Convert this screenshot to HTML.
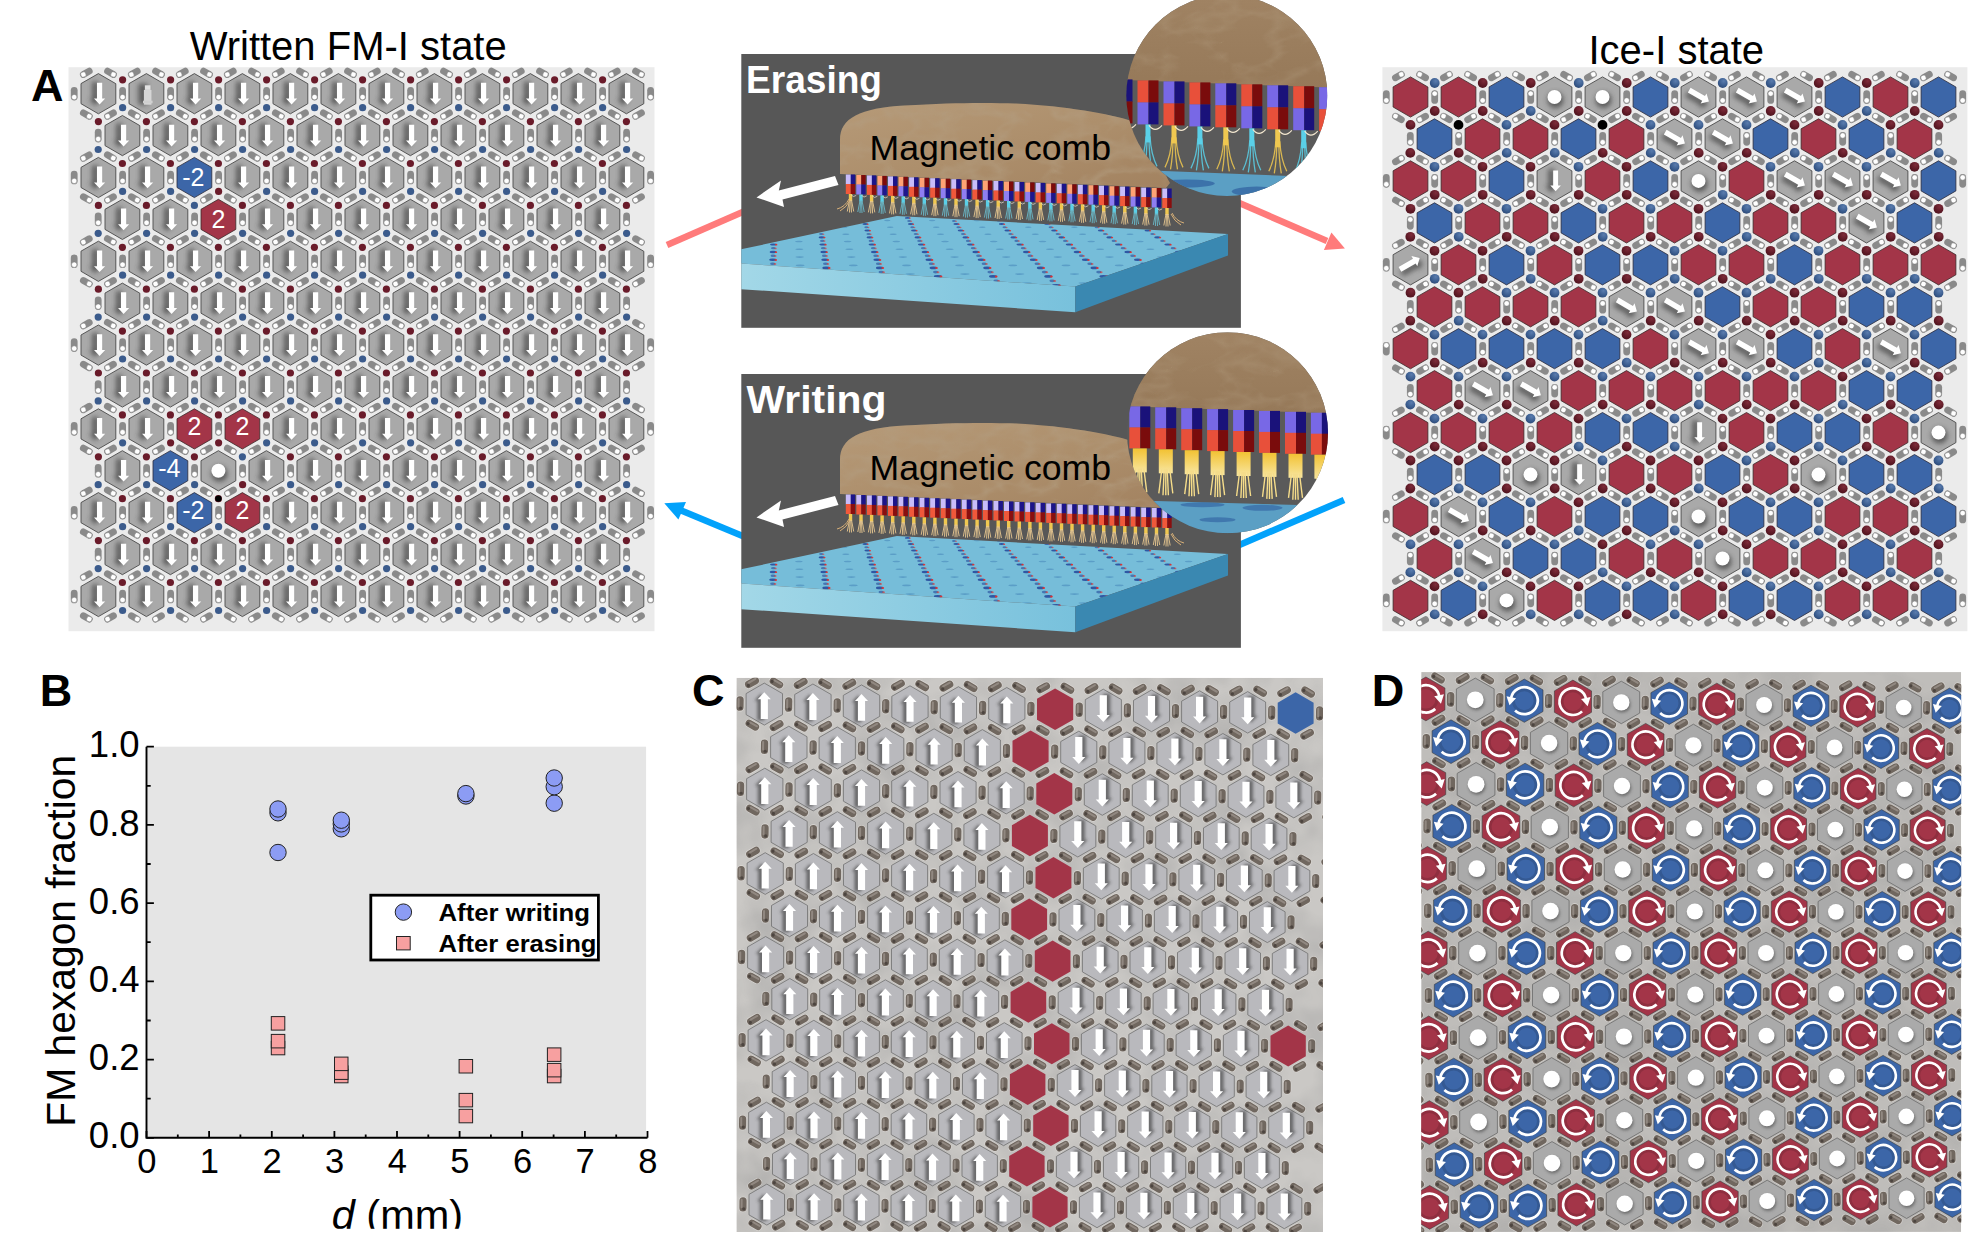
<!DOCTYPE html>
<html><head><meta charset="utf-8"><style>
html,body{margin:0;padding:0;background:#fff;width:1986px;height:1258px;overflow:hidden}
svg{display:block;font-family:"Liberation Sans", sans-serif}
</style></head><body><svg width="1986" height="1258" viewBox="0 0 1986 1258"><defs>
<filter id="blur3" x="-50%" y="-50%" width="200%" height="200%"><feGaussianBlur stdDeviation="2.6"/></filter>
<filter id="blur2" x="-50%" y="-50%" width="200%" height="200%"><feGaussianBlur stdDeviation="1.6"/></filter>
<filter id="blur1" x="-50%" y="-50%" width="200%" height="200%"><feGaussianBlur stdDeviation="0.8"/></filter>
<radialGradient id="sphR" cx="0.6" cy="0.3" r="0.8"><stop offset="0" stop-color="#7e2c3a"/><stop offset="0.6" stop-color="#5e1a26"/><stop offset="1" stop-color="#4a121c"/></radialGradient>
<radialGradient id="sphB" cx="0.6" cy="0.3" r="0.8"><stop offset="0" stop-color="#5a7cae"/><stop offset="0.6" stop-color="#3a5c8e"/><stop offset="1" stop-color="#2a4470"/></radialGradient>

<g id="cap"><rect x="-3.4" y="-6.8" width="6.8" height="13.6" rx="3.4" fill="#8a8a8a"/><circle cx="0" cy="3.4" r="2.7" fill="#fff" stroke="#777" stroke-width="0.5"/></g>
<path id="arrD" d="M-1.4 -10.9H3.8V4.9H6.8L1.2 10.8L-4.4 4.9H-1.4Z"/>
<clipPath id="hexclip"><polygon points="0,-20.1 17.4,-10 17.4,10 0,20.1 -17.4,10 -17.4,-10.1"/></clipPath>
<g id="hexG"><polygon points="0,-20.1 17.4,-10 17.4,10 0,20.1 -17.4,10 -17.4,-10.1" fill="#a9a9a9" stroke="#4a4a4a" stroke-width="0.9"/></g>
<g id="hexAD"><use href="#hexG"/><g clip-path="url(#hexclip)"><use href="#arrD" transform="translate(-4.5 0) scale(1.05 1.1)" fill="#3a3a3a" opacity="0.75" filter="url(#blur3)"/></g><use href="#arrD" fill="#fff"/></g>
<g id="hexDot"><use href="#hexG"/><g clip-path="url(#hexclip)"><circle cx="1" cy="3" r="8" fill="#3a3a3a" opacity="0.7" filter="url(#blur3)"/></g><circle cx="0" cy="0" r="7" fill="#fff"/></g>
<g id="hexR"><polygon points="0,-20.1 17.4,-10 17.4,10 0,20.1 -17.4,10 -17.4,-10.1" fill="#a33548" stroke="#3a2a2a" stroke-width="0.8"/></g>
<g id="hexB"><polygon points="0,-20.1 17.4,-10 17.4,10 0,20.1 -17.4,10 -17.4,-10.1" fill="#3c66a8" stroke="#2a2a3a" stroke-width="0.8"/></g>
<g id="hexSE"><use href="#hexG"/><g clip-path="url(#hexclip)"><use href="#arrD" transform="rotate(-60) translate(-4.5 0) scale(1.05 1.1)" fill="#3a3a3a" opacity="0.75" filter="url(#blur3)"/></g><use href="#arrD" transform="rotate(-60) scale(1.05)" fill="#fff"/></g>
<g id="hexNE"><use href="#hexG"/><g clip-path="url(#hexclip)"><use href="#arrD" transform="rotate(-120) translate(-4.5 0) scale(1.05 1.1)" fill="#3a3a3a" opacity="0.75" filter="url(#blur3)"/></g><use href="#arrD" transform="rotate(-120) scale(1.05)" fill="#fff"/></g>
<g id="hexDn"><use href="#hexG"/><g clip-path="url(#hexclip)"><use href="#arrD" transform="translate(-4.5 0) scale(1.05 1.1)" fill="#3a3a3a" opacity="0.75" filter="url(#blur3)"/></g><use href="#arrD" transform="scale(0.95)" fill="#fff"/></g>

<linearGradient id="ylG" x1="0" y1="0" x2="0" y2="1"><stop offset="0" stop-color="#f2c233"/><stop offset="1" stop-color="#f8e6a0"/></linearGradient>
<linearGradient id="frontG" x1="0" y1="0" x2="1" y2="0"><stop offset="0" stop-color="#a9dbe9"/><stop offset="1" stop-color="#78c1dc"/></linearGradient>
<linearGradient id="woodG" x1="0" y1="0" x2="1" y2="1"><stop offset="0" stop-color="#b69a78"/><stop offset="0.5" stop-color="#ad8f6c"/><stop offset="1" stop-color="#a28260"/></linearGradient>
<linearGradient id="woodG2" x1="0" y1="0" x2="0" y2="1"><stop offset="0" stop-color="#a08363"/><stop offset="1" stop-color="#967959"/></linearGradient>
<filter id="woodT" x="0" y="0" width="100%" height="100%"><feTurbulence type="turbulence" baseFrequency="0.018 0.035" numOctaves="3" seed="9"/><feColorMatrix type="matrix" values="0 0 0 0 0.45  0 0 0 0 0.34  0 0 0 0 0.22  -3 0 0 0 1.05"/><feComposite in2="SourceGraphic" operator="in"/></filter>
<clipPath id="midclip1"><rect x="741.3" y="54" width="499.6" height="273.8"/></clipPath>
<clipPath id="midclip2"><rect x="741.3" y="374" width="499.6" height="273.8"/></clipPath>

<g id="mag"><rect x="-4.3" y="-8" width="8.6" height="16" rx="4.3" fill="#e2e0dc" opacity="0.6"/><rect x="-3.6" y="-7.2" width="7.2" height="14.4" rx="3.6" fill="#70675f"/><rect x="-2.4" y="-5.6" width="2" height="9.5" rx="1" fill="#9a9189" opacity="0.8"/><circle cx="0.8" cy="4.5" r="1.6" fill="#3e3833" opacity="0.7"/></g>
<path id="arrC" d="M-3.6 14.9V-4.9H-6.55L0 -11.9L6.55 -4.9H3.6V14.9Z"/>
<filter id="photoT" x="0" y="0" width="100%" height="100%"><feTurbulence type="fractalNoise" baseFrequency="0.02" numOctaves="3" seed="11"/><feColorMatrix type="matrix" values="0 0 0 0 0.3  0 0 0 0 0.3  0 0 0 0 0.3  0 0 0 -1.6 1.0"/><feComposite in2="SourceGraphic" operator="in"/></filter>
<radialGradient id="ringShade" cx="0.5" cy="0.5" r="0.5"><stop offset="0.6" stop-color="#000" stop-opacity="0"/><stop offset="0.95" stop-color="#000" stop-opacity="0.18"/><stop offset="1" stop-color="#000" stop-opacity="0"/></radialGradient>
<g id="ccw"><circle r="10.8" fill="none" stroke="#000" stroke-opacity="0.12" stroke-width="3" /><path d="M-9.1 9.7 A13.3 13.3 0 1 0 -13 -2.8" fill="none" stroke="#fff" stroke-width="2.7"/><polygon points="-14.6,4.6 -17.5,-4.5 -8.1,-2.5" fill="#fff"/></g><g id="cw"><g transform="scale(-1 1)"><circle r="10.8" fill="none" stroke="#000" stroke-opacity="0.12" stroke-width="3" /><path d="M-9.1 9.7 A13.3 13.3 0 1 0 -13 -2.8" fill="none" stroke="#fff" stroke-width="2.7"/><polygon points="-14.6,4.6 -17.5,-4.5 -8.1,-2.5" fill="#fff"/></g></g></defs><rect x="68.5" y="67.2" width="586" height="564" fill="#ebebeb"/><use href="#cap" transform="translate(110.5 72.8) rotate(-60)"/><use href="#cap" transform="translate(122.6 93.7) rotate(0)"/><use href="#cap" transform="translate(110.5 114.6) rotate(60)"/><use href="#cap" transform="translate(86.3 114.6) rotate(-60)"/><use href="#cap" transform="translate(74.2 93.7) rotate(0)"/><use href="#cap" transform="translate(86.3 72.8) rotate(60)"/><use href="#cap" transform="translate(158.5 72.8) rotate(-60)"/><use href="#cap" transform="translate(170.6 93.7) rotate(0)"/><use href="#cap" transform="translate(158.5 114.6) rotate(60)"/><use href="#cap" transform="translate(134.3 114.6) rotate(-60)"/><use href="#cap" transform="translate(134.3 72.8) rotate(60)"/><use href="#cap" transform="translate(206.5 72.8) rotate(-60)"/><use href="#cap" transform="translate(218.6 93.7) rotate(0)"/><use href="#cap" transform="translate(206.5 114.6) rotate(60)"/><use href="#cap" transform="translate(182.3 114.6) rotate(-60)"/><use href="#cap" transform="translate(182.3 72.8) rotate(60)"/><use href="#cap" transform="translate(254.5 72.8) rotate(-60)"/><use href="#cap" transform="translate(266.6 93.7) rotate(0)"/><use href="#cap" transform="translate(254.5 114.6) rotate(60)"/><use href="#cap" transform="translate(230.3 114.6) rotate(-60)"/><use href="#cap" transform="translate(230.3 72.8) rotate(60)"/><use href="#cap" transform="translate(302.5 72.8) rotate(-60)"/><use href="#cap" transform="translate(314.6 93.7) rotate(0)"/><use href="#cap" transform="translate(302.5 114.6) rotate(60)"/><use href="#cap" transform="translate(278.3 114.6) rotate(-60)"/><use href="#cap" transform="translate(278.3 72.8) rotate(60)"/><use href="#cap" transform="translate(350.5 72.8) rotate(-60)"/><use href="#cap" transform="translate(362.6 93.7) rotate(0)"/><use href="#cap" transform="translate(350.5 114.6) rotate(60)"/><use href="#cap" transform="translate(326.3 114.6) rotate(-60)"/><use href="#cap" transform="translate(326.3 72.8) rotate(60)"/><use href="#cap" transform="translate(398.5 72.8) rotate(-60)"/><use href="#cap" transform="translate(410.6 93.7) rotate(0)"/><use href="#cap" transform="translate(398.5 114.6) rotate(60)"/><use href="#cap" transform="translate(374.3 114.6) rotate(-60)"/><use href="#cap" transform="translate(374.3 72.8) rotate(60)"/><use href="#cap" transform="translate(446.5 72.8) rotate(-60)"/><use href="#cap" transform="translate(458.6 93.7) rotate(0)"/><use href="#cap" transform="translate(446.5 114.6) rotate(60)"/><use href="#cap" transform="translate(422.3 114.6) rotate(-60)"/><use href="#cap" transform="translate(422.3 72.8) rotate(60)"/><use href="#cap" transform="translate(494.5 72.8) rotate(-60)"/><use href="#cap" transform="translate(506.6 93.7) rotate(0)"/><use href="#cap" transform="translate(494.5 114.6) rotate(60)"/><use href="#cap" transform="translate(470.3 114.6) rotate(-60)"/><use href="#cap" transform="translate(470.3 72.8) rotate(60)"/><use href="#cap" transform="translate(542.5 72.8) rotate(-60)"/><use href="#cap" transform="translate(554.6 93.7) rotate(0)"/><use href="#cap" transform="translate(542.5 114.6) rotate(60)"/><use href="#cap" transform="translate(518.3 114.6) rotate(-60)"/><use href="#cap" transform="translate(518.3 72.8) rotate(60)"/><use href="#cap" transform="translate(590.5 72.8) rotate(-60)"/><use href="#cap" transform="translate(602.6 93.7) rotate(0)"/><use href="#cap" transform="translate(590.5 114.6) rotate(60)"/><use href="#cap" transform="translate(566.3 114.6) rotate(-60)"/><use href="#cap" transform="translate(566.3 72.8) rotate(60)"/><use href="#cap" transform="translate(638.5 72.8) rotate(-60)"/><use href="#cap" transform="translate(650.6 93.7) rotate(0)"/><use href="#cap" transform="translate(638.5 114.6) rotate(60)"/><use href="#cap" transform="translate(614.3 114.6) rotate(-60)"/><use href="#cap" transform="translate(614.3 72.8) rotate(60)"/><use href="#cap" transform="translate(146.6 135.6) rotate(0)"/><use href="#cap" transform="translate(134.5 156.5) rotate(60)"/><use href="#cap" transform="translate(110.3 156.5) rotate(-60)"/><use href="#cap" transform="translate(98.2 135.6) rotate(0)"/><use href="#cap" transform="translate(194.6 135.6) rotate(0)"/><use href="#cap" transform="translate(182.5 156.5) rotate(60)"/><use href="#cap" transform="translate(158.3 156.5) rotate(-60)"/><use href="#cap" transform="translate(242.6 135.6) rotate(0)"/><use href="#cap" transform="translate(230.5 156.5) rotate(60)"/><use href="#cap" transform="translate(206.3 156.5) rotate(-60)"/><use href="#cap" transform="translate(290.6 135.6) rotate(0)"/><use href="#cap" transform="translate(278.5 156.5) rotate(60)"/><use href="#cap" transform="translate(254.3 156.5) rotate(-60)"/><use href="#cap" transform="translate(338.6 135.6) rotate(0)"/><use href="#cap" transform="translate(326.5 156.5) rotate(60)"/><use href="#cap" transform="translate(302.3 156.5) rotate(-60)"/><use href="#cap" transform="translate(386.6 135.6) rotate(0)"/><use href="#cap" transform="translate(374.5 156.5) rotate(60)"/><use href="#cap" transform="translate(350.3 156.5) rotate(-60)"/><use href="#cap" transform="translate(434.6 135.6) rotate(0)"/><use href="#cap" transform="translate(422.5 156.5) rotate(60)"/><use href="#cap" transform="translate(398.3 156.5) rotate(-60)"/><use href="#cap" transform="translate(482.6 135.6) rotate(0)"/><use href="#cap" transform="translate(470.5 156.5) rotate(60)"/><use href="#cap" transform="translate(446.3 156.5) rotate(-60)"/><use href="#cap" transform="translate(530.6 135.6) rotate(0)"/><use href="#cap" transform="translate(518.5 156.5) rotate(60)"/><use href="#cap" transform="translate(494.3 156.5) rotate(-60)"/><use href="#cap" transform="translate(578.6 135.6) rotate(0)"/><use href="#cap" transform="translate(566.5 156.5) rotate(60)"/><use href="#cap" transform="translate(542.3 156.5) rotate(-60)"/><use href="#cap" transform="translate(626.6 135.6) rotate(0)"/><use href="#cap" transform="translate(614.5 156.5) rotate(60)"/><use href="#cap" transform="translate(590.3 156.5) rotate(-60)"/><use href="#cap" transform="translate(122.6 177.5) rotate(0)"/><use href="#cap" transform="translate(110.5 198.4) rotate(60)"/><use href="#cap" transform="translate(86.3 198.4) rotate(-60)"/><use href="#cap" transform="translate(74.2 177.5) rotate(0)"/><use href="#cap" transform="translate(86.3 156.6) rotate(60)"/><use href="#cap" transform="translate(170.6 177.5) rotate(0)"/><use href="#cap" transform="translate(158.5 198.4) rotate(60)"/><use href="#cap" transform="translate(134.3 198.4) rotate(-60)"/><use href="#cap" transform="translate(218.6 177.5) rotate(0)"/><use href="#cap" transform="translate(206.5 198.4) rotate(60)"/><use href="#cap" transform="translate(182.3 198.4) rotate(-60)"/><use href="#cap" transform="translate(266.6 177.5) rotate(0)"/><use href="#cap" transform="translate(254.5 198.4) rotate(60)"/><use href="#cap" transform="translate(230.3 198.4) rotate(-60)"/><use href="#cap" transform="translate(314.6 177.5) rotate(0)"/><use href="#cap" transform="translate(302.5 198.4) rotate(60)"/><use href="#cap" transform="translate(278.3 198.4) rotate(-60)"/><use href="#cap" transform="translate(362.6 177.5) rotate(0)"/><use href="#cap" transform="translate(350.5 198.4) rotate(60)"/><use href="#cap" transform="translate(326.3 198.4) rotate(-60)"/><use href="#cap" transform="translate(410.6 177.5) rotate(0)"/><use href="#cap" transform="translate(398.5 198.4) rotate(60)"/><use href="#cap" transform="translate(374.3 198.4) rotate(-60)"/><use href="#cap" transform="translate(458.6 177.5) rotate(0)"/><use href="#cap" transform="translate(446.5 198.4) rotate(60)"/><use href="#cap" transform="translate(422.3 198.4) rotate(-60)"/><use href="#cap" transform="translate(506.6 177.5) rotate(0)"/><use href="#cap" transform="translate(494.5 198.4) rotate(60)"/><use href="#cap" transform="translate(470.3 198.4) rotate(-60)"/><use href="#cap" transform="translate(554.6 177.5) rotate(0)"/><use href="#cap" transform="translate(542.5 198.4) rotate(60)"/><use href="#cap" transform="translate(518.3 198.4) rotate(-60)"/><use href="#cap" transform="translate(602.6 177.5) rotate(0)"/><use href="#cap" transform="translate(590.5 198.4) rotate(60)"/><use href="#cap" transform="translate(566.3 198.4) rotate(-60)"/><use href="#cap" transform="translate(638.5 156.6) rotate(-60)"/><use href="#cap" transform="translate(650.6 177.5) rotate(0)"/><use href="#cap" transform="translate(638.5 198.4) rotate(60)"/><use href="#cap" transform="translate(614.3 198.4) rotate(-60)"/><use href="#cap" transform="translate(146.6 219.4) rotate(0)"/><use href="#cap" transform="translate(134.5 240.3) rotate(60)"/><use href="#cap" transform="translate(110.3 240.3) rotate(-60)"/><use href="#cap" transform="translate(98.2 219.4) rotate(0)"/><use href="#cap" transform="translate(194.6 219.4) rotate(0)"/><use href="#cap" transform="translate(182.5 240.3) rotate(60)"/><use href="#cap" transform="translate(158.3 240.3) rotate(-60)"/><use href="#cap" transform="translate(242.6 219.4) rotate(0)"/><use href="#cap" transform="translate(230.5 240.3) rotate(60)"/><use href="#cap" transform="translate(206.3 240.3) rotate(-60)"/><use href="#cap" transform="translate(290.6 219.4) rotate(0)"/><use href="#cap" transform="translate(278.5 240.3) rotate(60)"/><use href="#cap" transform="translate(254.3 240.3) rotate(-60)"/><use href="#cap" transform="translate(338.6 219.4) rotate(0)"/><use href="#cap" transform="translate(326.5 240.3) rotate(60)"/><use href="#cap" transform="translate(302.3 240.3) rotate(-60)"/><use href="#cap" transform="translate(386.6 219.4) rotate(0)"/><use href="#cap" transform="translate(374.5 240.3) rotate(60)"/><use href="#cap" transform="translate(350.3 240.3) rotate(-60)"/><use href="#cap" transform="translate(434.6 219.4) rotate(0)"/><use href="#cap" transform="translate(422.5 240.3) rotate(60)"/><use href="#cap" transform="translate(398.3 240.3) rotate(-60)"/><use href="#cap" transform="translate(482.6 219.4) rotate(0)"/><use href="#cap" transform="translate(470.5 240.3) rotate(60)"/><use href="#cap" transform="translate(446.3 240.3) rotate(-60)"/><use href="#cap" transform="translate(530.6 219.4) rotate(0)"/><use href="#cap" transform="translate(518.5 240.3) rotate(60)"/><use href="#cap" transform="translate(494.3 240.3) rotate(-60)"/><use href="#cap" transform="translate(578.6 219.4) rotate(0)"/><use href="#cap" transform="translate(566.5 240.3) rotate(60)"/><use href="#cap" transform="translate(542.3 240.3) rotate(-60)"/><use href="#cap" transform="translate(626.6 219.4) rotate(0)"/><use href="#cap" transform="translate(614.5 240.3) rotate(60)"/><use href="#cap" transform="translate(590.3 240.3) rotate(-60)"/><use href="#cap" transform="translate(122.6 261.3) rotate(0)"/><use href="#cap" transform="translate(110.5 282.2) rotate(60)"/><use href="#cap" transform="translate(86.3 282.2) rotate(-60)"/><use href="#cap" transform="translate(74.2 261.3) rotate(0)"/><use href="#cap" transform="translate(86.3 240.4) rotate(60)"/><use href="#cap" transform="translate(170.6 261.3) rotate(0)"/><use href="#cap" transform="translate(158.5 282.2) rotate(60)"/><use href="#cap" transform="translate(134.3 282.2) rotate(-60)"/><use href="#cap" transform="translate(218.6 261.3) rotate(0)"/><use href="#cap" transform="translate(206.5 282.2) rotate(60)"/><use href="#cap" transform="translate(182.3 282.2) rotate(-60)"/><use href="#cap" transform="translate(266.6 261.3) rotate(0)"/><use href="#cap" transform="translate(254.5 282.2) rotate(60)"/><use href="#cap" transform="translate(230.3 282.2) rotate(-60)"/><use href="#cap" transform="translate(314.6 261.3) rotate(0)"/><use href="#cap" transform="translate(302.5 282.2) rotate(60)"/><use href="#cap" transform="translate(278.3 282.2) rotate(-60)"/><use href="#cap" transform="translate(362.6 261.3) rotate(0)"/><use href="#cap" transform="translate(350.5 282.2) rotate(60)"/><use href="#cap" transform="translate(326.3 282.2) rotate(-60)"/><use href="#cap" transform="translate(410.6 261.3) rotate(0)"/><use href="#cap" transform="translate(398.5 282.2) rotate(60)"/><use href="#cap" transform="translate(374.3 282.2) rotate(-60)"/><use href="#cap" transform="translate(458.6 261.3) rotate(0)"/><use href="#cap" transform="translate(446.5 282.2) rotate(60)"/><use href="#cap" transform="translate(422.3 282.2) rotate(-60)"/><use href="#cap" transform="translate(506.6 261.3) rotate(0)"/><use href="#cap" transform="translate(494.5 282.2) rotate(60)"/><use href="#cap" transform="translate(470.3 282.2) rotate(-60)"/><use href="#cap" transform="translate(554.6 261.3) rotate(0)"/><use href="#cap" transform="translate(542.5 282.2) rotate(60)"/><use href="#cap" transform="translate(518.3 282.2) rotate(-60)"/><use href="#cap" transform="translate(602.6 261.3) rotate(0)"/><use href="#cap" transform="translate(590.5 282.2) rotate(60)"/><use href="#cap" transform="translate(566.3 282.2) rotate(-60)"/><use href="#cap" transform="translate(638.5 240.4) rotate(-60)"/><use href="#cap" transform="translate(650.6 261.3) rotate(0)"/><use href="#cap" transform="translate(638.5 282.2) rotate(60)"/><use href="#cap" transform="translate(614.3 282.2) rotate(-60)"/><use href="#cap" transform="translate(146.6 303.2) rotate(0)"/><use href="#cap" transform="translate(134.5 324.1) rotate(60)"/><use href="#cap" transform="translate(110.3 324.1) rotate(-60)"/><use href="#cap" transform="translate(98.2 303.2) rotate(0)"/><use href="#cap" transform="translate(194.6 303.2) rotate(0)"/><use href="#cap" transform="translate(182.5 324.1) rotate(60)"/><use href="#cap" transform="translate(158.3 324.1) rotate(-60)"/><use href="#cap" transform="translate(242.6 303.2) rotate(0)"/><use href="#cap" transform="translate(230.5 324.1) rotate(60)"/><use href="#cap" transform="translate(206.3 324.1) rotate(-60)"/><use href="#cap" transform="translate(290.6 303.2) rotate(0)"/><use href="#cap" transform="translate(278.5 324.1) rotate(60)"/><use href="#cap" transform="translate(254.3 324.1) rotate(-60)"/><use href="#cap" transform="translate(338.6 303.2) rotate(0)"/><use href="#cap" transform="translate(326.5 324.1) rotate(60)"/><use href="#cap" transform="translate(302.3 324.1) rotate(-60)"/><use href="#cap" transform="translate(386.6 303.2) rotate(0)"/><use href="#cap" transform="translate(374.5 324.1) rotate(60)"/><use href="#cap" transform="translate(350.3 324.1) rotate(-60)"/><use href="#cap" transform="translate(434.6 303.2) rotate(0)"/><use href="#cap" transform="translate(422.5 324.1) rotate(60)"/><use href="#cap" transform="translate(398.3 324.1) rotate(-60)"/><use href="#cap" transform="translate(482.6 303.2) rotate(0)"/><use href="#cap" transform="translate(470.5 324.1) rotate(60)"/><use href="#cap" transform="translate(446.3 324.1) rotate(-60)"/><use href="#cap" transform="translate(530.6 303.2) rotate(0)"/><use href="#cap" transform="translate(518.5 324.1) rotate(60)"/><use href="#cap" transform="translate(494.3 324.1) rotate(-60)"/><use href="#cap" transform="translate(578.6 303.2) rotate(0)"/><use href="#cap" transform="translate(566.5 324.1) rotate(60)"/><use href="#cap" transform="translate(542.3 324.1) rotate(-60)"/><use href="#cap" transform="translate(626.6 303.2) rotate(0)"/><use href="#cap" transform="translate(614.5 324.1) rotate(60)"/><use href="#cap" transform="translate(590.3 324.1) rotate(-60)"/><use href="#cap" transform="translate(122.6 345.1) rotate(0)"/><use href="#cap" transform="translate(110.5 366) rotate(60)"/><use href="#cap" transform="translate(86.3 366) rotate(-60)"/><use href="#cap" transform="translate(74.2 345.1) rotate(0)"/><use href="#cap" transform="translate(86.3 324.2) rotate(60)"/><use href="#cap" transform="translate(170.6 345.1) rotate(0)"/><use href="#cap" transform="translate(158.5 366) rotate(60)"/><use href="#cap" transform="translate(134.3 366) rotate(-60)"/><use href="#cap" transform="translate(218.6 345.1) rotate(0)"/><use href="#cap" transform="translate(206.5 366) rotate(60)"/><use href="#cap" transform="translate(182.3 366) rotate(-60)"/><use href="#cap" transform="translate(266.6 345.1) rotate(0)"/><use href="#cap" transform="translate(254.5 366) rotate(60)"/><use href="#cap" transform="translate(230.3 366) rotate(-60)"/><use href="#cap" transform="translate(314.6 345.1) rotate(0)"/><use href="#cap" transform="translate(302.5 366) rotate(60)"/><use href="#cap" transform="translate(278.3 366) rotate(-60)"/><use href="#cap" transform="translate(362.6 345.1) rotate(0)"/><use href="#cap" transform="translate(350.5 366) rotate(60)"/><use href="#cap" transform="translate(326.3 366) rotate(-60)"/><use href="#cap" transform="translate(410.6 345.1) rotate(0)"/><use href="#cap" transform="translate(398.5 366) rotate(60)"/><use href="#cap" transform="translate(374.3 366) rotate(-60)"/><use href="#cap" transform="translate(458.6 345.1) rotate(0)"/><use href="#cap" transform="translate(446.5 366) rotate(60)"/><use href="#cap" transform="translate(422.3 366) rotate(-60)"/><use href="#cap" transform="translate(506.6 345.1) rotate(0)"/><use href="#cap" transform="translate(494.5 366) rotate(60)"/><use href="#cap" transform="translate(470.3 366) rotate(-60)"/><use href="#cap" transform="translate(554.6 345.1) rotate(0)"/><use href="#cap" transform="translate(542.5 366) rotate(60)"/><use href="#cap" transform="translate(518.3 366) rotate(-60)"/><use href="#cap" transform="translate(602.6 345.1) rotate(0)"/><use href="#cap" transform="translate(590.5 366) rotate(60)"/><use href="#cap" transform="translate(566.3 366) rotate(-60)"/><use href="#cap" transform="translate(638.5 324.2) rotate(-60)"/><use href="#cap" transform="translate(650.6 345.1) rotate(0)"/><use href="#cap" transform="translate(638.5 366) rotate(60)"/><use href="#cap" transform="translate(614.3 366) rotate(-60)"/><use href="#cap" transform="translate(146.6 387) rotate(0)"/><use href="#cap" transform="translate(134.5 407.9) rotate(60)"/><use href="#cap" transform="translate(110.3 407.9) rotate(-60)"/><use href="#cap" transform="translate(98.2 387) rotate(0)"/><use href="#cap" transform="translate(194.6 387) rotate(0)"/><use href="#cap" transform="translate(182.5 407.9) rotate(60)"/><use href="#cap" transform="translate(158.3 407.9) rotate(-60)"/><use href="#cap" transform="translate(242.6 387) rotate(0)"/><use href="#cap" transform="translate(230.5 407.9) rotate(60)"/><use href="#cap" transform="translate(206.3 407.9) rotate(-60)"/><use href="#cap" transform="translate(290.6 387) rotate(0)"/><use href="#cap" transform="translate(278.5 407.9) rotate(60)"/><use href="#cap" transform="translate(254.3 407.9) rotate(-60)"/><use href="#cap" transform="translate(338.6 387) rotate(0)"/><use href="#cap" transform="translate(326.5 407.9) rotate(60)"/><use href="#cap" transform="translate(302.3 407.9) rotate(-60)"/><use href="#cap" transform="translate(386.6 387) rotate(0)"/><use href="#cap" transform="translate(374.5 407.9) rotate(60)"/><use href="#cap" transform="translate(350.3 407.9) rotate(-60)"/><use href="#cap" transform="translate(434.6 387) rotate(0)"/><use href="#cap" transform="translate(422.5 407.9) rotate(60)"/><use href="#cap" transform="translate(398.3 407.9) rotate(-60)"/><use href="#cap" transform="translate(482.6 387) rotate(0)"/><use href="#cap" transform="translate(470.5 407.9) rotate(60)"/><use href="#cap" transform="translate(446.3 407.9) rotate(-60)"/><use href="#cap" transform="translate(530.6 387) rotate(0)"/><use href="#cap" transform="translate(518.5 407.9) rotate(60)"/><use href="#cap" transform="translate(494.3 407.9) rotate(-60)"/><use href="#cap" transform="translate(578.6 387) rotate(0)"/><use href="#cap" transform="translate(566.5 407.9) rotate(60)"/><use href="#cap" transform="translate(542.3 407.9) rotate(-60)"/><use href="#cap" transform="translate(626.6 387) rotate(0)"/><use href="#cap" transform="translate(614.5 407.9) rotate(60)"/><use href="#cap" transform="translate(590.3 407.9) rotate(-60)"/><use href="#cap" transform="translate(122.6 428.9) rotate(0)"/><use href="#cap" transform="translate(110.5 449.8) rotate(60)"/><use href="#cap" transform="translate(86.3 449.8) rotate(-60)"/><use href="#cap" transform="translate(74.2 428.9) rotate(0)"/><use href="#cap" transform="translate(86.3 408) rotate(60)"/><use href="#cap" transform="translate(170.6 428.9) rotate(0)"/><use href="#cap" transform="translate(158.5 449.8) rotate(60)"/><use href="#cap" transform="translate(134.3 449.8) rotate(-60)"/><use href="#cap" transform="translate(218.6 428.9) rotate(0)"/><use href="#cap" transform="translate(206.5 449.8) rotate(60)"/><use href="#cap" transform="translate(182.3 449.8) rotate(-60)"/><use href="#cap" transform="translate(266.6 428.9) rotate(0)"/><use href="#cap" transform="translate(254.5 449.8) rotate(60)"/><use href="#cap" transform="translate(230.3 449.8) rotate(-60)"/><use href="#cap" transform="translate(314.6 428.9) rotate(0)"/><use href="#cap" transform="translate(302.5 449.8) rotate(60)"/><use href="#cap" transform="translate(278.3 449.8) rotate(-60)"/><use href="#cap" transform="translate(362.6 428.9) rotate(0)"/><use href="#cap" transform="translate(350.5 449.8) rotate(60)"/><use href="#cap" transform="translate(326.3 449.8) rotate(-60)"/><use href="#cap" transform="translate(410.6 428.9) rotate(0)"/><use href="#cap" transform="translate(398.5 449.8) rotate(60)"/><use href="#cap" transform="translate(374.3 449.8) rotate(-60)"/><use href="#cap" transform="translate(458.6 428.9) rotate(0)"/><use href="#cap" transform="translate(446.5 449.8) rotate(60)"/><use href="#cap" transform="translate(422.3 449.8) rotate(-60)"/><use href="#cap" transform="translate(506.6 428.9) rotate(0)"/><use href="#cap" transform="translate(494.5 449.8) rotate(60)"/><use href="#cap" transform="translate(470.3 449.8) rotate(-60)"/><use href="#cap" transform="translate(554.6 428.9) rotate(0)"/><use href="#cap" transform="translate(542.5 449.8) rotate(60)"/><use href="#cap" transform="translate(518.3 449.8) rotate(-60)"/><use href="#cap" transform="translate(602.6 428.9) rotate(0)"/><use href="#cap" transform="translate(590.5 449.8) rotate(60)"/><use href="#cap" transform="translate(566.3 449.8) rotate(-60)"/><use href="#cap" transform="translate(638.5 408) rotate(-60)"/><use href="#cap" transform="translate(650.6 428.9) rotate(0)"/><use href="#cap" transform="translate(638.5 449.8) rotate(60)"/><use href="#cap" transform="translate(614.3 449.8) rotate(-60)"/><use href="#cap" transform="translate(146.6 470.8) rotate(0)"/><use href="#cap" transform="translate(134.5 491.7) rotate(60)"/><use href="#cap" transform="translate(110.3 491.7) rotate(-60)"/><use href="#cap" transform="translate(98.2 470.8) rotate(0)"/><use href="#cap" transform="translate(194.6 470.8) rotate(0)"/><use href="#cap" transform="translate(182.5 491.7) rotate(60)"/><use href="#cap" transform="translate(158.3 491.7) rotate(-60)"/><use href="#cap" transform="translate(242.6 470.8) rotate(0)"/><use href="#cap" transform="translate(230.5 491.7) rotate(60)"/><use href="#cap" transform="translate(206.3 491.7) rotate(-60)"/><use href="#cap" transform="translate(290.6 470.8) rotate(0)"/><use href="#cap" transform="translate(278.5 491.7) rotate(60)"/><use href="#cap" transform="translate(254.3 491.7) rotate(-60)"/><use href="#cap" transform="translate(338.6 470.8) rotate(0)"/><use href="#cap" transform="translate(326.5 491.7) rotate(60)"/><use href="#cap" transform="translate(302.3 491.7) rotate(-60)"/><use href="#cap" transform="translate(386.6 470.8) rotate(0)"/><use href="#cap" transform="translate(374.5 491.7) rotate(60)"/><use href="#cap" transform="translate(350.3 491.7) rotate(-60)"/><use href="#cap" transform="translate(434.6 470.8) rotate(0)"/><use href="#cap" transform="translate(422.5 491.7) rotate(60)"/><use href="#cap" transform="translate(398.3 491.7) rotate(-60)"/><use href="#cap" transform="translate(482.6 470.8) rotate(0)"/><use href="#cap" transform="translate(470.5 491.7) rotate(60)"/><use href="#cap" transform="translate(446.3 491.7) rotate(-60)"/><use href="#cap" transform="translate(530.6 470.8) rotate(0)"/><use href="#cap" transform="translate(518.5 491.7) rotate(60)"/><use href="#cap" transform="translate(494.3 491.7) rotate(-60)"/><use href="#cap" transform="translate(578.6 470.8) rotate(0)"/><use href="#cap" transform="translate(566.5 491.7) rotate(60)"/><use href="#cap" transform="translate(542.3 491.7) rotate(-60)"/><use href="#cap" transform="translate(626.6 470.8) rotate(0)"/><use href="#cap" transform="translate(614.5 491.7) rotate(60)"/><use href="#cap" transform="translate(590.3 491.7) rotate(-60)"/><use href="#cap" transform="translate(122.6 512.7) rotate(0)"/><use href="#cap" transform="translate(110.5 533.6) rotate(60)"/><use href="#cap" transform="translate(86.3 533.6) rotate(-60)"/><use href="#cap" transform="translate(74.2 512.7) rotate(0)"/><use href="#cap" transform="translate(86.3 491.8) rotate(60)"/><use href="#cap" transform="translate(170.6 512.7) rotate(0)"/><use href="#cap" transform="translate(158.5 533.6) rotate(60)"/><use href="#cap" transform="translate(134.3 533.6) rotate(-60)"/><use href="#cap" transform="translate(218.6 512.7) rotate(0)"/><use href="#cap" transform="translate(206.5 533.6) rotate(60)"/><use href="#cap" transform="translate(182.3 533.6) rotate(-60)"/><use href="#cap" transform="translate(266.6 512.7) rotate(0)"/><use href="#cap" transform="translate(254.5 533.6) rotate(60)"/><use href="#cap" transform="translate(230.3 533.6) rotate(-60)"/><use href="#cap" transform="translate(314.6 512.7) rotate(0)"/><use href="#cap" transform="translate(302.5 533.6) rotate(60)"/><use href="#cap" transform="translate(278.3 533.6) rotate(-60)"/><use href="#cap" transform="translate(362.6 512.7) rotate(0)"/><use href="#cap" transform="translate(350.5 533.6) rotate(60)"/><use href="#cap" transform="translate(326.3 533.6) rotate(-60)"/><use href="#cap" transform="translate(410.6 512.7) rotate(0)"/><use href="#cap" transform="translate(398.5 533.6) rotate(60)"/><use href="#cap" transform="translate(374.3 533.6) rotate(-60)"/><use href="#cap" transform="translate(458.6 512.7) rotate(0)"/><use href="#cap" transform="translate(446.5 533.6) rotate(60)"/><use href="#cap" transform="translate(422.3 533.6) rotate(-60)"/><use href="#cap" transform="translate(506.6 512.7) rotate(0)"/><use href="#cap" transform="translate(494.5 533.6) rotate(60)"/><use href="#cap" transform="translate(470.3 533.6) rotate(-60)"/><use href="#cap" transform="translate(554.6 512.7) rotate(0)"/><use href="#cap" transform="translate(542.5 533.6) rotate(60)"/><use href="#cap" transform="translate(518.3 533.6) rotate(-60)"/><use href="#cap" transform="translate(602.6 512.7) rotate(0)"/><use href="#cap" transform="translate(590.5 533.6) rotate(60)"/><use href="#cap" transform="translate(566.3 533.6) rotate(-60)"/><use href="#cap" transform="translate(638.5 491.8) rotate(-60)"/><use href="#cap" transform="translate(650.6 512.7) rotate(0)"/><use href="#cap" transform="translate(638.5 533.6) rotate(60)"/><use href="#cap" transform="translate(614.3 533.6) rotate(-60)"/><use href="#cap" transform="translate(146.6 554.6) rotate(0)"/><use href="#cap" transform="translate(134.5 575.5) rotate(60)"/><use href="#cap" transform="translate(110.3 575.5) rotate(-60)"/><use href="#cap" transform="translate(98.2 554.6) rotate(0)"/><use href="#cap" transform="translate(194.6 554.6) rotate(0)"/><use href="#cap" transform="translate(182.5 575.5) rotate(60)"/><use href="#cap" transform="translate(158.3 575.5) rotate(-60)"/><use href="#cap" transform="translate(242.6 554.6) rotate(0)"/><use href="#cap" transform="translate(230.5 575.5) rotate(60)"/><use href="#cap" transform="translate(206.3 575.5) rotate(-60)"/><use href="#cap" transform="translate(290.6 554.6) rotate(0)"/><use href="#cap" transform="translate(278.5 575.5) rotate(60)"/><use href="#cap" transform="translate(254.3 575.5) rotate(-60)"/><use href="#cap" transform="translate(338.6 554.6) rotate(0)"/><use href="#cap" transform="translate(326.5 575.5) rotate(60)"/><use href="#cap" transform="translate(302.3 575.5) rotate(-60)"/><use href="#cap" transform="translate(386.6 554.6) rotate(0)"/><use href="#cap" transform="translate(374.5 575.5) rotate(60)"/><use href="#cap" transform="translate(350.3 575.5) rotate(-60)"/><use href="#cap" transform="translate(434.6 554.6) rotate(0)"/><use href="#cap" transform="translate(422.5 575.5) rotate(60)"/><use href="#cap" transform="translate(398.3 575.5) rotate(-60)"/><use href="#cap" transform="translate(482.6 554.6) rotate(0)"/><use href="#cap" transform="translate(470.5 575.5) rotate(60)"/><use href="#cap" transform="translate(446.3 575.5) rotate(-60)"/><use href="#cap" transform="translate(530.6 554.6) rotate(0)"/><use href="#cap" transform="translate(518.5 575.5) rotate(60)"/><use href="#cap" transform="translate(494.3 575.5) rotate(-60)"/><use href="#cap" transform="translate(578.6 554.6) rotate(0)"/><use href="#cap" transform="translate(566.5 575.5) rotate(60)"/><use href="#cap" transform="translate(542.3 575.5) rotate(-60)"/><use href="#cap" transform="translate(626.6 554.6) rotate(0)"/><use href="#cap" transform="translate(614.5 575.5) rotate(60)"/><use href="#cap" transform="translate(590.3 575.5) rotate(-60)"/><use href="#cap" transform="translate(122.6 596.5) rotate(0)"/><use href="#cap" transform="translate(110.5 617.4) rotate(60)"/><use href="#cap" transform="translate(86.3 617.4) rotate(-60)"/><use href="#cap" transform="translate(74.2 596.5) rotate(0)"/><use href="#cap" transform="translate(86.3 575.6) rotate(60)"/><use href="#cap" transform="translate(170.6 596.5) rotate(0)"/><use href="#cap" transform="translate(158.5 617.4) rotate(60)"/><use href="#cap" transform="translate(134.3 617.4) rotate(-60)"/><use href="#cap" transform="translate(218.6 596.5) rotate(0)"/><use href="#cap" transform="translate(206.5 617.4) rotate(60)"/><use href="#cap" transform="translate(182.3 617.4) rotate(-60)"/><use href="#cap" transform="translate(266.6 596.5) rotate(0)"/><use href="#cap" transform="translate(254.5 617.4) rotate(60)"/><use href="#cap" transform="translate(230.3 617.4) rotate(-60)"/><use href="#cap" transform="translate(314.6 596.5) rotate(0)"/><use href="#cap" transform="translate(302.5 617.4) rotate(60)"/><use href="#cap" transform="translate(278.3 617.4) rotate(-60)"/><use href="#cap" transform="translate(362.6 596.5) rotate(0)"/><use href="#cap" transform="translate(350.5 617.4) rotate(60)"/><use href="#cap" transform="translate(326.3 617.4) rotate(-60)"/><use href="#cap" transform="translate(410.6 596.5) rotate(0)"/><use href="#cap" transform="translate(398.5 617.4) rotate(60)"/><use href="#cap" transform="translate(374.3 617.4) rotate(-60)"/><use href="#cap" transform="translate(458.6 596.5) rotate(0)"/><use href="#cap" transform="translate(446.5 617.4) rotate(60)"/><use href="#cap" transform="translate(422.3 617.4) rotate(-60)"/><use href="#cap" transform="translate(506.6 596.5) rotate(0)"/><use href="#cap" transform="translate(494.5 617.4) rotate(60)"/><use href="#cap" transform="translate(470.3 617.4) rotate(-60)"/><use href="#cap" transform="translate(554.6 596.5) rotate(0)"/><use href="#cap" transform="translate(542.5 617.4) rotate(60)"/><use href="#cap" transform="translate(518.3 617.4) rotate(-60)"/><use href="#cap" transform="translate(602.6 596.5) rotate(0)"/><use href="#cap" transform="translate(590.5 617.4) rotate(60)"/><use href="#cap" transform="translate(566.3 617.4) rotate(-60)"/><use href="#cap" transform="translate(638.5 575.6) rotate(-60)"/><use href="#cap" transform="translate(650.6 596.5) rotate(0)"/><use href="#cap" transform="translate(638.5 617.4) rotate(60)"/><use href="#cap" transform="translate(614.3 617.4) rotate(-60)"/><circle cx="122.6" cy="79.8" r="3.6" fill="#6a1b2a"/><circle cx="122.6" cy="107.7" r="3.6" fill="#3b5b8c"/><circle cx="98.4" cy="121.6" r="3.6" fill="#6a1b2a"/><circle cx="170.6" cy="79.8" r="3.6" fill="#6a1b2a"/><circle cx="170.6" cy="107.7" r="3.6" fill="#3b5b8c"/><circle cx="146.4" cy="121.6" r="3.6" fill="#6a1b2a"/><circle cx="218.6" cy="79.8" r="3.6" fill="#6a1b2a"/><circle cx="218.6" cy="107.7" r="3.6" fill="#3b5b8c"/><circle cx="194.4" cy="121.6" r="3.6" fill="#6a1b2a"/><circle cx="266.6" cy="79.8" r="3.6" fill="#6a1b2a"/><circle cx="266.6" cy="107.7" r="3.6" fill="#3b5b8c"/><circle cx="242.4" cy="121.6" r="3.6" fill="#6a1b2a"/><circle cx="314.6" cy="79.8" r="3.6" fill="#6a1b2a"/><circle cx="314.6" cy="107.7" r="3.6" fill="#3b5b8c"/><circle cx="290.4" cy="121.6" r="3.6" fill="#6a1b2a"/><circle cx="362.6" cy="79.8" r="3.6" fill="#6a1b2a"/><circle cx="362.6" cy="107.7" r="3.6" fill="#3b5b8c"/><circle cx="338.4" cy="121.6" r="3.6" fill="#6a1b2a"/><circle cx="410.6" cy="79.8" r="3.6" fill="#6a1b2a"/><circle cx="410.6" cy="107.7" r="3.6" fill="#3b5b8c"/><circle cx="386.4" cy="121.6" r="3.6" fill="#6a1b2a"/><circle cx="458.6" cy="79.8" r="3.6" fill="#6a1b2a"/><circle cx="458.6" cy="107.7" r="3.6" fill="#3b5b8c"/><circle cx="434.4" cy="121.6" r="3.6" fill="#6a1b2a"/><circle cx="506.6" cy="79.8" r="3.6" fill="#6a1b2a"/><circle cx="506.6" cy="107.7" r="3.6" fill="#3b5b8c"/><circle cx="482.4" cy="121.6" r="3.6" fill="#6a1b2a"/><circle cx="554.6" cy="79.8" r="3.6" fill="#6a1b2a"/><circle cx="554.6" cy="107.7" r="3.6" fill="#3b5b8c"/><circle cx="530.4" cy="121.6" r="3.6" fill="#6a1b2a"/><circle cx="602.6" cy="79.8" r="3.6" fill="#6a1b2a"/><circle cx="602.6" cy="107.7" r="3.6" fill="#3b5b8c"/><circle cx="578.4" cy="121.6" r="3.6" fill="#6a1b2a"/><circle cx="626.4" cy="121.6" r="3.6" fill="#6a1b2a"/><circle cx="146.6" cy="149.5" r="3.6" fill="#3b5b8c"/><circle cx="122.4" cy="163.5" r="3.6" fill="#6a1b2a"/><circle cx="98.2" cy="149.5" r="3.6" fill="#3b5b8c"/><circle cx="194.6" cy="149.5" r="3.6" fill="#3b5b8c"/><circle cx="170.4" cy="163.5" r="3.6" fill="#6a1b2a"/><circle cx="242.6" cy="149.5" r="3.6" fill="#3b5b8c"/><circle cx="218.4" cy="163.5" r="3.6" fill="#6a1b2a"/><circle cx="290.6" cy="149.5" r="3.6" fill="#3b5b8c"/><circle cx="266.4" cy="163.5" r="3.6" fill="#6a1b2a"/><circle cx="338.6" cy="149.5" r="3.6" fill="#3b5b8c"/><circle cx="314.4" cy="163.5" r="3.6" fill="#6a1b2a"/><circle cx="386.6" cy="149.5" r="3.6" fill="#3b5b8c"/><circle cx="362.4" cy="163.5" r="3.6" fill="#6a1b2a"/><circle cx="434.6" cy="149.5" r="3.6" fill="#3b5b8c"/><circle cx="410.4" cy="163.5" r="3.6" fill="#6a1b2a"/><circle cx="482.6" cy="149.5" r="3.6" fill="#3b5b8c"/><circle cx="458.4" cy="163.5" r="3.6" fill="#6a1b2a"/><circle cx="530.6" cy="149.5" r="3.6" fill="#3b5b8c"/><circle cx="506.4" cy="163.5" r="3.6" fill="#6a1b2a"/><circle cx="578.6" cy="149.5" r="3.6" fill="#3b5b8c"/><circle cx="554.4" cy="163.5" r="3.6" fill="#6a1b2a"/><circle cx="626.6" cy="149.5" r="3.6" fill="#3b5b8c"/><circle cx="602.4" cy="163.5" r="3.6" fill="#6a1b2a"/><circle cx="122.6" cy="191.4" r="3.6" fill="#3b5b8c"/><circle cx="98.4" cy="205.4" r="3.6" fill="#6a1b2a"/><circle cx="170.6" cy="191.4" r="3.6" fill="#3b5b8c"/><circle cx="146.4" cy="205.4" r="3.6" fill="#6a1b2a"/><circle cx="218.6" cy="191.4" r="3.6" fill="#6a1b2a"/><circle cx="194.4" cy="205.4" r="3.6" fill="#3b5b8c"/><circle cx="266.6" cy="191.4" r="3.6" fill="#3b5b8c"/><circle cx="242.4" cy="205.4" r="3.6" fill="#6a1b2a"/><circle cx="314.6" cy="191.4" r="3.6" fill="#3b5b8c"/><circle cx="290.4" cy="205.4" r="3.6" fill="#6a1b2a"/><circle cx="362.6" cy="191.4" r="3.6" fill="#3b5b8c"/><circle cx="338.4" cy="205.4" r="3.6" fill="#6a1b2a"/><circle cx="410.6" cy="191.4" r="3.6" fill="#3b5b8c"/><circle cx="386.4" cy="205.4" r="3.6" fill="#6a1b2a"/><circle cx="458.6" cy="191.4" r="3.6" fill="#3b5b8c"/><circle cx="434.4" cy="205.4" r="3.6" fill="#6a1b2a"/><circle cx="506.6" cy="191.4" r="3.6" fill="#3b5b8c"/><circle cx="482.4" cy="205.4" r="3.6" fill="#6a1b2a"/><circle cx="554.6" cy="191.4" r="3.6" fill="#3b5b8c"/><circle cx="530.4" cy="205.4" r="3.6" fill="#6a1b2a"/><circle cx="602.6" cy="191.4" r="3.6" fill="#3b5b8c"/><circle cx="578.4" cy="205.4" r="3.6" fill="#6a1b2a"/><circle cx="626.4" cy="205.4" r="3.6" fill="#6a1b2a"/><circle cx="146.6" cy="233.3" r="3.6" fill="#3b5b8c"/><circle cx="122.4" cy="247.3" r="3.6" fill="#6a1b2a"/><circle cx="98.2" cy="233.3" r="3.6" fill="#3b5b8c"/><circle cx="194.6" cy="233.3" r="3.6" fill="#3b5b8c"/><circle cx="170.4" cy="247.3" r="3.6" fill="#6a1b2a"/><circle cx="242.6" cy="233.3" r="3.6" fill="#3b5b8c"/><circle cx="218.4" cy="247.3" r="3.6" fill="#6a1b2a"/><circle cx="290.6" cy="233.3" r="3.6" fill="#3b5b8c"/><circle cx="266.4" cy="247.3" r="3.6" fill="#6a1b2a"/><circle cx="338.6" cy="233.3" r="3.6" fill="#3b5b8c"/><circle cx="314.4" cy="247.3" r="3.6" fill="#6a1b2a"/><circle cx="386.6" cy="233.3" r="3.6" fill="#3b5b8c"/><circle cx="362.4" cy="247.3" r="3.6" fill="#6a1b2a"/><circle cx="434.6" cy="233.3" r="3.6" fill="#3b5b8c"/><circle cx="410.4" cy="247.3" r="3.6" fill="#6a1b2a"/><circle cx="482.6" cy="233.3" r="3.6" fill="#3b5b8c"/><circle cx="458.4" cy="247.3" r="3.6" fill="#6a1b2a"/><circle cx="530.6" cy="233.3" r="3.6" fill="#3b5b8c"/><circle cx="506.4" cy="247.3" r="3.6" fill="#6a1b2a"/><circle cx="578.6" cy="233.3" r="3.6" fill="#3b5b8c"/><circle cx="554.4" cy="247.3" r="3.6" fill="#6a1b2a"/><circle cx="626.6" cy="233.3" r="3.6" fill="#3b5b8c"/><circle cx="602.4" cy="247.3" r="3.6" fill="#6a1b2a"/><circle cx="122.6" cy="275.2" r="3.6" fill="#3b5b8c"/><circle cx="98.4" cy="289.2" r="3.6" fill="#6a1b2a"/><circle cx="170.6" cy="275.2" r="3.6" fill="#3b5b8c"/><circle cx="146.4" cy="289.2" r="3.6" fill="#6a1b2a"/><circle cx="218.6" cy="275.2" r="3.6" fill="#3b5b8c"/><circle cx="194.4" cy="289.2" r="3.6" fill="#6a1b2a"/><circle cx="266.6" cy="275.2" r="3.6" fill="#3b5b8c"/><circle cx="242.4" cy="289.2" r="3.6" fill="#6a1b2a"/><circle cx="314.6" cy="275.2" r="3.6" fill="#3b5b8c"/><circle cx="290.4" cy="289.2" r="3.6" fill="#6a1b2a"/><circle cx="362.6" cy="275.2" r="3.6" fill="#3b5b8c"/><circle cx="338.4" cy="289.2" r="3.6" fill="#6a1b2a"/><circle cx="410.6" cy="275.2" r="3.6" fill="#3b5b8c"/><circle cx="386.4" cy="289.2" r="3.6" fill="#6a1b2a"/><circle cx="458.6" cy="275.2" r="3.6" fill="#3b5b8c"/><circle cx="434.4" cy="289.2" r="3.6" fill="#6a1b2a"/><circle cx="506.6" cy="275.2" r="3.6" fill="#3b5b8c"/><circle cx="482.4" cy="289.2" r="3.6" fill="#6a1b2a"/><circle cx="554.6" cy="275.2" r="3.6" fill="#3b5b8c"/><circle cx="530.4" cy="289.2" r="3.6" fill="#6a1b2a"/><circle cx="602.6" cy="275.2" r="3.6" fill="#3b5b8c"/><circle cx="578.4" cy="289.2" r="3.6" fill="#6a1b2a"/><circle cx="626.4" cy="289.2" r="3.6" fill="#6a1b2a"/><circle cx="146.6" cy="317.1" r="3.6" fill="#3b5b8c"/><circle cx="122.4" cy="331.1" r="3.6" fill="#6a1b2a"/><circle cx="98.2" cy="317.1" r="3.6" fill="#3b5b8c"/><circle cx="194.6" cy="317.1" r="3.6" fill="#3b5b8c"/><circle cx="170.4" cy="331.1" r="3.6" fill="#6a1b2a"/><circle cx="242.6" cy="317.1" r="3.6" fill="#3b5b8c"/><circle cx="218.4" cy="331.1" r="3.6" fill="#6a1b2a"/><circle cx="290.6" cy="317.1" r="3.6" fill="#3b5b8c"/><circle cx="266.4" cy="331.1" r="3.6" fill="#6a1b2a"/><circle cx="338.6" cy="317.1" r="3.6" fill="#3b5b8c"/><circle cx="314.4" cy="331.1" r="3.6" fill="#6a1b2a"/><circle cx="386.6" cy="317.1" r="3.6" fill="#3b5b8c"/><circle cx="362.4" cy="331.1" r="3.6" fill="#6a1b2a"/><circle cx="434.6" cy="317.1" r="3.6" fill="#3b5b8c"/><circle cx="410.4" cy="331.1" r="3.6" fill="#6a1b2a"/><circle cx="482.6" cy="317.1" r="3.6" fill="#3b5b8c"/><circle cx="458.4" cy="331.1" r="3.6" fill="#6a1b2a"/><circle cx="530.6" cy="317.1" r="3.6" fill="#3b5b8c"/><circle cx="506.4" cy="331.1" r="3.6" fill="#6a1b2a"/><circle cx="578.6" cy="317.1" r="3.6" fill="#3b5b8c"/><circle cx="554.4" cy="331.1" r="3.6" fill="#6a1b2a"/><circle cx="626.6" cy="317.1" r="3.6" fill="#3b5b8c"/><circle cx="602.4" cy="331.1" r="3.6" fill="#6a1b2a"/><circle cx="122.6" cy="359" r="3.6" fill="#3b5b8c"/><circle cx="98.4" cy="373" r="3.6" fill="#6a1b2a"/><circle cx="170.6" cy="359" r="3.6" fill="#3b5b8c"/><circle cx="146.4" cy="373" r="3.6" fill="#6a1b2a"/><circle cx="218.6" cy="359" r="3.6" fill="#3b5b8c"/><circle cx="194.4" cy="373" r="3.6" fill="#6a1b2a"/><circle cx="266.6" cy="359" r="3.6" fill="#3b5b8c"/><circle cx="242.4" cy="373" r="3.6" fill="#6a1b2a"/><circle cx="314.6" cy="359" r="3.6" fill="#3b5b8c"/><circle cx="290.4" cy="373" r="3.6" fill="#6a1b2a"/><circle cx="362.6" cy="359" r="3.6" fill="#3b5b8c"/><circle cx="338.4" cy="373" r="3.6" fill="#6a1b2a"/><circle cx="410.6" cy="359" r="3.6" fill="#3b5b8c"/><circle cx="386.4" cy="373" r="3.6" fill="#6a1b2a"/><circle cx="458.6" cy="359" r="3.6" fill="#3b5b8c"/><circle cx="434.4" cy="373" r="3.6" fill="#6a1b2a"/><circle cx="506.6" cy="359" r="3.6" fill="#3b5b8c"/><circle cx="482.4" cy="373" r="3.6" fill="#6a1b2a"/><circle cx="554.6" cy="359" r="3.6" fill="#3b5b8c"/><circle cx="530.4" cy="373" r="3.6" fill="#6a1b2a"/><circle cx="602.6" cy="359" r="3.6" fill="#3b5b8c"/><circle cx="578.4" cy="373" r="3.6" fill="#6a1b2a"/><circle cx="626.4" cy="373" r="3.6" fill="#6a1b2a"/><circle cx="146.6" cy="400.9" r="3.6" fill="#3b5b8c"/><circle cx="122.4" cy="414.9" r="3.6" fill="#6a1b2a"/><circle cx="98.2" cy="400.9" r="3.6" fill="#3b5b8c"/><circle cx="194.6" cy="400.9" r="3.6" fill="#3b5b8c"/><circle cx="170.4" cy="414.9" r="3.6" fill="#6a1b2a"/><circle cx="242.6" cy="400.9" r="3.6" fill="#3b5b8c"/><circle cx="218.4" cy="414.9" r="3.6" fill="#6a1b2a"/><circle cx="290.6" cy="400.9" r="3.6" fill="#3b5b8c"/><circle cx="266.4" cy="414.9" r="3.6" fill="#6a1b2a"/><circle cx="338.6" cy="400.9" r="3.6" fill="#3b5b8c"/><circle cx="314.4" cy="414.9" r="3.6" fill="#6a1b2a"/><circle cx="386.6" cy="400.9" r="3.6" fill="#3b5b8c"/><circle cx="362.4" cy="414.9" r="3.6" fill="#6a1b2a"/><circle cx="434.6" cy="400.9" r="3.6" fill="#3b5b8c"/><circle cx="410.4" cy="414.9" r="3.6" fill="#6a1b2a"/><circle cx="482.6" cy="400.9" r="3.6" fill="#3b5b8c"/><circle cx="458.4" cy="414.9" r="3.6" fill="#6a1b2a"/><circle cx="530.6" cy="400.9" r="3.6" fill="#3b5b8c"/><circle cx="506.4" cy="414.9" r="3.6" fill="#6a1b2a"/><circle cx="578.6" cy="400.9" r="3.6" fill="#3b5b8c"/><circle cx="554.4" cy="414.9" r="3.6" fill="#6a1b2a"/><circle cx="626.6" cy="400.9" r="3.6" fill="#3b5b8c"/><circle cx="602.4" cy="414.9" r="3.6" fill="#6a1b2a"/><circle cx="122.6" cy="442.8" r="3.6" fill="#3b5b8c"/><circle cx="98.4" cy="456.8" r="3.6" fill="#6a1b2a"/><circle cx="170.6" cy="442.8" r="3.6" fill="#6a1b2a"/><circle cx="146.4" cy="456.8" r="3.6" fill="#6a1b2a"/><circle cx="218.6" cy="442.8" r="3.6" fill="#6a1b2a"/><circle cx="194.4" cy="456.8" r="3.6" fill="#6a1b2a"/><circle cx="266.6" cy="442.8" r="3.6" fill="#3b5b8c"/><circle cx="242.4" cy="456.8" r="3.6" fill="#3b5b8c"/><circle cx="314.6" cy="442.8" r="3.6" fill="#3b5b8c"/><circle cx="290.4" cy="456.8" r="3.6" fill="#6a1b2a"/><circle cx="362.6" cy="442.8" r="3.6" fill="#3b5b8c"/><circle cx="338.4" cy="456.8" r="3.6" fill="#6a1b2a"/><circle cx="410.6" cy="442.8" r="3.6" fill="#3b5b8c"/><circle cx="386.4" cy="456.8" r="3.6" fill="#6a1b2a"/><circle cx="458.6" cy="442.8" r="3.6" fill="#3b5b8c"/><circle cx="434.4" cy="456.8" r="3.6" fill="#6a1b2a"/><circle cx="506.6" cy="442.8" r="3.6" fill="#3b5b8c"/><circle cx="482.4" cy="456.8" r="3.6" fill="#6a1b2a"/><circle cx="554.6" cy="442.8" r="3.6" fill="#3b5b8c"/><circle cx="530.4" cy="456.8" r="3.6" fill="#6a1b2a"/><circle cx="602.6" cy="442.8" r="3.6" fill="#3b5b8c"/><circle cx="578.4" cy="456.8" r="3.6" fill="#6a1b2a"/><circle cx="626.4" cy="456.8" r="3.6" fill="#6a1b2a"/><circle cx="146.6" cy="484.7" r="3.6" fill="#3b5b8c"/><circle cx="122.4" cy="498.7" r="3.6" fill="#6a1b2a"/><circle cx="98.2" cy="484.7" r="3.6" fill="#3b5b8c"/><circle cx="194.6" cy="484.7" r="3.6" fill="#3b5b8c"/><circle cx="170.4" cy="498.7" r="3.6" fill="#6a1b2a"/><circle cx="242.6" cy="484.7" r="3.6" fill="#6a1b2a"/><circle cx="218.4" cy="498.7" r="3.6" fill="#6a1b2a"/><circle cx="290.6" cy="484.7" r="3.6" fill="#3b5b8c"/><circle cx="266.4" cy="498.7" r="3.6" fill="#6a1b2a"/><circle cx="338.6" cy="484.7" r="3.6" fill="#3b5b8c"/><circle cx="314.4" cy="498.7" r="3.6" fill="#6a1b2a"/><circle cx="386.6" cy="484.7" r="3.6" fill="#3b5b8c"/><circle cx="362.4" cy="498.7" r="3.6" fill="#6a1b2a"/><circle cx="434.6" cy="484.7" r="3.6" fill="#3b5b8c"/><circle cx="410.4" cy="498.7" r="3.6" fill="#6a1b2a"/><circle cx="482.6" cy="484.7" r="3.6" fill="#3b5b8c"/><circle cx="458.4" cy="498.7" r="3.6" fill="#6a1b2a"/><circle cx="530.6" cy="484.7" r="3.6" fill="#3b5b8c"/><circle cx="506.4" cy="498.7" r="3.6" fill="#6a1b2a"/><circle cx="578.6" cy="484.7" r="3.6" fill="#3b5b8c"/><circle cx="554.4" cy="498.7" r="3.6" fill="#6a1b2a"/><circle cx="626.6" cy="484.7" r="3.6" fill="#3b5b8c"/><circle cx="602.4" cy="498.7" r="3.6" fill="#6a1b2a"/><circle cx="122.6" cy="526.7" r="3.6" fill="#3b5b8c"/><circle cx="98.4" cy="540.6" r="3.6" fill="#6a1b2a"/><circle cx="170.6" cy="526.7" r="3.6" fill="#3b5b8c"/><circle cx="146.4" cy="540.6" r="3.6" fill="#6a1b2a"/><circle cx="218.6" cy="526.7" r="3.6" fill="#3b5b8c"/><circle cx="194.4" cy="540.6" r="3.6" fill="#6a1b2a"/><circle cx="266.6" cy="526.7" r="3.6" fill="#3b5b8c"/><circle cx="242.4" cy="540.6" r="3.6" fill="#6a1b2a"/><circle cx="314.6" cy="526.7" r="3.6" fill="#3b5b8c"/><circle cx="290.4" cy="540.6" r="3.6" fill="#6a1b2a"/><circle cx="362.6" cy="526.7" r="3.6" fill="#3b5b8c"/><circle cx="338.4" cy="540.6" r="3.6" fill="#6a1b2a"/><circle cx="410.6" cy="526.7" r="3.6" fill="#3b5b8c"/><circle cx="386.4" cy="540.6" r="3.6" fill="#6a1b2a"/><circle cx="458.6" cy="526.7" r="3.6" fill="#3b5b8c"/><circle cx="434.4" cy="540.6" r="3.6" fill="#6a1b2a"/><circle cx="506.6" cy="526.7" r="3.6" fill="#3b5b8c"/><circle cx="482.4" cy="540.6" r="3.6" fill="#6a1b2a"/><circle cx="554.6" cy="526.7" r="3.6" fill="#3b5b8c"/><circle cx="530.4" cy="540.6" r="3.6" fill="#6a1b2a"/><circle cx="602.6" cy="526.7" r="3.6" fill="#3b5b8c"/><circle cx="578.4" cy="540.6" r="3.6" fill="#6a1b2a"/><circle cx="626.4" cy="540.6" r="3.6" fill="#6a1b2a"/><circle cx="146.6" cy="568.6" r="3.6" fill="#3b5b8c"/><circle cx="122.4" cy="582.5" r="3.6" fill="#6a1b2a"/><circle cx="98.2" cy="568.6" r="3.6" fill="#3b5b8c"/><circle cx="194.6" cy="568.6" r="3.6" fill="#3b5b8c"/><circle cx="170.4" cy="582.5" r="3.6" fill="#6a1b2a"/><circle cx="242.6" cy="568.6" r="3.6" fill="#3b5b8c"/><circle cx="218.4" cy="582.5" r="3.6" fill="#6a1b2a"/><circle cx="290.6" cy="568.6" r="3.6" fill="#3b5b8c"/><circle cx="266.4" cy="582.5" r="3.6" fill="#6a1b2a"/><circle cx="338.6" cy="568.6" r="3.6" fill="#3b5b8c"/><circle cx="314.4" cy="582.5" r="3.6" fill="#6a1b2a"/><circle cx="386.6" cy="568.6" r="3.6" fill="#3b5b8c"/><circle cx="362.4" cy="582.5" r="3.6" fill="#6a1b2a"/><circle cx="434.6" cy="568.6" r="3.6" fill="#3b5b8c"/><circle cx="410.4" cy="582.5" r="3.6" fill="#6a1b2a"/><circle cx="482.6" cy="568.6" r="3.6" fill="#3b5b8c"/><circle cx="458.4" cy="582.5" r="3.6" fill="#6a1b2a"/><circle cx="530.6" cy="568.6" r="3.6" fill="#3b5b8c"/><circle cx="506.4" cy="582.5" r="3.6" fill="#6a1b2a"/><circle cx="578.6" cy="568.6" r="3.6" fill="#3b5b8c"/><circle cx="554.4" cy="582.5" r="3.6" fill="#6a1b2a"/><circle cx="626.6" cy="568.6" r="3.6" fill="#3b5b8c"/><circle cx="602.4" cy="582.5" r="3.6" fill="#6a1b2a"/><circle cx="122.6" cy="610.5" r="3.6" fill="#3b5b8c"/><circle cx="170.6" cy="610.5" r="3.6" fill="#3b5b8c"/><circle cx="218.6" cy="610.5" r="3.6" fill="#3b5b8c"/><circle cx="266.6" cy="610.5" r="3.6" fill="#3b5b8c"/><circle cx="314.6" cy="610.5" r="3.6" fill="#3b5b8c"/><circle cx="362.6" cy="610.5" r="3.6" fill="#3b5b8c"/><circle cx="410.6" cy="610.5" r="3.6" fill="#3b5b8c"/><circle cx="458.6" cy="610.5" r="3.6" fill="#3b5b8c"/><circle cx="506.6" cy="610.5" r="3.6" fill="#3b5b8c"/><circle cx="554.6" cy="610.5" r="3.6" fill="#3b5b8c"/><circle cx="602.6" cy="610.5" r="3.6" fill="#3b5b8c"/><use href="#hexAD" x="98.4" y="93.7"/><use href="#hexG" x="146.4" y="93.7"/><g transform="translate(146.4 93.7)"><g clip-path="url(#hexclip)"><rect x="-8" y="-10" width="9" height="21" fill="#3a3a3a" opacity="0.7" filter="url(#blur3)"/></g><rect x="-1.5" y="-8.4" width="5.6" height="4.6" fill="#e2e2e2"/><rect x="-2.5" y="-3.8" width="7.6" height="14.8" fill="#d6d6d6"/><rect x="-3.4" y="7" width="9.6" height="2.5" fill="#d0d0d0"/></g><use href="#hexAD" x="194.4" y="93.7"/><use href="#hexAD" x="242.4" y="93.7"/><use href="#hexAD" x="290.4" y="93.7"/><use href="#hexAD" x="338.4" y="93.7"/><use href="#hexAD" x="386.4" y="93.7"/><use href="#hexAD" x="434.4" y="93.7"/><use href="#hexAD" x="482.4" y="93.7"/><use href="#hexAD" x="530.4" y="93.7"/><use href="#hexAD" x="578.4" y="93.7"/><use href="#hexAD" x="626.4" y="93.7"/><use href="#hexAD" x="122.4" y="135.6"/><use href="#hexAD" x="170.4" y="135.6"/><use href="#hexAD" x="218.4" y="135.6"/><use href="#hexAD" x="266.4" y="135.6"/><use href="#hexAD" x="314.4" y="135.6"/><use href="#hexAD" x="362.4" y="135.6"/><use href="#hexAD" x="410.4" y="135.6"/><use href="#hexAD" x="458.4" y="135.6"/><use href="#hexAD" x="506.4" y="135.6"/><use href="#hexAD" x="554.4" y="135.6"/><use href="#hexAD" x="602.4" y="135.6"/><use href="#hexAD" x="98.4" y="177.5"/><use href="#hexAD" x="146.4" y="177.5"/><use href="#hexB" x="194.4" y="177.5"/><text x="193.4" y="186.1" font-size="25" fill="#fff" text-anchor="middle">-2</text><use href="#hexAD" x="242.4" y="177.5"/><use href="#hexAD" x="290.4" y="177.5"/><use href="#hexAD" x="338.4" y="177.5"/><use href="#hexAD" x="386.4" y="177.5"/><use href="#hexAD" x="434.4" y="177.5"/><use href="#hexAD" x="482.4" y="177.5"/><use href="#hexAD" x="530.4" y="177.5"/><use href="#hexAD" x="578.4" y="177.5"/><use href="#hexAD" x="626.4" y="177.5"/><use href="#hexAD" x="122.4" y="219.4"/><use href="#hexAD" x="170.4" y="219.4"/><use href="#hexR" x="218.4" y="219.4"/><text x="218.4" y="228" font-size="25" fill="#fff" text-anchor="middle">2</text><use href="#hexAD" x="266.4" y="219.4"/><use href="#hexAD" x="314.4" y="219.4"/><use href="#hexAD" x="362.4" y="219.4"/><use href="#hexAD" x="410.4" y="219.4"/><use href="#hexAD" x="458.4" y="219.4"/><use href="#hexAD" x="506.4" y="219.4"/><use href="#hexAD" x="554.4" y="219.4"/><use href="#hexAD" x="602.4" y="219.4"/><use href="#hexAD" x="98.4" y="261.3"/><use href="#hexAD" x="146.4" y="261.3"/><use href="#hexAD" x="194.4" y="261.3"/><use href="#hexAD" x="242.4" y="261.3"/><use href="#hexAD" x="290.4" y="261.3"/><use href="#hexAD" x="338.4" y="261.3"/><use href="#hexAD" x="386.4" y="261.3"/><use href="#hexAD" x="434.4" y="261.3"/><use href="#hexAD" x="482.4" y="261.3"/><use href="#hexAD" x="530.4" y="261.3"/><use href="#hexAD" x="578.4" y="261.3"/><use href="#hexAD" x="626.4" y="261.3"/><use href="#hexAD" x="122.4" y="303.2"/><use href="#hexAD" x="170.4" y="303.2"/><use href="#hexAD" x="218.4" y="303.2"/><use href="#hexAD" x="266.4" y="303.2"/><use href="#hexAD" x="314.4" y="303.2"/><use href="#hexAD" x="362.4" y="303.2"/><use href="#hexAD" x="410.4" y="303.2"/><use href="#hexAD" x="458.4" y="303.2"/><use href="#hexAD" x="506.4" y="303.2"/><use href="#hexAD" x="554.4" y="303.2"/><use href="#hexAD" x="602.4" y="303.2"/><use href="#hexAD" x="98.4" y="345.1"/><use href="#hexAD" x="146.4" y="345.1"/><use href="#hexAD" x="194.4" y="345.1"/><use href="#hexAD" x="242.4" y="345.1"/><use href="#hexAD" x="290.4" y="345.1"/><use href="#hexAD" x="338.4" y="345.1"/><use href="#hexAD" x="386.4" y="345.1"/><use href="#hexAD" x="434.4" y="345.1"/><use href="#hexAD" x="482.4" y="345.1"/><use href="#hexAD" x="530.4" y="345.1"/><use href="#hexAD" x="578.4" y="345.1"/><use href="#hexAD" x="626.4" y="345.1"/><use href="#hexAD" x="122.4" y="387"/><use href="#hexAD" x="170.4" y="387"/><use href="#hexAD" x="218.4" y="387"/><use href="#hexAD" x="266.4" y="387"/><use href="#hexAD" x="314.4" y="387"/><use href="#hexAD" x="362.4" y="387"/><use href="#hexAD" x="410.4" y="387"/><use href="#hexAD" x="458.4" y="387"/><use href="#hexAD" x="506.4" y="387"/><use href="#hexAD" x="554.4" y="387"/><use href="#hexAD" x="602.4" y="387"/><use href="#hexAD" x="98.4" y="428.9"/><use href="#hexAD" x="146.4" y="428.9"/><use href="#hexR" x="194.4" y="428.9"/><text x="194.4" y="434.7" font-size="25" fill="#fff" text-anchor="middle">2</text><use href="#hexR" x="242.4" y="428.9"/><text x="242.4" y="434.7" font-size="25" fill="#fff" text-anchor="middle">2</text><use href="#hexAD" x="290.4" y="428.9"/><use href="#hexAD" x="338.4" y="428.9"/><use href="#hexAD" x="386.4" y="428.9"/><use href="#hexAD" x="434.4" y="428.9"/><use href="#hexAD" x="482.4" y="428.9"/><use href="#hexAD" x="530.4" y="428.9"/><use href="#hexAD" x="578.4" y="428.9"/><use href="#hexAD" x="626.4" y="428.9"/><use href="#hexAD" x="122.4" y="470.8"/><use href="#hexB" x="170.4" y="470.8"/><text x="169.4" y="476.6" font-size="25" fill="#fff" text-anchor="middle">-4</text><use href="#hexDot" x="218.4" y="470.8"/><use href="#hexAD" x="266.4" y="470.8"/><use href="#hexAD" x="314.4" y="470.8"/><use href="#hexAD" x="362.4" y="470.8"/><use href="#hexAD" x="410.4" y="470.8"/><use href="#hexAD" x="458.4" y="470.8"/><use href="#hexAD" x="506.4" y="470.8"/><use href="#hexAD" x="554.4" y="470.8"/><use href="#hexAD" x="602.4" y="470.8"/><use href="#hexAD" x="98.4" y="512.7"/><use href="#hexAD" x="146.4" y="512.7"/><use href="#hexB" x="194.4" y="512.7"/><text x="193.4" y="518.5" font-size="25" fill="#fff" text-anchor="middle">-2</text><use href="#hexR" x="242.4" y="512.7"/><text x="242.4" y="518.5" font-size="25" fill="#fff" text-anchor="middle">2</text><use href="#hexAD" x="290.4" y="512.7"/><use href="#hexAD" x="338.4" y="512.7"/><use href="#hexAD" x="386.4" y="512.7"/><use href="#hexAD" x="434.4" y="512.7"/><use href="#hexAD" x="482.4" y="512.7"/><use href="#hexAD" x="530.4" y="512.7"/><use href="#hexAD" x="578.4" y="512.7"/><use href="#hexAD" x="626.4" y="512.7"/><use href="#hexAD" x="122.4" y="554.6"/><use href="#hexAD" x="170.4" y="554.6"/><use href="#hexAD" x="218.4" y="554.6"/><use href="#hexAD" x="266.4" y="554.6"/><use href="#hexAD" x="314.4" y="554.6"/><use href="#hexAD" x="362.4" y="554.6"/><use href="#hexAD" x="410.4" y="554.6"/><use href="#hexAD" x="458.4" y="554.6"/><use href="#hexAD" x="506.4" y="554.6"/><use href="#hexAD" x="554.4" y="554.6"/><use href="#hexAD" x="602.4" y="554.6"/><use href="#hexAD" x="98.4" y="596.5"/><use href="#hexAD" x="146.4" y="596.5"/><use href="#hexAD" x="194.4" y="596.5"/><use href="#hexAD" x="242.4" y="596.5"/><use href="#hexAD" x="290.4" y="596.5"/><use href="#hexAD" x="338.4" y="596.5"/><use href="#hexAD" x="386.4" y="596.5"/><use href="#hexAD" x="434.4" y="596.5"/><use href="#hexAD" x="482.4" y="596.5"/><use href="#hexAD" x="530.4" y="596.5"/><use href="#hexAD" x="578.4" y="596.5"/><use href="#hexAD" x="626.4" y="596.5"/><circle cx="218.4" cy="498.6" r="3.2" fill="#000"/><text x="348.2" y="60.3" font-size="40" text-anchor="middle" fill="#000">Written FM-I state</text><text x="31" y="100.5" font-size="45" font-weight="bold" fill="#000">A</text><rect x="1382.4" y="67.2" width="585" height="564" fill="#ebebeb"/><use href="#cap" transform="translate(1422.6 76.1) rotate(-240)"/><use href="#cap" transform="translate(1434.7 97) rotate(-180)"/><use href="#cap" transform="translate(1422.6 117.9) rotate(60)"/><use href="#cap" transform="translate(1398.4 117.9) rotate(-240)"/><use href="#cap" transform="translate(1386.3 97) rotate(0)"/><use href="#cap" transform="translate(1398.4 76.1) rotate(-120)"/><use href="#cap" transform="translate(1470.6 76.1) rotate(-240)"/><use href="#cap" transform="translate(1482.7 97) rotate(0)"/><use href="#cap" transform="translate(1470.6 117.9) rotate(-120)"/><use href="#cap" transform="translate(1446.4 117.9) rotate(-240)"/><use href="#cap" transform="translate(1446.4 76.1) rotate(-120)"/><use href="#cap" transform="translate(1518.6 76.1) rotate(-240)"/><use href="#cap" transform="translate(1530.7 97) rotate(-180)"/><use href="#cap" transform="translate(1518.6 117.9) rotate(60)"/><use href="#cap" transform="translate(1494.4 117.9) rotate(-240)"/><use href="#cap" transform="translate(1494.4 76.1) rotate(-120)"/><use href="#cap" transform="translate(1566.6 76.1) rotate(-60)"/><use href="#cap" transform="translate(1578.7 97) rotate(0)"/><use href="#cap" transform="translate(1566.6 117.9) rotate(60)"/><use href="#cap" transform="translate(1542.4 117.9) rotate(-240)"/><use href="#cap" transform="translate(1542.4 76.1) rotate(60)"/><use href="#cap" transform="translate(1614.6 76.1) rotate(-240)"/><use href="#cap" transform="translate(1626.7 97) rotate(0)"/><use href="#cap" transform="translate(1614.6 117.9) rotate(-120)"/><use href="#cap" transform="translate(1590.4 117.9) rotate(-240)"/><use href="#cap" transform="translate(1590.4 76.1) rotate(-120)"/><use href="#cap" transform="translate(1662.6 76.1) rotate(-240)"/><use href="#cap" transform="translate(1674.7 97) rotate(0)"/><use href="#cap" transform="translate(1662.6 117.9) rotate(-120)"/><use href="#cap" transform="translate(1638.4 117.9) rotate(-60)"/><use href="#cap" transform="translate(1638.4 76.1) rotate(60)"/><use href="#cap" transform="translate(1710.6 76.1) rotate(-240)"/><use href="#cap" transform="translate(1722.7 97) rotate(0)"/><use href="#cap" transform="translate(1710.6 117.9) rotate(-120)"/><use href="#cap" transform="translate(1686.4 117.9) rotate(-240)"/><use href="#cap" transform="translate(1686.4 76.1) rotate(-120)"/><use href="#cap" transform="translate(1758.6 76.1) rotate(-60)"/><use href="#cap" transform="translate(1770.7 97) rotate(-180)"/><use href="#cap" transform="translate(1758.6 117.9) rotate(-120)"/><use href="#cap" transform="translate(1734.4 117.9) rotate(-60)"/><use href="#cap" transform="translate(1734.4 76.1) rotate(60)"/><use href="#cap" transform="translate(1806.6 76.1) rotate(-240)"/><use href="#cap" transform="translate(1818.7 97) rotate(0)"/><use href="#cap" transform="translate(1806.6 117.9) rotate(60)"/><use href="#cap" transform="translate(1782.4 117.9) rotate(-240)"/><use href="#cap" transform="translate(1782.4 76.1) rotate(60)"/><use href="#cap" transform="translate(1854.6 76.1) rotate(-60)"/><use href="#cap" transform="translate(1866.7 97) rotate(0)"/><use href="#cap" transform="translate(1854.6 117.9) rotate(60)"/><use href="#cap" transform="translate(1830.4 117.9) rotate(-240)"/><use href="#cap" transform="translate(1830.4 76.1) rotate(60)"/><use href="#cap" transform="translate(1902.6 76.1) rotate(-240)"/><use href="#cap" transform="translate(1914.7 97) rotate(-180)"/><use href="#cap" transform="translate(1902.6 117.9) rotate(60)"/><use href="#cap" transform="translate(1878.4 117.9) rotate(-240)"/><use href="#cap" transform="translate(1878.4 76.1) rotate(60)"/><use href="#cap" transform="translate(1950.6 76.1) rotate(-240)"/><use href="#cap" transform="translate(1962.7 97) rotate(0)"/><use href="#cap" transform="translate(1950.6 117.9) rotate(60)"/><use href="#cap" transform="translate(1926.4 117.9) rotate(-60)"/><use href="#cap" transform="translate(1926.4 76.1) rotate(60)"/><use href="#cap" transform="translate(1458.7 138.9) rotate(-180)"/><use href="#cap" transform="translate(1446.6 159.9) rotate(60)"/><use href="#cap" transform="translate(1422.4 159.9) rotate(-60)"/><use href="#cap" transform="translate(1410.3 138.9) rotate(0)"/><use href="#cap" transform="translate(1506.7 138.9) rotate(0)"/><use href="#cap" transform="translate(1494.6 159.9) rotate(60)"/><use href="#cap" transform="translate(1470.4 159.9) rotate(-60)"/><use href="#cap" transform="translate(1554.7 138.9) rotate(0)"/><use href="#cap" transform="translate(1542.6 159.9) rotate(60)"/><use href="#cap" transform="translate(1518.4 159.9) rotate(-240)"/><use href="#cap" transform="translate(1602.7 138.9) rotate(0)"/><use href="#cap" transform="translate(1590.6 159.9) rotate(60)"/><use href="#cap" transform="translate(1566.4 159.9) rotate(-60)"/><use href="#cap" transform="translate(1650.7 138.9) rotate(0)"/><use href="#cap" transform="translate(1638.6 159.9) rotate(-120)"/><use href="#cap" transform="translate(1614.4 159.9) rotate(-240)"/><use href="#cap" transform="translate(1698.7 138.9) rotate(0)"/><use href="#cap" transform="translate(1686.6 159.9) rotate(-120)"/><use href="#cap" transform="translate(1662.4 159.9) rotate(-60)"/><use href="#cap" transform="translate(1746.7 138.9) rotate(-180)"/><use href="#cap" transform="translate(1734.6 159.9) rotate(-120)"/><use href="#cap" transform="translate(1710.4 159.9) rotate(-240)"/><use href="#cap" transform="translate(1794.7 138.9) rotate(0)"/><use href="#cap" transform="translate(1782.6 159.9) rotate(-120)"/><use href="#cap" transform="translate(1758.4 159.9) rotate(-240)"/><use href="#cap" transform="translate(1842.7 138.9) rotate(-180)"/><use href="#cap" transform="translate(1830.6 159.9) rotate(60)"/><use href="#cap" transform="translate(1806.4 159.9) rotate(-240)"/><use href="#cap" transform="translate(1890.7 138.9) rotate(-180)"/><use href="#cap" transform="translate(1878.6 159.9) rotate(60)"/><use href="#cap" transform="translate(1854.4 159.9) rotate(-60)"/><use href="#cap" transform="translate(1938.7 138.9) rotate(0)"/><use href="#cap" transform="translate(1926.6 159.9) rotate(60)"/><use href="#cap" transform="translate(1902.4 159.9) rotate(-240)"/><use href="#cap" transform="translate(1434.7 180.9) rotate(-180)"/><use href="#cap" transform="translate(1422.6 201.8) rotate(-120)"/><use href="#cap" transform="translate(1398.4 201.8) rotate(-60)"/><use href="#cap" transform="translate(1386.3 180.9) rotate(0)"/><use href="#cap" transform="translate(1398.4 160) rotate(-120)"/><use href="#cap" transform="translate(1482.7 180.9) rotate(-180)"/><use href="#cap" transform="translate(1470.6 201.8) rotate(-120)"/><use href="#cap" transform="translate(1446.4 201.8) rotate(-240)"/><use href="#cap" transform="translate(1530.7 180.9) rotate(0)"/><use href="#cap" transform="translate(1518.6 201.8) rotate(60)"/><use href="#cap" transform="translate(1494.4 201.8) rotate(-240)"/><use href="#cap" transform="translate(1578.7 180.9) rotate(-180)"/><use href="#cap" transform="translate(1566.6 201.8) rotate(-120)"/><use href="#cap" transform="translate(1542.4 201.8) rotate(-240)"/><use href="#cap" transform="translate(1626.7 180.9) rotate(0)"/><use href="#cap" transform="translate(1614.6 201.8) rotate(60)"/><use href="#cap" transform="translate(1590.4 201.8) rotate(-60)"/><use href="#cap" transform="translate(1674.7 180.9) rotate(0)"/><use href="#cap" transform="translate(1662.6 201.8) rotate(60)"/><use href="#cap" transform="translate(1638.4 201.8) rotate(-60)"/><use href="#cap" transform="translate(1722.7 180.9) rotate(-180)"/><use href="#cap" transform="translate(1710.6 201.8) rotate(60)"/><use href="#cap" transform="translate(1686.4 201.8) rotate(-60)"/><use href="#cap" transform="translate(1770.7 180.9) rotate(0)"/><use href="#cap" transform="translate(1758.6 201.8) rotate(60)"/><use href="#cap" transform="translate(1734.4 201.8) rotate(-240)"/><use href="#cap" transform="translate(1818.7 180.9) rotate(-180)"/><use href="#cap" transform="translate(1806.6 201.8) rotate(-120)"/><use href="#cap" transform="translate(1782.4 201.8) rotate(-60)"/><use href="#cap" transform="translate(1866.7 180.9) rotate(-180)"/><use href="#cap" transform="translate(1854.6 201.8) rotate(-120)"/><use href="#cap" transform="translate(1830.4 201.8) rotate(-240)"/><use href="#cap" transform="translate(1914.7 180.9) rotate(-180)"/><use href="#cap" transform="translate(1902.6 201.8) rotate(-120)"/><use href="#cap" transform="translate(1878.4 201.8) rotate(-240)"/><use href="#cap" transform="translate(1950.6 160) rotate(-240)"/><use href="#cap" transform="translate(1962.7 180.9) rotate(-180)"/><use href="#cap" transform="translate(1950.6 201.8) rotate(-120)"/><use href="#cap" transform="translate(1926.4 201.8) rotate(-240)"/><use href="#cap" transform="translate(1458.7 222.9) rotate(-180)"/><use href="#cap" transform="translate(1446.6 243.8) rotate(60)"/><use href="#cap" transform="translate(1422.4 243.8) rotate(-60)"/><use href="#cap" transform="translate(1410.3 222.9) rotate(-180)"/><use href="#cap" transform="translate(1506.7 222.9) rotate(-180)"/><use href="#cap" transform="translate(1494.6 243.8) rotate(-120)"/><use href="#cap" transform="translate(1470.4 243.8) rotate(-240)"/><use href="#cap" transform="translate(1554.7 222.9) rotate(-180)"/><use href="#cap" transform="translate(1542.6 243.8) rotate(60)"/><use href="#cap" transform="translate(1518.4 243.8) rotate(-60)"/><use href="#cap" transform="translate(1602.7 222.9) rotate(0)"/><use href="#cap" transform="translate(1590.6 243.8) rotate(60)"/><use href="#cap" transform="translate(1566.4 243.8) rotate(-240)"/><use href="#cap" transform="translate(1650.7 222.9) rotate(-180)"/><use href="#cap" transform="translate(1638.6 243.8) rotate(-120)"/><use href="#cap" transform="translate(1614.4 243.8) rotate(-240)"/><use href="#cap" transform="translate(1698.7 222.9) rotate(0)"/><use href="#cap" transform="translate(1686.6 243.8) rotate(-120)"/><use href="#cap" transform="translate(1662.4 243.8) rotate(-240)"/><use href="#cap" transform="translate(1746.7 222.9) rotate(0)"/><use href="#cap" transform="translate(1734.6 243.8) rotate(60)"/><use href="#cap" transform="translate(1710.4 243.8) rotate(-240)"/><use href="#cap" transform="translate(1794.7 222.9) rotate(0)"/><use href="#cap" transform="translate(1782.6 243.8) rotate(-120)"/><use href="#cap" transform="translate(1758.4 243.8) rotate(-60)"/><use href="#cap" transform="translate(1842.7 222.9) rotate(0)"/><use href="#cap" transform="translate(1830.6 243.8) rotate(60)"/><use href="#cap" transform="translate(1806.4 243.8) rotate(-60)"/><use href="#cap" transform="translate(1890.7 222.9) rotate(-180)"/><use href="#cap" transform="translate(1878.6 243.8) rotate(-120)"/><use href="#cap" transform="translate(1854.4 243.8) rotate(-240)"/><use href="#cap" transform="translate(1938.7 222.9) rotate(0)"/><use href="#cap" transform="translate(1926.6 243.8) rotate(60)"/><use href="#cap" transform="translate(1902.4 243.8) rotate(-60)"/><use href="#cap" transform="translate(1434.7 264.8) rotate(-180)"/><use href="#cap" transform="translate(1422.6 285.7) rotate(-120)"/><use href="#cap" transform="translate(1398.4 285.7) rotate(-60)"/><use href="#cap" transform="translate(1386.3 264.8) rotate(0)"/><use href="#cap" transform="translate(1398.4 243.9) rotate(60)"/><use href="#cap" transform="translate(1482.7 264.8) rotate(0)"/><use href="#cap" transform="translate(1470.6 285.7) rotate(60)"/><use href="#cap" transform="translate(1446.4 285.7) rotate(-60)"/><use href="#cap" transform="translate(1530.7 264.8) rotate(-180)"/><use href="#cap" transform="translate(1518.6 285.7) rotate(60)"/><use href="#cap" transform="translate(1494.4 285.7) rotate(-240)"/><use href="#cap" transform="translate(1578.7 264.8) rotate(-180)"/><use href="#cap" transform="translate(1566.6 285.7) rotate(-120)"/><use href="#cap" transform="translate(1542.4 285.7) rotate(-240)"/><use href="#cap" transform="translate(1626.7 264.8) rotate(-180)"/><use href="#cap" transform="translate(1614.6 285.7) rotate(60)"/><use href="#cap" transform="translate(1590.4 285.7) rotate(-60)"/><use href="#cap" transform="translate(1674.7 264.8) rotate(-180)"/><use href="#cap" transform="translate(1662.6 285.7) rotate(60)"/><use href="#cap" transform="translate(1638.4 285.7) rotate(-60)"/><use href="#cap" transform="translate(1722.7 264.8) rotate(0)"/><use href="#cap" transform="translate(1710.6 285.7) rotate(-120)"/><use href="#cap" transform="translate(1686.4 285.7) rotate(-240)"/><use href="#cap" transform="translate(1770.7 264.8) rotate(-180)"/><use href="#cap" transform="translate(1758.6 285.7) rotate(-120)"/><use href="#cap" transform="translate(1734.4 285.7) rotate(-240)"/><use href="#cap" transform="translate(1818.7 264.8) rotate(0)"/><use href="#cap" transform="translate(1806.6 285.7) rotate(60)"/><use href="#cap" transform="translate(1782.4 285.7) rotate(-60)"/><use href="#cap" transform="translate(1866.7 264.8) rotate(0)"/><use href="#cap" transform="translate(1854.6 285.7) rotate(60)"/><use href="#cap" transform="translate(1830.4 285.7) rotate(-60)"/><use href="#cap" transform="translate(1914.7 264.8) rotate(-180)"/><use href="#cap" transform="translate(1902.6 285.7) rotate(60)"/><use href="#cap" transform="translate(1878.4 285.7) rotate(-60)"/><use href="#cap" transform="translate(1950.6 243.9) rotate(-60)"/><use href="#cap" transform="translate(1962.7 264.8) rotate(0)"/><use href="#cap" transform="translate(1950.6 285.7) rotate(60)"/><use href="#cap" transform="translate(1926.4 285.7) rotate(-240)"/><use href="#cap" transform="translate(1458.7 306.8) rotate(0)"/><use href="#cap" transform="translate(1446.6 327.7) rotate(-120)"/><use href="#cap" transform="translate(1422.4 327.7) rotate(-60)"/><use href="#cap" transform="translate(1410.3 306.8) rotate(0)"/><use href="#cap" transform="translate(1506.7 306.8) rotate(-180)"/><use href="#cap" transform="translate(1494.6 327.7) rotate(-120)"/><use href="#cap" transform="translate(1470.4 327.7) rotate(-60)"/><use href="#cap" transform="translate(1554.7 306.8) rotate(0)"/><use href="#cap" transform="translate(1542.6 327.7) rotate(-120)"/><use href="#cap" transform="translate(1518.4 327.7) rotate(-240)"/><use href="#cap" transform="translate(1602.7 306.8) rotate(-180)"/><use href="#cap" transform="translate(1590.6 327.7) rotate(60)"/><use href="#cap" transform="translate(1566.4 327.7) rotate(-60)"/><use href="#cap" transform="translate(1650.7 306.8) rotate(-180)"/><use href="#cap" transform="translate(1638.6 327.7) rotate(60)"/><use href="#cap" transform="translate(1614.4 327.7) rotate(-60)"/><use href="#cap" transform="translate(1698.7 306.8) rotate(0)"/><use href="#cap" transform="translate(1686.6 327.7) rotate(-120)"/><use href="#cap" transform="translate(1662.4 327.7) rotate(-60)"/><use href="#cap" transform="translate(1746.7 306.8) rotate(-180)"/><use href="#cap" transform="translate(1734.6 327.7) rotate(-120)"/><use href="#cap" transform="translate(1710.4 327.7) rotate(-60)"/><use href="#cap" transform="translate(1794.7 306.8) rotate(0)"/><use href="#cap" transform="translate(1782.6 327.7) rotate(60)"/><use href="#cap" transform="translate(1758.4 327.7) rotate(-60)"/><use href="#cap" transform="translate(1842.7 306.8) rotate(-180)"/><use href="#cap" transform="translate(1830.6 327.7) rotate(60)"/><use href="#cap" transform="translate(1806.4 327.7) rotate(-60)"/><use href="#cap" transform="translate(1890.7 306.8) rotate(-180)"/><use href="#cap" transform="translate(1878.6 327.7) rotate(-120)"/><use href="#cap" transform="translate(1854.4 327.7) rotate(-240)"/><use href="#cap" transform="translate(1938.7 306.8) rotate(-180)"/><use href="#cap" transform="translate(1926.6 327.7) rotate(60)"/><use href="#cap" transform="translate(1902.4 327.7) rotate(-240)"/><use href="#cap" transform="translate(1434.7 348.7) rotate(-180)"/><use href="#cap" transform="translate(1422.6 369.6) rotate(-120)"/><use href="#cap" transform="translate(1398.4 369.6) rotate(-60)"/><use href="#cap" transform="translate(1386.3 348.7) rotate(-180)"/><use href="#cap" transform="translate(1398.4 327.8) rotate(60)"/><use href="#cap" transform="translate(1482.7 348.7) rotate(0)"/><use href="#cap" transform="translate(1470.6 369.6) rotate(60)"/><use href="#cap" transform="translate(1446.4 369.6) rotate(-240)"/><use href="#cap" transform="translate(1530.7 348.7) rotate(0)"/><use href="#cap" transform="translate(1518.6 369.6) rotate(60)"/><use href="#cap" transform="translate(1494.4 369.6) rotate(-60)"/><use href="#cap" transform="translate(1578.7 348.7) rotate(0)"/><use href="#cap" transform="translate(1566.6 369.6) rotate(-120)"/><use href="#cap" transform="translate(1542.4 369.6) rotate(-240)"/><use href="#cap" transform="translate(1626.7 348.7) rotate(-180)"/><use href="#cap" transform="translate(1614.6 369.6) rotate(-120)"/><use href="#cap" transform="translate(1590.4 369.6) rotate(-60)"/><use href="#cap" transform="translate(1674.7 348.7) rotate(-180)"/><use href="#cap" transform="translate(1662.6 369.6) rotate(60)"/><use href="#cap" transform="translate(1638.4 369.6) rotate(-60)"/><use href="#cap" transform="translate(1722.7 348.7) rotate(0)"/><use href="#cap" transform="translate(1710.6 369.6) rotate(-120)"/><use href="#cap" transform="translate(1686.4 369.6) rotate(-60)"/><use href="#cap" transform="translate(1770.7 348.7) rotate(0)"/><use href="#cap" transform="translate(1758.6 369.6) rotate(60)"/><use href="#cap" transform="translate(1734.4 369.6) rotate(-240)"/><use href="#cap" transform="translate(1818.7 348.7) rotate(0)"/><use href="#cap" transform="translate(1806.6 369.6) rotate(-120)"/><use href="#cap" transform="translate(1782.4 369.6) rotate(-240)"/><use href="#cap" transform="translate(1866.7 348.7) rotate(0)"/><use href="#cap" transform="translate(1854.6 369.6) rotate(60)"/><use href="#cap" transform="translate(1830.4 369.6) rotate(-60)"/><use href="#cap" transform="translate(1914.7 348.7) rotate(0)"/><use href="#cap" transform="translate(1902.6 369.6) rotate(60)"/><use href="#cap" transform="translate(1878.4 369.6) rotate(-240)"/><use href="#cap" transform="translate(1950.6 327.8) rotate(-60)"/><use href="#cap" transform="translate(1962.7 348.7) rotate(0)"/><use href="#cap" transform="translate(1950.6 369.6) rotate(60)"/><use href="#cap" transform="translate(1926.4 369.6) rotate(-60)"/><use href="#cap" transform="translate(1458.7 390.7) rotate(0)"/><use href="#cap" transform="translate(1446.6 411.6) rotate(60)"/><use href="#cap" transform="translate(1422.4 411.6) rotate(-60)"/><use href="#cap" transform="translate(1410.3 390.7) rotate(0)"/><use href="#cap" transform="translate(1506.7 390.7) rotate(0)"/><use href="#cap" transform="translate(1494.6 411.6) rotate(60)"/><use href="#cap" transform="translate(1470.4 411.6) rotate(-60)"/><use href="#cap" transform="translate(1554.7 390.7) rotate(-180)"/><use href="#cap" transform="translate(1542.6 411.6) rotate(60)"/><use href="#cap" transform="translate(1518.4 411.6) rotate(-60)"/><use href="#cap" transform="translate(1602.7 390.7) rotate(0)"/><use href="#cap" transform="translate(1590.6 411.6) rotate(-120)"/><use href="#cap" transform="translate(1566.4 411.6) rotate(-240)"/><use href="#cap" transform="translate(1650.7 390.7) rotate(-180)"/><use href="#cap" transform="translate(1638.6 411.6) rotate(-120)"/><use href="#cap" transform="translate(1614.4 411.6) rotate(-240)"/><use href="#cap" transform="translate(1698.7 390.7) rotate(-180)"/><use href="#cap" transform="translate(1686.6 411.6) rotate(60)"/><use href="#cap" transform="translate(1662.4 411.6) rotate(-60)"/><use href="#cap" transform="translate(1746.7 390.7) rotate(0)"/><use href="#cap" transform="translate(1734.6 411.6) rotate(-120)"/><use href="#cap" transform="translate(1710.4 411.6) rotate(-60)"/><use href="#cap" transform="translate(1794.7 390.7) rotate(0)"/><use href="#cap" transform="translate(1782.6 411.6) rotate(-120)"/><use href="#cap" transform="translate(1758.4 411.6) rotate(-60)"/><use href="#cap" transform="translate(1842.7 390.7) rotate(0)"/><use href="#cap" transform="translate(1830.6 411.6) rotate(-120)"/><use href="#cap" transform="translate(1806.4 411.6) rotate(-60)"/><use href="#cap" transform="translate(1890.7 390.7) rotate(-180)"/><use href="#cap" transform="translate(1878.6 411.6) rotate(60)"/><use href="#cap" transform="translate(1854.4 411.6) rotate(-60)"/><use href="#cap" transform="translate(1938.7 390.7) rotate(0)"/><use href="#cap" transform="translate(1926.6 411.6) rotate(-120)"/><use href="#cap" transform="translate(1902.4 411.6) rotate(-240)"/><use href="#cap" transform="translate(1434.7 432.6) rotate(0)"/><use href="#cap" transform="translate(1422.6 453.5) rotate(-120)"/><use href="#cap" transform="translate(1398.4 453.5) rotate(-240)"/><use href="#cap" transform="translate(1386.3 432.6) rotate(-180)"/><use href="#cap" transform="translate(1398.4 411.7) rotate(60)"/><use href="#cap" transform="translate(1482.7 432.6) rotate(-180)"/><use href="#cap" transform="translate(1470.6 453.5) rotate(60)"/><use href="#cap" transform="translate(1446.4 453.5) rotate(-240)"/><use href="#cap" transform="translate(1530.7 432.6) rotate(-180)"/><use href="#cap" transform="translate(1518.6 453.5) rotate(-120)"/><use href="#cap" transform="translate(1494.4 453.5) rotate(-60)"/><use href="#cap" transform="translate(1578.7 432.6) rotate(0)"/><use href="#cap" transform="translate(1566.6 453.5) rotate(-120)"/><use href="#cap" transform="translate(1542.4 453.5) rotate(-60)"/><use href="#cap" transform="translate(1626.7 432.6) rotate(0)"/><use href="#cap" transform="translate(1614.6 453.5) rotate(60)"/><use href="#cap" transform="translate(1590.4 453.5) rotate(-240)"/><use href="#cap" transform="translate(1674.7 432.6) rotate(-180)"/><use href="#cap" transform="translate(1662.6 453.5) rotate(-120)"/><use href="#cap" transform="translate(1638.4 453.5) rotate(-60)"/><use href="#cap" transform="translate(1722.7 432.6) rotate(-180)"/><use href="#cap" transform="translate(1710.6 453.5) rotate(-120)"/><use href="#cap" transform="translate(1686.4 453.5) rotate(-240)"/><use href="#cap" transform="translate(1770.7 432.6) rotate(0)"/><use href="#cap" transform="translate(1758.6 453.5) rotate(60)"/><use href="#cap" transform="translate(1734.4 453.5) rotate(-240)"/><use href="#cap" transform="translate(1818.7 432.6) rotate(-180)"/><use href="#cap" transform="translate(1806.6 453.5) rotate(60)"/><use href="#cap" transform="translate(1782.4 453.5) rotate(-60)"/><use href="#cap" transform="translate(1866.7 432.6) rotate(0)"/><use href="#cap" transform="translate(1854.6 453.5) rotate(-120)"/><use href="#cap" transform="translate(1830.4 453.5) rotate(-240)"/><use href="#cap" transform="translate(1914.7 432.6) rotate(0)"/><use href="#cap" transform="translate(1902.6 453.5) rotate(-120)"/><use href="#cap" transform="translate(1878.4 453.5) rotate(-240)"/><use href="#cap" transform="translate(1950.6 411.7) rotate(-60)"/><use href="#cap" transform="translate(1962.7 432.6) rotate(0)"/><use href="#cap" transform="translate(1950.6 453.5) rotate(60)"/><use href="#cap" transform="translate(1926.4 453.5) rotate(-240)"/><use href="#cap" transform="translate(1458.7 474.6) rotate(0)"/><use href="#cap" transform="translate(1446.6 495.5) rotate(-120)"/><use href="#cap" transform="translate(1422.4 495.5) rotate(-60)"/><use href="#cap" transform="translate(1410.3 474.6) rotate(0)"/><use href="#cap" transform="translate(1506.7 474.6) rotate(-180)"/><use href="#cap" transform="translate(1494.6 495.5) rotate(60)"/><use href="#cap" transform="translate(1470.4 495.5) rotate(-60)"/><use href="#cap" transform="translate(1554.7 474.6) rotate(-180)"/><use href="#cap" transform="translate(1542.6 495.5) rotate(-120)"/><use href="#cap" transform="translate(1518.4 495.5) rotate(-60)"/><use href="#cap" transform="translate(1602.7 474.6) rotate(-180)"/><use href="#cap" transform="translate(1590.6 495.5) rotate(-120)"/><use href="#cap" transform="translate(1566.4 495.5) rotate(-240)"/><use href="#cap" transform="translate(1650.7 474.6) rotate(-180)"/><use href="#cap" transform="translate(1638.6 495.5) rotate(-120)"/><use href="#cap" transform="translate(1614.4 495.5) rotate(-240)"/><use href="#cap" transform="translate(1698.7 474.6) rotate(-180)"/><use href="#cap" transform="translate(1686.6 495.5) rotate(60)"/><use href="#cap" transform="translate(1662.4 495.5) rotate(-240)"/><use href="#cap" transform="translate(1746.7 474.6) rotate(0)"/><use href="#cap" transform="translate(1734.6 495.5) rotate(-120)"/><use href="#cap" transform="translate(1710.4 495.5) rotate(-240)"/><use href="#cap" transform="translate(1794.7 474.6) rotate(-180)"/><use href="#cap" transform="translate(1782.6 495.5) rotate(-120)"/><use href="#cap" transform="translate(1758.4 495.5) rotate(-240)"/><use href="#cap" transform="translate(1842.7 474.6) rotate(0)"/><use href="#cap" transform="translate(1830.6 495.5) rotate(60)"/><use href="#cap" transform="translate(1806.4 495.5) rotate(-240)"/><use href="#cap" transform="translate(1890.7 474.6) rotate(0)"/><use href="#cap" transform="translate(1878.6 495.5) rotate(60)"/><use href="#cap" transform="translate(1854.4 495.5) rotate(-240)"/><use href="#cap" transform="translate(1938.7 474.6) rotate(0)"/><use href="#cap" transform="translate(1926.6 495.5) rotate(-120)"/><use href="#cap" transform="translate(1902.4 495.5) rotate(-60)"/><use href="#cap" transform="translate(1434.7 516.5) rotate(0)"/><use href="#cap" transform="translate(1422.6 537.4) rotate(-120)"/><use href="#cap" transform="translate(1398.4 537.4) rotate(-60)"/><use href="#cap" transform="translate(1386.3 516.5) rotate(0)"/><use href="#cap" transform="translate(1398.4 495.6) rotate(60)"/><use href="#cap" transform="translate(1482.7 516.5) rotate(-180)"/><use href="#cap" transform="translate(1470.6 537.4) rotate(60)"/><use href="#cap" transform="translate(1446.4 537.4) rotate(-60)"/><use href="#cap" transform="translate(1530.7 516.5) rotate(0)"/><use href="#cap" transform="translate(1518.6 537.4) rotate(-120)"/><use href="#cap" transform="translate(1494.4 537.4) rotate(-240)"/><use href="#cap" transform="translate(1578.7 516.5) rotate(-180)"/><use href="#cap" transform="translate(1566.6 537.4) rotate(-120)"/><use href="#cap" transform="translate(1542.4 537.4) rotate(-240)"/><use href="#cap" transform="translate(1626.7 516.5) rotate(0)"/><use href="#cap" transform="translate(1614.6 537.4) rotate(-120)"/><use href="#cap" transform="translate(1590.4 537.4) rotate(-240)"/><use href="#cap" transform="translate(1674.7 516.5) rotate(-180)"/><use href="#cap" transform="translate(1662.6 537.4) rotate(60)"/><use href="#cap" transform="translate(1638.4 537.4) rotate(-60)"/><use href="#cap" transform="translate(1722.7 516.5) rotate(0)"/><use href="#cap" transform="translate(1710.6 537.4) rotate(-120)"/><use href="#cap" transform="translate(1686.4 537.4) rotate(-240)"/><use href="#cap" transform="translate(1770.7 516.5) rotate(-180)"/><use href="#cap" transform="translate(1758.6 537.4) rotate(60)"/><use href="#cap" transform="translate(1734.4 537.4) rotate(-240)"/><use href="#cap" transform="translate(1818.7 516.5) rotate(-180)"/><use href="#cap" transform="translate(1806.6 537.4) rotate(-120)"/><use href="#cap" transform="translate(1782.4 537.4) rotate(-60)"/><use href="#cap" transform="translate(1866.7 516.5) rotate(0)"/><use href="#cap" transform="translate(1854.6 537.4) rotate(60)"/><use href="#cap" transform="translate(1830.4 537.4) rotate(-240)"/><use href="#cap" transform="translate(1914.7 516.5) rotate(0)"/><use href="#cap" transform="translate(1902.6 537.4) rotate(-120)"/><use href="#cap" transform="translate(1878.4 537.4) rotate(-240)"/><use href="#cap" transform="translate(1950.6 495.6) rotate(-240)"/><use href="#cap" transform="translate(1962.7 516.5) rotate(-180)"/><use href="#cap" transform="translate(1950.6 537.4) rotate(60)"/><use href="#cap" transform="translate(1926.4 537.4) rotate(-60)"/><use href="#cap" transform="translate(1458.7 558.5) rotate(-180)"/><use href="#cap" transform="translate(1446.6 579.4) rotate(60)"/><use href="#cap" transform="translate(1422.4 579.4) rotate(-240)"/><use href="#cap" transform="translate(1410.3 558.5) rotate(-180)"/><use href="#cap" transform="translate(1506.7 558.5) rotate(-180)"/><use href="#cap" transform="translate(1494.6 579.4) rotate(-120)"/><use href="#cap" transform="translate(1470.4 579.4) rotate(-240)"/><use href="#cap" transform="translate(1554.7 558.5) rotate(-180)"/><use href="#cap" transform="translate(1542.6 579.4) rotate(-120)"/><use href="#cap" transform="translate(1518.4 579.4) rotate(-240)"/><use href="#cap" transform="translate(1602.7 558.5) rotate(0)"/><use href="#cap" transform="translate(1590.6 579.4) rotate(60)"/><use href="#cap" transform="translate(1566.4 579.4) rotate(-60)"/><use href="#cap" transform="translate(1650.7 558.5) rotate(0)"/><use href="#cap" transform="translate(1638.6 579.4) rotate(60)"/><use href="#cap" transform="translate(1614.4 579.4) rotate(-60)"/><use href="#cap" transform="translate(1698.7 558.5) rotate(-180)"/><use href="#cap" transform="translate(1686.6 579.4) rotate(-120)"/><use href="#cap" transform="translate(1662.4 579.4) rotate(-60)"/><use href="#cap" transform="translate(1746.7 558.5) rotate(-180)"/><use href="#cap" transform="translate(1734.6 579.4) rotate(60)"/><use href="#cap" transform="translate(1710.4 579.4) rotate(-60)"/><use href="#cap" transform="translate(1794.7 558.5) rotate(-180)"/><use href="#cap" transform="translate(1782.6 579.4) rotate(60)"/><use href="#cap" transform="translate(1758.4 579.4) rotate(-60)"/><use href="#cap" transform="translate(1842.7 558.5) rotate(0)"/><use href="#cap" transform="translate(1830.6 579.4) rotate(60)"/><use href="#cap" transform="translate(1806.4 579.4) rotate(-60)"/><use href="#cap" transform="translate(1890.7 558.5) rotate(-180)"/><use href="#cap" transform="translate(1878.6 579.4) rotate(60)"/><use href="#cap" transform="translate(1854.4 579.4) rotate(-60)"/><use href="#cap" transform="translate(1938.7 558.5) rotate(0)"/><use href="#cap" transform="translate(1926.6 579.4) rotate(60)"/><use href="#cap" transform="translate(1902.4 579.4) rotate(-60)"/><use href="#cap" transform="translate(1434.7 600.4) rotate(0)"/><use href="#cap" transform="translate(1422.6 621.3) rotate(60)"/><use href="#cap" transform="translate(1398.4 621.3) rotate(-60)"/><use href="#cap" transform="translate(1386.3 600.4) rotate(0)"/><use href="#cap" transform="translate(1398.4 579.5) rotate(-120)"/><use href="#cap" transform="translate(1482.7 600.4) rotate(-180)"/><use href="#cap" transform="translate(1470.6 621.3) rotate(-120)"/><use href="#cap" transform="translate(1446.4 621.3) rotate(-240)"/><use href="#cap" transform="translate(1530.7 600.4) rotate(-180)"/><use href="#cap" transform="translate(1518.6 621.3) rotate(60)"/><use href="#cap" transform="translate(1494.4 621.3) rotate(-60)"/><use href="#cap" transform="translate(1578.7 600.4) rotate(0)"/><use href="#cap" transform="translate(1566.6 621.3) rotate(60)"/><use href="#cap" transform="translate(1542.4 621.3) rotate(-60)"/><use href="#cap" transform="translate(1626.7 600.4) rotate(0)"/><use href="#cap" transform="translate(1614.6 621.3) rotate(-120)"/><use href="#cap" transform="translate(1590.4 621.3) rotate(-60)"/><use href="#cap" transform="translate(1674.7 600.4) rotate(0)"/><use href="#cap" transform="translate(1662.6 621.3) rotate(60)"/><use href="#cap" transform="translate(1638.4 621.3) rotate(-60)"/><use href="#cap" transform="translate(1722.7 600.4) rotate(0)"/><use href="#cap" transform="translate(1710.6 621.3) rotate(-120)"/><use href="#cap" transform="translate(1686.4 621.3) rotate(-60)"/><use href="#cap" transform="translate(1770.7 600.4) rotate(-180)"/><use href="#cap" transform="translate(1758.6 621.3) rotate(-120)"/><use href="#cap" transform="translate(1734.4 621.3) rotate(-240)"/><use href="#cap" transform="translate(1818.7 600.4) rotate(0)"/><use href="#cap" transform="translate(1806.6 621.3) rotate(-120)"/><use href="#cap" transform="translate(1782.4 621.3) rotate(-60)"/><use href="#cap" transform="translate(1866.7 600.4) rotate(0)"/><use href="#cap" transform="translate(1854.6 621.3) rotate(60)"/><use href="#cap" transform="translate(1830.4 621.3) rotate(-240)"/><use href="#cap" transform="translate(1914.7 600.4) rotate(0)"/><use href="#cap" transform="translate(1902.6 621.3) rotate(60)"/><use href="#cap" transform="translate(1878.4 621.3) rotate(-60)"/><use href="#cap" transform="translate(1950.6 579.5) rotate(-60)"/><use href="#cap" transform="translate(1962.7 600.4) rotate(0)"/><use href="#cap" transform="translate(1950.6 621.3) rotate(-120)"/><use href="#cap" transform="translate(1926.4 621.3) rotate(-240)"/><circle cx="1434.7" cy="83" r="4.9" fill="url(#sphB)"/><circle cx="1434.7" cy="111" r="4.9" fill="url(#sphR)"/><circle cx="1410.5" cy="124.9" r="4.9" fill="url(#sphR)"/><circle cx="1482.7" cy="83" r="4.9" fill="url(#sphR)"/><circle cx="1482.7" cy="111" r="4.9" fill="url(#sphR)"/><circle cx="1458.5" cy="124.9" r="4.9" fill="#000"/><circle cx="1530.7" cy="83" r="4.9" fill="url(#sphR)"/><circle cx="1530.7" cy="111" r="4.9" fill="url(#sphB)"/><circle cx="1506.5" cy="124.9" r="4.9" fill="url(#sphB)"/><circle cx="1578.7" cy="83" r="4.9" fill="url(#sphB)"/><circle cx="1578.7" cy="111" r="4.9" fill="url(#sphR)"/><circle cx="1554.5" cy="124.9" r="4.9" fill="url(#sphR)"/><circle cx="1626.7" cy="83" r="4.9" fill="url(#sphR)"/><circle cx="1626.7" cy="111" r="4.9" fill="url(#sphR)"/><circle cx="1602.5" cy="124.9" r="4.9" fill="#000"/><circle cx="1674.7" cy="83" r="4.9" fill="url(#sphB)"/><circle cx="1674.7" cy="111" r="4.9" fill="url(#sphR)"/><circle cx="1650.5" cy="124.9" r="4.9" fill="url(#sphB)"/><circle cx="1722.7" cy="83" r="4.9" fill="url(#sphB)"/><circle cx="1722.7" cy="111" r="4.9" fill="url(#sphR)"/><circle cx="1698.5" cy="124.9" r="4.9" fill="url(#sphB)"/><circle cx="1770.7" cy="83" r="4.9" fill="url(#sphB)"/><circle cx="1770.7" cy="111" r="4.9" fill="url(#sphR)"/><circle cx="1746.5" cy="124.9" r="4.9" fill="url(#sphB)"/><circle cx="1818.7" cy="83" r="4.9" fill="url(#sphR)"/><circle cx="1818.7" cy="111" r="4.9" fill="url(#sphR)"/><circle cx="1794.5" cy="124.9" r="4.9" fill="url(#sphR)"/><circle cx="1866.7" cy="83" r="4.9" fill="url(#sphR)"/><circle cx="1866.7" cy="111" r="4.9" fill="url(#sphB)"/><circle cx="1842.5" cy="124.9" r="4.9" fill="url(#sphB)"/><circle cx="1914.7" cy="83" r="4.9" fill="url(#sphB)"/><circle cx="1914.7" cy="111" r="4.9" fill="url(#sphR)"/><circle cx="1890.5" cy="124.9" r="4.9" fill="url(#sphR)"/><circle cx="1938.5" cy="124.9" r="4.9" fill="url(#sphR)"/><circle cx="1458.7" cy="152.9" r="4.9" fill="url(#sphR)"/><circle cx="1434.5" cy="166.8" r="4.9" fill="url(#sphB)"/><circle cx="1410.3" cy="152.9" r="4.9" fill="url(#sphR)"/><circle cx="1506.7" cy="152.9" r="4.9" fill="url(#sphB)"/><circle cx="1482.5" cy="166.8" r="4.9" fill="url(#sphR)"/><circle cx="1554.7" cy="152.9" r="4.9" fill="url(#sphB)"/><circle cx="1530.5" cy="166.8" r="4.9" fill="url(#sphR)"/><circle cx="1602.7" cy="152.9" r="4.9" fill="url(#sphR)"/><circle cx="1578.5" cy="166.8" r="4.9" fill="url(#sphB)"/><circle cx="1650.7" cy="152.9" r="4.9" fill="url(#sphB)"/><circle cx="1626.5" cy="166.8" r="4.9" fill="url(#sphR)"/><circle cx="1698.7" cy="152.9" r="4.9" fill="url(#sphR)"/><circle cx="1674.5" cy="166.8" r="4.9" fill="url(#sphB)"/><circle cx="1746.7" cy="152.9" r="4.9" fill="url(#sphR)"/><circle cx="1722.5" cy="166.8" r="4.9" fill="url(#sphR)"/><circle cx="1794.7" cy="152.9" r="4.9" fill="url(#sphB)"/><circle cx="1770.5" cy="166.8" r="4.9" fill="url(#sphB)"/><circle cx="1842.7" cy="152.9" r="4.9" fill="url(#sphR)"/><circle cx="1818.5" cy="166.8" r="4.9" fill="url(#sphB)"/><circle cx="1890.7" cy="152.9" r="4.9" fill="url(#sphB)"/><circle cx="1866.5" cy="166.8" r="4.9" fill="url(#sphB)"/><circle cx="1938.7" cy="152.9" r="4.9" fill="url(#sphB)"/><circle cx="1914.5" cy="166.8" r="4.9" fill="url(#sphR)"/><circle cx="1434.7" cy="194.8" r="4.9" fill="url(#sphR)"/><circle cx="1410.5" cy="208.8" r="4.9" fill="url(#sphR)"/><circle cx="1482.7" cy="194.8" r="4.9" fill="url(#sphR)"/><circle cx="1458.5" cy="208.8" r="4.9" fill="url(#sphB)"/><circle cx="1530.7" cy="194.8" r="4.9" fill="url(#sphR)"/><circle cx="1506.5" cy="208.8" r="4.9" fill="url(#sphB)"/><circle cx="1578.7" cy="194.8" r="4.9" fill="url(#sphR)"/><circle cx="1554.5" cy="208.8" r="4.9" fill="url(#sphR)"/><circle cx="1626.7" cy="194.8" r="4.9" fill="url(#sphR)"/><circle cx="1602.5" cy="208.8" r="4.9" fill="url(#sphB)"/><circle cx="1674.7" cy="194.8" r="4.9" fill="url(#sphR)"/><circle cx="1650.5" cy="208.8" r="4.9" fill="url(#sphB)"/><circle cx="1722.7" cy="194.8" r="4.9" fill="url(#sphB)"/><circle cx="1698.5" cy="208.8" r="4.9" fill="url(#sphR)"/><circle cx="1770.7" cy="194.8" r="4.9" fill="url(#sphR)"/><circle cx="1746.5" cy="208.8" r="4.9" fill="url(#sphB)"/><circle cx="1818.7" cy="194.8" r="4.9" fill="url(#sphR)"/><circle cx="1794.5" cy="208.8" r="4.9" fill="url(#sphR)"/><circle cx="1866.7" cy="194.8" r="4.9" fill="url(#sphR)"/><circle cx="1842.5" cy="208.8" r="4.9" fill="url(#sphB)"/><circle cx="1914.7" cy="194.8" r="4.9" fill="url(#sphR)"/><circle cx="1890.5" cy="208.8" r="4.9" fill="url(#sphB)"/><circle cx="1938.5" cy="208.8" r="4.9" fill="url(#sphR)"/><circle cx="1458.7" cy="236.8" r="4.9" fill="url(#sphB)"/><circle cx="1434.5" cy="250.8" r="4.9" fill="url(#sphR)"/><circle cx="1410.3" cy="236.8" r="4.9" fill="url(#sphR)"/><circle cx="1506.7" cy="236.8" r="4.9" fill="url(#sphR)"/><circle cx="1482.5" cy="250.8" r="4.9" fill="url(#sphR)"/><circle cx="1554.7" cy="236.8" r="4.9" fill="url(#sphR)"/><circle cx="1530.5" cy="250.8" r="4.9" fill="url(#sphB)"/><circle cx="1602.7" cy="236.8" r="4.9" fill="url(#sphB)"/><circle cx="1578.5" cy="250.8" r="4.9" fill="url(#sphR)"/><circle cx="1650.7" cy="236.8" r="4.9" fill="url(#sphR)"/><circle cx="1626.5" cy="250.8" r="4.9" fill="url(#sphR)"/><circle cx="1698.7" cy="236.8" r="4.9" fill="url(#sphR)"/><circle cx="1674.5" cy="250.8" r="4.9" fill="url(#sphB)"/><circle cx="1746.7" cy="236.8" r="4.9" fill="url(#sphB)"/><circle cx="1722.5" cy="250.8" r="4.9" fill="url(#sphB)"/><circle cx="1794.7" cy="236.8" r="4.9" fill="url(#sphB)"/><circle cx="1770.5" cy="250.8" r="4.9" fill="url(#sphR)"/><circle cx="1842.7" cy="236.8" r="4.9" fill="url(#sphR)"/><circle cx="1818.5" cy="250.8" r="4.9" fill="url(#sphB)"/><circle cx="1890.7" cy="236.8" r="4.9" fill="url(#sphR)"/><circle cx="1866.5" cy="250.8" r="4.9" fill="url(#sphR)"/><circle cx="1938.7" cy="236.8" r="4.9" fill="url(#sphR)"/><circle cx="1914.5" cy="250.8" r="4.9" fill="url(#sphR)"/><circle cx="1434.7" cy="278.8" r="4.9" fill="url(#sphB)"/><circle cx="1410.5" cy="292.7" r="4.9" fill="url(#sphR)"/><circle cx="1482.7" cy="278.8" r="4.9" fill="url(#sphR)"/><circle cx="1458.5" cy="292.7" r="4.9" fill="url(#sphR)"/><circle cx="1530.7" cy="278.8" r="4.9" fill="url(#sphB)"/><circle cx="1506.5" cy="292.7" r="4.9" fill="url(#sphB)"/><circle cx="1578.7" cy="278.8" r="4.9" fill="url(#sphR)"/><circle cx="1554.5" cy="292.7" r="4.9" fill="url(#sphB)"/><circle cx="1626.7" cy="278.8" r="4.9" fill="url(#sphR)"/><circle cx="1602.5" cy="292.7" r="4.9" fill="url(#sphB)"/><circle cx="1674.7" cy="278.8" r="4.9" fill="url(#sphB)"/><circle cx="1650.5" cy="292.7" r="4.9" fill="url(#sphB)"/><circle cx="1722.7" cy="278.8" r="4.9" fill="url(#sphR)"/><circle cx="1698.5" cy="292.7" r="4.9" fill="url(#sphB)"/><circle cx="1770.7" cy="278.8" r="4.9" fill="url(#sphB)"/><circle cx="1746.5" cy="292.7" r="4.9" fill="url(#sphB)"/><circle cx="1818.7" cy="278.8" r="4.9" fill="url(#sphB)"/><circle cx="1794.5" cy="292.7" r="4.9" fill="url(#sphR)"/><circle cx="1866.7" cy="278.8" r="4.9" fill="url(#sphB)"/><circle cx="1842.5" cy="292.7" r="4.9" fill="url(#sphR)"/><circle cx="1914.7" cy="278.8" r="4.9" fill="url(#sphB)"/><circle cx="1890.5" cy="292.7" r="4.9" fill="url(#sphB)"/><circle cx="1938.5" cy="292.7" r="4.9" fill="url(#sphB)"/><circle cx="1458.7" cy="320.7" r="4.9" fill="url(#sphB)"/><circle cx="1434.5" cy="334.6" r="4.9" fill="url(#sphB)"/><circle cx="1410.3" cy="320.7" r="4.9" fill="url(#sphR)"/><circle cx="1506.7" cy="320.7" r="4.9" fill="url(#sphR)"/><circle cx="1482.5" cy="334.6" r="4.9" fill="url(#sphB)"/><circle cx="1554.7" cy="320.7" r="4.9" fill="url(#sphR)"/><circle cx="1530.5" cy="334.6" r="4.9" fill="url(#sphB)"/><circle cx="1602.7" cy="320.7" r="4.9" fill="url(#sphB)"/><circle cx="1578.5" cy="334.6" r="4.9" fill="url(#sphB)"/><circle cx="1650.7" cy="320.7" r="4.9" fill="url(#sphR)"/><circle cx="1626.5" cy="334.6" r="4.9" fill="url(#sphR)"/><circle cx="1698.7" cy="320.7" r="4.9" fill="url(#sphR)"/><circle cx="1674.5" cy="334.6" r="4.9" fill="url(#sphB)"/><circle cx="1746.7" cy="320.7" r="4.9" fill="url(#sphR)"/><circle cx="1722.5" cy="334.6" r="4.9" fill="url(#sphB)"/><circle cx="1794.7" cy="320.7" r="4.9" fill="url(#sphR)"/><circle cx="1770.5" cy="334.6" r="4.9" fill="url(#sphR)"/><circle cx="1842.7" cy="320.7" r="4.9" fill="url(#sphR)"/><circle cx="1818.5" cy="334.6" r="4.9" fill="url(#sphB)"/><circle cx="1890.7" cy="320.7" r="4.9" fill="url(#sphR)"/><circle cx="1866.5" cy="334.6" r="4.9" fill="url(#sphB)"/><circle cx="1938.7" cy="320.7" r="4.9" fill="url(#sphR)"/><circle cx="1914.5" cy="334.6" r="4.9" fill="url(#sphB)"/><circle cx="1434.7" cy="362.7" r="4.9" fill="url(#sphR)"/><circle cx="1410.5" cy="376.6" r="4.9" fill="url(#sphB)"/><circle cx="1482.7" cy="362.7" r="4.9" fill="url(#sphR)"/><circle cx="1458.5" cy="376.6" r="4.9" fill="url(#sphB)"/><circle cx="1530.7" cy="362.7" r="4.9" fill="url(#sphR)"/><circle cx="1506.5" cy="376.6" r="4.9" fill="url(#sphB)"/><circle cx="1578.7" cy="362.7" r="4.9" fill="url(#sphR)"/><circle cx="1554.5" cy="376.6" r="4.9" fill="url(#sphB)"/><circle cx="1626.7" cy="362.7" r="4.9" fill="url(#sphB)"/><circle cx="1602.5" cy="376.6" r="4.9" fill="url(#sphB)"/><circle cx="1674.7" cy="362.7" r="4.9" fill="url(#sphR)"/><circle cx="1650.5" cy="376.6" r="4.9" fill="url(#sphB)"/><circle cx="1722.7" cy="362.7" r="4.9" fill="url(#sphR)"/><circle cx="1698.5" cy="376.6" r="4.9" fill="url(#sphB)"/><circle cx="1770.7" cy="362.7" r="4.9" fill="url(#sphR)"/><circle cx="1746.5" cy="376.6" r="4.9" fill="url(#sphB)"/><circle cx="1818.7" cy="362.7" r="4.9" fill="url(#sphB)"/><circle cx="1794.5" cy="376.6" r="4.9" fill="url(#sphB)"/><circle cx="1866.7" cy="362.7" r="4.9" fill="url(#sphB)"/><circle cx="1842.5" cy="376.6" r="4.9" fill="url(#sphR)"/><circle cx="1914.7" cy="362.7" r="4.9" fill="url(#sphR)"/><circle cx="1890.5" cy="376.6" r="4.9" fill="url(#sphB)"/><circle cx="1938.5" cy="376.6" r="4.9" fill="url(#sphR)"/><circle cx="1458.7" cy="404.6" r="4.9" fill="url(#sphR)"/><circle cx="1434.5" cy="418.6" r="4.9" fill="url(#sphB)"/><circle cx="1410.3" cy="404.6" r="4.9" fill="url(#sphB)"/><circle cx="1506.7" cy="404.6" r="4.9" fill="url(#sphR)"/><circle cx="1482.5" cy="418.6" r="4.9" fill="url(#sphB)"/><circle cx="1554.7" cy="404.6" r="4.9" fill="url(#sphR)"/><circle cx="1530.5" cy="418.6" r="4.9" fill="url(#sphB)"/><circle cx="1602.7" cy="404.6" r="4.9" fill="url(#sphR)"/><circle cx="1578.5" cy="418.6" r="4.9" fill="url(#sphR)"/><circle cx="1650.7" cy="404.6" r="4.9" fill="url(#sphR)"/><circle cx="1626.5" cy="418.6" r="4.9" fill="url(#sphB)"/><circle cx="1698.7" cy="404.6" r="4.9" fill="url(#sphB)"/><circle cx="1674.5" cy="418.6" r="4.9" fill="url(#sphB)"/><circle cx="1746.7" cy="404.6" r="4.9" fill="url(#sphR)"/><circle cx="1722.5" cy="418.6" r="4.9" fill="url(#sphR)"/><circle cx="1794.7" cy="404.6" r="4.9" fill="url(#sphR)"/><circle cx="1770.5" cy="418.6" r="4.9" fill="url(#sphR)"/><circle cx="1842.7" cy="404.6" r="4.9" fill="url(#sphB)"/><circle cx="1818.5" cy="418.6" r="4.9" fill="url(#sphB)"/><circle cx="1890.7" cy="404.6" r="4.9" fill="url(#sphR)"/><circle cx="1866.5" cy="418.6" r="4.9" fill="url(#sphR)"/><circle cx="1938.7" cy="404.6" r="4.9" fill="url(#sphR)"/><circle cx="1914.5" cy="418.6" r="4.9" fill="url(#sphB)"/><circle cx="1434.7" cy="446.6" r="4.9" fill="url(#sphR)"/><circle cx="1410.5" cy="460.5" r="4.9" fill="url(#sphR)"/><circle cx="1482.7" cy="446.6" r="4.9" fill="url(#sphR)"/><circle cx="1458.5" cy="460.5" r="4.9" fill="url(#sphR)"/><circle cx="1530.7" cy="446.6" r="4.9" fill="url(#sphR)"/><circle cx="1506.5" cy="460.5" r="4.9" fill="url(#sphR)"/><circle cx="1578.7" cy="446.6" r="4.9" fill="url(#sphB)"/><circle cx="1554.5" cy="460.5" r="4.9" fill="url(#sphR)"/><circle cx="1626.7" cy="446.6" r="4.9" fill="url(#sphR)"/><circle cx="1602.5" cy="460.5" r="4.9" fill="url(#sphB)"/><circle cx="1674.7" cy="446.6" r="4.9" fill="url(#sphB)"/><circle cx="1650.5" cy="460.5" r="4.9" fill="url(#sphR)"/><circle cx="1722.7" cy="446.6" r="4.9" fill="url(#sphR)"/><circle cx="1698.5" cy="460.5" r="4.9" fill="url(#sphR)"/><circle cx="1770.7" cy="446.6" r="4.9" fill="url(#sphB)"/><circle cx="1746.5" cy="460.5" r="4.9" fill="url(#sphB)"/><circle cx="1818.7" cy="446.6" r="4.9" fill="url(#sphB)"/><circle cx="1794.5" cy="460.5" r="4.9" fill="url(#sphR)"/><circle cx="1866.7" cy="446.6" r="4.9" fill="url(#sphR)"/><circle cx="1842.5" cy="460.5" r="4.9" fill="url(#sphB)"/><circle cx="1914.7" cy="446.6" r="4.9" fill="url(#sphR)"/><circle cx="1890.5" cy="460.5" r="4.9" fill="url(#sphR)"/><circle cx="1938.5" cy="460.5" r="4.9" fill="url(#sphB)"/><circle cx="1458.7" cy="488.5" r="4.9" fill="url(#sphB)"/><circle cx="1434.5" cy="502.4" r="4.9" fill="url(#sphB)"/><circle cx="1410.3" cy="488.5" r="4.9" fill="url(#sphR)"/><circle cx="1506.7" cy="488.5" r="4.9" fill="url(#sphR)"/><circle cx="1482.5" cy="502.4" r="4.9" fill="url(#sphB)"/><circle cx="1554.7" cy="488.5" r="4.9" fill="url(#sphR)"/><circle cx="1530.5" cy="502.4" r="4.9" fill="url(#sphB)"/><circle cx="1602.7" cy="488.5" r="4.9" fill="url(#sphR)"/><circle cx="1578.5" cy="502.4" r="4.9" fill="url(#sphR)"/><circle cx="1650.7" cy="488.5" r="4.9" fill="url(#sphR)"/><circle cx="1626.5" cy="502.4" r="4.9" fill="url(#sphB)"/><circle cx="1698.7" cy="488.5" r="4.9" fill="url(#sphB)"/><circle cx="1674.5" cy="502.4" r="4.9" fill="url(#sphR)"/><circle cx="1746.7" cy="488.5" r="4.9" fill="url(#sphR)"/><circle cx="1722.5" cy="502.4" r="4.9" fill="url(#sphR)"/><circle cx="1794.7" cy="488.5" r="4.9" fill="url(#sphR)"/><circle cx="1770.5" cy="502.4" r="4.9" fill="url(#sphB)"/><circle cx="1842.7" cy="488.5" r="4.9" fill="url(#sphR)"/><circle cx="1818.5" cy="502.4" r="4.9" fill="url(#sphB)"/><circle cx="1890.7" cy="488.5" r="4.9" fill="url(#sphB)"/><circle cx="1866.5" cy="502.4" r="4.9" fill="url(#sphB)"/><circle cx="1938.7" cy="488.5" r="4.9" fill="url(#sphB)"/><circle cx="1914.5" cy="502.4" r="4.9" fill="url(#sphR)"/><circle cx="1434.7" cy="530.5" r="4.9" fill="url(#sphR)"/><circle cx="1410.5" cy="544.4" r="4.9" fill="url(#sphB)"/><circle cx="1482.7" cy="530.5" r="4.9" fill="url(#sphR)"/><circle cx="1458.5" cy="544.4" r="4.9" fill="url(#sphB)"/><circle cx="1530.7" cy="530.5" r="4.9" fill="url(#sphR)"/><circle cx="1506.5" cy="544.4" r="4.9" fill="url(#sphB)"/><circle cx="1578.7" cy="530.5" r="4.9" fill="url(#sphB)"/><circle cx="1554.5" cy="544.4" r="4.9" fill="url(#sphB)"/><circle cx="1626.7" cy="530.5" r="4.9" fill="url(#sphR)"/><circle cx="1602.5" cy="544.4" r="4.9" fill="url(#sphR)"/><circle cx="1674.7" cy="530.5" r="4.9" fill="url(#sphB)"/><circle cx="1650.5" cy="544.4" r="4.9" fill="url(#sphB)"/><circle cx="1722.7" cy="530.5" r="4.9" fill="url(#sphR)"/><circle cx="1698.5" cy="544.4" r="4.9" fill="url(#sphB)"/><circle cx="1770.7" cy="530.5" r="4.9" fill="url(#sphR)"/><circle cx="1746.5" cy="544.4" r="4.9" fill="url(#sphR)"/><circle cx="1818.7" cy="530.5" r="4.9" fill="url(#sphB)"/><circle cx="1794.5" cy="544.4" r="4.9" fill="url(#sphB)"/><circle cx="1866.7" cy="530.5" r="4.9" fill="url(#sphR)"/><circle cx="1842.5" cy="544.4" r="4.9" fill="url(#sphR)"/><circle cx="1914.7" cy="530.5" r="4.9" fill="url(#sphR)"/><circle cx="1890.5" cy="544.4" r="4.9" fill="url(#sphB)"/><circle cx="1938.5" cy="544.4" r="4.9" fill="url(#sphR)"/><circle cx="1458.7" cy="572.4" r="4.9" fill="url(#sphB)"/><circle cx="1434.5" cy="586.4" r="4.9" fill="url(#sphR)"/><circle cx="1410.3" cy="572.4" r="4.9" fill="url(#sphB)"/><circle cx="1506.7" cy="572.4" r="4.9" fill="url(#sphR)"/><circle cx="1482.5" cy="586.4" r="4.9" fill="url(#sphB)"/><circle cx="1554.7" cy="572.4" r="4.9" fill="url(#sphR)"/><circle cx="1530.5" cy="586.4" r="4.9" fill="url(#sphR)"/><circle cx="1602.7" cy="572.4" r="4.9" fill="url(#sphB)"/><circle cx="1578.5" cy="586.4" r="4.9" fill="url(#sphR)"/><circle cx="1650.7" cy="572.4" r="4.9" fill="url(#sphR)"/><circle cx="1626.5" cy="586.4" r="4.9" fill="url(#sphB)"/><circle cx="1698.7" cy="572.4" r="4.9" fill="url(#sphR)"/><circle cx="1674.5" cy="586.4" r="4.9" fill="url(#sphB)"/><circle cx="1746.7" cy="572.4" r="4.9" fill="url(#sphB)"/><circle cx="1722.5" cy="586.4" r="4.9" fill="url(#sphR)"/><circle cx="1794.7" cy="572.4" r="4.9" fill="url(#sphR)"/><circle cx="1770.5" cy="586.4" r="4.9" fill="url(#sphB)"/><circle cx="1842.7" cy="572.4" r="4.9" fill="url(#sphR)"/><circle cx="1818.5" cy="586.4" r="4.9" fill="url(#sphB)"/><circle cx="1890.7" cy="572.4" r="4.9" fill="url(#sphB)"/><circle cx="1866.5" cy="586.4" r="4.9" fill="url(#sphR)"/><circle cx="1938.7" cy="572.4" r="4.9" fill="url(#sphB)"/><circle cx="1914.5" cy="586.4" r="4.9" fill="url(#sphR)"/><circle cx="1434.7" cy="614.4" r="4.9" fill="url(#sphB)"/><circle cx="1482.7" cy="614.4" r="4.9" fill="url(#sphR)"/><circle cx="1530.7" cy="614.4" r="4.9" fill="url(#sphB)"/><circle cx="1578.7" cy="614.4" r="4.9" fill="url(#sphB)"/><circle cx="1626.7" cy="614.4" r="4.9" fill="url(#sphR)"/><circle cx="1674.7" cy="614.4" r="4.9" fill="url(#sphB)"/><circle cx="1722.7" cy="614.4" r="4.9" fill="url(#sphR)"/><circle cx="1770.7" cy="614.4" r="4.9" fill="url(#sphR)"/><circle cx="1818.7" cy="614.4" r="4.9" fill="url(#sphB)"/><circle cx="1866.7" cy="614.4" r="4.9" fill="url(#sphB)"/><circle cx="1914.7" cy="614.4" r="4.9" fill="url(#sphB)"/><use href="#hexR" x="1410.5" y="97"/><use href="#hexR" x="1458.5" y="97"/><use href="#hexB" x="1506.5" y="97"/><use href="#hexDot" x="1554.5" y="97"/><use href="#hexDot" x="1602.5" y="97"/><use href="#hexB" x="1650.5" y="97"/><use href="#hexSE" x="1698.5" y="97"/><use href="#hexSE" x="1746.5" y="97"/><use href="#hexSE" x="1794.5" y="97"/><use href="#hexB" x="1842.5" y="97"/><use href="#hexR" x="1890.5" y="97"/><use href="#hexB" x="1938.5" y="97"/><use href="#hexB" x="1434.5" y="138.9"/><use href="#hexR" x="1482.5" y="138.9"/><use href="#hexR" x="1530.5" y="138.9"/><use href="#hexB" x="1578.5" y="138.9"/><use href="#hexR" x="1626.5" y="138.9"/><use href="#hexSE" x="1674.5" y="138.9"/><use href="#hexSE" x="1722.5" y="138.9"/><use href="#hexB" x="1770.5" y="138.9"/><use href="#hexR" x="1818.5" y="138.9"/><use href="#hexB" x="1866.5" y="138.9"/><use href="#hexR" x="1914.5" y="138.9"/><use href="#hexR" x="1410.5" y="180.9"/><use href="#hexR" x="1458.5" y="180.9"/><use href="#hexB" x="1506.5" y="180.9"/><use href="#hexDn" x="1554.5" y="180.9"/><use href="#hexR" x="1602.5" y="180.9"/><use href="#hexB" x="1650.5" y="180.9"/><use href="#hexDot" x="1698.5" y="180.9"/><use href="#hexR" x="1746.5" y="180.9"/><use href="#hexSE" x="1794.5" y="180.9"/><use href="#hexSE" x="1842.5" y="180.9"/><use href="#hexSE" x="1890.5" y="180.9"/><use href="#hexB" x="1938.5" y="180.9"/><use href="#hexB" x="1434.5" y="222.9"/><use href="#hexR" x="1482.5" y="222.9"/><use href="#hexR" x="1530.5" y="222.9"/><use href="#hexB" x="1578.5" y="222.9"/><use href="#hexR" x="1626.5" y="222.9"/><use href="#hexR" x="1674.5" y="222.9"/><use href="#hexB" x="1722.5" y="222.9"/><use href="#hexR" x="1770.5" y="222.9"/><use href="#hexR" x="1818.5" y="222.9"/><use href="#hexSE" x="1866.5" y="222.9"/><use href="#hexB" x="1914.5" y="222.9"/><use href="#hexNE" x="1410.5" y="264.8"/><use href="#hexR" x="1458.5" y="264.8"/><use href="#hexB" x="1506.5" y="264.8"/><use href="#hexR" x="1554.5" y="264.8"/><use href="#hexB" x="1602.5" y="264.8"/><use href="#hexB" x="1650.5" y="264.8"/><use href="#hexR" x="1698.5" y="264.8"/><use href="#hexR" x="1746.5" y="264.8"/><use href="#hexB" x="1794.5" y="264.8"/><use href="#hexR" x="1842.5" y="264.8"/><use href="#hexR" x="1890.5" y="264.8"/><use href="#hexR" x="1938.5" y="264.8"/><use href="#hexR" x="1434.5" y="306.8"/><use href="#hexR" x="1482.5" y="306.8"/><use href="#hexR" x="1530.5" y="306.8"/><use href="#hexR" x="1578.5" y="306.8"/><use href="#hexSE" x="1626.5" y="306.8"/><use href="#hexSE" x="1674.5" y="306.8"/><use href="#hexB" x="1722.5" y="306.8"/><use href="#hexR" x="1770.5" y="306.8"/><use href="#hexR" x="1818.5" y="306.8"/><use href="#hexB" x="1866.5" y="306.8"/><use href="#hexB" x="1914.5" y="306.8"/><use href="#hexR" x="1410.5" y="348.7"/><use href="#hexB" x="1458.5" y="348.7"/><use href="#hexB" x="1506.5" y="348.7"/><use href="#hexB" x="1554.5" y="348.7"/><use href="#hexB" x="1602.5" y="348.7"/><use href="#hexR" x="1650.5" y="348.7"/><use href="#hexSE" x="1698.5" y="348.7"/><use href="#hexSE" x="1746.5" y="348.7"/><use href="#hexB" x="1794.5" y="348.7"/><use href="#hexR" x="1842.5" y="348.7"/><use href="#hexSE" x="1890.5" y="348.7"/><use href="#hexB" x="1938.5" y="348.7"/><use href="#hexR" x="1434.5" y="390.7"/><use href="#hexSE" x="1482.5" y="390.7"/><use href="#hexSE" x="1530.5" y="390.7"/><use href="#hexR" x="1578.5" y="390.7"/><use href="#hexR" x="1626.5" y="390.7"/><use href="#hexR" x="1674.5" y="390.7"/><use href="#hexR" x="1722.5" y="390.7"/><use href="#hexR" x="1770.5" y="390.7"/><use href="#hexR" x="1818.5" y="390.7"/><use href="#hexB" x="1866.5" y="390.7"/><use href="#hexB" x="1914.5" y="390.7"/><use href="#hexR" x="1410.5" y="432.6"/><use href="#hexR" x="1458.5" y="432.6"/><use href="#hexR" x="1506.5" y="432.6"/><use href="#hexR" x="1554.5" y="432.6"/><use href="#hexB" x="1602.5" y="432.6"/><use href="#hexB" x="1650.5" y="432.6"/><use href="#hexDn" x="1698.5" y="432.6"/><use href="#hexR" x="1746.5" y="432.6"/><use href="#hexB" x="1794.5" y="432.6"/><use href="#hexB" x="1842.5" y="432.6"/><use href="#hexR" x="1890.5" y="432.6"/><use href="#hexDot" x="1938.5" y="432.6"/><use href="#hexB" x="1434.5" y="474.6"/><use href="#hexB" x="1482.5" y="474.6"/><use href="#hexDot" x="1530.5" y="474.6"/><use href="#hexDn" x="1578.5" y="474.6"/><use href="#hexR" x="1626.5" y="474.6"/><use href="#hexR" x="1674.5" y="474.6"/><use href="#hexB" x="1722.5" y="474.6"/><use href="#hexR" x="1770.5" y="474.6"/><use href="#hexDot" x="1818.5" y="474.6"/><use href="#hexB" x="1866.5" y="474.6"/><use href="#hexB" x="1914.5" y="474.6"/><use href="#hexR" x="1410.5" y="516.5"/><use href="#hexSE" x="1458.5" y="516.5"/><use href="#hexB" x="1506.5" y="516.5"/><use href="#hexR" x="1554.5" y="516.5"/><use href="#hexB" x="1602.5" y="516.5"/><use href="#hexB" x="1650.5" y="516.5"/><use href="#hexDot" x="1698.5" y="516.5"/><use href="#hexB" x="1746.5" y="516.5"/><use href="#hexB" x="1794.5" y="516.5"/><use href="#hexR" x="1842.5" y="516.5"/><use href="#hexR" x="1890.5" y="516.5"/><use href="#hexB" x="1938.5" y="516.5"/><use href="#hexR" x="1434.5" y="558.5"/><use href="#hexSE" x="1482.5" y="558.5"/><use href="#hexB" x="1530.5" y="558.5"/><use href="#hexB" x="1578.5" y="558.5"/><use href="#hexR" x="1626.5" y="558.5"/><use href="#hexR" x="1674.5" y="558.5"/><use href="#hexDot" x="1722.5" y="558.5"/><use href="#hexR" x="1770.5" y="558.5"/><use href="#hexR" x="1818.5" y="558.5"/><use href="#hexB" x="1866.5" y="558.5"/><use href="#hexR" x="1914.5" y="558.5"/><use href="#hexR" x="1410.5" y="600.4"/><use href="#hexB" x="1458.5" y="600.4"/><use href="#hexDot" x="1506.5" y="600.4"/><use href="#hexR" x="1554.5" y="600.4"/><use href="#hexB" x="1602.5" y="600.4"/><use href="#hexB" x="1650.5" y="600.4"/><use href="#hexR" x="1698.5" y="600.4"/><use href="#hexB" x="1746.5" y="600.4"/><use href="#hexB" x="1794.5" y="600.4"/><use href="#hexR" x="1842.5" y="600.4"/><use href="#hexR" x="1890.5" y="600.4"/><use href="#hexB" x="1938.5" y="600.4"/><text x="1676.3" y="64.1" font-size="40" text-anchor="middle" fill="#000">Ice-I state</text><line x1="667" y1="245" x2="745" y2="211" stroke="#ff7b7b" stroke-width="6.6"/><line x1="1237" y1="202" x2="1327" y2="241" stroke="#ff7b7b" stroke-width="6.6"/><polygon points="1331.4,232.5 1344.9,248.6 1323.9,249.9" fill="#ff7b7b"/><line x1="745" y1="537" x2="680" y2="510" stroke="#02a2fb" stroke-width="6.6"/><polygon points="686,502.1 664.3,503.3 678.4,519.5" fill="#02a2fb"/><line x1="1344" y1="500" x2="1237" y2="546" stroke="#02a2fb" stroke-width="6.6"/><rect x="741.3" y="54" width="499.6" height="273.8" fill="#575757"/><clipPath id="topface0"><polygon points="691.3,260 896.8,216 1228,233.9 1075.3,286.6"/></clipPath><g clip-path="url(#midclip1)"><polygon points="691.3,260 896.8,216 1228,233.9 1075.3,286.6" fill="#76bdd9"/><polygon points="691.3,260 1075.3,286.6 1075.3,312.3 691.3,285.7" fill="url(#frontG)"/><polygon points="1075.3,286.6 1228,233.9 1228,255.4 1075.3,312.3" fill="#3a88b1"/><g clip-path="url(#topface0)"><ellipse cx="774.7" cy="212" rx="2.5" ry="0.9" fill="#23479a" opacity="0.85"/><ellipse cx="777.1" cy="212.2" rx="0.9" ry="0.7" fill="#e8302a" opacity="0.9"/><ellipse cx="774.6" cy="214.9" rx="1.8" ry="0.9" fill="#23479a" opacity="0.6"/><ellipse cx="776.6" cy="215.1" rx="0.9" ry="0.7" fill="#e8302a" opacity="0.6"/><ellipse cx="774.5" cy="217.9" rx="2.7" ry="0.9" fill="#23479a" opacity="0.85"/><ellipse cx="776.9" cy="218.1" rx="0.9" ry="0.7" fill="#e8302a" opacity="0.9"/><ellipse cx="774.4" cy="221" rx="1.9" ry="0.9" fill="#23479a" opacity="0.6"/><ellipse cx="776.4" cy="221.2" rx="1" ry="0.7" fill="#e8302a" opacity="0.6"/><ellipse cx="774.2" cy="224.1" rx="2.8" ry="1" fill="#23479a" opacity="0.85"/><ellipse cx="776.8" cy="224.3" rx="1" ry="0.8" fill="#e8302a" opacity="0.9"/><ellipse cx="774.1" cy="227.3" rx="2" ry="1" fill="#23479a" opacity="0.6"/><ellipse cx="776.2" cy="227.5" rx="1" ry="0.8" fill="#e8302a" opacity="0.6"/><ellipse cx="774" cy="230.6" rx="3" ry="1" fill="#23479a" opacity="0.85"/><ellipse cx="776.6" cy="230.8" rx="1" ry="0.8" fill="#e8302a" opacity="0.9"/><ellipse cx="773.8" cy="234" rx="2.1" ry="1" fill="#23479a" opacity="0.6"/><ellipse cx="776" cy="234.2" rx="1.1" ry="0.8" fill="#e8302a" opacity="0.6"/><ellipse cx="773.7" cy="237.4" rx="3.1" ry="1.1" fill="#23479a" opacity="0.85"/><ellipse cx="776.4" cy="237.6" rx="1.1" ry="0.8" fill="#e8302a" opacity="0.9"/><ellipse cx="773.6" cy="240.9" rx="2.2" ry="1.1" fill="#23479a" opacity="0.6"/><ellipse cx="775.8" cy="241.1" rx="1.1" ry="0.8" fill="#e8302a" opacity="0.6"/><ellipse cx="773.4" cy="244.5" rx="3.3" ry="1.1" fill="#23479a" opacity="0.85"/><ellipse cx="776.2" cy="244.7" rx="1.2" ry="0.9" fill="#e8302a" opacity="0.9"/><ellipse cx="773.3" cy="248.2" rx="2.3" ry="1.1" fill="#23479a" opacity="0.6"/><ellipse cx="775.5" cy="248.4" rx="1.2" ry="0.9" fill="#e8302a" opacity="0.6"/><ellipse cx="773.1" cy="252" rx="3.4" ry="1.2" fill="#23479a" opacity="0.85"/><ellipse cx="776" cy="252.2" rx="1.2" ry="0.9" fill="#e8302a" opacity="0.9"/><ellipse cx="773" cy="255.8" rx="2.4" ry="1.2" fill="#23479a" opacity="0.6"/><ellipse cx="775.3" cy="256" rx="1.2" ry="0.9" fill="#e8302a" opacity="0.6"/><ellipse cx="772.8" cy="259.7" rx="3.6" ry="1.2" fill="#23479a" opacity="0.85"/><ellipse cx="775.8" cy="259.9" rx="1.3" ry="1" fill="#e8302a" opacity="0.9"/><ellipse cx="772.6" cy="263.8" rx="2.5" ry="1.2" fill="#23479a" opacity="0.6"/><ellipse cx="775" cy="264" rx="1.3" ry="1" fill="#e8302a" opacity="0.6"/><ellipse cx="772.5" cy="267.9" rx="3.8" ry="1.3" fill="#23479a" opacity="0.85"/><ellipse cx="775.6" cy="268.1" rx="1.4" ry="1" fill="#e8302a" opacity="0.9"/><ellipse cx="772.3" cy="272.1" rx="2.6" ry="1.3" fill="#23479a" opacity="0.6"/><ellipse cx="774.8" cy="272.3" rx="1.4" ry="1" fill="#e8302a" opacity="0.6"/><ellipse cx="772.1" cy="276.4" rx="4" ry="1.3" fill="#23479a" opacity="0.85"/><ellipse cx="775.3" cy="276.6" rx="1.4" ry="1.1" fill="#e8302a" opacity="0.9"/><ellipse cx="772" cy="280.8" rx="2.7" ry="1.4" fill="#23479a" opacity="0.6"/><ellipse cx="774.5" cy="281" rx="1.5" ry="1.1" fill="#e8302a" opacity="0.6"/><ellipse cx="771.8" cy="285.3" rx="4.2" ry="1.4" fill="#23479a" opacity="0.85"/><ellipse cx="775.1" cy="285.5" rx="1.5" ry="1.1" fill="#e8302a" opacity="0.9"/><ellipse cx="771.6" cy="289.9" rx="2.9" ry="1.4" fill="#23479a" opacity="0.6"/><ellipse cx="774.2" cy="290.1" rx="1.5" ry="1.1" fill="#e8302a" opacity="0.6"/><ellipse cx="797.4" cy="214" rx="3" ry="0.8" fill="#3f7fb5" opacity="0.5"/><ellipse cx="797.7" cy="220.5" rx="3.2" ry="0.8" fill="#3f7fb5" opacity="0.5"/><ellipse cx="798.1" cy="227.2" rx="3.3" ry="0.8" fill="#3f7fb5" opacity="0.5"/><ellipse cx="798.5" cy="234.2" rx="3.5" ry="0.8" fill="#3f7fb5" opacity="0.5"/><ellipse cx="798.9" cy="241.5" rx="3.8" ry="0.8" fill="#3f7fb5" opacity="0.5"/><ellipse cx="799.3" cy="249.2" rx="4" ry="0.8" fill="#3f7fb5" opacity="0.5"/><ellipse cx="799.7" cy="257.1" rx="4.2" ry="0.8" fill="#3f7fb5" opacity="0.5"/><ellipse cx="800.1" cy="265.4" rx="4.4" ry="0.8" fill="#3f7fb5" opacity="0.5"/><ellipse cx="800.6" cy="274.1" rx="4.7" ry="0.8" fill="#3f7fb5" opacity="0.5"/><ellipse cx="801.1" cy="283.1" rx="4.9" ry="0.8" fill="#3f7fb5" opacity="0.5"/><ellipse cx="817.9" cy="212" rx="2.5" ry="0.9" fill="#23479a" opacity="0.85"/><ellipse cx="820.3" cy="212.2" rx="0.9" ry="0.7" fill="#e8302a" opacity="0.9"/><ellipse cx="818.4" cy="214.9" rx="1.8" ry="0.9" fill="#23479a" opacity="0.6"/><ellipse cx="820.4" cy="215.1" rx="0.9" ry="0.7" fill="#e8302a" opacity="0.6"/><ellipse cx="818.8" cy="217.9" rx="2.7" ry="0.9" fill="#23479a" opacity="0.85"/><ellipse cx="821.3" cy="218.1" rx="0.9" ry="0.7" fill="#e8302a" opacity="0.9"/><ellipse cx="819.3" cy="221" rx="1.9" ry="0.9" fill="#23479a" opacity="0.6"/><ellipse cx="821.3" cy="221.2" rx="1" ry="0.7" fill="#e8302a" opacity="0.6"/><ellipse cx="819.7" cy="224.1" rx="2.8" ry="1" fill="#23479a" opacity="0.85"/><ellipse cx="822.3" cy="224.3" rx="1" ry="0.8" fill="#e8302a" opacity="0.9"/><ellipse cx="820.2" cy="227.3" rx="2" ry="1" fill="#23479a" opacity="0.6"/><ellipse cx="822.3" cy="227.5" rx="1" ry="0.8" fill="#e8302a" opacity="0.6"/><ellipse cx="820.7" cy="230.6" rx="3" ry="1" fill="#23479a" opacity="0.85"/><ellipse cx="823.3" cy="230.8" rx="1" ry="0.8" fill="#e8302a" opacity="0.9"/><ellipse cx="821.2" cy="234" rx="2.1" ry="1" fill="#23479a" opacity="0.6"/><ellipse cx="823.3" cy="234.2" rx="1.1" ry="0.8" fill="#e8302a" opacity="0.6"/><ellipse cx="821.7" cy="237.4" rx="3.1" ry="1.1" fill="#23479a" opacity="0.85"/><ellipse cx="824.4" cy="237.6" rx="1.1" ry="0.8" fill="#e8302a" opacity="0.9"/><ellipse cx="822.2" cy="240.9" rx="2.2" ry="1.1" fill="#23479a" opacity="0.6"/><ellipse cx="824.4" cy="241.1" rx="1.1" ry="0.8" fill="#e8302a" opacity="0.6"/><ellipse cx="822.7" cy="244.5" rx="3.3" ry="1.1" fill="#23479a" opacity="0.85"/><ellipse cx="825.5" cy="244.7" rx="1.2" ry="0.9" fill="#e8302a" opacity="0.9"/><ellipse cx="823.2" cy="248.2" rx="2.3" ry="1.1" fill="#23479a" opacity="0.6"/><ellipse cx="825.5" cy="248.4" rx="1.2" ry="0.9" fill="#e8302a" opacity="0.6"/><ellipse cx="823.8" cy="252" rx="3.4" ry="1.2" fill="#23479a" opacity="0.85"/><ellipse cx="826.7" cy="252.2" rx="1.2" ry="0.9" fill="#e8302a" opacity="0.9"/><ellipse cx="824.3" cy="255.8" rx="2.4" ry="1.2" fill="#23479a" opacity="0.6"/><ellipse cx="826.7" cy="256" rx="1.2" ry="0.9" fill="#e8302a" opacity="0.6"/><ellipse cx="824.9" cy="259.7" rx="3.6" ry="1.2" fill="#23479a" opacity="0.85"/><ellipse cx="827.9" cy="259.9" rx="1.3" ry="1" fill="#e8302a" opacity="0.9"/><ellipse cx="825.5" cy="263.8" rx="2.5" ry="1.2" fill="#23479a" opacity="0.6"/><ellipse cx="827.9" cy="264" rx="1.3" ry="1" fill="#e8302a" opacity="0.6"/><ellipse cx="826.1" cy="267.9" rx="3.8" ry="1.3" fill="#23479a" opacity="0.85"/><ellipse cx="829.2" cy="268.1" rx="1.4" ry="1" fill="#e8302a" opacity="0.9"/><ellipse cx="826.7" cy="272.1" rx="2.6" ry="1.3" fill="#23479a" opacity="0.6"/><ellipse cx="829.2" cy="272.3" rx="1.4" ry="1" fill="#e8302a" opacity="0.6"/><ellipse cx="827.4" cy="276.4" rx="4" ry="1.3" fill="#23479a" opacity="0.85"/><ellipse cx="830.6" cy="276.6" rx="1.4" ry="1.1" fill="#e8302a" opacity="0.9"/><ellipse cx="828" cy="280.8" rx="2.7" ry="1.4" fill="#23479a" opacity="0.6"/><ellipse cx="830.5" cy="281" rx="1.5" ry="1.1" fill="#e8302a" opacity="0.6"/><ellipse cx="828.7" cy="285.3" rx="4.2" ry="1.4" fill="#23479a" opacity="0.85"/><ellipse cx="832" cy="285.5" rx="1.5" ry="1.1" fill="#e8302a" opacity="0.9"/><ellipse cx="829.3" cy="289.9" rx="2.9" ry="1.4" fill="#23479a" opacity="0.6"/><ellipse cx="831.9" cy="290.1" rx="1.5" ry="1.1" fill="#e8302a" opacity="0.6"/><ellipse cx="841" cy="214" rx="3" ry="0.8" fill="#3f7fb5" opacity="0.5"/><ellipse cx="842.5" cy="220.5" rx="3.2" ry="0.8" fill="#3f7fb5" opacity="0.5"/><ellipse cx="844.1" cy="227.2" rx="3.3" ry="0.8" fill="#3f7fb5" opacity="0.5"/><ellipse cx="845.8" cy="234.2" rx="3.5" ry="0.8" fill="#3f7fb5" opacity="0.5"/><ellipse cx="847.6" cy="241.5" rx="3.8" ry="0.8" fill="#3f7fb5" opacity="0.5"/><ellipse cx="849.4" cy="249.2" rx="4" ry="0.8" fill="#3f7fb5" opacity="0.5"/><ellipse cx="851.3" cy="257.1" rx="4.2" ry="0.8" fill="#3f7fb5" opacity="0.5"/><ellipse cx="853.3" cy="265.4" rx="4.4" ry="0.8" fill="#3f7fb5" opacity="0.5"/><ellipse cx="855.4" cy="274.1" rx="4.7" ry="0.8" fill="#3f7fb5" opacity="0.5"/><ellipse cx="857.5" cy="283.1" rx="4.9" ry="0.8" fill="#3f7fb5" opacity="0.5"/><ellipse cx="861.2" cy="212" rx="2.5" ry="0.9" fill="#23479a" opacity="0.85"/><ellipse cx="863.6" cy="212.2" rx="0.9" ry="0.7" fill="#e8302a" opacity="0.9"/><ellipse cx="862.1" cy="214.9" rx="1.8" ry="0.9" fill="#23479a" opacity="0.6"/><ellipse cx="864.1" cy="215.1" rx="0.9" ry="0.7" fill="#e8302a" opacity="0.6"/><ellipse cx="863.1" cy="217.9" rx="2.7" ry="0.9" fill="#23479a" opacity="0.85"/><ellipse cx="865.6" cy="218.1" rx="0.9" ry="0.7" fill="#e8302a" opacity="0.9"/><ellipse cx="864.2" cy="221" rx="1.9" ry="0.9" fill="#23479a" opacity="0.6"/><ellipse cx="866.2" cy="221.2" rx="1" ry="0.7" fill="#e8302a" opacity="0.6"/><ellipse cx="865.2" cy="224.1" rx="2.8" ry="1" fill="#23479a" opacity="0.85"/><ellipse cx="867.7" cy="224.3" rx="1" ry="0.8" fill="#e8302a" opacity="0.9"/><ellipse cx="866.3" cy="227.3" rx="2" ry="1" fill="#23479a" opacity="0.6"/><ellipse cx="868.4" cy="227.5" rx="1" ry="0.8" fill="#e8302a" opacity="0.6"/><ellipse cx="867.4" cy="230.6" rx="3" ry="1" fill="#23479a" opacity="0.85"/><ellipse cx="870" cy="230.8" rx="1" ry="0.8" fill="#e8302a" opacity="0.9"/><ellipse cx="868.5" cy="234" rx="2.1" ry="1" fill="#23479a" opacity="0.6"/><ellipse cx="870.6" cy="234.2" rx="1.1" ry="0.8" fill="#e8302a" opacity="0.6"/><ellipse cx="869.6" cy="237.4" rx="3.1" ry="1.1" fill="#23479a" opacity="0.85"/><ellipse cx="872.3" cy="237.6" rx="1.1" ry="0.8" fill="#e8302a" opacity="0.9"/><ellipse cx="870.8" cy="240.9" rx="2.2" ry="1.1" fill="#23479a" opacity="0.6"/><ellipse cx="873" cy="241.1" rx="1.1" ry="0.8" fill="#e8302a" opacity="0.6"/><ellipse cx="872" cy="244.5" rx="3.3" ry="1.1" fill="#23479a" opacity="0.85"/><ellipse cx="874.8" cy="244.7" rx="1.2" ry="0.9" fill="#e8302a" opacity="0.9"/><ellipse cx="873.2" cy="248.2" rx="2.3" ry="1.1" fill="#23479a" opacity="0.6"/><ellipse cx="875.5" cy="248.4" rx="1.2" ry="0.9" fill="#e8302a" opacity="0.6"/><ellipse cx="874.4" cy="252" rx="3.4" ry="1.2" fill="#23479a" opacity="0.85"/><ellipse cx="877.3" cy="252.2" rx="1.2" ry="0.9" fill="#e8302a" opacity="0.9"/><ellipse cx="875.7" cy="255.8" rx="2.4" ry="1.2" fill="#23479a" opacity="0.6"/><ellipse cx="878" cy="256" rx="1.2" ry="0.9" fill="#e8302a" opacity="0.6"/><ellipse cx="877" cy="259.7" rx="3.6" ry="1.2" fill="#23479a" opacity="0.85"/><ellipse cx="880" cy="259.9" rx="1.3" ry="1" fill="#e8302a" opacity="0.9"/><ellipse cx="878.4" cy="263.8" rx="2.5" ry="1.2" fill="#23479a" opacity="0.6"/><ellipse cx="880.7" cy="264" rx="1.3" ry="1" fill="#e8302a" opacity="0.6"/><ellipse cx="879.7" cy="267.9" rx="3.8" ry="1.3" fill="#23479a" opacity="0.85"/><ellipse cx="882.8" cy="268.1" rx="1.4" ry="1" fill="#e8302a" opacity="0.9"/><ellipse cx="881.1" cy="272.1" rx="2.6" ry="1.3" fill="#23479a" opacity="0.6"/><ellipse cx="883.6" cy="272.3" rx="1.4" ry="1" fill="#e8302a" opacity="0.6"/><ellipse cx="882.6" cy="276.4" rx="4" ry="1.3" fill="#23479a" opacity="0.85"/><ellipse cx="885.8" cy="276.6" rx="1.4" ry="1.1" fill="#e8302a" opacity="0.9"/><ellipse cx="884" cy="280.8" rx="2.7" ry="1.4" fill="#23479a" opacity="0.6"/><ellipse cx="886.5" cy="281" rx="1.5" ry="1.1" fill="#e8302a" opacity="0.6"/><ellipse cx="885.5" cy="285.3" rx="4.2" ry="1.4" fill="#23479a" opacity="0.85"/><ellipse cx="888.9" cy="285.5" rx="1.5" ry="1.1" fill="#e8302a" opacity="0.9"/><ellipse cx="887.1" cy="289.9" rx="2.9" ry="1.4" fill="#23479a" opacity="0.6"/><ellipse cx="889.6" cy="290.1" rx="1.5" ry="1.1" fill="#e8302a" opacity="0.6"/><ellipse cx="884.6" cy="214" rx="3" ry="0.8" fill="#3f7fb5" opacity="0.5"/><ellipse cx="887.3" cy="220.5" rx="3.2" ry="0.8" fill="#3f7fb5" opacity="0.5"/><ellipse cx="890.2" cy="227.2" rx="3.3" ry="0.8" fill="#3f7fb5" opacity="0.5"/><ellipse cx="893.2" cy="234.2" rx="3.5" ry="0.8" fill="#3f7fb5" opacity="0.5"/><ellipse cx="896.3" cy="241.5" rx="3.8" ry="0.8" fill="#3f7fb5" opacity="0.5"/><ellipse cx="899.5" cy="249.2" rx="4" ry="0.8" fill="#3f7fb5" opacity="0.5"/><ellipse cx="902.9" cy="257.1" rx="4.2" ry="0.8" fill="#3f7fb5" opacity="0.5"/><ellipse cx="906.5" cy="265.4" rx="4.4" ry="0.8" fill="#3f7fb5" opacity="0.5"/><ellipse cx="910.2" cy="274.1" rx="4.7" ry="0.8" fill="#3f7fb5" opacity="0.5"/><ellipse cx="914" cy="283.1" rx="4.9" ry="0.8" fill="#3f7fb5" opacity="0.5"/><ellipse cx="904.4" cy="212" rx="2.5" ry="0.9" fill="#23479a" opacity="0.85"/><ellipse cx="906.8" cy="212.2" rx="0.9" ry="0.7" fill="#e8302a" opacity="0.9"/><ellipse cx="905.9" cy="214.9" rx="1.8" ry="0.9" fill="#23479a" opacity="0.6"/><ellipse cx="907.9" cy="215.1" rx="0.9" ry="0.7" fill="#e8302a" opacity="0.6"/><ellipse cx="907.5" cy="217.9" rx="2.7" ry="0.9" fill="#23479a" opacity="0.85"/><ellipse cx="909.9" cy="218.1" rx="0.9" ry="0.7" fill="#e8302a" opacity="0.9"/><ellipse cx="909.1" cy="221" rx="1.9" ry="0.9" fill="#23479a" opacity="0.6"/><ellipse cx="911.1" cy="221.2" rx="1" ry="0.7" fill="#e8302a" opacity="0.6"/><ellipse cx="910.7" cy="224.1" rx="2.8" ry="1" fill="#23479a" opacity="0.85"/><ellipse cx="913.2" cy="224.3" rx="1" ry="0.8" fill="#e8302a" opacity="0.9"/><ellipse cx="912.3" cy="227.3" rx="2" ry="1" fill="#23479a" opacity="0.6"/><ellipse cx="914.4" cy="227.5" rx="1" ry="0.8" fill="#e8302a" opacity="0.6"/><ellipse cx="914" cy="230.6" rx="3" ry="1" fill="#23479a" opacity="0.85"/><ellipse cx="916.7" cy="230.8" rx="1" ry="0.8" fill="#e8302a" opacity="0.9"/><ellipse cx="915.8" cy="234" rx="2.1" ry="1" fill="#23479a" opacity="0.6"/><ellipse cx="917.9" cy="234.2" rx="1.1" ry="0.8" fill="#e8302a" opacity="0.6"/><ellipse cx="917.6" cy="237.4" rx="3.1" ry="1.1" fill="#23479a" opacity="0.85"/><ellipse cx="920.3" cy="237.6" rx="1.1" ry="0.8" fill="#e8302a" opacity="0.9"/><ellipse cx="919.4" cy="240.9" rx="2.2" ry="1.1" fill="#23479a" opacity="0.6"/><ellipse cx="921.6" cy="241.1" rx="1.1" ry="0.8" fill="#e8302a" opacity="0.6"/><ellipse cx="921.3" cy="244.5" rx="3.3" ry="1.1" fill="#23479a" opacity="0.85"/><ellipse cx="924.1" cy="244.7" rx="1.2" ry="0.9" fill="#e8302a" opacity="0.9"/><ellipse cx="923.2" cy="248.2" rx="2.3" ry="1.1" fill="#23479a" opacity="0.6"/><ellipse cx="925.4" cy="248.4" rx="1.2" ry="0.9" fill="#e8302a" opacity="0.6"/><ellipse cx="925.1" cy="252" rx="3.4" ry="1.2" fill="#23479a" opacity="0.85"/><ellipse cx="928" cy="252.2" rx="1.2" ry="0.9" fill="#e8302a" opacity="0.9"/><ellipse cx="927.1" cy="255.8" rx="2.4" ry="1.2" fill="#23479a" opacity="0.6"/><ellipse cx="929.4" cy="256" rx="1.2" ry="0.9" fill="#e8302a" opacity="0.6"/><ellipse cx="929.1" cy="259.7" rx="3.6" ry="1.2" fill="#23479a" opacity="0.85"/><ellipse cx="932.1" cy="259.9" rx="1.3" ry="1" fill="#e8302a" opacity="0.9"/><ellipse cx="931.2" cy="263.8" rx="2.5" ry="1.2" fill="#23479a" opacity="0.6"/><ellipse cx="933.6" cy="264" rx="1.3" ry="1" fill="#e8302a" opacity="0.6"/><ellipse cx="933.4" cy="267.9" rx="3.8" ry="1.3" fill="#23479a" opacity="0.85"/><ellipse cx="936.5" cy="268.1" rx="1.4" ry="1" fill="#e8302a" opacity="0.9"/><ellipse cx="935.6" cy="272.1" rx="2.6" ry="1.3" fill="#23479a" opacity="0.6"/><ellipse cx="938" cy="272.3" rx="1.4" ry="1" fill="#e8302a" opacity="0.6"/><ellipse cx="937.8" cy="276.4" rx="4" ry="1.3" fill="#23479a" opacity="0.85"/><ellipse cx="941" cy="276.6" rx="1.4" ry="1.1" fill="#e8302a" opacity="0.9"/><ellipse cx="940.1" cy="280.8" rx="2.7" ry="1.4" fill="#23479a" opacity="0.6"/><ellipse cx="942.6" cy="281" rx="1.5" ry="1.1" fill="#e8302a" opacity="0.6"/><ellipse cx="942.4" cy="285.3" rx="4.2" ry="1.4" fill="#23479a" opacity="0.85"/><ellipse cx="945.7" cy="285.5" rx="1.5" ry="1.1" fill="#e8302a" opacity="0.9"/><ellipse cx="944.8" cy="289.9" rx="2.9" ry="1.4" fill="#23479a" opacity="0.6"/><ellipse cx="947.4" cy="290.1" rx="1.5" ry="1.1" fill="#e8302a" opacity="0.6"/><ellipse cx="928.2" cy="214" rx="3" ry="0.8" fill="#3f7fb5" opacity="0.5"/><ellipse cx="932.1" cy="220.5" rx="3.2" ry="0.8" fill="#3f7fb5" opacity="0.5"/><ellipse cx="936.2" cy="227.2" rx="3.3" ry="0.8" fill="#3f7fb5" opacity="0.5"/><ellipse cx="940.5" cy="234.2" rx="3.5" ry="0.8" fill="#3f7fb5" opacity="0.5"/><ellipse cx="945" cy="241.5" rx="3.8" ry="0.8" fill="#3f7fb5" opacity="0.5"/><ellipse cx="949.7" cy="249.2" rx="4" ry="0.8" fill="#3f7fb5" opacity="0.5"/><ellipse cx="954.6" cy="257.1" rx="4.2" ry="0.8" fill="#3f7fb5" opacity="0.5"/><ellipse cx="959.6" cy="265.4" rx="4.4" ry="0.8" fill="#3f7fb5" opacity="0.5"/><ellipse cx="964.9" cy="274.1" rx="4.7" ry="0.8" fill="#3f7fb5" opacity="0.5"/><ellipse cx="970.5" cy="283.1" rx="4.9" ry="0.8" fill="#3f7fb5" opacity="0.5"/><ellipse cx="947.6" cy="212" rx="2.5" ry="0.9" fill="#23479a" opacity="0.85"/><ellipse cx="950" cy="212.2" rx="0.9" ry="0.7" fill="#e8302a" opacity="0.9"/><ellipse cx="949.7" cy="214.9" rx="1.8" ry="0.9" fill="#23479a" opacity="0.6"/><ellipse cx="951.7" cy="215.1" rx="0.9" ry="0.7" fill="#e8302a" opacity="0.6"/><ellipse cx="951.8" cy="217.9" rx="2.7" ry="0.9" fill="#23479a" opacity="0.85"/><ellipse cx="954.3" cy="218.1" rx="0.9" ry="0.7" fill="#e8302a" opacity="0.9"/><ellipse cx="953.9" cy="221" rx="1.9" ry="0.9" fill="#23479a" opacity="0.6"/><ellipse cx="956" cy="221.2" rx="1" ry="0.7" fill="#e8302a" opacity="0.6"/><ellipse cx="956.2" cy="224.1" rx="2.8" ry="1" fill="#23479a" opacity="0.85"/><ellipse cx="958.7" cy="224.3" rx="1" ry="0.8" fill="#e8302a" opacity="0.9"/><ellipse cx="958.4" cy="227.3" rx="2" ry="1" fill="#23479a" opacity="0.6"/><ellipse cx="960.5" cy="227.5" rx="1" ry="0.8" fill="#e8302a" opacity="0.6"/><ellipse cx="960.7" cy="230.6" rx="3" ry="1" fill="#23479a" opacity="0.85"/><ellipse cx="963.4" cy="230.8" rx="1" ry="0.8" fill="#e8302a" opacity="0.9"/><ellipse cx="963.1" cy="234" rx="2.1" ry="1" fill="#23479a" opacity="0.6"/><ellipse cx="965.2" cy="234.2" rx="1.1" ry="0.8" fill="#e8302a" opacity="0.6"/><ellipse cx="965.5" cy="237.4" rx="3.1" ry="1.1" fill="#23479a" opacity="0.85"/><ellipse cx="968.2" cy="237.6" rx="1.1" ry="0.8" fill="#e8302a" opacity="0.9"/><ellipse cx="968" cy="240.9" rx="2.2" ry="1.1" fill="#23479a" opacity="0.6"/><ellipse cx="970.2" cy="241.1" rx="1.1" ry="0.8" fill="#e8302a" opacity="0.6"/><ellipse cx="970.5" cy="244.5" rx="3.3" ry="1.1" fill="#23479a" opacity="0.85"/><ellipse cx="973.3" cy="244.7" rx="1.2" ry="0.9" fill="#e8302a" opacity="0.9"/><ellipse cx="973.1" cy="248.2" rx="2.3" ry="1.1" fill="#23479a" opacity="0.6"/><ellipse cx="975.4" cy="248.4" rx="1.2" ry="0.9" fill="#e8302a" opacity="0.6"/><ellipse cx="975.8" cy="252" rx="3.4" ry="1.2" fill="#23479a" opacity="0.85"/><ellipse cx="978.7" cy="252.2" rx="1.2" ry="0.9" fill="#e8302a" opacity="0.9"/><ellipse cx="978.5" cy="255.8" rx="2.4" ry="1.2" fill="#23479a" opacity="0.6"/><ellipse cx="980.8" cy="256" rx="1.2" ry="0.9" fill="#e8302a" opacity="0.6"/><ellipse cx="981.3" cy="259.7" rx="3.6" ry="1.2" fill="#23479a" opacity="0.85"/><ellipse cx="984.3" cy="259.9" rx="1.3" ry="1" fill="#e8302a" opacity="0.9"/><ellipse cx="984.1" cy="263.8" rx="2.5" ry="1.2" fill="#23479a" opacity="0.6"/><ellipse cx="986.5" cy="264" rx="1.3" ry="1" fill="#e8302a" opacity="0.6"/><ellipse cx="987" cy="267.9" rx="3.8" ry="1.3" fill="#23479a" opacity="0.85"/><ellipse cx="990.1" cy="268.1" rx="1.4" ry="1" fill="#e8302a" opacity="0.9"/><ellipse cx="990" cy="272.1" rx="2.6" ry="1.3" fill="#23479a" opacity="0.6"/><ellipse cx="992.4" cy="272.3" rx="1.4" ry="1" fill="#e8302a" opacity="0.6"/><ellipse cx="993" cy="276.4" rx="4" ry="1.3" fill="#23479a" opacity="0.85"/><ellipse cx="996.2" cy="276.6" rx="1.4" ry="1.1" fill="#e8302a" opacity="0.9"/><ellipse cx="996.1" cy="280.8" rx="2.7" ry="1.4" fill="#23479a" opacity="0.6"/><ellipse cx="998.6" cy="281" rx="1.5" ry="1.1" fill="#e8302a" opacity="0.6"/><ellipse cx="999.3" cy="285.3" rx="4.2" ry="1.4" fill="#23479a" opacity="0.85"/><ellipse cx="1002.6" cy="285.5" rx="1.5" ry="1.1" fill="#e8302a" opacity="0.9"/><ellipse cx="1002.5" cy="289.9" rx="2.9" ry="1.4" fill="#23479a" opacity="0.6"/><ellipse cx="1005.1" cy="290.1" rx="1.5" ry="1.1" fill="#e8302a" opacity="0.6"/><ellipse cx="971.8" cy="214" rx="3" ry="0.8" fill="#3f7fb5" opacity="0.5"/><ellipse cx="976.9" cy="220.5" rx="3.2" ry="0.8" fill="#3f7fb5" opacity="0.5"/><ellipse cx="982.3" cy="227.2" rx="3.3" ry="0.8" fill="#3f7fb5" opacity="0.5"/><ellipse cx="987.9" cy="234.2" rx="3.5" ry="0.8" fill="#3f7fb5" opacity="0.5"/><ellipse cx="993.7" cy="241.5" rx="3.8" ry="0.8" fill="#3f7fb5" opacity="0.5"/><ellipse cx="999.8" cy="249.2" rx="4" ry="0.8" fill="#3f7fb5" opacity="0.5"/><ellipse cx="1006.2" cy="257.1" rx="4.2" ry="0.8" fill="#3f7fb5" opacity="0.5"/><ellipse cx="1012.8" cy="265.4" rx="4.4" ry="0.8" fill="#3f7fb5" opacity="0.5"/><ellipse cx="1019.7" cy="274.1" rx="4.7" ry="0.8" fill="#3f7fb5" opacity="0.5"/><ellipse cx="1027" cy="283.1" rx="4.9" ry="0.8" fill="#3f7fb5" opacity="0.5"/><ellipse cx="990.8" cy="212" rx="2.5" ry="0.9" fill="#23479a" opacity="0.85"/><ellipse cx="993.2" cy="212.2" rx="0.9" ry="0.7" fill="#e8302a" opacity="0.9"/><ellipse cx="993.4" cy="214.9" rx="1.8" ry="0.9" fill="#23479a" opacity="0.6"/><ellipse cx="995.4" cy="215.1" rx="0.9" ry="0.7" fill="#e8302a" opacity="0.6"/><ellipse cx="996.1" cy="217.9" rx="2.7" ry="0.9" fill="#23479a" opacity="0.85"/><ellipse cx="998.6" cy="218.1" rx="0.9" ry="0.7" fill="#e8302a" opacity="0.9"/><ellipse cx="998.8" cy="221" rx="1.9" ry="0.9" fill="#23479a" opacity="0.6"/><ellipse cx="1000.9" cy="221.2" rx="1" ry="0.7" fill="#e8302a" opacity="0.6"/><ellipse cx="1001.6" cy="224.1" rx="2.8" ry="1" fill="#23479a" opacity="0.85"/><ellipse cx="1004.2" cy="224.3" rx="1" ry="0.8" fill="#e8302a" opacity="0.9"/><ellipse cx="1004.5" cy="227.3" rx="2" ry="1" fill="#23479a" opacity="0.6"/><ellipse cx="1006.6" cy="227.5" rx="1" ry="0.8" fill="#e8302a" opacity="0.6"/><ellipse cx="1007.4" cy="230.6" rx="3" ry="1" fill="#23479a" opacity="0.85"/><ellipse cx="1010.1" cy="230.8" rx="1" ry="0.8" fill="#e8302a" opacity="0.9"/><ellipse cx="1010.4" cy="234" rx="2.1" ry="1" fill="#23479a" opacity="0.6"/><ellipse cx="1012.6" cy="234.2" rx="1.1" ry="0.8" fill="#e8302a" opacity="0.6"/><ellipse cx="1013.5" cy="237.4" rx="3.1" ry="1.1" fill="#23479a" opacity="0.85"/><ellipse cx="1016.2" cy="237.6" rx="1.1" ry="0.8" fill="#e8302a" opacity="0.9"/><ellipse cx="1016.6" cy="240.9" rx="2.2" ry="1.1" fill="#23479a" opacity="0.6"/><ellipse cx="1018.8" cy="241.1" rx="1.1" ry="0.8" fill="#e8302a" opacity="0.6"/><ellipse cx="1019.8" cy="244.5" rx="3.3" ry="1.1" fill="#23479a" opacity="0.85"/><ellipse cx="1022.6" cy="244.7" rx="1.2" ry="0.9" fill="#e8302a" opacity="0.9"/><ellipse cx="1023.1" cy="248.2" rx="2.3" ry="1.1" fill="#23479a" opacity="0.6"/><ellipse cx="1025.3" cy="248.4" rx="1.2" ry="0.9" fill="#e8302a" opacity="0.6"/><ellipse cx="1026.4" cy="252" rx="3.4" ry="1.2" fill="#23479a" opacity="0.85"/><ellipse cx="1029.3" cy="252.2" rx="1.2" ry="0.9" fill="#e8302a" opacity="0.9"/><ellipse cx="1029.9" cy="255.8" rx="2.4" ry="1.2" fill="#23479a" opacity="0.6"/><ellipse cx="1032.2" cy="256" rx="1.2" ry="0.9" fill="#e8302a" opacity="0.6"/><ellipse cx="1033.4" cy="259.7" rx="3.6" ry="1.2" fill="#23479a" opacity="0.85"/><ellipse cx="1036.4" cy="259.9" rx="1.3" ry="1" fill="#e8302a" opacity="0.9"/><ellipse cx="1037" cy="263.8" rx="2.5" ry="1.2" fill="#23479a" opacity="0.6"/><ellipse cx="1039.3" cy="264" rx="1.3" ry="1" fill="#e8302a" opacity="0.6"/><ellipse cx="1040.6" cy="267.9" rx="3.8" ry="1.3" fill="#23479a" opacity="0.85"/><ellipse cx="1043.7" cy="268.1" rx="1.4" ry="1" fill="#e8302a" opacity="0.9"/><ellipse cx="1044.4" cy="272.1" rx="2.6" ry="1.3" fill="#23479a" opacity="0.6"/><ellipse cx="1046.8" cy="272.3" rx="1.4" ry="1" fill="#e8302a" opacity="0.6"/><ellipse cx="1048.2" cy="276.4" rx="4" ry="1.3" fill="#23479a" opacity="0.85"/><ellipse cx="1051.4" cy="276.6" rx="1.4" ry="1.1" fill="#e8302a" opacity="0.9"/><ellipse cx="1052.1" cy="280.8" rx="2.7" ry="1.4" fill="#23479a" opacity="0.6"/><ellipse cx="1054.7" cy="281" rx="1.5" ry="1.1" fill="#e8302a" opacity="0.6"/><ellipse cx="1056.2" cy="285.3" rx="4.2" ry="1.4" fill="#23479a" opacity="0.85"/><ellipse cx="1059.5" cy="285.5" rx="1.5" ry="1.1" fill="#e8302a" opacity="0.9"/><ellipse cx="1060.3" cy="289.9" rx="2.9" ry="1.4" fill="#23479a" opacity="0.6"/><ellipse cx="1062.8" cy="290.1" rx="1.5" ry="1.1" fill="#e8302a" opacity="0.6"/><ellipse cx="1015.4" cy="214" rx="3" ry="0.8" fill="#3f7fb5" opacity="0.5"/><ellipse cx="1021.7" cy="220.5" rx="3.2" ry="0.8" fill="#3f7fb5" opacity="0.5"/><ellipse cx="1028.3" cy="227.2" rx="3.3" ry="0.8" fill="#3f7fb5" opacity="0.5"/><ellipse cx="1035.3" cy="234.2" rx="3.5" ry="0.8" fill="#3f7fb5" opacity="0.5"/><ellipse cx="1042.5" cy="241.5" rx="3.8" ry="0.8" fill="#3f7fb5" opacity="0.5"/><ellipse cx="1050" cy="249.2" rx="4" ry="0.8" fill="#3f7fb5" opacity="0.5"/><ellipse cx="1057.8" cy="257.1" rx="4.2" ry="0.8" fill="#3f7fb5" opacity="0.5"/><ellipse cx="1066" cy="265.4" rx="4.4" ry="0.8" fill="#3f7fb5" opacity="0.5"/><ellipse cx="1074.5" cy="274.1" rx="4.7" ry="0.8" fill="#3f7fb5" opacity="0.5"/><ellipse cx="1083.4" cy="283.1" rx="4.9" ry="0.8" fill="#3f7fb5" opacity="0.5"/><ellipse cx="1034" cy="212" rx="2.5" ry="0.9" fill="#23479a" opacity="0.85"/><ellipse cx="1036.4" cy="212.2" rx="0.9" ry="0.7" fill="#e8302a" opacity="0.9"/><ellipse cx="1037.2" cy="214.9" rx="1.8" ry="0.9" fill="#23479a" opacity="0.6"/><ellipse cx="1039.2" cy="215.1" rx="0.9" ry="0.7" fill="#e8302a" opacity="0.6"/><ellipse cx="1040.4" cy="217.9" rx="2.7" ry="0.9" fill="#23479a" opacity="0.85"/><ellipse cx="1042.9" cy="218.1" rx="0.9" ry="0.7" fill="#e8302a" opacity="0.9"/><ellipse cx="1043.7" cy="221" rx="1.9" ry="0.9" fill="#23479a" opacity="0.6"/><ellipse cx="1045.8" cy="221.2" rx="1" ry="0.7" fill="#e8302a" opacity="0.6"/><ellipse cx="1047.1" cy="224.1" rx="2.8" ry="1" fill="#23479a" opacity="0.85"/><ellipse cx="1049.7" cy="224.3" rx="1" ry="0.8" fill="#e8302a" opacity="0.9"/><ellipse cx="1050.6" cy="227.3" rx="2" ry="1" fill="#23479a" opacity="0.6"/><ellipse cx="1052.7" cy="227.5" rx="1" ry="0.8" fill="#e8302a" opacity="0.6"/><ellipse cx="1054.1" cy="230.6" rx="3" ry="1" fill="#23479a" opacity="0.85"/><ellipse cx="1056.7" cy="230.8" rx="1" ry="0.8" fill="#e8302a" opacity="0.9"/><ellipse cx="1057.7" cy="234" rx="2.1" ry="1" fill="#23479a" opacity="0.6"/><ellipse cx="1059.9" cy="234.2" rx="1.1" ry="0.8" fill="#e8302a" opacity="0.6"/><ellipse cx="1061.4" cy="237.4" rx="3.1" ry="1.1" fill="#23479a" opacity="0.85"/><ellipse cx="1064.1" cy="237.6" rx="1.1" ry="0.8" fill="#e8302a" opacity="0.9"/><ellipse cx="1065.2" cy="240.9" rx="2.2" ry="1.1" fill="#23479a" opacity="0.6"/><ellipse cx="1067.4" cy="241.1" rx="1.1" ry="0.8" fill="#e8302a" opacity="0.6"/><ellipse cx="1069.1" cy="244.5" rx="3.3" ry="1.1" fill="#23479a" opacity="0.85"/><ellipse cx="1071.9" cy="244.7" rx="1.2" ry="0.9" fill="#e8302a" opacity="0.9"/><ellipse cx="1073.1" cy="248.2" rx="2.3" ry="1.1" fill="#23479a" opacity="0.6"/><ellipse cx="1075.3" cy="248.4" rx="1.2" ry="0.9" fill="#e8302a" opacity="0.6"/><ellipse cx="1077.1" cy="252" rx="3.4" ry="1.2" fill="#23479a" opacity="0.85"/><ellipse cx="1080" cy="252.2" rx="1.2" ry="0.9" fill="#e8302a" opacity="0.9"/><ellipse cx="1081.3" cy="255.8" rx="2.4" ry="1.2" fill="#23479a" opacity="0.6"/><ellipse cx="1083.6" cy="256" rx="1.2" ry="0.9" fill="#e8302a" opacity="0.6"/><ellipse cx="1085.5" cy="259.7" rx="3.6" ry="1.2" fill="#23479a" opacity="0.85"/><ellipse cx="1088.5" cy="259.9" rx="1.3" ry="1" fill="#e8302a" opacity="0.9"/><ellipse cx="1089.8" cy="263.8" rx="2.5" ry="1.2" fill="#23479a" opacity="0.6"/><ellipse cx="1092.2" cy="264" rx="1.3" ry="1" fill="#e8302a" opacity="0.6"/><ellipse cx="1094.3" cy="267.9" rx="3.8" ry="1.3" fill="#23479a" opacity="0.85"/><ellipse cx="1097.4" cy="268.1" rx="1.4" ry="1" fill="#e8302a" opacity="0.9"/><ellipse cx="1098.8" cy="272.1" rx="2.6" ry="1.3" fill="#23479a" opacity="0.6"/><ellipse cx="1101.2" cy="272.3" rx="1.4" ry="1" fill="#e8302a" opacity="0.6"/><ellipse cx="1103.4" cy="276.4" rx="4" ry="1.3" fill="#23479a" opacity="0.85"/><ellipse cx="1106.6" cy="276.6" rx="1.4" ry="1.1" fill="#e8302a" opacity="0.9"/><ellipse cx="1108.2" cy="280.8" rx="2.7" ry="1.4" fill="#23479a" opacity="0.6"/><ellipse cx="1110.7" cy="281" rx="1.5" ry="1.1" fill="#e8302a" opacity="0.6"/><ellipse cx="1113" cy="285.3" rx="4.2" ry="1.4" fill="#23479a" opacity="0.85"/><ellipse cx="1116.3" cy="285.5" rx="1.5" ry="1.1" fill="#e8302a" opacity="0.9"/><ellipse cx="1118" cy="289.9" rx="2.9" ry="1.4" fill="#23479a" opacity="0.6"/><ellipse cx="1120.6" cy="290.1" rx="1.5" ry="1.1" fill="#e8302a" opacity="0.6"/><ellipse cx="1059" cy="214" rx="3" ry="0.8" fill="#3f7fb5" opacity="0.5"/><ellipse cx="1066.5" cy="220.5" rx="3.2" ry="0.8" fill="#3f7fb5" opacity="0.5"/><ellipse cx="1074.4" cy="227.2" rx="3.3" ry="0.8" fill="#3f7fb5" opacity="0.5"/><ellipse cx="1082.6" cy="234.2" rx="3.5" ry="0.8" fill="#3f7fb5" opacity="0.5"/><ellipse cx="1091.2" cy="241.5" rx="3.8" ry="0.8" fill="#3f7fb5" opacity="0.5"/><ellipse cx="1100.1" cy="249.2" rx="4" ry="0.8" fill="#3f7fb5" opacity="0.5"/><ellipse cx="1109.5" cy="257.1" rx="4.2" ry="0.8" fill="#3f7fb5" opacity="0.5"/><ellipse cx="1119.2" cy="265.4" rx="4.4" ry="0.8" fill="#3f7fb5" opacity="0.5"/><ellipse cx="1129.3" cy="274.1" rx="4.7" ry="0.8" fill="#3f7fb5" opacity="0.5"/><ellipse cx="1139.9" cy="283.1" rx="4.9" ry="0.8" fill="#3f7fb5" opacity="0.5"/><ellipse cx="1077.3" cy="212" rx="2.5" ry="0.9" fill="#23479a" opacity="0.85"/><ellipse cx="1079.7" cy="212.2" rx="0.9" ry="0.7" fill="#e8302a" opacity="0.9"/><ellipse cx="1081" cy="214.9" rx="1.8" ry="0.9" fill="#23479a" opacity="0.6"/><ellipse cx="1083" cy="215.1" rx="0.9" ry="0.7" fill="#e8302a" opacity="0.6"/><ellipse cx="1084.8" cy="217.9" rx="2.7" ry="0.9" fill="#23479a" opacity="0.85"/><ellipse cx="1087.2" cy="218.1" rx="0.9" ry="0.7" fill="#e8302a" opacity="0.9"/><ellipse cx="1088.6" cy="221" rx="1.9" ry="0.9" fill="#23479a" opacity="0.6"/><ellipse cx="1090.7" cy="221.2" rx="1" ry="0.7" fill="#e8302a" opacity="0.6"/><ellipse cx="1092.6" cy="224.1" rx="2.8" ry="1" fill="#23479a" opacity="0.85"/><ellipse cx="1095.1" cy="224.3" rx="1" ry="0.8" fill="#e8302a" opacity="0.9"/><ellipse cx="1096.7" cy="227.3" rx="2" ry="1" fill="#23479a" opacity="0.6"/><ellipse cx="1098.7" cy="227.5" rx="1" ry="0.8" fill="#e8302a" opacity="0.6"/><ellipse cx="1100.8" cy="230.6" rx="3" ry="1" fill="#23479a" opacity="0.85"/><ellipse cx="1103.4" cy="230.8" rx="1" ry="0.8" fill="#e8302a" opacity="0.9"/><ellipse cx="1105.1" cy="234" rx="2.1" ry="1" fill="#23479a" opacity="0.6"/><ellipse cx="1107.2" cy="234.2" rx="1.1" ry="0.8" fill="#e8302a" opacity="0.6"/><ellipse cx="1109.4" cy="237.4" rx="3.1" ry="1.1" fill="#23479a" opacity="0.85"/><ellipse cx="1112.1" cy="237.6" rx="1.1" ry="0.8" fill="#e8302a" opacity="0.9"/><ellipse cx="1113.8" cy="240.9" rx="2.2" ry="1.1" fill="#23479a" opacity="0.6"/><ellipse cx="1116" cy="241.1" rx="1.1" ry="0.8" fill="#e8302a" opacity="0.6"/><ellipse cx="1118.4" cy="244.5" rx="3.3" ry="1.1" fill="#23479a" opacity="0.85"/><ellipse cx="1121.2" cy="244.7" rx="1.2" ry="0.9" fill="#e8302a" opacity="0.9"/><ellipse cx="1123" cy="248.2" rx="2.3" ry="1.1" fill="#23479a" opacity="0.6"/><ellipse cx="1125.3" cy="248.4" rx="1.2" ry="0.9" fill="#e8302a" opacity="0.6"/><ellipse cx="1127.8" cy="252" rx="3.4" ry="1.2" fill="#23479a" opacity="0.85"/><ellipse cx="1130.7" cy="252.2" rx="1.2" ry="0.9" fill="#e8302a" opacity="0.9"/><ellipse cx="1132.6" cy="255.8" rx="2.4" ry="1.2" fill="#23479a" opacity="0.6"/><ellipse cx="1134.9" cy="256" rx="1.2" ry="0.9" fill="#e8302a" opacity="0.6"/><ellipse cx="1137.6" cy="259.7" rx="3.6" ry="1.2" fill="#23479a" opacity="0.85"/><ellipse cx="1140.6" cy="259.9" rx="1.3" ry="1" fill="#e8302a" opacity="0.9"/><ellipse cx="1142.7" cy="263.8" rx="2.5" ry="1.2" fill="#23479a" opacity="0.6"/><ellipse cx="1145.1" cy="264" rx="1.3" ry="1" fill="#e8302a" opacity="0.6"/><ellipse cx="1147.9" cy="267.9" rx="3.8" ry="1.3" fill="#23479a" opacity="0.85"/><ellipse cx="1151" cy="268.1" rx="1.4" ry="1" fill="#e8302a" opacity="0.9"/><ellipse cx="1153.2" cy="272.1" rx="2.6" ry="1.3" fill="#23479a" opacity="0.6"/><ellipse cx="1155.6" cy="272.3" rx="1.4" ry="1" fill="#e8302a" opacity="0.6"/><ellipse cx="1158.6" cy="276.4" rx="4" ry="1.3" fill="#23479a" opacity="0.85"/><ellipse cx="1161.8" cy="276.6" rx="1.4" ry="1.1" fill="#e8302a" opacity="0.9"/><ellipse cx="1164.2" cy="280.8" rx="2.7" ry="1.4" fill="#23479a" opacity="0.6"/><ellipse cx="1166.7" cy="281" rx="1.5" ry="1.1" fill="#e8302a" opacity="0.6"/><ellipse cx="1169.9" cy="285.3" rx="4.2" ry="1.4" fill="#23479a" opacity="0.85"/><ellipse cx="1173.2" cy="285.5" rx="1.5" ry="1.1" fill="#e8302a" opacity="0.9"/><ellipse cx="1175.7" cy="289.9" rx="2.9" ry="1.4" fill="#23479a" opacity="0.6"/><ellipse cx="1178.3" cy="290.1" rx="1.5" ry="1.1" fill="#e8302a" opacity="0.6"/><ellipse cx="1102.5" cy="214" rx="3" ry="0.8" fill="#3f7fb5" opacity="0.5"/><ellipse cx="1111.3" cy="220.5" rx="3.2" ry="0.8" fill="#3f7fb5" opacity="0.5"/><ellipse cx="1120.4" cy="227.2" rx="3.3" ry="0.8" fill="#3f7fb5" opacity="0.5"/><ellipse cx="1130" cy="234.2" rx="3.5" ry="0.8" fill="#3f7fb5" opacity="0.5"/><ellipse cx="1139.9" cy="241.5" rx="3.8" ry="0.8" fill="#3f7fb5" opacity="0.5"/><ellipse cx="1150.3" cy="249.2" rx="4" ry="0.8" fill="#3f7fb5" opacity="0.5"/><ellipse cx="1161.1" cy="257.1" rx="4.2" ry="0.8" fill="#3f7fb5" opacity="0.5"/><ellipse cx="1172.4" cy="265.4" rx="4.4" ry="0.8" fill="#3f7fb5" opacity="0.5"/><ellipse cx="1184.1" cy="274.1" rx="4.7" ry="0.8" fill="#3f7fb5" opacity="0.5"/><ellipse cx="1196.4" cy="283.1" rx="4.9" ry="0.8" fill="#3f7fb5" opacity="0.5"/><ellipse cx="1120.5" cy="212" rx="2.5" ry="0.9" fill="#23479a" opacity="0.85"/><ellipse cx="1122.9" cy="212.2" rx="0.9" ry="0.7" fill="#e8302a" opacity="0.9"/><ellipse cx="1124.7" cy="214.9" rx="1.8" ry="0.9" fill="#23479a" opacity="0.6"/><ellipse cx="1126.7" cy="215.1" rx="0.9" ry="0.7" fill="#e8302a" opacity="0.6"/><ellipse cx="1129.1" cy="217.9" rx="2.7" ry="0.9" fill="#23479a" opacity="0.85"/><ellipse cx="1131.6" cy="218.1" rx="0.9" ry="0.7" fill="#e8302a" opacity="0.9"/><ellipse cx="1133.5" cy="221" rx="1.9" ry="0.9" fill="#23479a" opacity="0.6"/><ellipse cx="1135.6" cy="221.2" rx="1" ry="0.7" fill="#e8302a" opacity="0.6"/><ellipse cx="1138.1" cy="224.1" rx="2.8" ry="1" fill="#23479a" opacity="0.85"/><ellipse cx="1140.6" cy="224.3" rx="1" ry="0.8" fill="#e8302a" opacity="0.9"/><ellipse cx="1142.7" cy="227.3" rx="2" ry="1" fill="#23479a" opacity="0.6"/><ellipse cx="1144.8" cy="227.5" rx="1" ry="0.8" fill="#e8302a" opacity="0.6"/><ellipse cx="1147.5" cy="230.6" rx="3" ry="1" fill="#23479a" opacity="0.85"/><ellipse cx="1150.1" cy="230.8" rx="1" ry="0.8" fill="#e8302a" opacity="0.9"/><ellipse cx="1152.4" cy="234" rx="2.1" ry="1" fill="#23479a" opacity="0.6"/><ellipse cx="1154.5" cy="234.2" rx="1.1" ry="0.8" fill="#e8302a" opacity="0.6"/><ellipse cx="1157.3" cy="237.4" rx="3.1" ry="1.1" fill="#23479a" opacity="0.85"/><ellipse cx="1160.1" cy="237.6" rx="1.1" ry="0.8" fill="#e8302a" opacity="0.9"/><ellipse cx="1162.4" cy="240.9" rx="2.2" ry="1.1" fill="#23479a" opacity="0.6"/><ellipse cx="1164.6" cy="241.1" rx="1.1" ry="0.8" fill="#e8302a" opacity="0.6"/><ellipse cx="1167.7" cy="244.5" rx="3.3" ry="1.1" fill="#23479a" opacity="0.85"/><ellipse cx="1170.5" cy="244.7" rx="1.2" ry="0.9" fill="#e8302a" opacity="0.9"/><ellipse cx="1173" cy="248.2" rx="2.3" ry="1.1" fill="#23479a" opacity="0.6"/><ellipse cx="1175.2" cy="248.4" rx="1.2" ry="0.9" fill="#e8302a" opacity="0.6"/><ellipse cx="1178.4" cy="252" rx="3.4" ry="1.2" fill="#23479a" opacity="0.85"/><ellipse cx="1181.3" cy="252.2" rx="1.2" ry="0.9" fill="#e8302a" opacity="0.9"/><ellipse cx="1184" cy="255.8" rx="2.4" ry="1.2" fill="#23479a" opacity="0.6"/><ellipse cx="1186.3" cy="256" rx="1.2" ry="0.9" fill="#e8302a" opacity="0.6"/><ellipse cx="1189.7" cy="259.7" rx="3.6" ry="1.2" fill="#23479a" opacity="0.85"/><ellipse cx="1192.7" cy="259.9" rx="1.3" ry="1" fill="#e8302a" opacity="0.9"/><ellipse cx="1195.5" cy="263.8" rx="2.5" ry="1.2" fill="#23479a" opacity="0.6"/><ellipse cx="1197.9" cy="264" rx="1.3" ry="1" fill="#e8302a" opacity="0.6"/><ellipse cx="1201.5" cy="267.9" rx="3.8" ry="1.3" fill="#23479a" opacity="0.85"/><ellipse cx="1204.6" cy="268.1" rx="1.4" ry="1" fill="#e8302a" opacity="0.9"/><ellipse cx="1207.6" cy="272.1" rx="2.6" ry="1.3" fill="#23479a" opacity="0.6"/><ellipse cx="1210.1" cy="272.3" rx="1.4" ry="1" fill="#e8302a" opacity="0.6"/><ellipse cx="1213.9" cy="276.4" rx="4" ry="1.3" fill="#23479a" opacity="0.85"/><ellipse cx="1217.1" cy="276.6" rx="1.4" ry="1.1" fill="#e8302a" opacity="0.9"/><ellipse cx="1220.2" cy="280.8" rx="2.7" ry="1.4" fill="#23479a" opacity="0.6"/><ellipse cx="1222.8" cy="281" rx="1.5" ry="1.1" fill="#e8302a" opacity="0.6"/><ellipse cx="1226.8" cy="285.3" rx="4.2" ry="1.4" fill="#23479a" opacity="0.85"/><ellipse cx="1230.1" cy="285.5" rx="1.5" ry="1.1" fill="#e8302a" opacity="0.9"/><ellipse cx="1233.5" cy="289.9" rx="2.9" ry="1.4" fill="#23479a" opacity="0.6"/><ellipse cx="1236" cy="290.1" rx="1.5" ry="1.1" fill="#e8302a" opacity="0.6"/><ellipse cx="1146.1" cy="214" rx="3" ry="0.8" fill="#3f7fb5" opacity="0.5"/><ellipse cx="1156.1" cy="220.5" rx="3.2" ry="0.8" fill="#3f7fb5" opacity="0.5"/><ellipse cx="1166.5" cy="227.2" rx="3.3" ry="0.8" fill="#3f7fb5" opacity="0.5"/><ellipse cx="1177.3" cy="234.2" rx="3.5" ry="0.8" fill="#3f7fb5" opacity="0.5"/><ellipse cx="1188.6" cy="241.5" rx="3.8" ry="0.8" fill="#3f7fb5" opacity="0.5"/><ellipse cx="1200.4" cy="249.2" rx="4" ry="0.8" fill="#3f7fb5" opacity="0.5"/><ellipse cx="1212.7" cy="257.1" rx="4.2" ry="0.8" fill="#3f7fb5" opacity="0.5"/><ellipse cx="1225.5" cy="265.4" rx="4.4" ry="0.8" fill="#3f7fb5" opacity="0.5"/><ellipse cx="1238.9" cy="274.1" rx="4.7" ry="0.8" fill="#3f7fb5" opacity="0.5"/><ellipse cx="1252.8" cy="283.1" rx="4.9" ry="0.8" fill="#3f7fb5" opacity="0.5"/></g><path d="M840 174 L840 140 C840 118 860 108 905 105.5 C950 102.5 990 102.5 1015 103.5 C1065 106 1110 114 1132 121 C1150 135 1160 165 1170 183 L1166 188 Z" fill="url(#woodG)"/><path d="M840 174 L840 140 C840 118 860 108 905 105.5 C950 102.5 990 102.5 1015 103.5 C1065 106 1110 114 1132 121 C1150 135 1160 165 1170 183 L1166 188 Z" fill="#8a6a4a" opacity="0.55" filter="url(#woodT)"/><rect x="845.8" y="174.5" width="5" height="9.8" fill="#c8bcfa"/><rect x="850.8" y="174.5" width="4.4" height="9.8" fill="#1c148a"/><rect x="845.8" y="184" width="5" height="10" fill="#f0583a"/><rect x="850.8" y="184" width="4.4" height="10" fill="#8a0e0e"/><rect x="856.3" y="175" width="5" height="9.8" fill="#ffa274"/><rect x="861.3" y="175" width="4.4" height="9.8" fill="#7e0a0a"/><rect x="856.3" y="184.5" width="5" height="10" fill="#8e7ef2"/><rect x="861.3" y="184.5" width="4.4" height="10" fill="#1e168e"/><rect x="866.9" y="175.4" width="5" height="9.8" fill="#c8bcfa"/><rect x="871.9" y="175.4" width="4.4" height="9.8" fill="#1c148a"/><rect x="866.9" y="184.9" width="5" height="10" fill="#f0583a"/><rect x="871.9" y="184.9" width="4.4" height="10" fill="#8a0e0e"/><rect x="877.4" y="175.9" width="5" height="9.8" fill="#ffa274"/><rect x="882.4" y="175.9" width="4.4" height="9.8" fill="#7e0a0a"/><rect x="877.4" y="185.4" width="5" height="10" fill="#8e7ef2"/><rect x="882.4" y="185.4" width="4.4" height="10" fill="#1e168e"/><rect x="888" y="176.4" width="5" height="9.8" fill="#c8bcfa"/><rect x="893" y="176.4" width="4.4" height="9.8" fill="#1c148a"/><rect x="888" y="185.9" width="5" height="10" fill="#f0583a"/><rect x="893" y="185.9" width="4.4" height="10" fill="#8a0e0e"/><rect x="898.5" y="176.8" width="5" height="9.8" fill="#ffa274"/><rect x="903.5" y="176.8" width="4.4" height="9.8" fill="#7e0a0a"/><rect x="898.5" y="186.3" width="5" height="10" fill="#8e7ef2"/><rect x="903.5" y="186.3" width="4.4" height="10" fill="#1e168e"/><rect x="909.1" y="177.3" width="5" height="9.8" fill="#c8bcfa"/><rect x="914.1" y="177.3" width="4.4" height="9.8" fill="#1c148a"/><rect x="909.1" y="186.8" width="5" height="10" fill="#f0583a"/><rect x="914.1" y="186.8" width="4.4" height="10" fill="#8a0e0e"/><rect x="919.6" y="177.8" width="5" height="9.8" fill="#ffa274"/><rect x="924.6" y="177.8" width="4.4" height="9.8" fill="#7e0a0a"/><rect x="919.6" y="187.3" width="5" height="10" fill="#8e7ef2"/><rect x="924.6" y="187.3" width="4.4" height="10" fill="#1e168e"/><rect x="930.2" y="178.2" width="5" height="9.8" fill="#c8bcfa"/><rect x="935.2" y="178.2" width="4.4" height="9.8" fill="#1c148a"/><rect x="930.2" y="187.7" width="5" height="10" fill="#f0583a"/><rect x="935.2" y="187.7" width="4.4" height="10" fill="#8a0e0e"/><rect x="940.8" y="178.7" width="5" height="9.8" fill="#ffa274"/><rect x="945.8" y="178.7" width="4.4" height="9.8" fill="#7e0a0a"/><rect x="940.8" y="188.2" width="5" height="10" fill="#8e7ef2"/><rect x="945.8" y="188.2" width="4.4" height="10" fill="#1e168e"/><rect x="951.3" y="179.2" width="5" height="9.8" fill="#c8bcfa"/><rect x="956.3" y="179.2" width="4.4" height="9.8" fill="#1c148a"/><rect x="951.3" y="188.7" width="5" height="10" fill="#f0583a"/><rect x="956.3" y="188.7" width="4.4" height="10" fill="#8a0e0e"/><rect x="961.8" y="179.6" width="5" height="9.8" fill="#ffa274"/><rect x="966.8" y="179.6" width="4.4" height="9.8" fill="#7e0a0a"/><rect x="961.8" y="189.1" width="5" height="10" fill="#8e7ef2"/><rect x="966.8" y="189.1" width="4.4" height="10" fill="#1e168e"/><rect x="972.4" y="180.1" width="5" height="9.8" fill="#c8bcfa"/><rect x="977.4" y="180.1" width="4.4" height="9.8" fill="#1c148a"/><rect x="972.4" y="189.6" width="5" height="10" fill="#f0583a"/><rect x="977.4" y="189.6" width="4.4" height="10" fill="#8a0e0e"/><rect x="982.9" y="180.6" width="5" height="9.8" fill="#ffa274"/><rect x="987.9" y="180.6" width="4.4" height="9.8" fill="#7e0a0a"/><rect x="982.9" y="190.1" width="5" height="10" fill="#8e7ef2"/><rect x="987.9" y="190.1" width="4.4" height="10" fill="#1e168e"/><rect x="993.5" y="181" width="5" height="9.8" fill="#c8bcfa"/><rect x="998.5" y="181" width="4.4" height="9.8" fill="#1c148a"/><rect x="993.5" y="190.5" width="5" height="10" fill="#f0583a"/><rect x="998.5" y="190.5" width="4.4" height="10" fill="#8a0e0e"/><rect x="1004" y="181.5" width="5" height="9.8" fill="#ffa274"/><rect x="1009" y="181.5" width="4.4" height="9.8" fill="#7e0a0a"/><rect x="1004" y="191" width="5" height="10" fill="#8e7ef2"/><rect x="1009" y="191" width="4.4" height="10" fill="#1e168e"/><rect x="1014.6" y="182" width="5" height="9.8" fill="#c8bcfa"/><rect x="1019.6" y="182" width="4.4" height="9.8" fill="#1c148a"/><rect x="1014.6" y="191.5" width="5" height="10" fill="#f0583a"/><rect x="1019.6" y="191.5" width="4.4" height="10" fill="#8a0e0e"/><rect x="1025.2" y="182.4" width="5" height="9.8" fill="#ffa274"/><rect x="1030.2" y="182.4" width="4.4" height="9.8" fill="#7e0a0a"/><rect x="1025.2" y="191.9" width="5" height="10" fill="#8e7ef2"/><rect x="1030.2" y="191.9" width="4.4" height="10" fill="#1e168e"/><rect x="1035.7" y="182.9" width="5" height="9.8" fill="#c8bcfa"/><rect x="1040.7" y="182.9" width="4.4" height="9.8" fill="#1c148a"/><rect x="1035.7" y="192.4" width="5" height="10" fill="#f0583a"/><rect x="1040.7" y="192.4" width="4.4" height="10" fill="#8a0e0e"/><rect x="1046.2" y="183.4" width="5" height="9.8" fill="#ffa274"/><rect x="1051.2" y="183.4" width="4.4" height="9.8" fill="#7e0a0a"/><rect x="1046.2" y="192.9" width="5" height="10" fill="#8e7ef2"/><rect x="1051.2" y="192.9" width="4.4" height="10" fill="#1e168e"/><rect x="1056.8" y="183.8" width="5" height="9.8" fill="#c8bcfa"/><rect x="1061.8" y="183.8" width="4.4" height="9.8" fill="#1c148a"/><rect x="1056.8" y="193.3" width="5" height="10" fill="#f0583a"/><rect x="1061.8" y="193.3" width="4.4" height="10" fill="#8a0e0e"/><rect x="1067.3" y="184.3" width="5" height="9.8" fill="#ffa274"/><rect x="1072.3" y="184.3" width="4.4" height="9.8" fill="#7e0a0a"/><rect x="1067.3" y="193.8" width="5" height="10" fill="#8e7ef2"/><rect x="1072.3" y="193.8" width="4.4" height="10" fill="#1e168e"/><rect x="1077.9" y="184.8" width="5" height="9.8" fill="#c8bcfa"/><rect x="1082.9" y="184.8" width="4.4" height="9.8" fill="#1c148a"/><rect x="1077.9" y="194.3" width="5" height="10" fill="#f0583a"/><rect x="1082.9" y="194.3" width="4.4" height="10" fill="#8a0e0e"/><rect x="1088.5" y="185.2" width="5" height="9.8" fill="#ffa274"/><rect x="1093.5" y="185.2" width="4.4" height="9.8" fill="#7e0a0a"/><rect x="1088.5" y="194.7" width="5" height="10" fill="#8e7ef2"/><rect x="1093.5" y="194.7" width="4.4" height="10" fill="#1e168e"/><rect x="1099" y="185.7" width="5" height="9.8" fill="#c8bcfa"/><rect x="1104" y="185.7" width="4.4" height="9.8" fill="#1c148a"/><rect x="1099" y="195.2" width="5" height="10" fill="#f0583a"/><rect x="1104" y="195.2" width="4.4" height="10" fill="#8a0e0e"/><rect x="1109.5" y="186.2" width="5" height="9.8" fill="#ffa274"/><rect x="1114.5" y="186.2" width="4.4" height="9.8" fill="#7e0a0a"/><rect x="1109.5" y="195.7" width="5" height="10" fill="#8e7ef2"/><rect x="1114.5" y="195.7" width="4.4" height="10" fill="#1e168e"/><rect x="1120.1" y="186.6" width="5" height="9.8" fill="#c8bcfa"/><rect x="1125.1" y="186.6" width="4.4" height="9.8" fill="#1c148a"/><rect x="1120.1" y="196.1" width="5" height="10" fill="#f0583a"/><rect x="1125.1" y="196.1" width="4.4" height="10" fill="#8a0e0e"/><rect x="1130.7" y="187.1" width="5" height="9.8" fill="#ffa274"/><rect x="1135.7" y="187.1" width="4.4" height="9.8" fill="#7e0a0a"/><rect x="1130.7" y="196.6" width="5" height="10" fill="#8e7ef2"/><rect x="1135.7" y="196.6" width="4.4" height="10" fill="#1e168e"/><rect x="1141.2" y="187.6" width="5" height="9.8" fill="#c8bcfa"/><rect x="1146.2" y="187.6" width="4.4" height="9.8" fill="#1c148a"/><rect x="1141.2" y="197.1" width="5" height="10" fill="#f0583a"/><rect x="1146.2" y="197.1" width="4.4" height="10" fill="#8a0e0e"/><rect x="1151.8" y="188" width="5" height="9.8" fill="#ffa274"/><rect x="1156.8" y="188" width="4.4" height="9.8" fill="#7e0a0a"/><rect x="1151.8" y="197.5" width="5" height="10" fill="#8e7ef2"/><rect x="1156.8" y="197.5" width="4.4" height="10" fill="#1e168e"/><rect x="1162.3" y="188.5" width="5" height="9.8" fill="#c8bcfa"/><rect x="1167.3" y="188.5" width="4.4" height="9.8" fill="#1c148a"/><rect x="1162.3" y="198" width="5" height="10" fill="#f0583a"/><rect x="1167.3" y="198" width="4.4" height="10" fill="#8a0e0e"/><rect x="848.8" y="194" width="3.4" height="7" fill="#f0c850"/><path d="M849.5 200l-2.2 11.5M850.1 200l-0.6 12.5M850.9 200l0.6 12.5M851.5 200l2.2 11.5" stroke="#e8c890" stroke-width="1" fill="none" opacity="0.9"/><rect x="859.3" y="194.5" width="3.4" height="7" fill="#5ad0e8"/><path d="M860 200.5l-2.2 11.5M860.6 200.5l-0.6 12.5M861.4 200.5l0.6 12.5M862 200.5l2.2 11.5" stroke="#6ab8c8" stroke-width="1" fill="none" opacity="0.9"/><rect x="869.9" y="194.9" width="3.4" height="7" fill="#f0c850"/><path d="M870.6 200.9l-2.2 11.5M871.2 200.9l-0.6 12.5M872 200.9l0.6 12.5M872.6 200.9l2.2 11.5" stroke="#e8c890" stroke-width="1" fill="none" opacity="0.9"/><rect x="880.4" y="195.4" width="3.4" height="7" fill="#5ad0e8"/><path d="M881.1 201.4l-2.2 11.5M881.8 201.4l-0.6 12.5M882.5 201.4l0.6 12.5M883.1 201.4l2.2 11.5" stroke="#6ab8c8" stroke-width="1" fill="none" opacity="0.9"/><rect x="891" y="195.9" width="3.4" height="7" fill="#f0c850"/><path d="M891.7 201.9l-2.2 11.5M892.3 201.9l-0.6 12.5M893.1 201.9l0.6 12.5M893.7 201.9l2.2 11.5" stroke="#e8c890" stroke-width="1" fill="none" opacity="0.9"/><rect x="901.5" y="196.3" width="3.4" height="7" fill="#5ad0e8"/><path d="M902.2 202.3l-2.2 11.5M902.9 202.3l-0.6 12.5M903.6 202.3l0.6 12.5M904.2 202.3l2.2 11.5" stroke="#6ab8c8" stroke-width="1" fill="none" opacity="0.9"/><rect x="912.1" y="196.8" width="3.4" height="7" fill="#f0c850"/><path d="M912.8 202.8l-2.2 11.5M913.4 202.8l-0.6 12.5M914.2 202.8l0.6 12.5M914.8 202.8l2.2 11.5" stroke="#e8c890" stroke-width="1" fill="none" opacity="0.9"/><rect x="922.6" y="197.3" width="3.4" height="7" fill="#5ad0e8"/><path d="M923.4 203.3l-2.2 11.5M924 203.3l-0.6 12.5M924.8 203.3l0.6 12.5M925.4 203.3l2.2 11.5" stroke="#6ab8c8" stroke-width="1" fill="none" opacity="0.9"/><rect x="933.2" y="197.7" width="3.4" height="7" fill="#f0c850"/><path d="M933.9 203.7l-2.2 11.5M934.5 203.7l-0.6 12.5M935.3 203.7l0.6 12.5M935.9 203.7l2.2 11.5" stroke="#e8c890" stroke-width="1" fill="none" opacity="0.9"/><rect x="943.8" y="198.2" width="3.4" height="7" fill="#5ad0e8"/><path d="M944.5 204.2l-2.2 11.5M945.1 204.2l-0.6 12.5M945.9 204.2l0.6 12.5M946.5 204.2l2.2 11.5" stroke="#6ab8c8" stroke-width="1" fill="none" opacity="0.9"/><rect x="954.3" y="198.7" width="3.4" height="7" fill="#f0c850"/><path d="M955 204.7l-2.2 11.5M955.6 204.7l-0.6 12.5M956.4 204.7l0.6 12.5M957 204.7l2.2 11.5" stroke="#e8c890" stroke-width="1" fill="none" opacity="0.9"/><rect x="964.8" y="199.1" width="3.4" height="7" fill="#5ad0e8"/><path d="M965.5 205.1l-2.2 11.5M966.1 205.1l-0.6 12.5M966.9 205.1l0.6 12.5M967.5 205.1l2.2 11.5" stroke="#6ab8c8" stroke-width="1" fill="none" opacity="0.9"/><rect x="975.4" y="199.6" width="3.4" height="7" fill="#f0c850"/><path d="M976.1 205.6l-2.2 11.5M976.7 205.6l-0.6 12.5M977.5 205.6l0.6 12.5M978.1 205.6l2.2 11.5" stroke="#e8c890" stroke-width="1" fill="none" opacity="0.9"/><rect x="985.9" y="200.1" width="3.4" height="7" fill="#5ad0e8"/><path d="M986.6 206.1l-2.2 11.5M987.2 206.1l-0.6 12.5M988 206.1l0.6 12.5M988.6 206.1l2.2 11.5" stroke="#6ab8c8" stroke-width="1" fill="none" opacity="0.9"/><rect x="996.5" y="200.5" width="3.4" height="7" fill="#f0c850"/><path d="M997.2 206.5l-2.2 11.5M997.8 206.5l-0.6 12.5M998.6 206.5l0.6 12.5M999.2 206.5l2.2 11.5" stroke="#e8c890" stroke-width="1" fill="none" opacity="0.9"/><rect x="1007" y="201" width="3.4" height="7" fill="#5ad0e8"/><path d="M1007.8 207l-2.2 11.5M1008.4 207l-0.6 12.5M1009.1 207l0.6 12.5M1009.8 207l2.2 11.5" stroke="#6ab8c8" stroke-width="1" fill="none" opacity="0.9"/><rect x="1017.6" y="201.5" width="3.4" height="7" fill="#f0c850"/><path d="M1018.3 207.5l-2.2 11.5M1018.9 207.5l-0.6 12.5M1019.7 207.5l0.6 12.5M1020.3 207.5l2.2 11.5" stroke="#e8c890" stroke-width="1" fill="none" opacity="0.9"/><rect x="1028.2" y="201.9" width="3.4" height="7" fill="#5ad0e8"/><path d="M1028.9 207.9l-2.2 11.5M1029.5 207.9l-0.6 12.5M1030.3 207.9l0.6 12.5M1030.9 207.9l2.2 11.5" stroke="#6ab8c8" stroke-width="1" fill="none" opacity="0.9"/><rect x="1038.7" y="202.4" width="3.4" height="7" fill="#f0c850"/><path d="M1039.4 208.4l-2.2 11.5M1040 208.4l-0.6 12.5M1040.8 208.4l0.6 12.5M1041.4 208.4l2.2 11.5" stroke="#e8c890" stroke-width="1" fill="none" opacity="0.9"/><rect x="1049.2" y="202.9" width="3.4" height="7" fill="#5ad0e8"/><path d="M1050 208.9l-2.2 11.5M1050.5 208.9l-0.6 12.5M1051.4 208.9l0.6 12.5M1052 208.9l2.2 11.5" stroke="#6ab8c8" stroke-width="1" fill="none" opacity="0.9"/><rect x="1059.8" y="203.3" width="3.4" height="7" fill="#f0c850"/><path d="M1060.5 209.3l-2.2 11.5M1061.1 209.3l-0.6 12.5M1061.9 209.3l0.6 12.5M1062.5 209.3l2.2 11.5" stroke="#e8c890" stroke-width="1" fill="none" opacity="0.9"/><rect x="1070.3" y="203.8" width="3.4" height="7" fill="#5ad0e8"/><path d="M1071 209.8l-2.2 11.5M1071.6 209.8l-0.6 12.5M1072.5 209.8l0.6 12.5M1073 209.8l2.2 11.5" stroke="#6ab8c8" stroke-width="1" fill="none" opacity="0.9"/><rect x="1080.9" y="204.3" width="3.4" height="7" fill="#f0c850"/><path d="M1081.6 210.3l-2.2 11.5M1082.2 210.3l-0.6 12.5M1083 210.3l0.6 12.5M1083.6 210.3l2.2 11.5" stroke="#e8c890" stroke-width="1" fill="none" opacity="0.9"/><rect x="1091.5" y="204.7" width="3.4" height="7" fill="#5ad0e8"/><path d="M1092.2 210.7l-2.2 11.5M1092.8 210.7l-0.6 12.5M1093.6 210.7l0.6 12.5M1094.2 210.7l2.2 11.5" stroke="#6ab8c8" stroke-width="1" fill="none" opacity="0.9"/><rect x="1102" y="205.2" width="3.4" height="7" fill="#f0c850"/><path d="M1102.7 211.2l-2.2 11.5M1103.3 211.2l-0.6 12.5M1104.1 211.2l0.6 12.5M1104.7 211.2l2.2 11.5" stroke="#e8c890" stroke-width="1" fill="none" opacity="0.9"/><rect x="1112.5" y="205.7" width="3.4" height="7" fill="#5ad0e8"/><path d="M1113.2 211.7l-2.2 11.5M1113.8 211.7l-0.6 12.5M1114.7 211.7l0.6 12.5M1115.2 211.7l2.2 11.5" stroke="#6ab8c8" stroke-width="1" fill="none" opacity="0.9"/><rect x="1123.1" y="206.1" width="3.4" height="7" fill="#f0c850"/><path d="M1123.8 212.1l-2.2 11.5M1124.4 212.1l-0.6 12.5M1125.2 212.1l0.6 12.5M1125.8 212.1l2.2 11.5" stroke="#e8c890" stroke-width="1" fill="none" opacity="0.9"/><rect x="1133.7" y="206.6" width="3.4" height="7" fill="#5ad0e8"/><path d="M1134.4 212.6l-2.2 11.5M1135 212.6l-0.6 12.5M1135.8 212.6l0.6 12.5M1136.4 212.6l2.2 11.5" stroke="#6ab8c8" stroke-width="1" fill="none" opacity="0.9"/><rect x="1144.2" y="207.1" width="3.4" height="7" fill="#f0c850"/><path d="M1144.9 213.1l-2.2 11.5M1145.5 213.1l-0.6 12.5M1146.3 213.1l0.6 12.5M1146.9 213.1l2.2 11.5" stroke="#e8c890" stroke-width="1" fill="none" opacity="0.9"/><rect x="1154.8" y="207.5" width="3.4" height="7" fill="#5ad0e8"/><path d="M1155.5 213.5l-2.2 11.5M1156 213.5l-0.6 12.5M1156.9 213.5l0.6 12.5M1157.5 213.5l2.2 11.5" stroke="#6ab8c8" stroke-width="1" fill="none" opacity="0.9"/><rect x="1165.3" y="208" width="3.4" height="7" fill="#f0c850"/><path d="M1166 214l-2.2 11.5M1166.6 214l-0.6 12.5M1167.4 214l0.6 12.5M1168 214l2.2 11.5" stroke="#e8c890" stroke-width="1" fill="none" opacity="0.9"/><path d="M850.9 194.8q2.6 3.2 5.3 0.6M861.4 195.3q2.6 3.2 5.3 0.6M872 195.7q2.6 3.2 5.3 0.6M882.5 196.2q2.6 3.2 5.3 0.6M893.1 196.7q2.6 3.2 5.3 0.6M903.6 197.1q2.6 3.2 5.3 0.6M914.2 197.6q2.6 3.2 5.3 0.6M924.8 198.1q2.6 3.2 5.3 0.6M935.3 198.5q2.6 3.2 5.3 0.6M945.9 199q2.6 3.2 5.3 0.6M956.4 199.5q2.6 3.2 5.3 0.6M966.9 199.9q2.6 3.2 5.3 0.6M977.5 200.4q2.6 3.2 5.3 0.6M988 200.9q2.6 3.2 5.3 0.6M998.6 201.3q2.6 3.2 5.3 0.6M1009.1 201.8q2.6 3.2 5.3 0.6M1019.7 202.3q2.6 3.2 5.3 0.6M1030.3 202.7q2.6 3.2 5.3 0.6M1040.8 203.2q2.6 3.2 5.3 0.6M1051.4 203.7q2.6 3.2 5.3 0.6M1061.9 204.1q2.6 3.2 5.3 0.6M1072.5 204.6q2.6 3.2 5.3 0.6M1083 205.1q2.6 3.2 5.3 0.6M1093.6 205.5q2.6 3.2 5.3 0.6M1104.1 206q2.6 3.2 5.3 0.6M1114.7 206.5q2.6 3.2 5.3 0.6M1125.2 206.9q2.6 3.2 5.3 0.6M1135.8 207.4q2.6 3.2 5.3 0.6M1146.3 207.9q2.6 3.2 5.3 0.6M1156.9 208.3q2.6 3.2 5.3 0.6" stroke="#e8dcc8" stroke-width="0.9" fill="none" opacity="0.8"/><path d="M849 199q-4 8 -12 10M850 200q-3 7 -10 11" stroke="#d8b078" stroke-width="1" fill="none"/><path d="M1172 213q4 8 12 10M1171 214q3 7 10 11" stroke="#d8b078" stroke-width="1" fill="none"/></g><polygon points="835,176 838.5,185 782.5,199.5 784,207 756.5,197.4 781,180.5 778.8,190.5" fill="#fff"/><text x="746" y="93" font-size="38" font-weight="bold" fill="#fff" textLength="136" lengthAdjust="spacingAndGlyphs">Erasing</text><text x="869.5" y="160" font-size="35" fill="#000" textLength="241.5" lengthAdjust="spacingAndGlyphs">Magnetic comb</text><rect x="741.3" y="374" width="499.6" height="273.8" fill="#575757"/><clipPath id="topface320"><polygon points="691.3,580 896.8,536 1228,553.9 1075.3,606.6"/></clipPath><g clip-path="url(#midclip2)"><polygon points="691.3,580 896.8,536 1228,553.9 1075.3,606.6" fill="#76bdd9"/><polygon points="691.3,580 1075.3,606.6 1075.3,632.3 691.3,605.7" fill="url(#frontG)"/><polygon points="1075.3,606.6 1228,553.9 1228,575.4 1075.3,632.3" fill="#3a88b1"/><g clip-path="url(#topface320)"><ellipse cx="774.7" cy="532" rx="2.5" ry="0.9" fill="#23479a" opacity="0.85"/><ellipse cx="777.1" cy="532.2" rx="0.9" ry="0.7" fill="#e8302a" opacity="0.9"/><ellipse cx="774.6" cy="534.9" rx="1.8" ry="0.9" fill="#23479a" opacity="0.6"/><ellipse cx="776.6" cy="535.1" rx="0.9" ry="0.7" fill="#e8302a" opacity="0.6"/><ellipse cx="774.5" cy="537.9" rx="2.7" ry="0.9" fill="#23479a" opacity="0.85"/><ellipse cx="776.9" cy="538.1" rx="0.9" ry="0.7" fill="#e8302a" opacity="0.9"/><ellipse cx="774.4" cy="541" rx="1.9" ry="0.9" fill="#23479a" opacity="0.6"/><ellipse cx="776.4" cy="541.2" rx="1" ry="0.7" fill="#e8302a" opacity="0.6"/><ellipse cx="774.2" cy="544.1" rx="2.8" ry="1" fill="#23479a" opacity="0.85"/><ellipse cx="776.8" cy="544.3" rx="1" ry="0.8" fill="#e8302a" opacity="0.9"/><ellipse cx="774.1" cy="547.3" rx="2" ry="1" fill="#23479a" opacity="0.6"/><ellipse cx="776.2" cy="547.5" rx="1" ry="0.8" fill="#e8302a" opacity="0.6"/><ellipse cx="774" cy="550.6" rx="3" ry="1" fill="#23479a" opacity="0.85"/><ellipse cx="776.6" cy="550.8" rx="1" ry="0.8" fill="#e8302a" opacity="0.9"/><ellipse cx="773.8" cy="554" rx="2.1" ry="1" fill="#23479a" opacity="0.6"/><ellipse cx="776" cy="554.2" rx="1.1" ry="0.8" fill="#e8302a" opacity="0.6"/><ellipse cx="773.7" cy="557.4" rx="3.1" ry="1.1" fill="#23479a" opacity="0.85"/><ellipse cx="776.4" cy="557.6" rx="1.1" ry="0.8" fill="#e8302a" opacity="0.9"/><ellipse cx="773.6" cy="560.9" rx="2.2" ry="1.1" fill="#23479a" opacity="0.6"/><ellipse cx="775.8" cy="561.1" rx="1.1" ry="0.8" fill="#e8302a" opacity="0.6"/><ellipse cx="773.4" cy="564.5" rx="3.3" ry="1.1" fill="#23479a" opacity="0.85"/><ellipse cx="776.2" cy="564.7" rx="1.2" ry="0.9" fill="#e8302a" opacity="0.9"/><ellipse cx="773.3" cy="568.2" rx="2.3" ry="1.1" fill="#23479a" opacity="0.6"/><ellipse cx="775.5" cy="568.4" rx="1.2" ry="0.9" fill="#e8302a" opacity="0.6"/><ellipse cx="773.1" cy="572" rx="3.4" ry="1.2" fill="#23479a" opacity="0.85"/><ellipse cx="776" cy="572.2" rx="1.2" ry="0.9" fill="#e8302a" opacity="0.9"/><ellipse cx="773" cy="575.8" rx="2.4" ry="1.2" fill="#23479a" opacity="0.6"/><ellipse cx="775.3" cy="576" rx="1.2" ry="0.9" fill="#e8302a" opacity="0.6"/><ellipse cx="772.8" cy="579.7" rx="3.6" ry="1.2" fill="#23479a" opacity="0.85"/><ellipse cx="775.8" cy="579.9" rx="1.3" ry="1" fill="#e8302a" opacity="0.9"/><ellipse cx="772.6" cy="583.8" rx="2.5" ry="1.2" fill="#23479a" opacity="0.6"/><ellipse cx="775" cy="584" rx="1.3" ry="1" fill="#e8302a" opacity="0.6"/><ellipse cx="772.5" cy="587.9" rx="3.8" ry="1.3" fill="#23479a" opacity="0.85"/><ellipse cx="775.6" cy="588.1" rx="1.4" ry="1" fill="#e8302a" opacity="0.9"/><ellipse cx="772.3" cy="592.1" rx="2.6" ry="1.3" fill="#23479a" opacity="0.6"/><ellipse cx="774.8" cy="592.3" rx="1.4" ry="1" fill="#e8302a" opacity="0.6"/><ellipse cx="772.1" cy="596.4" rx="4" ry="1.3" fill="#23479a" opacity="0.85"/><ellipse cx="775.3" cy="596.6" rx="1.4" ry="1.1" fill="#e8302a" opacity="0.9"/><ellipse cx="772" cy="600.8" rx="2.7" ry="1.4" fill="#23479a" opacity="0.6"/><ellipse cx="774.5" cy="601" rx="1.5" ry="1.1" fill="#e8302a" opacity="0.6"/><ellipse cx="771.8" cy="605.3" rx="4.2" ry="1.4" fill="#23479a" opacity="0.85"/><ellipse cx="775.1" cy="605.5" rx="1.5" ry="1.1" fill="#e8302a" opacity="0.9"/><ellipse cx="771.6" cy="609.9" rx="2.9" ry="1.4" fill="#23479a" opacity="0.6"/><ellipse cx="774.2" cy="610.1" rx="1.5" ry="1.1" fill="#e8302a" opacity="0.6"/><ellipse cx="797.4" cy="534" rx="3" ry="0.8" fill="#3f7fb5" opacity="0.5"/><ellipse cx="797.7" cy="540.5" rx="3.2" ry="0.8" fill="#3f7fb5" opacity="0.5"/><ellipse cx="798.1" cy="547.2" rx="3.3" ry="0.8" fill="#3f7fb5" opacity="0.5"/><ellipse cx="798.5" cy="554.2" rx="3.5" ry="0.8" fill="#3f7fb5" opacity="0.5"/><ellipse cx="798.9" cy="561.5" rx="3.8" ry="0.8" fill="#3f7fb5" opacity="0.5"/><ellipse cx="799.3" cy="569.2" rx="4" ry="0.8" fill="#3f7fb5" opacity="0.5"/><ellipse cx="799.7" cy="577.1" rx="4.2" ry="0.8" fill="#3f7fb5" opacity="0.5"/><ellipse cx="800.1" cy="585.4" rx="4.4" ry="0.8" fill="#3f7fb5" opacity="0.5"/><ellipse cx="800.6" cy="594.1" rx="4.7" ry="0.8" fill="#3f7fb5" opacity="0.5"/><ellipse cx="801.1" cy="603.1" rx="4.9" ry="0.8" fill="#3f7fb5" opacity="0.5"/><ellipse cx="817.9" cy="532" rx="2.5" ry="0.9" fill="#23479a" opacity="0.85"/><ellipse cx="820.3" cy="532.2" rx="0.9" ry="0.7" fill="#e8302a" opacity="0.9"/><ellipse cx="818.4" cy="534.9" rx="1.8" ry="0.9" fill="#23479a" opacity="0.6"/><ellipse cx="820.4" cy="535.1" rx="0.9" ry="0.7" fill="#e8302a" opacity="0.6"/><ellipse cx="818.8" cy="537.9" rx="2.7" ry="0.9" fill="#23479a" opacity="0.85"/><ellipse cx="821.3" cy="538.1" rx="0.9" ry="0.7" fill="#e8302a" opacity="0.9"/><ellipse cx="819.3" cy="541" rx="1.9" ry="0.9" fill="#23479a" opacity="0.6"/><ellipse cx="821.3" cy="541.2" rx="1" ry="0.7" fill="#e8302a" opacity="0.6"/><ellipse cx="819.7" cy="544.1" rx="2.8" ry="1" fill="#23479a" opacity="0.85"/><ellipse cx="822.3" cy="544.3" rx="1" ry="0.8" fill="#e8302a" opacity="0.9"/><ellipse cx="820.2" cy="547.3" rx="2" ry="1" fill="#23479a" opacity="0.6"/><ellipse cx="822.3" cy="547.5" rx="1" ry="0.8" fill="#e8302a" opacity="0.6"/><ellipse cx="820.7" cy="550.6" rx="3" ry="1" fill="#23479a" opacity="0.85"/><ellipse cx="823.3" cy="550.8" rx="1" ry="0.8" fill="#e8302a" opacity="0.9"/><ellipse cx="821.2" cy="554" rx="2.1" ry="1" fill="#23479a" opacity="0.6"/><ellipse cx="823.3" cy="554.2" rx="1.1" ry="0.8" fill="#e8302a" opacity="0.6"/><ellipse cx="821.7" cy="557.4" rx="3.1" ry="1.1" fill="#23479a" opacity="0.85"/><ellipse cx="824.4" cy="557.6" rx="1.1" ry="0.8" fill="#e8302a" opacity="0.9"/><ellipse cx="822.2" cy="560.9" rx="2.2" ry="1.1" fill="#23479a" opacity="0.6"/><ellipse cx="824.4" cy="561.1" rx="1.1" ry="0.8" fill="#e8302a" opacity="0.6"/><ellipse cx="822.7" cy="564.5" rx="3.3" ry="1.1" fill="#23479a" opacity="0.85"/><ellipse cx="825.5" cy="564.7" rx="1.2" ry="0.9" fill="#e8302a" opacity="0.9"/><ellipse cx="823.2" cy="568.2" rx="2.3" ry="1.1" fill="#23479a" opacity="0.6"/><ellipse cx="825.5" cy="568.4" rx="1.2" ry="0.9" fill="#e8302a" opacity="0.6"/><ellipse cx="823.8" cy="572" rx="3.4" ry="1.2" fill="#23479a" opacity="0.85"/><ellipse cx="826.7" cy="572.2" rx="1.2" ry="0.9" fill="#e8302a" opacity="0.9"/><ellipse cx="824.3" cy="575.8" rx="2.4" ry="1.2" fill="#23479a" opacity="0.6"/><ellipse cx="826.7" cy="576" rx="1.2" ry="0.9" fill="#e8302a" opacity="0.6"/><ellipse cx="824.9" cy="579.7" rx="3.6" ry="1.2" fill="#23479a" opacity="0.85"/><ellipse cx="827.9" cy="579.9" rx="1.3" ry="1" fill="#e8302a" opacity="0.9"/><ellipse cx="825.5" cy="583.8" rx="2.5" ry="1.2" fill="#23479a" opacity="0.6"/><ellipse cx="827.9" cy="584" rx="1.3" ry="1" fill="#e8302a" opacity="0.6"/><ellipse cx="826.1" cy="587.9" rx="3.8" ry="1.3" fill="#23479a" opacity="0.85"/><ellipse cx="829.2" cy="588.1" rx="1.4" ry="1" fill="#e8302a" opacity="0.9"/><ellipse cx="826.7" cy="592.1" rx="2.6" ry="1.3" fill="#23479a" opacity="0.6"/><ellipse cx="829.2" cy="592.3" rx="1.4" ry="1" fill="#e8302a" opacity="0.6"/><ellipse cx="827.4" cy="596.4" rx="4" ry="1.3" fill="#23479a" opacity="0.85"/><ellipse cx="830.6" cy="596.6" rx="1.4" ry="1.1" fill="#e8302a" opacity="0.9"/><ellipse cx="828" cy="600.8" rx="2.7" ry="1.4" fill="#23479a" opacity="0.6"/><ellipse cx="830.5" cy="601" rx="1.5" ry="1.1" fill="#e8302a" opacity="0.6"/><ellipse cx="828.7" cy="605.3" rx="4.2" ry="1.4" fill="#23479a" opacity="0.85"/><ellipse cx="832" cy="605.5" rx="1.5" ry="1.1" fill="#e8302a" opacity="0.9"/><ellipse cx="829.3" cy="609.9" rx="2.9" ry="1.4" fill="#23479a" opacity="0.6"/><ellipse cx="831.9" cy="610.1" rx="1.5" ry="1.1" fill="#e8302a" opacity="0.6"/><ellipse cx="841" cy="534" rx="3" ry="0.8" fill="#3f7fb5" opacity="0.5"/><ellipse cx="842.5" cy="540.5" rx="3.2" ry="0.8" fill="#3f7fb5" opacity="0.5"/><ellipse cx="844.1" cy="547.2" rx="3.3" ry="0.8" fill="#3f7fb5" opacity="0.5"/><ellipse cx="845.8" cy="554.2" rx="3.5" ry="0.8" fill="#3f7fb5" opacity="0.5"/><ellipse cx="847.6" cy="561.5" rx="3.8" ry="0.8" fill="#3f7fb5" opacity="0.5"/><ellipse cx="849.4" cy="569.2" rx="4" ry="0.8" fill="#3f7fb5" opacity="0.5"/><ellipse cx="851.3" cy="577.1" rx="4.2" ry="0.8" fill="#3f7fb5" opacity="0.5"/><ellipse cx="853.3" cy="585.4" rx="4.4" ry="0.8" fill="#3f7fb5" opacity="0.5"/><ellipse cx="855.4" cy="594.1" rx="4.7" ry="0.8" fill="#3f7fb5" opacity="0.5"/><ellipse cx="857.5" cy="603.1" rx="4.9" ry="0.8" fill="#3f7fb5" opacity="0.5"/><ellipse cx="861.2" cy="532" rx="2.5" ry="0.9" fill="#23479a" opacity="0.85"/><ellipse cx="863.6" cy="532.2" rx="0.9" ry="0.7" fill="#e8302a" opacity="0.9"/><ellipse cx="862.1" cy="534.9" rx="1.8" ry="0.9" fill="#23479a" opacity="0.6"/><ellipse cx="864.1" cy="535.1" rx="0.9" ry="0.7" fill="#e8302a" opacity="0.6"/><ellipse cx="863.1" cy="537.9" rx="2.7" ry="0.9" fill="#23479a" opacity="0.85"/><ellipse cx="865.6" cy="538.1" rx="0.9" ry="0.7" fill="#e8302a" opacity="0.9"/><ellipse cx="864.2" cy="541" rx="1.9" ry="0.9" fill="#23479a" opacity="0.6"/><ellipse cx="866.2" cy="541.2" rx="1" ry="0.7" fill="#e8302a" opacity="0.6"/><ellipse cx="865.2" cy="544.1" rx="2.8" ry="1" fill="#23479a" opacity="0.85"/><ellipse cx="867.7" cy="544.3" rx="1" ry="0.8" fill="#e8302a" opacity="0.9"/><ellipse cx="866.3" cy="547.3" rx="2" ry="1" fill="#23479a" opacity="0.6"/><ellipse cx="868.4" cy="547.5" rx="1" ry="0.8" fill="#e8302a" opacity="0.6"/><ellipse cx="867.4" cy="550.6" rx="3" ry="1" fill="#23479a" opacity="0.85"/><ellipse cx="870" cy="550.8" rx="1" ry="0.8" fill="#e8302a" opacity="0.9"/><ellipse cx="868.5" cy="554" rx="2.1" ry="1" fill="#23479a" opacity="0.6"/><ellipse cx="870.6" cy="554.2" rx="1.1" ry="0.8" fill="#e8302a" opacity="0.6"/><ellipse cx="869.6" cy="557.4" rx="3.1" ry="1.1" fill="#23479a" opacity="0.85"/><ellipse cx="872.3" cy="557.6" rx="1.1" ry="0.8" fill="#e8302a" opacity="0.9"/><ellipse cx="870.8" cy="560.9" rx="2.2" ry="1.1" fill="#23479a" opacity="0.6"/><ellipse cx="873" cy="561.1" rx="1.1" ry="0.8" fill="#e8302a" opacity="0.6"/><ellipse cx="872" cy="564.5" rx="3.3" ry="1.1" fill="#23479a" opacity="0.85"/><ellipse cx="874.8" cy="564.7" rx="1.2" ry="0.9" fill="#e8302a" opacity="0.9"/><ellipse cx="873.2" cy="568.2" rx="2.3" ry="1.1" fill="#23479a" opacity="0.6"/><ellipse cx="875.5" cy="568.4" rx="1.2" ry="0.9" fill="#e8302a" opacity="0.6"/><ellipse cx="874.4" cy="572" rx="3.4" ry="1.2" fill="#23479a" opacity="0.85"/><ellipse cx="877.3" cy="572.2" rx="1.2" ry="0.9" fill="#e8302a" opacity="0.9"/><ellipse cx="875.7" cy="575.8" rx="2.4" ry="1.2" fill="#23479a" opacity="0.6"/><ellipse cx="878" cy="576" rx="1.2" ry="0.9" fill="#e8302a" opacity="0.6"/><ellipse cx="877" cy="579.7" rx="3.6" ry="1.2" fill="#23479a" opacity="0.85"/><ellipse cx="880" cy="579.9" rx="1.3" ry="1" fill="#e8302a" opacity="0.9"/><ellipse cx="878.4" cy="583.8" rx="2.5" ry="1.2" fill="#23479a" opacity="0.6"/><ellipse cx="880.7" cy="584" rx="1.3" ry="1" fill="#e8302a" opacity="0.6"/><ellipse cx="879.7" cy="587.9" rx="3.8" ry="1.3" fill="#23479a" opacity="0.85"/><ellipse cx="882.8" cy="588.1" rx="1.4" ry="1" fill="#e8302a" opacity="0.9"/><ellipse cx="881.1" cy="592.1" rx="2.6" ry="1.3" fill="#23479a" opacity="0.6"/><ellipse cx="883.6" cy="592.3" rx="1.4" ry="1" fill="#e8302a" opacity="0.6"/><ellipse cx="882.6" cy="596.4" rx="4" ry="1.3" fill="#23479a" opacity="0.85"/><ellipse cx="885.8" cy="596.6" rx="1.4" ry="1.1" fill="#e8302a" opacity="0.9"/><ellipse cx="884" cy="600.8" rx="2.7" ry="1.4" fill="#23479a" opacity="0.6"/><ellipse cx="886.5" cy="601" rx="1.5" ry="1.1" fill="#e8302a" opacity="0.6"/><ellipse cx="885.5" cy="605.3" rx="4.2" ry="1.4" fill="#23479a" opacity="0.85"/><ellipse cx="888.9" cy="605.5" rx="1.5" ry="1.1" fill="#e8302a" opacity="0.9"/><ellipse cx="887.1" cy="609.9" rx="2.9" ry="1.4" fill="#23479a" opacity="0.6"/><ellipse cx="889.6" cy="610.1" rx="1.5" ry="1.1" fill="#e8302a" opacity="0.6"/><ellipse cx="884.6" cy="534" rx="3" ry="0.8" fill="#3f7fb5" opacity="0.5"/><ellipse cx="887.3" cy="540.5" rx="3.2" ry="0.8" fill="#3f7fb5" opacity="0.5"/><ellipse cx="890.2" cy="547.2" rx="3.3" ry="0.8" fill="#3f7fb5" opacity="0.5"/><ellipse cx="893.2" cy="554.2" rx="3.5" ry="0.8" fill="#3f7fb5" opacity="0.5"/><ellipse cx="896.3" cy="561.5" rx="3.8" ry="0.8" fill="#3f7fb5" opacity="0.5"/><ellipse cx="899.5" cy="569.2" rx="4" ry="0.8" fill="#3f7fb5" opacity="0.5"/><ellipse cx="902.9" cy="577.1" rx="4.2" ry="0.8" fill="#3f7fb5" opacity="0.5"/><ellipse cx="906.5" cy="585.4" rx="4.4" ry="0.8" fill="#3f7fb5" opacity="0.5"/><ellipse cx="910.2" cy="594.1" rx="4.7" ry="0.8" fill="#3f7fb5" opacity="0.5"/><ellipse cx="914" cy="603.1" rx="4.9" ry="0.8" fill="#3f7fb5" opacity="0.5"/><ellipse cx="904.4" cy="532" rx="2.5" ry="0.9" fill="#23479a" opacity="0.85"/><ellipse cx="906.8" cy="532.2" rx="0.9" ry="0.7" fill="#e8302a" opacity="0.9"/><ellipse cx="905.9" cy="534.9" rx="1.8" ry="0.9" fill="#23479a" opacity="0.6"/><ellipse cx="907.9" cy="535.1" rx="0.9" ry="0.7" fill="#e8302a" opacity="0.6"/><ellipse cx="907.5" cy="537.9" rx="2.7" ry="0.9" fill="#23479a" opacity="0.85"/><ellipse cx="909.9" cy="538.1" rx="0.9" ry="0.7" fill="#e8302a" opacity="0.9"/><ellipse cx="909.1" cy="541" rx="1.9" ry="0.9" fill="#23479a" opacity="0.6"/><ellipse cx="911.1" cy="541.2" rx="1" ry="0.7" fill="#e8302a" opacity="0.6"/><ellipse cx="910.7" cy="544.1" rx="2.8" ry="1" fill="#23479a" opacity="0.85"/><ellipse cx="913.2" cy="544.3" rx="1" ry="0.8" fill="#e8302a" opacity="0.9"/><ellipse cx="912.3" cy="547.3" rx="2" ry="1" fill="#23479a" opacity="0.6"/><ellipse cx="914.4" cy="547.5" rx="1" ry="0.8" fill="#e8302a" opacity="0.6"/><ellipse cx="914" cy="550.6" rx="3" ry="1" fill="#23479a" opacity="0.85"/><ellipse cx="916.7" cy="550.8" rx="1" ry="0.8" fill="#e8302a" opacity="0.9"/><ellipse cx="915.8" cy="554" rx="2.1" ry="1" fill="#23479a" opacity="0.6"/><ellipse cx="917.9" cy="554.2" rx="1.1" ry="0.8" fill="#e8302a" opacity="0.6"/><ellipse cx="917.6" cy="557.4" rx="3.1" ry="1.1" fill="#23479a" opacity="0.85"/><ellipse cx="920.3" cy="557.6" rx="1.1" ry="0.8" fill="#e8302a" opacity="0.9"/><ellipse cx="919.4" cy="560.9" rx="2.2" ry="1.1" fill="#23479a" opacity="0.6"/><ellipse cx="921.6" cy="561.1" rx="1.1" ry="0.8" fill="#e8302a" opacity="0.6"/><ellipse cx="921.3" cy="564.5" rx="3.3" ry="1.1" fill="#23479a" opacity="0.85"/><ellipse cx="924.1" cy="564.7" rx="1.2" ry="0.9" fill="#e8302a" opacity="0.9"/><ellipse cx="923.2" cy="568.2" rx="2.3" ry="1.1" fill="#23479a" opacity="0.6"/><ellipse cx="925.4" cy="568.4" rx="1.2" ry="0.9" fill="#e8302a" opacity="0.6"/><ellipse cx="925.1" cy="572" rx="3.4" ry="1.2" fill="#23479a" opacity="0.85"/><ellipse cx="928" cy="572.2" rx="1.2" ry="0.9" fill="#e8302a" opacity="0.9"/><ellipse cx="927.1" cy="575.8" rx="2.4" ry="1.2" fill="#23479a" opacity="0.6"/><ellipse cx="929.4" cy="576" rx="1.2" ry="0.9" fill="#e8302a" opacity="0.6"/><ellipse cx="929.1" cy="579.7" rx="3.6" ry="1.2" fill="#23479a" opacity="0.85"/><ellipse cx="932.1" cy="579.9" rx="1.3" ry="1" fill="#e8302a" opacity="0.9"/><ellipse cx="931.2" cy="583.8" rx="2.5" ry="1.2" fill="#23479a" opacity="0.6"/><ellipse cx="933.6" cy="584" rx="1.3" ry="1" fill="#e8302a" opacity="0.6"/><ellipse cx="933.4" cy="587.9" rx="3.8" ry="1.3" fill="#23479a" opacity="0.85"/><ellipse cx="936.5" cy="588.1" rx="1.4" ry="1" fill="#e8302a" opacity="0.9"/><ellipse cx="935.6" cy="592.1" rx="2.6" ry="1.3" fill="#23479a" opacity="0.6"/><ellipse cx="938" cy="592.3" rx="1.4" ry="1" fill="#e8302a" opacity="0.6"/><ellipse cx="937.8" cy="596.4" rx="4" ry="1.3" fill="#23479a" opacity="0.85"/><ellipse cx="941" cy="596.6" rx="1.4" ry="1.1" fill="#e8302a" opacity="0.9"/><ellipse cx="940.1" cy="600.8" rx="2.7" ry="1.4" fill="#23479a" opacity="0.6"/><ellipse cx="942.6" cy="601" rx="1.5" ry="1.1" fill="#e8302a" opacity="0.6"/><ellipse cx="942.4" cy="605.3" rx="4.2" ry="1.4" fill="#23479a" opacity="0.85"/><ellipse cx="945.7" cy="605.5" rx="1.5" ry="1.1" fill="#e8302a" opacity="0.9"/><ellipse cx="944.8" cy="609.9" rx="2.9" ry="1.4" fill="#23479a" opacity="0.6"/><ellipse cx="947.4" cy="610.1" rx="1.5" ry="1.1" fill="#e8302a" opacity="0.6"/><ellipse cx="928.2" cy="534" rx="3" ry="0.8" fill="#3f7fb5" opacity="0.5"/><ellipse cx="932.1" cy="540.5" rx="3.2" ry="0.8" fill="#3f7fb5" opacity="0.5"/><ellipse cx="936.2" cy="547.2" rx="3.3" ry="0.8" fill="#3f7fb5" opacity="0.5"/><ellipse cx="940.5" cy="554.2" rx="3.5" ry="0.8" fill="#3f7fb5" opacity="0.5"/><ellipse cx="945" cy="561.5" rx="3.8" ry="0.8" fill="#3f7fb5" opacity="0.5"/><ellipse cx="949.7" cy="569.2" rx="4" ry="0.8" fill="#3f7fb5" opacity="0.5"/><ellipse cx="954.6" cy="577.1" rx="4.2" ry="0.8" fill="#3f7fb5" opacity="0.5"/><ellipse cx="959.6" cy="585.4" rx="4.4" ry="0.8" fill="#3f7fb5" opacity="0.5"/><ellipse cx="964.9" cy="594.1" rx="4.7" ry="0.8" fill="#3f7fb5" opacity="0.5"/><ellipse cx="970.5" cy="603.1" rx="4.9" ry="0.8" fill="#3f7fb5" opacity="0.5"/><ellipse cx="947.6" cy="532" rx="2.5" ry="0.9" fill="#23479a" opacity="0.85"/><ellipse cx="950" cy="532.2" rx="0.9" ry="0.7" fill="#e8302a" opacity="0.9"/><ellipse cx="949.7" cy="534.9" rx="1.8" ry="0.9" fill="#23479a" opacity="0.6"/><ellipse cx="951.7" cy="535.1" rx="0.9" ry="0.7" fill="#e8302a" opacity="0.6"/><ellipse cx="951.8" cy="537.9" rx="2.7" ry="0.9" fill="#23479a" opacity="0.85"/><ellipse cx="954.3" cy="538.1" rx="0.9" ry="0.7" fill="#e8302a" opacity="0.9"/><ellipse cx="953.9" cy="541" rx="1.9" ry="0.9" fill="#23479a" opacity="0.6"/><ellipse cx="956" cy="541.2" rx="1" ry="0.7" fill="#e8302a" opacity="0.6"/><ellipse cx="956.2" cy="544.1" rx="2.8" ry="1" fill="#23479a" opacity="0.85"/><ellipse cx="958.7" cy="544.3" rx="1" ry="0.8" fill="#e8302a" opacity="0.9"/><ellipse cx="958.4" cy="547.3" rx="2" ry="1" fill="#23479a" opacity="0.6"/><ellipse cx="960.5" cy="547.5" rx="1" ry="0.8" fill="#e8302a" opacity="0.6"/><ellipse cx="960.7" cy="550.6" rx="3" ry="1" fill="#23479a" opacity="0.85"/><ellipse cx="963.4" cy="550.8" rx="1" ry="0.8" fill="#e8302a" opacity="0.9"/><ellipse cx="963.1" cy="554" rx="2.1" ry="1" fill="#23479a" opacity="0.6"/><ellipse cx="965.2" cy="554.2" rx="1.1" ry="0.8" fill="#e8302a" opacity="0.6"/><ellipse cx="965.5" cy="557.4" rx="3.1" ry="1.1" fill="#23479a" opacity="0.85"/><ellipse cx="968.2" cy="557.6" rx="1.1" ry="0.8" fill="#e8302a" opacity="0.9"/><ellipse cx="968" cy="560.9" rx="2.2" ry="1.1" fill="#23479a" opacity="0.6"/><ellipse cx="970.2" cy="561.1" rx="1.1" ry="0.8" fill="#e8302a" opacity="0.6"/><ellipse cx="970.5" cy="564.5" rx="3.3" ry="1.1" fill="#23479a" opacity="0.85"/><ellipse cx="973.3" cy="564.7" rx="1.2" ry="0.9" fill="#e8302a" opacity="0.9"/><ellipse cx="973.1" cy="568.2" rx="2.3" ry="1.1" fill="#23479a" opacity="0.6"/><ellipse cx="975.4" cy="568.4" rx="1.2" ry="0.9" fill="#e8302a" opacity="0.6"/><ellipse cx="975.8" cy="572" rx="3.4" ry="1.2" fill="#23479a" opacity="0.85"/><ellipse cx="978.7" cy="572.2" rx="1.2" ry="0.9" fill="#e8302a" opacity="0.9"/><ellipse cx="978.5" cy="575.8" rx="2.4" ry="1.2" fill="#23479a" opacity="0.6"/><ellipse cx="980.8" cy="576" rx="1.2" ry="0.9" fill="#e8302a" opacity="0.6"/><ellipse cx="981.3" cy="579.7" rx="3.6" ry="1.2" fill="#23479a" opacity="0.85"/><ellipse cx="984.3" cy="579.9" rx="1.3" ry="1" fill="#e8302a" opacity="0.9"/><ellipse cx="984.1" cy="583.8" rx="2.5" ry="1.2" fill="#23479a" opacity="0.6"/><ellipse cx="986.5" cy="584" rx="1.3" ry="1" fill="#e8302a" opacity="0.6"/><ellipse cx="987" cy="587.9" rx="3.8" ry="1.3" fill="#23479a" opacity="0.85"/><ellipse cx="990.1" cy="588.1" rx="1.4" ry="1" fill="#e8302a" opacity="0.9"/><ellipse cx="990" cy="592.1" rx="2.6" ry="1.3" fill="#23479a" opacity="0.6"/><ellipse cx="992.4" cy="592.3" rx="1.4" ry="1" fill="#e8302a" opacity="0.6"/><ellipse cx="993" cy="596.4" rx="4" ry="1.3" fill="#23479a" opacity="0.85"/><ellipse cx="996.2" cy="596.6" rx="1.4" ry="1.1" fill="#e8302a" opacity="0.9"/><ellipse cx="996.1" cy="600.8" rx="2.7" ry="1.4" fill="#23479a" opacity="0.6"/><ellipse cx="998.6" cy="601" rx="1.5" ry="1.1" fill="#e8302a" opacity="0.6"/><ellipse cx="999.3" cy="605.3" rx="4.2" ry="1.4" fill="#23479a" opacity="0.85"/><ellipse cx="1002.6" cy="605.5" rx="1.5" ry="1.1" fill="#e8302a" opacity="0.9"/><ellipse cx="1002.5" cy="609.9" rx="2.9" ry="1.4" fill="#23479a" opacity="0.6"/><ellipse cx="1005.1" cy="610.1" rx="1.5" ry="1.1" fill="#e8302a" opacity="0.6"/><ellipse cx="971.8" cy="534" rx="3" ry="0.8" fill="#3f7fb5" opacity="0.5"/><ellipse cx="976.9" cy="540.5" rx="3.2" ry="0.8" fill="#3f7fb5" opacity="0.5"/><ellipse cx="982.3" cy="547.2" rx="3.3" ry="0.8" fill="#3f7fb5" opacity="0.5"/><ellipse cx="987.9" cy="554.2" rx="3.5" ry="0.8" fill="#3f7fb5" opacity="0.5"/><ellipse cx="993.7" cy="561.5" rx="3.8" ry="0.8" fill="#3f7fb5" opacity="0.5"/><ellipse cx="999.8" cy="569.2" rx="4" ry="0.8" fill="#3f7fb5" opacity="0.5"/><ellipse cx="1006.2" cy="577.1" rx="4.2" ry="0.8" fill="#3f7fb5" opacity="0.5"/><ellipse cx="1012.8" cy="585.4" rx="4.4" ry="0.8" fill="#3f7fb5" opacity="0.5"/><ellipse cx="1019.7" cy="594.1" rx="4.7" ry="0.8" fill="#3f7fb5" opacity="0.5"/><ellipse cx="1027" cy="603.1" rx="4.9" ry="0.8" fill="#3f7fb5" opacity="0.5"/><ellipse cx="990.8" cy="532" rx="2.5" ry="0.9" fill="#23479a" opacity="0.85"/><ellipse cx="993.2" cy="532.2" rx="0.9" ry="0.7" fill="#e8302a" opacity="0.9"/><ellipse cx="993.4" cy="534.9" rx="1.8" ry="0.9" fill="#23479a" opacity="0.6"/><ellipse cx="995.4" cy="535.1" rx="0.9" ry="0.7" fill="#e8302a" opacity="0.6"/><ellipse cx="996.1" cy="537.9" rx="2.7" ry="0.9" fill="#23479a" opacity="0.85"/><ellipse cx="998.6" cy="538.1" rx="0.9" ry="0.7" fill="#e8302a" opacity="0.9"/><ellipse cx="998.8" cy="541" rx="1.9" ry="0.9" fill="#23479a" opacity="0.6"/><ellipse cx="1000.9" cy="541.2" rx="1" ry="0.7" fill="#e8302a" opacity="0.6"/><ellipse cx="1001.6" cy="544.1" rx="2.8" ry="1" fill="#23479a" opacity="0.85"/><ellipse cx="1004.2" cy="544.3" rx="1" ry="0.8" fill="#e8302a" opacity="0.9"/><ellipse cx="1004.5" cy="547.3" rx="2" ry="1" fill="#23479a" opacity="0.6"/><ellipse cx="1006.6" cy="547.5" rx="1" ry="0.8" fill="#e8302a" opacity="0.6"/><ellipse cx="1007.4" cy="550.6" rx="3" ry="1" fill="#23479a" opacity="0.85"/><ellipse cx="1010.1" cy="550.8" rx="1" ry="0.8" fill="#e8302a" opacity="0.9"/><ellipse cx="1010.4" cy="554" rx="2.1" ry="1" fill="#23479a" opacity="0.6"/><ellipse cx="1012.6" cy="554.2" rx="1.1" ry="0.8" fill="#e8302a" opacity="0.6"/><ellipse cx="1013.5" cy="557.4" rx="3.1" ry="1.1" fill="#23479a" opacity="0.85"/><ellipse cx="1016.2" cy="557.6" rx="1.1" ry="0.8" fill="#e8302a" opacity="0.9"/><ellipse cx="1016.6" cy="560.9" rx="2.2" ry="1.1" fill="#23479a" opacity="0.6"/><ellipse cx="1018.8" cy="561.1" rx="1.1" ry="0.8" fill="#e8302a" opacity="0.6"/><ellipse cx="1019.8" cy="564.5" rx="3.3" ry="1.1" fill="#23479a" opacity="0.85"/><ellipse cx="1022.6" cy="564.7" rx="1.2" ry="0.9" fill="#e8302a" opacity="0.9"/><ellipse cx="1023.1" cy="568.2" rx="2.3" ry="1.1" fill="#23479a" opacity="0.6"/><ellipse cx="1025.3" cy="568.4" rx="1.2" ry="0.9" fill="#e8302a" opacity="0.6"/><ellipse cx="1026.4" cy="572" rx="3.4" ry="1.2" fill="#23479a" opacity="0.85"/><ellipse cx="1029.3" cy="572.2" rx="1.2" ry="0.9" fill="#e8302a" opacity="0.9"/><ellipse cx="1029.9" cy="575.8" rx="2.4" ry="1.2" fill="#23479a" opacity="0.6"/><ellipse cx="1032.2" cy="576" rx="1.2" ry="0.9" fill="#e8302a" opacity="0.6"/><ellipse cx="1033.4" cy="579.7" rx="3.6" ry="1.2" fill="#23479a" opacity="0.85"/><ellipse cx="1036.4" cy="579.9" rx="1.3" ry="1" fill="#e8302a" opacity="0.9"/><ellipse cx="1037" cy="583.8" rx="2.5" ry="1.2" fill="#23479a" opacity="0.6"/><ellipse cx="1039.3" cy="584" rx="1.3" ry="1" fill="#e8302a" opacity="0.6"/><ellipse cx="1040.6" cy="587.9" rx="3.8" ry="1.3" fill="#23479a" opacity="0.85"/><ellipse cx="1043.7" cy="588.1" rx="1.4" ry="1" fill="#e8302a" opacity="0.9"/><ellipse cx="1044.4" cy="592.1" rx="2.6" ry="1.3" fill="#23479a" opacity="0.6"/><ellipse cx="1046.8" cy="592.3" rx="1.4" ry="1" fill="#e8302a" opacity="0.6"/><ellipse cx="1048.2" cy="596.4" rx="4" ry="1.3" fill="#23479a" opacity="0.85"/><ellipse cx="1051.4" cy="596.6" rx="1.4" ry="1.1" fill="#e8302a" opacity="0.9"/><ellipse cx="1052.1" cy="600.8" rx="2.7" ry="1.4" fill="#23479a" opacity="0.6"/><ellipse cx="1054.7" cy="601" rx="1.5" ry="1.1" fill="#e8302a" opacity="0.6"/><ellipse cx="1056.2" cy="605.3" rx="4.2" ry="1.4" fill="#23479a" opacity="0.85"/><ellipse cx="1059.5" cy="605.5" rx="1.5" ry="1.1" fill="#e8302a" opacity="0.9"/><ellipse cx="1060.3" cy="609.9" rx="2.9" ry="1.4" fill="#23479a" opacity="0.6"/><ellipse cx="1062.8" cy="610.1" rx="1.5" ry="1.1" fill="#e8302a" opacity="0.6"/><ellipse cx="1015.4" cy="534" rx="3" ry="0.8" fill="#3f7fb5" opacity="0.5"/><ellipse cx="1021.7" cy="540.5" rx="3.2" ry="0.8" fill="#3f7fb5" opacity="0.5"/><ellipse cx="1028.3" cy="547.2" rx="3.3" ry="0.8" fill="#3f7fb5" opacity="0.5"/><ellipse cx="1035.3" cy="554.2" rx="3.5" ry="0.8" fill="#3f7fb5" opacity="0.5"/><ellipse cx="1042.5" cy="561.5" rx="3.8" ry="0.8" fill="#3f7fb5" opacity="0.5"/><ellipse cx="1050" cy="569.2" rx="4" ry="0.8" fill="#3f7fb5" opacity="0.5"/><ellipse cx="1057.8" cy="577.1" rx="4.2" ry="0.8" fill="#3f7fb5" opacity="0.5"/><ellipse cx="1066" cy="585.4" rx="4.4" ry="0.8" fill="#3f7fb5" opacity="0.5"/><ellipse cx="1074.5" cy="594.1" rx="4.7" ry="0.8" fill="#3f7fb5" opacity="0.5"/><ellipse cx="1083.4" cy="603.1" rx="4.9" ry="0.8" fill="#3f7fb5" opacity="0.5"/><ellipse cx="1034" cy="532" rx="2.5" ry="0.9" fill="#23479a" opacity="0.85"/><ellipse cx="1036.4" cy="532.2" rx="0.9" ry="0.7" fill="#e8302a" opacity="0.9"/><ellipse cx="1037.2" cy="534.9" rx="1.8" ry="0.9" fill="#23479a" opacity="0.6"/><ellipse cx="1039.2" cy="535.1" rx="0.9" ry="0.7" fill="#e8302a" opacity="0.6"/><ellipse cx="1040.4" cy="537.9" rx="2.7" ry="0.9" fill="#23479a" opacity="0.85"/><ellipse cx="1042.9" cy="538.1" rx="0.9" ry="0.7" fill="#e8302a" opacity="0.9"/><ellipse cx="1043.7" cy="541" rx="1.9" ry="0.9" fill="#23479a" opacity="0.6"/><ellipse cx="1045.8" cy="541.2" rx="1" ry="0.7" fill="#e8302a" opacity="0.6"/><ellipse cx="1047.1" cy="544.1" rx="2.8" ry="1" fill="#23479a" opacity="0.85"/><ellipse cx="1049.7" cy="544.3" rx="1" ry="0.8" fill="#e8302a" opacity="0.9"/><ellipse cx="1050.6" cy="547.3" rx="2" ry="1" fill="#23479a" opacity="0.6"/><ellipse cx="1052.7" cy="547.5" rx="1" ry="0.8" fill="#e8302a" opacity="0.6"/><ellipse cx="1054.1" cy="550.6" rx="3" ry="1" fill="#23479a" opacity="0.85"/><ellipse cx="1056.7" cy="550.8" rx="1" ry="0.8" fill="#e8302a" opacity="0.9"/><ellipse cx="1057.7" cy="554" rx="2.1" ry="1" fill="#23479a" opacity="0.6"/><ellipse cx="1059.9" cy="554.2" rx="1.1" ry="0.8" fill="#e8302a" opacity="0.6"/><ellipse cx="1061.4" cy="557.4" rx="3.1" ry="1.1" fill="#23479a" opacity="0.85"/><ellipse cx="1064.1" cy="557.6" rx="1.1" ry="0.8" fill="#e8302a" opacity="0.9"/><ellipse cx="1065.2" cy="560.9" rx="2.2" ry="1.1" fill="#23479a" opacity="0.6"/><ellipse cx="1067.4" cy="561.1" rx="1.1" ry="0.8" fill="#e8302a" opacity="0.6"/><ellipse cx="1069.1" cy="564.5" rx="3.3" ry="1.1" fill="#23479a" opacity="0.85"/><ellipse cx="1071.9" cy="564.7" rx="1.2" ry="0.9" fill="#e8302a" opacity="0.9"/><ellipse cx="1073.1" cy="568.2" rx="2.3" ry="1.1" fill="#23479a" opacity="0.6"/><ellipse cx="1075.3" cy="568.4" rx="1.2" ry="0.9" fill="#e8302a" opacity="0.6"/><ellipse cx="1077.1" cy="572" rx="3.4" ry="1.2" fill="#23479a" opacity="0.85"/><ellipse cx="1080" cy="572.2" rx="1.2" ry="0.9" fill="#e8302a" opacity="0.9"/><ellipse cx="1081.3" cy="575.8" rx="2.4" ry="1.2" fill="#23479a" opacity="0.6"/><ellipse cx="1083.6" cy="576" rx="1.2" ry="0.9" fill="#e8302a" opacity="0.6"/><ellipse cx="1085.5" cy="579.7" rx="3.6" ry="1.2" fill="#23479a" opacity="0.85"/><ellipse cx="1088.5" cy="579.9" rx="1.3" ry="1" fill="#e8302a" opacity="0.9"/><ellipse cx="1089.8" cy="583.8" rx="2.5" ry="1.2" fill="#23479a" opacity="0.6"/><ellipse cx="1092.2" cy="584" rx="1.3" ry="1" fill="#e8302a" opacity="0.6"/><ellipse cx="1094.3" cy="587.9" rx="3.8" ry="1.3" fill="#23479a" opacity="0.85"/><ellipse cx="1097.4" cy="588.1" rx="1.4" ry="1" fill="#e8302a" opacity="0.9"/><ellipse cx="1098.8" cy="592.1" rx="2.6" ry="1.3" fill="#23479a" opacity="0.6"/><ellipse cx="1101.2" cy="592.3" rx="1.4" ry="1" fill="#e8302a" opacity="0.6"/><ellipse cx="1103.4" cy="596.4" rx="4" ry="1.3" fill="#23479a" opacity="0.85"/><ellipse cx="1106.6" cy="596.6" rx="1.4" ry="1.1" fill="#e8302a" opacity="0.9"/><ellipse cx="1108.2" cy="600.8" rx="2.7" ry="1.4" fill="#23479a" opacity="0.6"/><ellipse cx="1110.7" cy="601" rx="1.5" ry="1.1" fill="#e8302a" opacity="0.6"/><ellipse cx="1113" cy="605.3" rx="4.2" ry="1.4" fill="#23479a" opacity="0.85"/><ellipse cx="1116.3" cy="605.5" rx="1.5" ry="1.1" fill="#e8302a" opacity="0.9"/><ellipse cx="1118" cy="609.9" rx="2.9" ry="1.4" fill="#23479a" opacity="0.6"/><ellipse cx="1120.6" cy="610.1" rx="1.5" ry="1.1" fill="#e8302a" opacity="0.6"/><ellipse cx="1059" cy="534" rx="3" ry="0.8" fill="#3f7fb5" opacity="0.5"/><ellipse cx="1066.5" cy="540.5" rx="3.2" ry="0.8" fill="#3f7fb5" opacity="0.5"/><ellipse cx="1074.4" cy="547.2" rx="3.3" ry="0.8" fill="#3f7fb5" opacity="0.5"/><ellipse cx="1082.6" cy="554.2" rx="3.5" ry="0.8" fill="#3f7fb5" opacity="0.5"/><ellipse cx="1091.2" cy="561.5" rx="3.8" ry="0.8" fill="#3f7fb5" opacity="0.5"/><ellipse cx="1100.1" cy="569.2" rx="4" ry="0.8" fill="#3f7fb5" opacity="0.5"/><ellipse cx="1109.5" cy="577.1" rx="4.2" ry="0.8" fill="#3f7fb5" opacity="0.5"/><ellipse cx="1119.2" cy="585.4" rx="4.4" ry="0.8" fill="#3f7fb5" opacity="0.5"/><ellipse cx="1129.3" cy="594.1" rx="4.7" ry="0.8" fill="#3f7fb5" opacity="0.5"/><ellipse cx="1139.9" cy="603.1" rx="4.9" ry="0.8" fill="#3f7fb5" opacity="0.5"/><ellipse cx="1077.3" cy="532" rx="2.5" ry="0.9" fill="#23479a" opacity="0.85"/><ellipse cx="1079.7" cy="532.2" rx="0.9" ry="0.7" fill="#e8302a" opacity="0.9"/><ellipse cx="1081" cy="534.9" rx="1.8" ry="0.9" fill="#23479a" opacity="0.6"/><ellipse cx="1083" cy="535.1" rx="0.9" ry="0.7" fill="#e8302a" opacity="0.6"/><ellipse cx="1084.8" cy="537.9" rx="2.7" ry="0.9" fill="#23479a" opacity="0.85"/><ellipse cx="1087.2" cy="538.1" rx="0.9" ry="0.7" fill="#e8302a" opacity="0.9"/><ellipse cx="1088.6" cy="541" rx="1.9" ry="0.9" fill="#23479a" opacity="0.6"/><ellipse cx="1090.7" cy="541.2" rx="1" ry="0.7" fill="#e8302a" opacity="0.6"/><ellipse cx="1092.6" cy="544.1" rx="2.8" ry="1" fill="#23479a" opacity="0.85"/><ellipse cx="1095.1" cy="544.3" rx="1" ry="0.8" fill="#e8302a" opacity="0.9"/><ellipse cx="1096.7" cy="547.3" rx="2" ry="1" fill="#23479a" opacity="0.6"/><ellipse cx="1098.7" cy="547.5" rx="1" ry="0.8" fill="#e8302a" opacity="0.6"/><ellipse cx="1100.8" cy="550.6" rx="3" ry="1" fill="#23479a" opacity="0.85"/><ellipse cx="1103.4" cy="550.8" rx="1" ry="0.8" fill="#e8302a" opacity="0.9"/><ellipse cx="1105.1" cy="554" rx="2.1" ry="1" fill="#23479a" opacity="0.6"/><ellipse cx="1107.2" cy="554.2" rx="1.1" ry="0.8" fill="#e8302a" opacity="0.6"/><ellipse cx="1109.4" cy="557.4" rx="3.1" ry="1.1" fill="#23479a" opacity="0.85"/><ellipse cx="1112.1" cy="557.6" rx="1.1" ry="0.8" fill="#e8302a" opacity="0.9"/><ellipse cx="1113.8" cy="560.9" rx="2.2" ry="1.1" fill="#23479a" opacity="0.6"/><ellipse cx="1116" cy="561.1" rx="1.1" ry="0.8" fill="#e8302a" opacity="0.6"/><ellipse cx="1118.4" cy="564.5" rx="3.3" ry="1.1" fill="#23479a" opacity="0.85"/><ellipse cx="1121.2" cy="564.7" rx="1.2" ry="0.9" fill="#e8302a" opacity="0.9"/><ellipse cx="1123" cy="568.2" rx="2.3" ry="1.1" fill="#23479a" opacity="0.6"/><ellipse cx="1125.3" cy="568.4" rx="1.2" ry="0.9" fill="#e8302a" opacity="0.6"/><ellipse cx="1127.8" cy="572" rx="3.4" ry="1.2" fill="#23479a" opacity="0.85"/><ellipse cx="1130.7" cy="572.2" rx="1.2" ry="0.9" fill="#e8302a" opacity="0.9"/><ellipse cx="1132.6" cy="575.8" rx="2.4" ry="1.2" fill="#23479a" opacity="0.6"/><ellipse cx="1134.9" cy="576" rx="1.2" ry="0.9" fill="#e8302a" opacity="0.6"/><ellipse cx="1137.6" cy="579.7" rx="3.6" ry="1.2" fill="#23479a" opacity="0.85"/><ellipse cx="1140.6" cy="579.9" rx="1.3" ry="1" fill="#e8302a" opacity="0.9"/><ellipse cx="1142.7" cy="583.8" rx="2.5" ry="1.2" fill="#23479a" opacity="0.6"/><ellipse cx="1145.1" cy="584" rx="1.3" ry="1" fill="#e8302a" opacity="0.6"/><ellipse cx="1147.9" cy="587.9" rx="3.8" ry="1.3" fill="#23479a" opacity="0.85"/><ellipse cx="1151" cy="588.1" rx="1.4" ry="1" fill="#e8302a" opacity="0.9"/><ellipse cx="1153.2" cy="592.1" rx="2.6" ry="1.3" fill="#23479a" opacity="0.6"/><ellipse cx="1155.6" cy="592.3" rx="1.4" ry="1" fill="#e8302a" opacity="0.6"/><ellipse cx="1158.6" cy="596.4" rx="4" ry="1.3" fill="#23479a" opacity="0.85"/><ellipse cx="1161.8" cy="596.6" rx="1.4" ry="1.1" fill="#e8302a" opacity="0.9"/><ellipse cx="1164.2" cy="600.8" rx="2.7" ry="1.4" fill="#23479a" opacity="0.6"/><ellipse cx="1166.7" cy="601" rx="1.5" ry="1.1" fill="#e8302a" opacity="0.6"/><ellipse cx="1169.9" cy="605.3" rx="4.2" ry="1.4" fill="#23479a" opacity="0.85"/><ellipse cx="1173.2" cy="605.5" rx="1.5" ry="1.1" fill="#e8302a" opacity="0.9"/><ellipse cx="1175.7" cy="609.9" rx="2.9" ry="1.4" fill="#23479a" opacity="0.6"/><ellipse cx="1178.3" cy="610.1" rx="1.5" ry="1.1" fill="#e8302a" opacity="0.6"/><ellipse cx="1102.5" cy="534" rx="3" ry="0.8" fill="#3f7fb5" opacity="0.5"/><ellipse cx="1111.3" cy="540.5" rx="3.2" ry="0.8" fill="#3f7fb5" opacity="0.5"/><ellipse cx="1120.4" cy="547.2" rx="3.3" ry="0.8" fill="#3f7fb5" opacity="0.5"/><ellipse cx="1130" cy="554.2" rx="3.5" ry="0.8" fill="#3f7fb5" opacity="0.5"/><ellipse cx="1139.9" cy="561.5" rx="3.8" ry="0.8" fill="#3f7fb5" opacity="0.5"/><ellipse cx="1150.3" cy="569.2" rx="4" ry="0.8" fill="#3f7fb5" opacity="0.5"/><ellipse cx="1161.1" cy="577.1" rx="4.2" ry="0.8" fill="#3f7fb5" opacity="0.5"/><ellipse cx="1172.4" cy="585.4" rx="4.4" ry="0.8" fill="#3f7fb5" opacity="0.5"/><ellipse cx="1184.1" cy="594.1" rx="4.7" ry="0.8" fill="#3f7fb5" opacity="0.5"/><ellipse cx="1196.4" cy="603.1" rx="4.9" ry="0.8" fill="#3f7fb5" opacity="0.5"/><ellipse cx="1120.5" cy="532" rx="2.5" ry="0.9" fill="#23479a" opacity="0.85"/><ellipse cx="1122.9" cy="532.2" rx="0.9" ry="0.7" fill="#e8302a" opacity="0.9"/><ellipse cx="1124.7" cy="534.9" rx="1.8" ry="0.9" fill="#23479a" opacity="0.6"/><ellipse cx="1126.7" cy="535.1" rx="0.9" ry="0.7" fill="#e8302a" opacity="0.6"/><ellipse cx="1129.1" cy="537.9" rx="2.7" ry="0.9" fill="#23479a" opacity="0.85"/><ellipse cx="1131.6" cy="538.1" rx="0.9" ry="0.7" fill="#e8302a" opacity="0.9"/><ellipse cx="1133.5" cy="541" rx="1.9" ry="0.9" fill="#23479a" opacity="0.6"/><ellipse cx="1135.6" cy="541.2" rx="1" ry="0.7" fill="#e8302a" opacity="0.6"/><ellipse cx="1138.1" cy="544.1" rx="2.8" ry="1" fill="#23479a" opacity="0.85"/><ellipse cx="1140.6" cy="544.3" rx="1" ry="0.8" fill="#e8302a" opacity="0.9"/><ellipse cx="1142.7" cy="547.3" rx="2" ry="1" fill="#23479a" opacity="0.6"/><ellipse cx="1144.8" cy="547.5" rx="1" ry="0.8" fill="#e8302a" opacity="0.6"/><ellipse cx="1147.5" cy="550.6" rx="3" ry="1" fill="#23479a" opacity="0.85"/><ellipse cx="1150.1" cy="550.8" rx="1" ry="0.8" fill="#e8302a" opacity="0.9"/><ellipse cx="1152.4" cy="554" rx="2.1" ry="1" fill="#23479a" opacity="0.6"/><ellipse cx="1154.5" cy="554.2" rx="1.1" ry="0.8" fill="#e8302a" opacity="0.6"/><ellipse cx="1157.3" cy="557.4" rx="3.1" ry="1.1" fill="#23479a" opacity="0.85"/><ellipse cx="1160.1" cy="557.6" rx="1.1" ry="0.8" fill="#e8302a" opacity="0.9"/><ellipse cx="1162.4" cy="560.9" rx="2.2" ry="1.1" fill="#23479a" opacity="0.6"/><ellipse cx="1164.6" cy="561.1" rx="1.1" ry="0.8" fill="#e8302a" opacity="0.6"/><ellipse cx="1167.7" cy="564.5" rx="3.3" ry="1.1" fill="#23479a" opacity="0.85"/><ellipse cx="1170.5" cy="564.7" rx="1.2" ry="0.9" fill="#e8302a" opacity="0.9"/><ellipse cx="1173" cy="568.2" rx="2.3" ry="1.1" fill="#23479a" opacity="0.6"/><ellipse cx="1175.2" cy="568.4" rx="1.2" ry="0.9" fill="#e8302a" opacity="0.6"/><ellipse cx="1178.4" cy="572" rx="3.4" ry="1.2" fill="#23479a" opacity="0.85"/><ellipse cx="1181.3" cy="572.2" rx="1.2" ry="0.9" fill="#e8302a" opacity="0.9"/><ellipse cx="1184" cy="575.8" rx="2.4" ry="1.2" fill="#23479a" opacity="0.6"/><ellipse cx="1186.3" cy="576" rx="1.2" ry="0.9" fill="#e8302a" opacity="0.6"/><ellipse cx="1189.7" cy="579.7" rx="3.6" ry="1.2" fill="#23479a" opacity="0.85"/><ellipse cx="1192.7" cy="579.9" rx="1.3" ry="1" fill="#e8302a" opacity="0.9"/><ellipse cx="1195.5" cy="583.8" rx="2.5" ry="1.2" fill="#23479a" opacity="0.6"/><ellipse cx="1197.9" cy="584" rx="1.3" ry="1" fill="#e8302a" opacity="0.6"/><ellipse cx="1201.5" cy="587.9" rx="3.8" ry="1.3" fill="#23479a" opacity="0.85"/><ellipse cx="1204.6" cy="588.1" rx="1.4" ry="1" fill="#e8302a" opacity="0.9"/><ellipse cx="1207.6" cy="592.1" rx="2.6" ry="1.3" fill="#23479a" opacity="0.6"/><ellipse cx="1210.1" cy="592.3" rx="1.4" ry="1" fill="#e8302a" opacity="0.6"/><ellipse cx="1213.9" cy="596.4" rx="4" ry="1.3" fill="#23479a" opacity="0.85"/><ellipse cx="1217.1" cy="596.6" rx="1.4" ry="1.1" fill="#e8302a" opacity="0.9"/><ellipse cx="1220.2" cy="600.8" rx="2.7" ry="1.4" fill="#23479a" opacity="0.6"/><ellipse cx="1222.8" cy="601" rx="1.5" ry="1.1" fill="#e8302a" opacity="0.6"/><ellipse cx="1226.8" cy="605.3" rx="4.2" ry="1.4" fill="#23479a" opacity="0.85"/><ellipse cx="1230.1" cy="605.5" rx="1.5" ry="1.1" fill="#e8302a" opacity="0.9"/><ellipse cx="1233.5" cy="609.9" rx="2.9" ry="1.4" fill="#23479a" opacity="0.6"/><ellipse cx="1236" cy="610.1" rx="1.5" ry="1.1" fill="#e8302a" opacity="0.6"/><ellipse cx="1146.1" cy="534" rx="3" ry="0.8" fill="#3f7fb5" opacity="0.5"/><ellipse cx="1156.1" cy="540.5" rx="3.2" ry="0.8" fill="#3f7fb5" opacity="0.5"/><ellipse cx="1166.5" cy="547.2" rx="3.3" ry="0.8" fill="#3f7fb5" opacity="0.5"/><ellipse cx="1177.3" cy="554.2" rx="3.5" ry="0.8" fill="#3f7fb5" opacity="0.5"/><ellipse cx="1188.6" cy="561.5" rx="3.8" ry="0.8" fill="#3f7fb5" opacity="0.5"/><ellipse cx="1200.4" cy="569.2" rx="4" ry="0.8" fill="#3f7fb5" opacity="0.5"/><ellipse cx="1212.7" cy="577.1" rx="4.2" ry="0.8" fill="#3f7fb5" opacity="0.5"/><ellipse cx="1225.5" cy="585.4" rx="4.4" ry="0.8" fill="#3f7fb5" opacity="0.5"/><ellipse cx="1238.9" cy="594.1" rx="4.7" ry="0.8" fill="#3f7fb5" opacity="0.5"/><ellipse cx="1252.8" cy="603.1" rx="4.9" ry="0.8" fill="#3f7fb5" opacity="0.5"/></g><path d="M840 494 L840 460 C840 438 860 428 905 425.5 C950 422.5 990 422.5 1015 423.5 C1065 426 1110 434 1132 441 C1150 455 1160 485 1170 503 L1166 508 Z" fill="url(#woodG)"/><path d="M840 494 L840 460 C840 438 860 428 905 425.5 C950 422.5 990 422.5 1015 423.5 C1065 426 1110 434 1132 441 C1150 455 1160 485 1170 503 L1166 508 Z" fill="#8a6a4a" opacity="0.55" filter="url(#woodT)"/><rect x="845.8" y="494.5" width="5" height="9.8" fill="#c8bcfa"/><rect x="850.8" y="494.5" width="4.4" height="9.8" fill="#1c148a"/><rect x="845.8" y="504" width="5" height="10" fill="#f0583a"/><rect x="850.8" y="504" width="4.4" height="10" fill="#8a0e0e"/><rect x="856.3" y="495" width="5" height="9.8" fill="#c8bcfa"/><rect x="861.3" y="495" width="4.4" height="9.8" fill="#1c148a"/><rect x="856.3" y="504.5" width="5" height="10" fill="#f0583a"/><rect x="861.3" y="504.5" width="4.4" height="10" fill="#8a0e0e"/><rect x="866.9" y="495.4" width="5" height="9.8" fill="#c8bcfa"/><rect x="871.9" y="495.4" width="4.4" height="9.8" fill="#1c148a"/><rect x="866.9" y="504.9" width="5" height="10" fill="#f0583a"/><rect x="871.9" y="504.9" width="4.4" height="10" fill="#8a0e0e"/><rect x="877.4" y="495.9" width="5" height="9.8" fill="#c8bcfa"/><rect x="882.4" y="495.9" width="4.4" height="9.8" fill="#1c148a"/><rect x="877.4" y="505.4" width="5" height="10" fill="#f0583a"/><rect x="882.4" y="505.4" width="4.4" height="10" fill="#8a0e0e"/><rect x="888" y="496.4" width="5" height="9.8" fill="#c8bcfa"/><rect x="893" y="496.4" width="4.4" height="9.8" fill="#1c148a"/><rect x="888" y="505.9" width="5" height="10" fill="#f0583a"/><rect x="893" y="505.9" width="4.4" height="10" fill="#8a0e0e"/><rect x="898.5" y="496.8" width="5" height="9.8" fill="#c8bcfa"/><rect x="903.5" y="496.8" width="4.4" height="9.8" fill="#1c148a"/><rect x="898.5" y="506.3" width="5" height="10" fill="#f0583a"/><rect x="903.5" y="506.3" width="4.4" height="10" fill="#8a0e0e"/><rect x="909.1" y="497.3" width="5" height="9.8" fill="#c8bcfa"/><rect x="914.1" y="497.3" width="4.4" height="9.8" fill="#1c148a"/><rect x="909.1" y="506.8" width="5" height="10" fill="#f0583a"/><rect x="914.1" y="506.8" width="4.4" height="10" fill="#8a0e0e"/><rect x="919.6" y="497.8" width="5" height="9.8" fill="#c8bcfa"/><rect x="924.6" y="497.8" width="4.4" height="9.8" fill="#1c148a"/><rect x="919.6" y="507.3" width="5" height="10" fill="#f0583a"/><rect x="924.6" y="507.3" width="4.4" height="10" fill="#8a0e0e"/><rect x="930.2" y="498.2" width="5" height="9.8" fill="#c8bcfa"/><rect x="935.2" y="498.2" width="4.4" height="9.8" fill="#1c148a"/><rect x="930.2" y="507.7" width="5" height="10" fill="#f0583a"/><rect x="935.2" y="507.7" width="4.4" height="10" fill="#8a0e0e"/><rect x="940.8" y="498.7" width="5" height="9.8" fill="#c8bcfa"/><rect x="945.8" y="498.7" width="4.4" height="9.8" fill="#1c148a"/><rect x="940.8" y="508.2" width="5" height="10" fill="#f0583a"/><rect x="945.8" y="508.2" width="4.4" height="10" fill="#8a0e0e"/><rect x="951.3" y="499.2" width="5" height="9.8" fill="#c8bcfa"/><rect x="956.3" y="499.2" width="4.4" height="9.8" fill="#1c148a"/><rect x="951.3" y="508.7" width="5" height="10" fill="#f0583a"/><rect x="956.3" y="508.7" width="4.4" height="10" fill="#8a0e0e"/><rect x="961.8" y="499.6" width="5" height="9.8" fill="#c8bcfa"/><rect x="966.8" y="499.6" width="4.4" height="9.8" fill="#1c148a"/><rect x="961.8" y="509.1" width="5" height="10" fill="#f0583a"/><rect x="966.8" y="509.1" width="4.4" height="10" fill="#8a0e0e"/><rect x="972.4" y="500.1" width="5" height="9.8" fill="#c8bcfa"/><rect x="977.4" y="500.1" width="4.4" height="9.8" fill="#1c148a"/><rect x="972.4" y="509.6" width="5" height="10" fill="#f0583a"/><rect x="977.4" y="509.6" width="4.4" height="10" fill="#8a0e0e"/><rect x="982.9" y="500.6" width="5" height="9.8" fill="#c8bcfa"/><rect x="987.9" y="500.6" width="4.4" height="9.8" fill="#1c148a"/><rect x="982.9" y="510.1" width="5" height="10" fill="#f0583a"/><rect x="987.9" y="510.1" width="4.4" height="10" fill="#8a0e0e"/><rect x="993.5" y="501" width="5" height="9.8" fill="#c8bcfa"/><rect x="998.5" y="501" width="4.4" height="9.8" fill="#1c148a"/><rect x="993.5" y="510.5" width="5" height="10" fill="#f0583a"/><rect x="998.5" y="510.5" width="4.4" height="10" fill="#8a0e0e"/><rect x="1004" y="501.5" width="5" height="9.8" fill="#c8bcfa"/><rect x="1009" y="501.5" width="4.4" height="9.8" fill="#1c148a"/><rect x="1004" y="511" width="5" height="10" fill="#f0583a"/><rect x="1009" y="511" width="4.4" height="10" fill="#8a0e0e"/><rect x="1014.6" y="502" width="5" height="9.8" fill="#c8bcfa"/><rect x="1019.6" y="502" width="4.4" height="9.8" fill="#1c148a"/><rect x="1014.6" y="511.5" width="5" height="10" fill="#f0583a"/><rect x="1019.6" y="511.5" width="4.4" height="10" fill="#8a0e0e"/><rect x="1025.2" y="502.4" width="5" height="9.8" fill="#c8bcfa"/><rect x="1030.2" y="502.4" width="4.4" height="9.8" fill="#1c148a"/><rect x="1025.2" y="511.9" width="5" height="10" fill="#f0583a"/><rect x="1030.2" y="511.9" width="4.4" height="10" fill="#8a0e0e"/><rect x="1035.7" y="502.9" width="5" height="9.8" fill="#c8bcfa"/><rect x="1040.7" y="502.9" width="4.4" height="9.8" fill="#1c148a"/><rect x="1035.7" y="512.4" width="5" height="10" fill="#f0583a"/><rect x="1040.7" y="512.4" width="4.4" height="10" fill="#8a0e0e"/><rect x="1046.2" y="503.4" width="5" height="9.8" fill="#c8bcfa"/><rect x="1051.2" y="503.4" width="4.4" height="9.8" fill="#1c148a"/><rect x="1046.2" y="512.9" width="5" height="10" fill="#f0583a"/><rect x="1051.2" y="512.9" width="4.4" height="10" fill="#8a0e0e"/><rect x="1056.8" y="503.8" width="5" height="9.8" fill="#c8bcfa"/><rect x="1061.8" y="503.8" width="4.4" height="9.8" fill="#1c148a"/><rect x="1056.8" y="513.3" width="5" height="10" fill="#f0583a"/><rect x="1061.8" y="513.3" width="4.4" height="10" fill="#8a0e0e"/><rect x="1067.3" y="504.3" width="5" height="9.8" fill="#c8bcfa"/><rect x="1072.3" y="504.3" width="4.4" height="9.8" fill="#1c148a"/><rect x="1067.3" y="513.8" width="5" height="10" fill="#f0583a"/><rect x="1072.3" y="513.8" width="4.4" height="10" fill="#8a0e0e"/><rect x="1077.9" y="504.8" width="5" height="9.8" fill="#c8bcfa"/><rect x="1082.9" y="504.8" width="4.4" height="9.8" fill="#1c148a"/><rect x="1077.9" y="514.3" width="5" height="10" fill="#f0583a"/><rect x="1082.9" y="514.3" width="4.4" height="10" fill="#8a0e0e"/><rect x="1088.5" y="505.2" width="5" height="9.8" fill="#c8bcfa"/><rect x="1093.5" y="505.2" width="4.4" height="9.8" fill="#1c148a"/><rect x="1088.5" y="514.7" width="5" height="10" fill="#f0583a"/><rect x="1093.5" y="514.7" width="4.4" height="10" fill="#8a0e0e"/><rect x="1099" y="505.7" width="5" height="9.8" fill="#c8bcfa"/><rect x="1104" y="505.7" width="4.4" height="9.8" fill="#1c148a"/><rect x="1099" y="515.2" width="5" height="10" fill="#f0583a"/><rect x="1104" y="515.2" width="4.4" height="10" fill="#8a0e0e"/><rect x="1109.5" y="506.2" width="5" height="9.8" fill="#c8bcfa"/><rect x="1114.5" y="506.2" width="4.4" height="9.8" fill="#1c148a"/><rect x="1109.5" y="515.7" width="5" height="10" fill="#f0583a"/><rect x="1114.5" y="515.7" width="4.4" height="10" fill="#8a0e0e"/><rect x="1120.1" y="506.6" width="5" height="9.8" fill="#c8bcfa"/><rect x="1125.1" y="506.6" width="4.4" height="9.8" fill="#1c148a"/><rect x="1120.1" y="516.1" width="5" height="10" fill="#f0583a"/><rect x="1125.1" y="516.1" width="4.4" height="10" fill="#8a0e0e"/><rect x="1130.7" y="507.1" width="5" height="9.8" fill="#c8bcfa"/><rect x="1135.7" y="507.1" width="4.4" height="9.8" fill="#1c148a"/><rect x="1130.7" y="516.6" width="5" height="10" fill="#f0583a"/><rect x="1135.7" y="516.6" width="4.4" height="10" fill="#8a0e0e"/><rect x="1141.2" y="507.6" width="5" height="9.8" fill="#c8bcfa"/><rect x="1146.2" y="507.6" width="4.4" height="9.8" fill="#1c148a"/><rect x="1141.2" y="517.1" width="5" height="10" fill="#f0583a"/><rect x="1146.2" y="517.1" width="4.4" height="10" fill="#8a0e0e"/><rect x="1151.8" y="508" width="5" height="9.8" fill="#c8bcfa"/><rect x="1156.8" y="508" width="4.4" height="9.8" fill="#1c148a"/><rect x="1151.8" y="517.5" width="5" height="10" fill="#f0583a"/><rect x="1156.8" y="517.5" width="4.4" height="10" fill="#8a0e0e"/><rect x="1162.3" y="508.5" width="5" height="9.8" fill="#c8bcfa"/><rect x="1167.3" y="508.5" width="4.4" height="9.8" fill="#1c148a"/><rect x="1162.3" y="518" width="5" height="10" fill="#f0583a"/><rect x="1167.3" y="518" width="4.4" height="10" fill="#8a0e0e"/><rect x="848.8" y="514" width="3.4" height="7" fill="#f0c850"/><path d="M849.5 520l-2.2 11.5M850.1 520l-0.6 12.5M850.9 520l0.6 12.5M851.5 520l2.2 11.5" stroke="#e8c890" stroke-width="1" fill="none" opacity="0.9"/><rect x="859.3" y="514.5" width="3.4" height="7" fill="#f0c850"/><path d="M860 520.5l-2.2 11.5M860.6 520.5l-0.6 12.5M861.4 520.5l0.6 12.5M862 520.5l2.2 11.5" stroke="#e8c890" stroke-width="1" fill="none" opacity="0.9"/><rect x="869.9" y="514.9" width="3.4" height="7" fill="#f0c850"/><path d="M870.6 520.9l-2.2 11.5M871.2 520.9l-0.6 12.5M872 520.9l0.6 12.5M872.6 520.9l2.2 11.5" stroke="#e8c890" stroke-width="1" fill="none" opacity="0.9"/><rect x="880.4" y="515.4" width="3.4" height="7" fill="#f0c850"/><path d="M881.1 521.4l-2.2 11.5M881.8 521.4l-0.6 12.5M882.5 521.4l0.6 12.5M883.1 521.4l2.2 11.5" stroke="#e8c890" stroke-width="1" fill="none" opacity="0.9"/><rect x="891" y="515.9" width="3.4" height="7" fill="#f0c850"/><path d="M891.7 521.9l-2.2 11.5M892.3 521.9l-0.6 12.5M893.1 521.9l0.6 12.5M893.7 521.9l2.2 11.5" stroke="#e8c890" stroke-width="1" fill="none" opacity="0.9"/><rect x="901.5" y="516.3" width="3.4" height="7" fill="#f0c850"/><path d="M902.2 522.3l-2.2 11.5M902.9 522.3l-0.6 12.5M903.6 522.3l0.6 12.5M904.2 522.3l2.2 11.5" stroke="#e8c890" stroke-width="1" fill="none" opacity="0.9"/><rect x="912.1" y="516.8" width="3.4" height="7" fill="#f0c850"/><path d="M912.8 522.8l-2.2 11.5M913.4 522.8l-0.6 12.5M914.2 522.8l0.6 12.5M914.8 522.8l2.2 11.5" stroke="#e8c890" stroke-width="1" fill="none" opacity="0.9"/><rect x="922.6" y="517.3" width="3.4" height="7" fill="#f0c850"/><path d="M923.4 523.3l-2.2 11.5M924 523.3l-0.6 12.5M924.8 523.3l0.6 12.5M925.4 523.3l2.2 11.5" stroke="#e8c890" stroke-width="1" fill="none" opacity="0.9"/><rect x="933.2" y="517.7" width="3.4" height="7" fill="#f0c850"/><path d="M933.9 523.7l-2.2 11.5M934.5 523.7l-0.6 12.5M935.3 523.7l0.6 12.5M935.9 523.7l2.2 11.5" stroke="#e8c890" stroke-width="1" fill="none" opacity="0.9"/><rect x="943.8" y="518.2" width="3.4" height="7" fill="#f0c850"/><path d="M944.5 524.2l-2.2 11.5M945.1 524.2l-0.6 12.5M945.9 524.2l0.6 12.5M946.5 524.2l2.2 11.5" stroke="#e8c890" stroke-width="1" fill="none" opacity="0.9"/><rect x="954.3" y="518.7" width="3.4" height="7" fill="#f0c850"/><path d="M955 524.7l-2.2 11.5M955.6 524.7l-0.6 12.5M956.4 524.7l0.6 12.5M957 524.7l2.2 11.5" stroke="#e8c890" stroke-width="1" fill="none" opacity="0.9"/><rect x="964.8" y="519.1" width="3.4" height="7" fill="#f0c850"/><path d="M965.5 525.1l-2.2 11.5M966.1 525.1l-0.6 12.5M966.9 525.1l0.6 12.5M967.5 525.1l2.2 11.5" stroke="#e8c890" stroke-width="1" fill="none" opacity="0.9"/><rect x="975.4" y="519.6" width="3.4" height="7" fill="#f0c850"/><path d="M976.1 525.6l-2.2 11.5M976.7 525.6l-0.6 12.5M977.5 525.6l0.6 12.5M978.1 525.6l2.2 11.5" stroke="#e8c890" stroke-width="1" fill="none" opacity="0.9"/><rect x="985.9" y="520.1" width="3.4" height="7" fill="#f0c850"/><path d="M986.6 526.1l-2.2 11.5M987.2 526.1l-0.6 12.5M988 526.1l0.6 12.5M988.6 526.1l2.2 11.5" stroke="#e8c890" stroke-width="1" fill="none" opacity="0.9"/><rect x="996.5" y="520.5" width="3.4" height="7" fill="#f0c850"/><path d="M997.2 526.5l-2.2 11.5M997.8 526.5l-0.6 12.5M998.6 526.5l0.6 12.5M999.2 526.5l2.2 11.5" stroke="#e8c890" stroke-width="1" fill="none" opacity="0.9"/><rect x="1007" y="521" width="3.4" height="7" fill="#f0c850"/><path d="M1007.8 527l-2.2 11.5M1008.4 527l-0.6 12.5M1009.1 527l0.6 12.5M1009.8 527l2.2 11.5" stroke="#e8c890" stroke-width="1" fill="none" opacity="0.9"/><rect x="1017.6" y="521.5" width="3.4" height="7" fill="#f0c850"/><path d="M1018.3 527.5l-2.2 11.5M1018.9 527.5l-0.6 12.5M1019.7 527.5l0.6 12.5M1020.3 527.5l2.2 11.5" stroke="#e8c890" stroke-width="1" fill="none" opacity="0.9"/><rect x="1028.2" y="521.9" width="3.4" height="7" fill="#f0c850"/><path d="M1028.9 527.9l-2.2 11.5M1029.5 527.9l-0.6 12.5M1030.3 527.9l0.6 12.5M1030.9 527.9l2.2 11.5" stroke="#e8c890" stroke-width="1" fill="none" opacity="0.9"/><rect x="1038.7" y="522.4" width="3.4" height="7" fill="#f0c850"/><path d="M1039.4 528.4l-2.2 11.5M1040 528.4l-0.6 12.5M1040.8 528.4l0.6 12.5M1041.4 528.4l2.2 11.5" stroke="#e8c890" stroke-width="1" fill="none" opacity="0.9"/><rect x="1049.2" y="522.9" width="3.4" height="7" fill="#f0c850"/><path d="M1050 528.9l-2.2 11.5M1050.5 528.9l-0.6 12.5M1051.4 528.9l0.6 12.5M1052 528.9l2.2 11.5" stroke="#e8c890" stroke-width="1" fill="none" opacity="0.9"/><rect x="1059.8" y="523.3" width="3.4" height="7" fill="#f0c850"/><path d="M1060.5 529.3l-2.2 11.5M1061.1 529.3l-0.6 12.5M1061.9 529.3l0.6 12.5M1062.5 529.3l2.2 11.5" stroke="#e8c890" stroke-width="1" fill="none" opacity="0.9"/><rect x="1070.3" y="523.8" width="3.4" height="7" fill="#f0c850"/><path d="M1071 529.8l-2.2 11.5M1071.6 529.8l-0.6 12.5M1072.5 529.8l0.6 12.5M1073 529.8l2.2 11.5" stroke="#e8c890" stroke-width="1" fill="none" opacity="0.9"/><rect x="1080.9" y="524.3" width="3.4" height="7" fill="#f0c850"/><path d="M1081.6 530.3l-2.2 11.5M1082.2 530.3l-0.6 12.5M1083 530.3l0.6 12.5M1083.6 530.3l2.2 11.5" stroke="#e8c890" stroke-width="1" fill="none" opacity="0.9"/><rect x="1091.5" y="524.7" width="3.4" height="7" fill="#f0c850"/><path d="M1092.2 530.7l-2.2 11.5M1092.8 530.7l-0.6 12.5M1093.6 530.7l0.6 12.5M1094.2 530.7l2.2 11.5" stroke="#e8c890" stroke-width="1" fill="none" opacity="0.9"/><rect x="1102" y="525.2" width="3.4" height="7" fill="#f0c850"/><path d="M1102.7 531.2l-2.2 11.5M1103.3 531.2l-0.6 12.5M1104.1 531.2l0.6 12.5M1104.7 531.2l2.2 11.5" stroke="#e8c890" stroke-width="1" fill="none" opacity="0.9"/><rect x="1112.5" y="525.7" width="3.4" height="7" fill="#f0c850"/><path d="M1113.2 531.7l-2.2 11.5M1113.8 531.7l-0.6 12.5M1114.7 531.7l0.6 12.5M1115.2 531.7l2.2 11.5" stroke="#e8c890" stroke-width="1" fill="none" opacity="0.9"/><rect x="1123.1" y="526.1" width="3.4" height="7" fill="#f0c850"/><path d="M1123.8 532.1l-2.2 11.5M1124.4 532.1l-0.6 12.5M1125.2 532.1l0.6 12.5M1125.8 532.1l2.2 11.5" stroke="#e8c890" stroke-width="1" fill="none" opacity="0.9"/><rect x="1133.7" y="526.6" width="3.4" height="7" fill="#f0c850"/><path d="M1134.4 532.6l-2.2 11.5M1135 532.6l-0.6 12.5M1135.8 532.6l0.6 12.5M1136.4 532.6l2.2 11.5" stroke="#e8c890" stroke-width="1" fill="none" opacity="0.9"/><rect x="1144.2" y="527.1" width="3.4" height="7" fill="#f0c850"/><path d="M1144.9 533.1l-2.2 11.5M1145.5 533.1l-0.6 12.5M1146.3 533.1l0.6 12.5M1146.9 533.1l2.2 11.5" stroke="#e8c890" stroke-width="1" fill="none" opacity="0.9"/><rect x="1154.8" y="527.5" width="3.4" height="7" fill="#f0c850"/><path d="M1155.5 533.5l-2.2 11.5M1156 533.5l-0.6 12.5M1156.9 533.5l0.6 12.5M1157.5 533.5l2.2 11.5" stroke="#e8c890" stroke-width="1" fill="none" opacity="0.9"/><rect x="1165.3" y="528" width="3.4" height="7" fill="#f0c850"/><path d="M1166 534l-2.2 11.5M1166.6 534l-0.6 12.5M1167.4 534l0.6 12.5M1168 534l2.2 11.5" stroke="#e8c890" stroke-width="1" fill="none" opacity="0.9"/><path d="M849 519q-4 8 -12 10M850 520q-3 7 -10 11" stroke="#d8b078" stroke-width="1" fill="none"/><path d="M1172 533q4 8 12 10M1171 534q3 7 10 11" stroke="#d8b078" stroke-width="1" fill="none"/></g><polygon points="835,496 838.5,505 782.5,519.5 784,527 756.5,517.4 781,500.5 778.8,510.5" fill="#fff"/><text x="746.5" y="413" font-size="38" font-weight="bold" fill="#fff" textLength="140" lengthAdjust="spacingAndGlyphs">Writing</text><text x="869.5" y="480" font-size="35" fill="#000" textLength="241.5" lengthAdjust="spacingAndGlyphs">Magnetic comb</text><clipPath id="insE"><circle cx="1226.8" cy="95.5" r="100.5"/></clipPath><g clip-path="url(#insE)"><rect x="1126.3" y="-5" width="201" height="201" fill="#5a5a5a"/><polygon points="1126.3,169.5 1327.3,177.5 1327.3,196 1126.3,196" fill="#5b9fc4"/><ellipse cx="1186.8" cy="183.5" rx="28" ry="4" fill="#2f5fa0" opacity="0.7"/><ellipse cx="1256.8" cy="191.5" rx="25" ry="5" fill="#2f5fa0" opacity="0.7"/><polygon points="1126.3,-5 1327.3,-5 1327.3,87.5 1126.3,80" fill="url(#woodG2)"/><polygon points="1126.3,-5 1327.3,-5 1327.3,87.5 1126.3,80" fill="#7a5a3a" opacity="0.3" filter="url(#woodT)"/><rect x="1085.6" y="78.5" width="11" height="22.3" fill="#e8503a"/><rect x="1096.6" y="78.5" width="10" height="22.3" fill="#7a0c0c"/><rect x="1085.6" y="100.5" width="11" height="22" fill="#7868e6"/><rect x="1096.6" y="100.5" width="10" height="22" fill="#1a127a"/><rect x="1093.6" y="122.5" width="5" height="18" fill="#5ad0e8"/><path d="M1094.1 134.5q-1 18 -7 30M1095.1 134.5q0 18 -2.5 32M1097.1 134.5q0 18 2.5 32M1098.1 134.5q1 18 7 30" stroke="#5ad0e8" stroke-width="1.3" fill="none" opacity="0.85"/><path d="M1097.1 123.5q6 8 13 0" stroke="#f4e8d0" stroke-width="1.2" fill="none"/><rect x="1111.5" y="79.4" width="11" height="22.3" fill="#7868e6"/><rect x="1122.5" y="79.4" width="10" height="22.3" fill="#1a127a"/><rect x="1111.5" y="101.4" width="11" height="22" fill="#e8503a"/><rect x="1122.5" y="101.4" width="10" height="22" fill="#7a0c0c"/><rect x="1119.5" y="123.4" width="5" height="18" fill="#f0c850"/><path d="M1120 135.4q-1 18 -7 30M1121 135.4q0 18 -2.5 32M1123 135.4q0 18 2.5 32M1124 135.4q1 18 7 30" stroke="#f0c850" stroke-width="1.3" fill="none" opacity="0.85"/><path d="M1123 124.4q6 8 13 0" stroke="#f4e8d0" stroke-width="1.2" fill="none"/><rect x="1137.5" y="80.4" width="11" height="22.3" fill="#e8503a"/><rect x="1148.5" y="80.4" width="10" height="22.3" fill="#7a0c0c"/><rect x="1137.5" y="102.4" width="11" height="22" fill="#7868e6"/><rect x="1148.5" y="102.4" width="10" height="22" fill="#1a127a"/><rect x="1145.5" y="124.4" width="5" height="18" fill="#5ad0e8"/><path d="M1146 136.4q-1 18 -7 30M1147 136.4q0 18 -2.5 32M1149 136.4q0 18 2.5 32M1150 136.4q1 18 7 30" stroke="#5ad0e8" stroke-width="1.3" fill="none" opacity="0.85"/><path d="M1149 125.4q6 8 13 0" stroke="#f4e8d0" stroke-width="1.2" fill="none"/><rect x="1163.5" y="81.4" width="11" height="22.3" fill="#7868e6"/><rect x="1174.5" y="81.4" width="10" height="22.3" fill="#1a127a"/><rect x="1163.5" y="103.4" width="11" height="22" fill="#e8503a"/><rect x="1174.5" y="103.4" width="10" height="22" fill="#7a0c0c"/><rect x="1171.5" y="125.4" width="5" height="18" fill="#f0c850"/><path d="M1172 137.4q-1 18 -7 30M1173 137.4q0 18 -2.5 32M1175 137.4q0 18 2.5 32M1176 137.4q1 18 7 30" stroke="#f0c850" stroke-width="1.3" fill="none" opacity="0.85"/><path d="M1175 126.4q6 8 13 0" stroke="#f4e8d0" stroke-width="1.2" fill="none"/><rect x="1189.4" y="82.4" width="11" height="22.3" fill="#e8503a"/><rect x="1200.4" y="82.4" width="10" height="22.3" fill="#7a0c0c"/><rect x="1189.4" y="104.4" width="11" height="22" fill="#7868e6"/><rect x="1200.4" y="104.4" width="10" height="22" fill="#1a127a"/><rect x="1197.4" y="126.4" width="5" height="18" fill="#5ad0e8"/><path d="M1197.9 138.4q-1 18 -7 30M1198.9 138.4q0 18 -2.5 32M1200.9 138.4q0 18 2.5 32M1201.9 138.4q1 18 7 30" stroke="#5ad0e8" stroke-width="1.3" fill="none" opacity="0.85"/><path d="M1200.9 127.4q6 8 13 0" stroke="#f4e8d0" stroke-width="1.2" fill="none"/><rect x="1215.3" y="83.3" width="11" height="22.3" fill="#7868e6"/><rect x="1226.3" y="83.3" width="10" height="22.3" fill="#1a127a"/><rect x="1215.3" y="105.3" width="11" height="22" fill="#e8503a"/><rect x="1226.3" y="105.3" width="10" height="22" fill="#7a0c0c"/><rect x="1223.3" y="127.3" width="5" height="18" fill="#f0c850"/><path d="M1223.8 139.3q-1 18 -7 30M1224.8 139.3q0 18 -2.5 32M1226.8 139.3q0 18 2.5 32M1227.8 139.3q1 18 7 30" stroke="#f0c850" stroke-width="1.3" fill="none" opacity="0.85"/><path d="M1226.8 128.3q6 8 13 0" stroke="#f4e8d0" stroke-width="1.2" fill="none"/><rect x="1241.3" y="84.3" width="11" height="22.3" fill="#e8503a"/><rect x="1252.3" y="84.3" width="10" height="22.3" fill="#7a0c0c"/><rect x="1241.3" y="106.3" width="11" height="22" fill="#7868e6"/><rect x="1252.3" y="106.3" width="10" height="22" fill="#1a127a"/><rect x="1249.3" y="128.3" width="5" height="18" fill="#5ad0e8"/><path d="M1249.8 140.3q-1 18 -7 30M1250.8 140.3q0 18 -2.5 32M1252.8 140.3q0 18 2.5 32M1253.8 140.3q1 18 7 30" stroke="#5ad0e8" stroke-width="1.3" fill="none" opacity="0.85"/><path d="M1252.8 129.3q6 8 13 0" stroke="#f4e8d0" stroke-width="1.2" fill="none"/><rect x="1267.2" y="85.3" width="11" height="22.3" fill="#7868e6"/><rect x="1278.2" y="85.3" width="10" height="22.3" fill="#1a127a"/><rect x="1267.2" y="107.3" width="11" height="22" fill="#e8503a"/><rect x="1278.2" y="107.3" width="10" height="22" fill="#7a0c0c"/><rect x="1275.2" y="129.3" width="5" height="18" fill="#f0c850"/><path d="M1275.8 141.3q-1 18 -7 30M1276.8 141.3q0 18 -2.5 32M1278.8 141.3q0 18 2.5 32M1279.8 141.3q1 18 7 30" stroke="#f0c850" stroke-width="1.3" fill="none" opacity="0.85"/><path d="M1278.8 130.3q6 8 13 0" stroke="#f4e8d0" stroke-width="1.2" fill="none"/><rect x="1293.2" y="86.2" width="11" height="22.3" fill="#e8503a"/><rect x="1304.2" y="86.2" width="10" height="22.3" fill="#7a0c0c"/><rect x="1293.2" y="108.2" width="11" height="22" fill="#7868e6"/><rect x="1304.2" y="108.2" width="10" height="22" fill="#1a127a"/><rect x="1301.2" y="130.2" width="5" height="18" fill="#5ad0e8"/><path d="M1301.7 142.2q-1 18 -7 30M1302.7 142.2q0 18 -2.5 32M1304.7 142.2q0 18 2.5 32M1305.7 142.2q1 18 7 30" stroke="#5ad0e8" stroke-width="1.3" fill="none" opacity="0.85"/><path d="M1304.7 131.2q6 8 13 0" stroke="#f4e8d0" stroke-width="1.2" fill="none"/><rect x="1319.1" y="87.2" width="11" height="22.3" fill="#7868e6"/><rect x="1330.1" y="87.2" width="10" height="22.3" fill="#1a127a"/><rect x="1319.1" y="109.2" width="11" height="22" fill="#e8503a"/><rect x="1330.1" y="109.2" width="10" height="22" fill="#7a0c0c"/><rect x="1327.1" y="131.2" width="5" height="18" fill="#f0c850"/><path d="M1327.6 143.2q-1 18 -7 30M1328.6 143.2q0 18 -2.5 32M1330.6 143.2q0 18 2.5 32M1331.6 143.2q1 18 7 30" stroke="#f0c850" stroke-width="1.3" fill="none" opacity="0.85"/><path d="M1330.6 132.2q6 8 13 0" stroke="#f4e8d0" stroke-width="1.2" fill="none"/></g><clipPath id="insW"><circle cx="1227.5" cy="432.8" r="100.5"/></clipPath><g clip-path="url(#insW)"><rect x="1127" y="332.3" width="201" height="201" fill="#5a5a5a"/><polygon points="1147.5,500.8 1328,505.8 1328,533.3 1147.5,533.3" fill="#5b9fc4"/><ellipse cx="1202.5" cy="504.8" rx="22" ry="2.5" fill="#2f5fa0" opacity="0.6"/><ellipse cx="1262.5" cy="507.8" rx="20" ry="3" fill="#2f5fa0" opacity="0.6"/><ellipse cx="1217.5" cy="519.8" rx="18" ry="2.5" fill="#2f5fa0" opacity="0.6"/><polygon points="1127,332.3 1328,332.3 1328,413.3 1127,406.3" fill="url(#woodG2)"/><polygon points="1127,332.3 1328,332.3 1328,413.3 1127,406.3" fill="#7a5a3a" opacity="0.3" filter="url(#woodT)"/><rect x="1077.4" y="404.6" width="11" height="21.3" fill="#7868e6"/><rect x="1088.4" y="404.6" width="10" height="21.3" fill="#1a127a"/><rect x="1077.4" y="425.6" width="11" height="21" fill="#e8503a"/><rect x="1088.4" y="425.6" width="10" height="21" fill="#7a0c0c"/><rect x="1080.9" y="446.6" width="14" height="24" fill="url(#ylG)"/><path d="M1083.9 466.6l-3 24M1086.4 466.6l-1.2 26M1089.4 466.6l1.2 26M1091.9 466.6l3 24M1087.9 466.6l0 26" stroke="#f5dc8a" stroke-width="1.4" fill="none"/><rect x="1103.3" y="405.5" width="11" height="21.3" fill="#7868e6"/><rect x="1114.3" y="405.5" width="10" height="21.3" fill="#1a127a"/><rect x="1103.3" y="426.5" width="11" height="21" fill="#e8503a"/><rect x="1114.3" y="426.5" width="10" height="21" fill="#7a0c0c"/><rect x="1106.8" y="447.5" width="14" height="24" fill="url(#ylG)"/><path d="M1109.8 467.5l-3 24M1112.3 467.5l-1.2 26M1115.3 467.5l1.2 26M1117.8 467.5l3 24M1113.8 467.5l0 26" stroke="#f5dc8a" stroke-width="1.4" fill="none"/><rect x="1129.3" y="406.4" width="11" height="21.3" fill="#7868e6"/><rect x="1140.3" y="406.4" width="10" height="21.3" fill="#1a127a"/><rect x="1129.3" y="427.4" width="11" height="21" fill="#e8503a"/><rect x="1140.3" y="427.4" width="10" height="21" fill="#7a0c0c"/><rect x="1132.8" y="448.4" width="14" height="24" fill="url(#ylG)"/><path d="M1135.8 468.4l-3 24M1138.3 468.4l-1.2 26M1141.3 468.4l1.2 26M1143.8 468.4l3 24M1139.8 468.4l0 26" stroke="#f5dc8a" stroke-width="1.4" fill="none"/><rect x="1155.2" y="407.3" width="11" height="21.3" fill="#7868e6"/><rect x="1166.2" y="407.3" width="10" height="21.3" fill="#1a127a"/><rect x="1155.2" y="428.3" width="11" height="21" fill="#e8503a"/><rect x="1166.2" y="428.3" width="10" height="21" fill="#7a0c0c"/><rect x="1158.8" y="449.3" width="14" height="24" fill="url(#ylG)"/><path d="M1161.8 469.3l-3 24M1164.2 469.3l-1.2 26M1167.2 469.3l1.2 26M1169.8 469.3l3 24M1165.8 469.3l0 26" stroke="#f5dc8a" stroke-width="1.4" fill="none"/><rect x="1181.2" y="408.2" width="11" height="21.3" fill="#7868e6"/><rect x="1192.2" y="408.2" width="10" height="21.3" fill="#1a127a"/><rect x="1181.2" y="429.2" width="11" height="21" fill="#e8503a"/><rect x="1192.2" y="429.2" width="10" height="21" fill="#7a0c0c"/><rect x="1184.7" y="450.2" width="14" height="24" fill="url(#ylG)"/><path d="M1187.7 470.2l-3 24M1190.2 470.2l-1.2 26M1193.2 470.2l1.2 26M1195.7 470.2l3 24M1191.7 470.2l0 26" stroke="#f5dc8a" stroke-width="1.4" fill="none"/><rect x="1207.1" y="409.1" width="11" height="21.3" fill="#7868e6"/><rect x="1218.1" y="409.1" width="10" height="21.3" fill="#1a127a"/><rect x="1207.1" y="430.1" width="11" height="21" fill="#e8503a"/><rect x="1218.1" y="430.1" width="10" height="21" fill="#7a0c0c"/><rect x="1210.6" y="451.1" width="14" height="24" fill="url(#ylG)"/><path d="M1213.6 471.1l-3 24M1216.1 471.1l-1.2 26M1219.1 471.1l1.2 26M1221.6 471.1l3 24M1217.6 471.1l0 26" stroke="#f5dc8a" stroke-width="1.4" fill="none"/><rect x="1233.1" y="410" width="11" height="21.3" fill="#7868e6"/><rect x="1244.1" y="410" width="10" height="21.3" fill="#1a127a"/><rect x="1233.1" y="431" width="11" height="21" fill="#e8503a"/><rect x="1244.1" y="431" width="10" height="21" fill="#7a0c0c"/><rect x="1236.6" y="452" width="14" height="24" fill="url(#ylG)"/><path d="M1239.6 472l-3 24M1242.1 472l-1.2 26M1245.1 472l1.2 26M1247.6 472l3 24M1243.6 472l0 26" stroke="#f5dc8a" stroke-width="1.4" fill="none"/><rect x="1259" y="410.9" width="11" height="21.3" fill="#7868e6"/><rect x="1270" y="410.9" width="10" height="21.3" fill="#1a127a"/><rect x="1259" y="431.9" width="11" height="21" fill="#e8503a"/><rect x="1270" y="431.9" width="10" height="21" fill="#7a0c0c"/><rect x="1262.5" y="452.9" width="14" height="24" fill="url(#ylG)"/><path d="M1265.5 472.9l-3 24M1268 472.9l-1.2 26M1271 472.9l1.2 26M1273.5 472.9l3 24M1269.5 472.9l0 26" stroke="#f5dc8a" stroke-width="1.4" fill="none"/><rect x="1285" y="411.8" width="11" height="21.3" fill="#7868e6"/><rect x="1296" y="411.8" width="10" height="21.3" fill="#1a127a"/><rect x="1285" y="432.8" width="11" height="21" fill="#e8503a"/><rect x="1296" y="432.8" width="10" height="21" fill="#7a0c0c"/><rect x="1288.5" y="453.8" width="14" height="24" fill="url(#ylG)"/><path d="M1291.5 473.8l-3 24M1294 473.8l-1.2 26M1297 473.8l1.2 26M1299.5 473.8l3 24M1295.5 473.8l0 26" stroke="#f5dc8a" stroke-width="1.4" fill="none"/><rect x="1310.9" y="412.7" width="11" height="21.3" fill="#7868e6"/><rect x="1321.9" y="412.7" width="10" height="21.3" fill="#1a127a"/><rect x="1310.9" y="433.7" width="11" height="21" fill="#e8503a"/><rect x="1321.9" y="433.7" width="10" height="21" fill="#7a0c0c"/><rect x="1314.4" y="454.7" width="14" height="24" fill="url(#ylG)"/><path d="M1317.4 474.7l-3 24M1319.9 474.7l-1.2 26M1322.9 474.7l1.2 26M1325.4 474.7l3 24M1321.4 474.7l0 26" stroke="#f5dc8a" stroke-width="1.4" fill="none"/></g><rect x="146.5" y="746.7" width="499.6" height="391.1" fill="#e5e5e5"/><path d="M146.5 746.7V1137.8H647.5" fill="none" stroke="#000" stroke-width="1.9"/><path d="M146.5 1137.8v-6.7M177.8 1137.8v-3.2M209.1 1137.8v-6.7M240.4 1137.8v-3.2M271.8 1137.8v-6.7M303.1 1137.8v-3.2M334.4 1137.8v-6.7M365.7 1137.8v-3.2M397 1137.8v-6.7M428.3 1137.8v-3.2M459.6 1137.8v-6.7M490.9 1137.8v-3.2M522.2 1137.8v-6.7M553.6 1137.8v-3.2M584.9 1137.8v-6.7M616.2 1137.8v-3.2M647.5 1137.8v-6.7M146.5 1137.8h7.4M146.5 1098.7h4.2M146.5 1059.6h7.4M146.5 1020.5h4.2M146.5 981.4h7.4M146.5 942.2h4.2M146.5 903.1h7.4M146.5 864h4.2M146.5 824.9h7.4M146.5 785.8h4.2M146.5 746.7h7.4" stroke="#000" stroke-width="1.8"/><text x="146.8" y="1172.6" font-size="34.5" text-anchor="middle">0</text><text x="209.4" y="1172.6" font-size="34.5" text-anchor="middle">1</text><text x="272.1" y="1172.6" font-size="34.5" text-anchor="middle">2</text><text x="334.7" y="1172.6" font-size="34.5" text-anchor="middle">3</text><text x="397.3" y="1172.6" font-size="34.5" text-anchor="middle">4</text><text x="459.9" y="1172.6" font-size="34.5" text-anchor="middle">5</text><text x="522.5" y="1172.6" font-size="34.5" text-anchor="middle">6</text><text x="585.2" y="1172.6" font-size="34.5" text-anchor="middle">7</text><text x="647.8" y="1172.6" font-size="34.5" text-anchor="middle">8</text><text x="139.6" y="1148.4" font-size="36.5" text-anchor="end">0.0</text><text x="139.6" y="1070.2" font-size="36.5" text-anchor="end">0.2</text><text x="139.6" y="992" font-size="36.5" text-anchor="end">0.4</text><text x="139.6" y="913.7" font-size="36.5" text-anchor="end">0.6</text><text x="139.6" y="835.5" font-size="36.5" text-anchor="end">0.8</text><text x="139.6" y="757.3" font-size="36.5" text-anchor="end">1.0</text><text transform="translate(75.2 940.8) rotate(-90)" font-size="40.8" text-anchor="middle">FM hexagon fraction</text><text x="397.4" y="1228.8" font-size="41.5" text-anchor="middle"><tspan font-style="italic">d</tspan> (mm)</text><circle cx="278" cy="852.5" r="8.2" fill="#8c9cf4" stroke="#222" stroke-width="1"/><circle cx="341.3" cy="828.8" r="8.2" fill="#8c9cf4" stroke="#222" stroke-width="1"/><circle cx="341.3" cy="823.9" r="8.2" fill="#8c9cf4" stroke="#222" stroke-width="1"/><circle cx="341.3" cy="820.2" r="8.2" fill="#8c9cf4" stroke="#222" stroke-width="1"/><circle cx="278" cy="812.8" r="8.2" fill="#8c9cf4" stroke="#222" stroke-width="1"/><circle cx="278" cy="809" r="8.2" fill="#8c9cf4" stroke="#222" stroke-width="1"/><circle cx="554.2" cy="803.2" r="8.2" fill="#8c9cf4" stroke="#222" stroke-width="1"/><circle cx="465.9" cy="796" r="8.2" fill="#8c9cf4" stroke="#222" stroke-width="1"/><circle cx="465.9" cy="793.6" r="8.2" fill="#8c9cf4" stroke="#222" stroke-width="1"/><circle cx="554.2" cy="786.7" r="8.2" fill="#8c9cf4" stroke="#222" stroke-width="1"/><circle cx="554.2" cy="778" r="8.2" fill="#8c9cf4" stroke="#222" stroke-width="1"/><rect x="459.1" y="1109.3" width="13.5" height="13.5" fill="#f7a0a0" stroke="#222" stroke-width="1"/><rect x="459.1" y="1093.4" width="13.5" height="13.5" fill="#f7a0a0" stroke="#222" stroke-width="1"/><rect x="334.5" y="1069.3" width="13.5" height="13.5" fill="#f7a0a0" stroke="#222" stroke-width="1"/><rect x="547.4" y="1069.3" width="13.5" height="13.5" fill="#f7a0a0" stroke="#222" stroke-width="1"/><rect x="334.5" y="1065.9" width="13.5" height="13.5" fill="#f7a0a0" stroke="#222" stroke-width="1"/><rect x="547.4" y="1063.4" width="13.5" height="13.5" fill="#f7a0a0" stroke="#222" stroke-width="1"/><rect x="459.1" y="1059.5" width="13.5" height="13.5" fill="#f7a0a0" stroke="#222" stroke-width="1"/><rect x="334.5" y="1057.1" width="13.5" height="13.5" fill="#f7a0a0" stroke="#222" stroke-width="1"/><rect x="547.4" y="1047.9" width="13.5" height="13.5" fill="#f7a0a0" stroke="#222" stroke-width="1"/><rect x="271.3" y="1041.3" width="13.5" height="13.5" fill="#f7a0a0" stroke="#222" stroke-width="1"/><rect x="271.3" y="1034.4" width="13.5" height="13.5" fill="#f7a0a0" stroke="#222" stroke-width="1"/><rect x="271.3" y="1016.6" width="13.5" height="13.5" fill="#f7a0a0" stroke="#222" stroke-width="1"/><rect x="370.8" y="895.2" width="227.6" height="64.8" fill="#fff" stroke="#000" stroke-width="2.8"/><circle cx="403.4" cy="912.1" r="8.2" fill="#8c9cf4" stroke="#222" stroke-width="1"/><rect x="396.5" y="936.5" width="13.7" height="13.4" fill="#f7a0a0" stroke="#222" stroke-width="1"/><text x="438.5" y="920.9" font-size="24" font-weight="bold" textLength="151.5" lengthAdjust="spacingAndGlyphs">After writing</text><text x="438.5" y="951.7" font-size="24" font-weight="bold" textLength="158" lengthAdjust="spacingAndGlyphs">After erasing</text><text x="39.7" y="705.5" font-size="45" font-weight="bold">B</text><rect x="0" y="1228.8" width="700" height="30" fill="#fff"/><clipPath id="clipC"><rect x="736.4" y="677.8" width="586.6" height="554.2"/></clipPath><g clip-path="url(#clipC)"><rect x="736.4" y="677.8" width="586.6" height="554.2" fill="#cac8c5"/><rect x="736.4" y="677.8" width="586.6" height="554.2" fill="#777" opacity="0.5" filter="url(#photoT)"/><use href="#mag" transform="translate(752 682.5) rotate(60.4) scale(1.04)"/><use href="#mag" transform="translate(800.7 683.4) rotate(60.5) scale(1.03)"/><use href="#mag" transform="translate(776.4 683) rotate(119.7) scale(1.01)"/><use href="#mag" transform="translate(849.3 684.3) rotate(60.6) scale(1.03)"/><use href="#mag" transform="translate(825 683.9) rotate(119.8) scale(1.01)"/><use href="#mag" transform="translate(897.9 685.2) rotate(60.7) scale(1.03)"/><use href="#mag" transform="translate(873.6 684.8) rotate(119.9) scale(1.01)"/><use href="#mag" transform="translate(946.4 686.1) rotate(60.8) scale(1.03)"/><use href="#mag" transform="translate(922.2 685.7) rotate(120) scale(1.02)"/><use href="#mag" transform="translate(994.8 686.9) rotate(60.9) scale(1.03)"/><use href="#mag" transform="translate(970.6 686.5) rotate(120.1) scale(1.02)"/><use href="#mag" transform="translate(1043.2 687.8) rotate(61) scale(1.02)"/><use href="#mag" transform="translate(1019 687.4) rotate(120.2) scale(1.02)"/><use href="#mag" transform="translate(1091.5 688.6) rotate(61.1) scale(1.02)"/><use href="#mag" transform="translate(1067.4 688.2) rotate(120.3) scale(1.02)"/><use href="#mag" transform="translate(1139.7 689.4) rotate(61.2) scale(1.02)"/><use href="#mag" transform="translate(1115.6 689) rotate(120.4) scale(1.02)"/><use href="#mag" transform="translate(1187.9 690.2) rotate(61.3) scale(1.02)"/><use href="#mag" transform="translate(1163.9 689.8) rotate(120.4) scale(1.02)"/><use href="#mag" transform="translate(1236 691) rotate(61.5) scale(1.01)"/><use href="#mag" transform="translate(1212 690.6) rotate(120.5) scale(1.02)"/><use href="#mag" transform="translate(1284.1 691.7) rotate(61.6) scale(1.01)"/><use href="#mag" transform="translate(1260.1 691.3) rotate(120.6) scale(1.02)"/><use href="#mag" transform="translate(1308.1 692.1) rotate(120.7) scale(1.02)"/><use href="#mag" transform="translate(740 703.6) rotate(1.1) scale(1.01)"/><use href="#mag" transform="translate(788.6 704.6) rotate(1.1) scale(1.01)"/><use href="#mag" transform="translate(776.6 725.6) rotate(60.4) scale(1.03)"/><use href="#mag" transform="translate(752.3 725.2) rotate(119.7) scale(1.01)"/><use href="#mag" transform="translate(837.2 705.5) rotate(1) scale(1.01)"/><use href="#mag" transform="translate(825.1 726.5) rotate(60.5) scale(1.03)"/><use href="#mag" transform="translate(800.9 726.1) rotate(119.8) scale(1.01)"/><use href="#mag" transform="translate(885.7 706.3) rotate(1) scale(1.01)"/><use href="#mag" transform="translate(873.6 727.4) rotate(60.6) scale(1.03)"/><use href="#mag" transform="translate(849.4 726.9) rotate(119.9) scale(1.01)"/><use href="#mag" transform="translate(934.2 707.2) rotate(1) scale(1.01)"/><use href="#mag" transform="translate(922 728.2) rotate(60.7) scale(1.02)"/><use href="#mag" transform="translate(897.8 727.8) rotate(120) scale(1.01)"/><use href="#mag" transform="translate(982.6 708) rotate(1) scale(1.01)"/><use href="#mag" transform="translate(970.4 729) rotate(60.8) scale(1.02)"/><use href="#mag" transform="translate(946.2 728.6) rotate(120.1) scale(1.01)"/><use href="#mag" transform="translate(1030.9 708.9) rotate(1) scale(1.01)"/><use href="#mag" transform="translate(1018.7 729.8) rotate(60.9) scale(1.02)"/><use href="#mag" transform="translate(994.6 729.5) rotate(120.2) scale(1.01)"/><use href="#mag" transform="translate(1079.2 709.7) rotate(0.9) scale(1.01)"/><use href="#mag" transform="translate(1066.9 730.6) rotate(61) scale(1.02)"/><use href="#mag" transform="translate(1042.8 730.3) rotate(120.3) scale(1.01)"/><use href="#mag" transform="translate(1127.4 710.4) rotate(0.9) scale(1.00)"/><use href="#mag" transform="translate(1115.1 731.4) rotate(61.1) scale(1.02)"/><use href="#mag" transform="translate(1091 731) rotate(120.3) scale(1.01)"/><use href="#mag" transform="translate(1175.5 711.2) rotate(0.9) scale(1.00)"/><use href="#mag" transform="translate(1163.2 732.2) rotate(61.2) scale(1.01)"/><use href="#mag" transform="translate(1139.2 731.8) rotate(120.4) scale(1.01)"/><use href="#mag" transform="translate(1223.6 712) rotate(0.9) scale(1.00)"/><use href="#mag" transform="translate(1211.2 732.9) rotate(61.4) scale(1.01)"/><use href="#mag" transform="translate(1187.3 732.5) rotate(120.5) scale(1.01)"/><use href="#mag" transform="translate(1271.7 712.7) rotate(0.9) scale(1.00)"/><use href="#mag" transform="translate(1259.2 733.6) rotate(61.5) scale(1.01)"/><use href="#mag" transform="translate(1235.3 733.3) rotate(120.6) scale(1.01)"/><use href="#mag" transform="translate(1319.6 713.4) rotate(0.8) scale(1.00)"/><use href="#mag" transform="translate(1307.1 734.3) rotate(61.6) scale(1.01)"/><use href="#mag" transform="translate(1283.2 734) rotate(120.7) scale(1.01)"/><use href="#mag" transform="translate(1367.5 714.1) rotate(0.8) scale(1.00)"/><use href="#mag" transform="translate(1355 735) rotate(61.7) scale(1.00)"/><use href="#mag" transform="translate(1331.1 734.7) rotate(120.8) scale(1.01)"/><use href="#mag" transform="translate(764.5 746.7) rotate(1) scale(1.01)"/><use href="#mag" transform="translate(752.5 767.7) rotate(60.3) scale(1.03)"/><use href="#mag" transform="translate(813.1 747.6) rotate(1) scale(1.01)"/><use href="#mag" transform="translate(801 768.6) rotate(60.4) scale(1.03)"/><use href="#mag" transform="translate(776.8 768.1) rotate(119.8) scale(1.01)"/><use href="#mag" transform="translate(861.5 748.4) rotate(1) scale(1.01)"/><use href="#mag" transform="translate(849.4 769.4) rotate(60.5) scale(1.02)"/><use href="#mag" transform="translate(825.2 769) rotate(119.9) scale(1.01)"/><use href="#mag" transform="translate(909.9 749.2) rotate(1) scale(1.01)"/><use href="#mag" transform="translate(897.8 770.2) rotate(60.6) scale(1.02)"/><use href="#mag" transform="translate(873.6 769.8) rotate(120) scale(1.01)"/><use href="#mag" transform="translate(958.2 750.1) rotate(1) scale(1.01)"/><use href="#mag" transform="translate(946 771) rotate(60.7) scale(1.02)"/><use href="#mag" transform="translate(921.9 770.6) rotate(120.1) scale(1.01)"/><use href="#mag" transform="translate(1006.5 750.9) rotate(0.9) scale(1.00)"/><use href="#mag" transform="translate(994.3 771.8) rotate(60.8) scale(1.02)"/><use href="#mag" transform="translate(970.2 771.4) rotate(120.1) scale(1.01)"/><use href="#mag" transform="translate(1054.7 751.6) rotate(0.9) scale(1.00)"/><use href="#mag" transform="translate(1042.4 772.5) rotate(60.9) scale(1.02)"/><use href="#mag" transform="translate(1018.4 772.2) rotate(120.2) scale(1.01)"/><use href="#mag" transform="translate(1102.8 752.4) rotate(0.9) scale(1.00)"/><use href="#mag" transform="translate(1090.5 773.3) rotate(61) scale(1.01)"/><use href="#mag" transform="translate(1066.5 772.9) rotate(120.3) scale(1.01)"/><use href="#mag" transform="translate(1150.9 753.1) rotate(0.9) scale(1.00)"/><use href="#mag" transform="translate(1138.6 774) rotate(61.1) scale(1.01)"/><use href="#mag" transform="translate(1114.6 773.7) rotate(120.4) scale(1.01)"/><use href="#mag" transform="translate(1198.9 753.9) rotate(0.9) scale(1.00)"/><use href="#mag" transform="translate(1186.5 774.7) rotate(61.3) scale(1.01)"/><use href="#mag" transform="translate(1162.6 774.4) rotate(120.5) scale(1.01)"/><use href="#mag" transform="translate(1246.8 754.6) rotate(0.8) scale(1.00)"/><use href="#mag" transform="translate(1234.5 775.4) rotate(61.4) scale(1.01)"/><use href="#mag" transform="translate(1210.5 775.1) rotate(120.6) scale(1.01)"/><use href="#mag" transform="translate(1294.7 755.2) rotate(0.8) scale(1.00)"/><use href="#mag" transform="translate(1282.3 776.1) rotate(61.5) scale(1.00)"/><use href="#mag" transform="translate(1258.4 775.8) rotate(120.7) scale(1.01)"/><use href="#mag" transform="translate(1342.5 755.9) rotate(0.8) scale(1.00)"/><use href="#mag" transform="translate(1330.1 776.7) rotate(61.6) scale(1.00)"/><use href="#mag" transform="translate(1306.2 776.4) rotate(120.8) scale(1.01)"/><use href="#mag" transform="translate(1390.3 756.6) rotate(0.8) scale(0.99)"/><use href="#mag" transform="translate(1377.8 777.4) rotate(61.7) scale(1.00)"/><use href="#mag" transform="translate(1354 777.1) rotate(120.9) scale(1.01)"/><use href="#mag" transform="translate(740.5 788.7) rotate(1) scale(1.01)"/><use href="#mag" transform="translate(789 789.6) rotate(1) scale(1.01)"/><use href="#mag" transform="translate(777 810.5) rotate(60.3) scale(1.02)"/><use href="#mag" transform="translate(752.8 810.1) rotate(119.8) scale(1.01)"/><use href="#mag" transform="translate(837.4 790.4) rotate(1) scale(1.01)"/><use href="#mag" transform="translate(825.3 811.3) rotate(60.4) scale(1.02)"/><use href="#mag" transform="translate(801.2 810.9) rotate(119.9) scale(1.01)"/><use href="#mag" transform="translate(885.7 791.2) rotate(0.9) scale(1.01)"/><use href="#mag" transform="translate(873.6 812.1) rotate(60.5) scale(1.02)"/><use href="#mag" transform="translate(849.5 811.7) rotate(120) scale(1.01)"/><use href="#mag" transform="translate(933.9 792) rotate(0.9) scale(1.00)"/><use href="#mag" transform="translate(921.8 812.8) rotate(60.6) scale(1.02)"/><use href="#mag" transform="translate(897.7 812.5) rotate(120) scale(1.01)"/><use href="#mag" transform="translate(982.1 792.7) rotate(0.9) scale(1.00)"/><use href="#mag" transform="translate(969.9 813.6) rotate(60.7) scale(1.01)"/><use href="#mag" transform="translate(945.9 813.2) rotate(120.1) scale(1.01)"/><use href="#mag" transform="translate(1030.2 793.5) rotate(0.9) scale(1.00)"/><use href="#mag" transform="translate(1018 814.3) rotate(60.8) scale(1.01)"/><use href="#mag" transform="translate(994 814) rotate(120.2) scale(1.01)"/><use href="#mag" transform="translate(1078.3 794.2) rotate(0.9) scale(1.00)"/><use href="#mag" transform="translate(1066.1 815) rotate(60.9) scale(1.01)"/><use href="#mag" transform="translate(1042.1 814.7) rotate(120.3) scale(1.01)"/><use href="#mag" transform="translate(1126.3 794.9) rotate(0.8) scale(1.00)"/><use href="#mag" transform="translate(1114 815.7) rotate(61) scale(1.01)"/><use href="#mag" transform="translate(1090.1 815.4) rotate(120.4) scale(1.01)"/><use href="#mag" transform="translate(1174.2 795.6) rotate(0.8) scale(1.00)"/><use href="#mag" transform="translate(1161.9 816.4) rotate(61.2) scale(1.01)"/><use href="#mag" transform="translate(1138 816.1) rotate(120.5) scale(1.01)"/><use href="#mag" transform="translate(1222.1 796.3) rotate(0.8) scale(1.00)"/><use href="#mag" transform="translate(1209.8 817.1) rotate(61.3) scale(1.00)"/><use href="#mag" transform="translate(1185.9 816.8) rotate(120.6) scale(1.01)"/><use href="#mag" transform="translate(1269.9 796.9) rotate(0.8) scale(1.00)"/><use href="#mag" transform="translate(1257.5 817.7) rotate(61.4) scale(1.00)"/><use href="#mag" transform="translate(1233.7 817.4) rotate(120.7) scale(1.01)"/><use href="#mag" transform="translate(1317.7 797.6) rotate(0.8) scale(0.99)"/><use href="#mag" transform="translate(1305.3 818.4) rotate(61.5) scale(1.00)"/><use href="#mag" transform="translate(1281.4 818.1) rotate(120.8) scale(1.01)"/><use href="#mag" transform="translate(1365.4 798.2) rotate(0.7) scale(0.99)"/><use href="#mag" transform="translate(1352.9 819) rotate(61.6) scale(1.00)"/><use href="#mag" transform="translate(1329.1 818.7) rotate(120.9) scale(1.01)"/><use href="#mag" transform="translate(765 831.4) rotate(0.9) scale(1.01)"/><use href="#mag" transform="translate(753 852.3) rotate(60.2) scale(1.02)"/><use href="#mag" transform="translate(813.3 832.2) rotate(0.9) scale(1.01)"/><use href="#mag" transform="translate(801.3 853.1) rotate(60.3) scale(1.02)"/><use href="#mag" transform="translate(777.2 852.7) rotate(119.9) scale(1.00)"/><use href="#mag" transform="translate(861.5 833) rotate(0.9) scale(1.00)"/><use href="#mag" transform="translate(849.5 853.8) rotate(60.4) scale(1.02)"/><use href="#mag" transform="translate(825.4 853.5) rotate(119.9) scale(1.00)"/><use href="#mag" transform="translate(909.7 833.7) rotate(0.9) scale(1.00)"/><use href="#mag" transform="translate(897.6 854.6) rotate(60.5) scale(1.01)"/><use href="#mag" transform="translate(873.6 854.2) rotate(120) scale(1.00)"/><use href="#mag" transform="translate(957.8 834.5) rotate(0.9) scale(1.00)"/><use href="#mag" transform="translate(945.7 855.3) rotate(60.6) scale(1.01)"/><use href="#mag" transform="translate(921.7 854.9) rotate(120.1) scale(1.00)"/><use href="#mag" transform="translate(1005.9 835.2) rotate(0.8) scale(1.00)"/><use href="#mag" transform="translate(993.7 856) rotate(60.7) scale(1.01)"/><use href="#mag" transform="translate(969.7 855.6) rotate(120.2) scale(1.00)"/><use href="#mag" transform="translate(1053.9 835.9) rotate(0.8) scale(1.00)"/><use href="#mag" transform="translate(1041.7 856.7) rotate(60.8) scale(1.01)"/><use href="#mag" transform="translate(1017.7 856.3) rotate(120.3) scale(1.00)"/><use href="#mag" transform="translate(1101.8 836.6) rotate(0.8) scale(1.00)"/><use href="#mag" transform="translate(1089.6 857.3) rotate(60.9) scale(1.01)"/><use href="#mag" transform="translate(1065.6 857) rotate(120.4) scale(1.00)"/><use href="#mag" transform="translate(1149.7 837.2) rotate(0.8) scale(1.00)"/><use href="#mag" transform="translate(1137.4 858) rotate(61.1) scale(1.00)"/><use href="#mag" transform="translate(1113.5 857.7) rotate(120.5) scale(1.00)"/><use href="#mag" transform="translate(1197.5 837.9) rotate(0.8) scale(1.00)"/><use href="#mag" transform="translate(1185.2 858.6) rotate(61.2) scale(1.00)"/><use href="#mag" transform="translate(1161.3 858.3) rotate(120.6) scale(1.00)"/><use href="#mag" transform="translate(1245.2 838.5) rotate(0.7) scale(0.99)"/><use href="#mag" transform="translate(1232.9 859.2) rotate(61.3) scale(1.00)"/><use href="#mag" transform="translate(1209 858.9) rotate(120.7) scale(1.00)"/><use href="#mag" transform="translate(1292.9 839.1) rotate(0.7) scale(0.99)"/><use href="#mag" transform="translate(1280.5 859.8) rotate(61.4) scale(1.00)"/><use href="#mag" transform="translate(1256.7 859.5) rotate(120.8) scale(1.00)"/><use href="#mag" transform="translate(1340.5 839.7) rotate(0.7) scale(0.99)"/><use href="#mag" transform="translate(1328.1 860.4) rotate(61.5) scale(0.99)"/><use href="#mag" transform="translate(1304.3 860.1) rotate(120.9) scale(1.00)"/><use href="#mag" transform="translate(1388 840.3) rotate(0.7) scale(0.99)"/><use href="#mag" transform="translate(1375.6 861) rotate(61.6) scale(0.99)"/><use href="#mag" transform="translate(1351.9 860.7) rotate(121) scale(1.01)"/><use href="#mag" transform="translate(741.1 873.2) rotate(0.9) scale(1.01)"/><use href="#mag" transform="translate(789.3 873.9) rotate(0.9) scale(1.00)"/><use href="#mag" transform="translate(777.3 894.7) rotate(60.2) scale(1.02)"/><use href="#mag" transform="translate(753.3 894.3) rotate(119.8) scale(1.00)"/><use href="#mag" transform="translate(837.5 874.7) rotate(0.9) scale(1.00)"/><use href="#mag" transform="translate(825.5 895.4) rotate(60.3) scale(1.01)"/><use href="#mag" transform="translate(801.4 895.1) rotate(119.9) scale(1.00)"/><use href="#mag" transform="translate(885.6 875.4) rotate(0.9) scale(1.00)"/><use href="#mag" transform="translate(873.5 896.1) rotate(60.4) scale(1.01)"/><use href="#mag" transform="translate(849.5 895.8) rotate(120) scale(1.00)"/><use href="#mag" transform="translate(933.6 876.1) rotate(0.8) scale(1.00)"/><use href="#mag" transform="translate(921.5 896.8) rotate(60.5) scale(1.01)"/><use href="#mag" transform="translate(897.6 896.5) rotate(120.1) scale(1.00)"/><use href="#mag" transform="translate(981.6 876.8) rotate(0.8) scale(1.00)"/><use href="#mag" transform="translate(969.5 897.5) rotate(60.6) scale(1.01)"/><use href="#mag" transform="translate(945.5 897.2) rotate(120.2) scale(1.00)"/><use href="#mag" transform="translate(1029.5 877.5) rotate(0.8) scale(1.00)"/><use href="#mag" transform="translate(1017.4 898.2) rotate(60.7) scale(1.00)"/><use href="#mag" transform="translate(993.5 897.8) rotate(120.3) scale(1.00)"/><use href="#mag" transform="translate(1077.4 878.1) rotate(0.8) scale(1.00)"/><use href="#mag" transform="translate(1065.2 898.8) rotate(60.8) scale(1.00)"/><use href="#mag" transform="translate(1041.3 898.5) rotate(120.4) scale(1.00)"/><use href="#mag" transform="translate(1125.2 878.7) rotate(0.8) scale(1.00)"/><use href="#mag" transform="translate(1112.9 899.4) rotate(61) scale(1.00)"/><use href="#mag" transform="translate(1089.1 899.1) rotate(120.5) scale(1.00)"/><use href="#mag" transform="translate(1172.9 879.4) rotate(0.7) scale(0.99)"/><use href="#mag" transform="translate(1160.6 900) rotate(61.1) scale(1.00)"/><use href="#mag" transform="translate(1136.8 899.7) rotate(120.6) scale(1.00)"/><use href="#mag" transform="translate(1220.6 880) rotate(0.7) scale(0.99)"/><use href="#mag" transform="translate(1208.3 900.6) rotate(61.2) scale(1.00)"/><use href="#mag" transform="translate(1184.5 900.3) rotate(120.7) scale(1.00)"/><use href="#mag" transform="translate(1268.2 880.5) rotate(0.7) scale(0.99)"/><use href="#mag" transform="translate(1255.8 901.2) rotate(61.3) scale(0.99)"/><use href="#mag" transform="translate(1232.1 900.9) rotate(120.8) scale(1.00)"/><use href="#mag" transform="translate(1315.7 881.1) rotate(0.7) scale(0.99)"/><use href="#mag" transform="translate(1303.3 901.7) rotate(61.4) scale(0.99)"/><use href="#mag" transform="translate(1279.6 901.5) rotate(120.9) scale(1.00)"/><use href="#mag" transform="translate(1363.2 881.7) rotate(0.7) scale(0.99)"/><use href="#mag" transform="translate(1350.8 902.3) rotate(61.5) scale(0.99)"/><use href="#mag" transform="translate(1327.1 902) rotate(121) scale(1.00)"/><use href="#mag" transform="translate(765.4 915.5) rotate(0.9) scale(1.00)"/><use href="#mag" transform="translate(753.5 936.2) rotate(60.1) scale(1.01)"/><use href="#mag" transform="translate(813.5 916.2) rotate(0.8) scale(1.00)"/><use href="#mag" transform="translate(801.5 936.9) rotate(60.2) scale(1.01)"/><use href="#mag" transform="translate(777.5 936.6) rotate(119.9) scale(1.00)"/><use href="#mag" transform="translate(861.5 916.9) rotate(0.8) scale(1.00)"/><use href="#mag" transform="translate(849.5 937.6) rotate(60.3) scale(1.01)"/><use href="#mag" transform="translate(825.6 937.3) rotate(120) scale(1.00)"/><use href="#mag" transform="translate(909.5 917.6) rotate(0.8) scale(1.00)"/><use href="#mag" transform="translate(897.5 938.3) rotate(60.4) scale(1.01)"/><use href="#mag" transform="translate(873.5 937.9) rotate(120.1) scale(1.00)"/><use href="#mag" transform="translate(957.4 918.2) rotate(0.8) scale(1.00)"/><use href="#mag" transform="translate(945.3 938.9) rotate(60.5) scale(1.00)"/><use href="#mag" transform="translate(921.4 938.6) rotate(120.2) scale(1.00)"/><use href="#mag" transform="translate(1005.3 918.9) rotate(0.8) scale(1.00)"/><use href="#mag" transform="translate(993.1 939.5) rotate(60.6) scale(1.00)"/><use href="#mag" transform="translate(969.3 939.2) rotate(120.3) scale(1.00)"/><use href="#mag" transform="translate(1053 919.5) rotate(0.7) scale(0.99)"/><use href="#mag" transform="translate(1040.9 940.1) rotate(60.7) scale(1.00)"/><use href="#mag" transform="translate(1017.1 939.8) rotate(120.4) scale(1.00)"/><use href="#mag" transform="translate(1100.8 920.1) rotate(0.7) scale(0.99)"/><use href="#mag" transform="translate(1088.6 940.7) rotate(60.8) scale(1.00)"/><use href="#mag" transform="translate(1064.8 940.4) rotate(120.5) scale(1.00)"/><use href="#mag" transform="translate(1148.4 920.7) rotate(0.7) scale(0.99)"/><use href="#mag" transform="translate(1136.2 941.3) rotate(61) scale(1.00)"/><use href="#mag" transform="translate(1112.4 941) rotate(120.6) scale(1.00)"/><use href="#mag" transform="translate(1196 921.3) rotate(0.7) scale(0.99)"/><use href="#mag" transform="translate(1183.8 941.9) rotate(61.1) scale(0.99)"/><use href="#mag" transform="translate(1160 941.6) rotate(120.7) scale(1.00)"/><use href="#mag" transform="translate(1243.5 921.8) rotate(0.7) scale(0.99)"/><use href="#mag" transform="translate(1231.2 942.4) rotate(61.2) scale(0.99)"/><use href="#mag" transform="translate(1207.5 942.1) rotate(120.8) scale(1.00)"/><use href="#mag" transform="translate(1291 922.4) rotate(0.6) scale(0.99)"/><use href="#mag" transform="translate(1278.7 942.9) rotate(61.3) scale(0.99)"/><use href="#mag" transform="translate(1255 942.7) rotate(120.9) scale(1.00)"/><use href="#mag" transform="translate(1338.4 922.9) rotate(0.6) scale(0.99)"/><use href="#mag" transform="translate(1326.1 943.4) rotate(61.4) scale(0.99)"/><use href="#mag" transform="translate(1302.4 943.2) rotate(120.9) scale(1.00)"/><use href="#mag" transform="translate(1385.8 923.4) rotate(0.6) scale(0.99)"/><use href="#mag" transform="translate(1373.4 943.9) rotate(61.5) scale(0.98)"/><use href="#mag" transform="translate(1349.7 943.7) rotate(121) scale(1.00)"/><use href="#mag" transform="translate(741.6 957) rotate(0.8) scale(1.00)"/><use href="#mag" transform="translate(789.6 957.6) rotate(0.8) scale(1.00)"/><use href="#mag" transform="translate(777.7 978.3) rotate(60.1) scale(1.01)"/><use href="#mag" transform="translate(753.7 977.9) rotate(119.9) scale(0.99)"/><use href="#mag" transform="translate(837.6 958.3) rotate(0.8) scale(1.00)"/><use href="#mag" transform="translate(825.6 978.9) rotate(60.2) scale(1.01)"/><use href="#mag" transform="translate(801.7 978.6) rotate(120) scale(0.99)"/><use href="#mag" transform="translate(885.5 958.9) rotate(0.8) scale(1.00)"/><use href="#mag" transform="translate(873.5 979.6) rotate(60.3) scale(1.00)"/><use href="#mag" transform="translate(849.6 979.2) rotate(120.1) scale(0.99)"/><use href="#mag" transform="translate(933.3 959.6) rotate(0.7) scale(1.00)"/><use href="#mag" transform="translate(921.3 980.2) rotate(60.4) scale(1.00)"/><use href="#mag" transform="translate(897.4 979.9) rotate(120.2) scale(0.99)"/><use href="#mag" transform="translate(981.1 960.2) rotate(0.7) scale(0.99)"/><use href="#mag" transform="translate(969 980.8) rotate(60.5) scale(1.00)"/><use href="#mag" transform="translate(945.2 980.5) rotate(120.3) scale(0.99)"/><use href="#mag" transform="translate(1028.8 960.8) rotate(0.7) scale(0.99)"/><use href="#mag" transform="translate(1016.7 981.3) rotate(60.6) scale(1.00)"/><use href="#mag" transform="translate(992.9 981.1) rotate(120.4) scale(0.99)"/><use href="#mag" transform="translate(1076.4 961.4) rotate(0.7) scale(0.99)"/><use href="#mag" transform="translate(1064.3 981.9) rotate(60.7) scale(0.99)"/><use href="#mag" transform="translate(1040.5 981.6) rotate(120.5) scale(0.99)"/><use href="#mag" transform="translate(1124 961.9) rotate(0.7) scale(0.99)"/><use href="#mag" transform="translate(1111.8 982.4) rotate(60.9) scale(0.99)"/><use href="#mag" transform="translate(1088.1 982.2) rotate(120.6) scale(0.99)"/><use href="#mag" transform="translate(1171.5 962.5) rotate(0.6) scale(0.99)"/><use href="#mag" transform="translate(1159.3 983) rotate(61) scale(0.99)"/><use href="#mag" transform="translate(1135.6 982.7) rotate(120.7) scale(0.99)"/><use href="#mag" transform="translate(1219 963) rotate(0.6) scale(0.99)"/><use href="#mag" transform="translate(1206.7 983.5) rotate(61.1) scale(0.99)"/><use href="#mag" transform="translate(1183.1 983.2) rotate(120.8) scale(0.99)"/><use href="#mag" transform="translate(1266.4 963.5) rotate(0.6) scale(0.99)"/><use href="#mag" transform="translate(1254.1 984) rotate(61.2) scale(0.99)"/><use href="#mag" transform="translate(1230.5 983.7) rotate(120.8) scale(1.00)"/><use href="#mag" transform="translate(1313.7 964) rotate(0.6) scale(0.99)"/><use href="#mag" transform="translate(1301.4 984.5) rotate(61.3) scale(0.98)"/><use href="#mag" transform="translate(1277.8 984.2) rotate(120.9) scale(1.00)"/><use href="#mag" transform="translate(1361 964.4) rotate(0.6) scale(0.98)"/><use href="#mag" transform="translate(1348.6 984.9) rotate(61.4) scale(0.98)"/><use href="#mag" transform="translate(1325.1 984.7) rotate(121) scale(1.00)"/><use href="#mag" transform="translate(765.8 998.9) rotate(0.8) scale(1.00)"/><use href="#mag" transform="translate(753.9 1019.5) rotate(60) scale(1.01)"/><use href="#mag" transform="translate(813.7 999.6) rotate(0.7) scale(1.00)"/><use href="#mag" transform="translate(801.8 1020.1) rotate(60.1) scale(1.00)"/><use href="#mag" transform="translate(777.9 1019.8) rotate(120) scale(0.99)"/><use href="#mag" transform="translate(861.5 1000.2) rotate(0.7) scale(1.00)"/><use href="#mag" transform="translate(849.6 1020.7) rotate(60.2) scale(1.00)"/><use href="#mag" transform="translate(825.7 1020.4) rotate(120.1) scale(0.99)"/><use href="#mag" transform="translate(909.3 1000.8) rotate(0.7) scale(0.99)"/><use href="#mag" transform="translate(897.3 1021.3) rotate(60.3) scale(1.00)"/><use href="#mag" transform="translate(873.5 1021) rotate(120.2) scale(0.99)"/><use href="#mag" transform="translate(957 1001.4) rotate(0.7) scale(0.99)"/><use href="#mag" transform="translate(945 1021.9) rotate(60.4) scale(1.00)"/><use href="#mag" transform="translate(921.2 1021.6) rotate(120.3) scale(0.99)"/><use href="#mag" transform="translate(1004.6 1001.9) rotate(0.7) scale(0.99)"/><use href="#mag" transform="translate(992.6 1022.4) rotate(60.5) scale(0.99)"/><use href="#mag" transform="translate(968.8 1022.2) rotate(120.4) scale(0.99)"/><use href="#mag" transform="translate(1052.2 1002.5) rotate(0.6) scale(0.99)"/><use href="#mag" transform="translate(1040.1 1023) rotate(60.6) scale(0.99)"/><use href="#mag" transform="translate(1016.4 1022.7) rotate(120.5) scale(0.99)"/><use href="#mag" transform="translate(1099.7 1003) rotate(0.6) scale(0.99)"/><use href="#mag" transform="translate(1087.6 1023.5) rotate(60.8) scale(0.99)"/><use href="#mag" transform="translate(1063.9 1023.2) rotate(120.6) scale(0.99)"/><use href="#mag" transform="translate(1147.2 1003.5) rotate(0.6) scale(0.99)"/><use href="#mag" transform="translate(1135 1024) rotate(60.9) scale(0.99)"/><use href="#mag" transform="translate(1111.3 1023.7) rotate(120.7) scale(0.99)"/><use href="#mag" transform="translate(1194.5 1004) rotate(0.6) scale(0.99)"/><use href="#mag" transform="translate(1182.3 1024.4) rotate(61) scale(0.99)"/><use href="#mag" transform="translate(1158.7 1024.2) rotate(120.7) scale(0.99)"/><use href="#mag" transform="translate(1241.9 1004.5) rotate(0.6) scale(0.99)"/><use href="#mag" transform="translate(1229.6 1024.9) rotate(61.1) scale(0.98)"/><use href="#mag" transform="translate(1206 1024.7) rotate(120.8) scale(0.99)"/><use href="#mag" transform="translate(1289.1 1004.9) rotate(0.5) scale(0.98)"/><use href="#mag" transform="translate(1276.8 1025.4) rotate(61.2) scale(0.98)"/><use href="#mag" transform="translate(1253.3 1025.1) rotate(120.9) scale(0.99)"/><use href="#mag" transform="translate(1336.3 1005.4) rotate(0.5) scale(0.98)"/><use href="#mag" transform="translate(1324 1025.8) rotate(61.3) scale(0.98)"/><use href="#mag" transform="translate(1300.5 1025.6) rotate(121) scale(0.99)"/><use href="#mag" transform="translate(1383.5 1005.8) rotate(0.5) scale(0.98)"/><use href="#mag" transform="translate(1371.1 1026.2) rotate(61.5) scale(0.98)"/><use href="#mag" transform="translate(1347.6 1026) rotate(121.1) scale(0.99)"/><use href="#mag" transform="translate(742.1 1040.1) rotate(0.7) scale(1.00)"/><use href="#mag" transform="translate(789.9 1040.7) rotate(0.7) scale(1.00)"/><use href="#mag" transform="translate(778 1061.2) rotate(60) scale(1.00)"/><use href="#mag" transform="translate(754.2 1060.9) rotate(120) scale(0.99)"/><use href="#mag" transform="translate(837.7 1041.3) rotate(0.7) scale(0.99)"/><use href="#mag" transform="translate(825.8 1061.8) rotate(60.1) scale(1.00)"/><use href="#mag" transform="translate(801.9 1061.5) rotate(120.1) scale(0.99)"/><use href="#mag" transform="translate(885.3 1041.8) rotate(0.7) scale(0.99)"/><use href="#mag" transform="translate(873.4 1062.3) rotate(60.2) scale(1.00)"/><use href="#mag" transform="translate(849.6 1062) rotate(120.2) scale(0.99)"/><use href="#mag" transform="translate(933 1042.4) rotate(0.7) scale(0.99)"/><use href="#mag" transform="translate(921 1062.8) rotate(60.3) scale(0.99)"/><use href="#mag" transform="translate(897.2 1062.6) rotate(120.3) scale(0.99)"/><use href="#mag" transform="translate(980.5 1042.9) rotate(0.6) scale(0.99)"/><use href="#mag" transform="translate(968.5 1063.4) rotate(60.4) scale(0.99)"/><use href="#mag" transform="translate(944.8 1063.1) rotate(120.4) scale(0.99)"/><use href="#mag" transform="translate(1028 1043.5) rotate(0.6) scale(0.99)"/><use href="#mag" transform="translate(1016 1063.9) rotate(60.5) scale(0.99)"/><use href="#mag" transform="translate(992.3 1063.6) rotate(120.5) scale(0.99)"/><use href="#mag" transform="translate(1075.5 1044) rotate(0.6) scale(0.99)"/><use href="#mag" transform="translate(1063.4 1064.4) rotate(60.6) scale(0.99)"/><use href="#mag" transform="translate(1039.7 1064.1) rotate(120.6) scale(0.99)"/><use href="#mag" transform="translate(1122.9 1044.4) rotate(0.6) scale(0.99)"/><use href="#mag" transform="translate(1110.7 1064.8) rotate(60.8) scale(0.98)"/><use href="#mag" transform="translate(1087.1 1064.6) rotate(120.6) scale(0.99)"/><use href="#mag" transform="translate(1170.2 1044.9) rotate(0.6) scale(0.99)"/><use href="#mag" transform="translate(1158 1065.3) rotate(60.9) scale(0.98)"/><use href="#mag" transform="translate(1134.4 1065.1) rotate(120.7) scale(0.99)"/><use href="#mag" transform="translate(1217.4 1045.3) rotate(0.5) scale(0.98)"/><use href="#mag" transform="translate(1205.2 1065.7) rotate(61) scale(0.98)"/><use href="#mag" transform="translate(1181.6 1065.5) rotate(120.8) scale(0.99)"/><use href="#mag" transform="translate(1264.6 1045.8) rotate(0.5) scale(0.98)"/><use href="#mag" transform="translate(1252.4 1066.1) rotate(61.1) scale(0.98)"/><use href="#mag" transform="translate(1228.8 1065.9) rotate(120.9) scale(0.99)"/><use href="#mag" transform="translate(1311.7 1046.2) rotate(0.5) scale(0.98)"/><use href="#mag" transform="translate(1299.5 1066.5) rotate(61.2) scale(0.98)"/><use href="#mag" transform="translate(1275.9 1066.3) rotate(121) scale(0.99)"/><use href="#mag" transform="translate(1358.8 1046.6) rotate(0.5) scale(0.98)"/><use href="#mag" transform="translate(1346.5 1066.9) rotate(61.3) scale(0.97)"/><use href="#mag" transform="translate(1323 1066.7) rotate(121.1) scale(0.99)"/><use href="#mag" transform="translate(766.2 1081.7) rotate(0.7) scale(0.99)"/><use href="#mag" transform="translate(754.4 1102.1) rotate(59.9) scale(1.00)"/><use href="#mag" transform="translate(813.9 1082.2) rotate(0.7) scale(0.99)"/><use href="#mag" transform="translate(802 1102.7) rotate(60) scale(1.00)"/><use href="#mag" transform="translate(778.2 1102.4) rotate(120.1) scale(0.98)"/><use href="#mag" transform="translate(861.5 1082.8) rotate(0.6) scale(0.99)"/><use href="#mag" transform="translate(849.6 1103.2) rotate(60.1) scale(0.99)"/><use href="#mag" transform="translate(825.8 1102.9) rotate(120.2) scale(0.98)"/><use href="#mag" transform="translate(909 1083.3) rotate(0.6) scale(0.99)"/><use href="#mag" transform="translate(897.1 1103.7) rotate(60.2) scale(0.99)"/><use href="#mag" transform="translate(873.4 1103.5) rotate(120.3) scale(0.98)"/><use href="#mag" transform="translate(956.5 1083.8) rotate(0.6) scale(0.99)"/><use href="#mag" transform="translate(944.6 1104.2) rotate(60.3) scale(0.99)"/><use href="#mag" transform="translate(920.9 1104) rotate(120.4) scale(0.98)"/><use href="#mag" transform="translate(1004 1084.3) rotate(0.6) scale(0.99)"/><use href="#mag" transform="translate(992 1104.7) rotate(60.4) scale(0.99)"/><use href="#mag" transform="translate(968.3 1104.4) rotate(120.5) scale(0.98)"/><use href="#mag" transform="translate(1051.3 1084.8) rotate(0.6) scale(0.99)"/><use href="#mag" transform="translate(1039.3 1105.1) rotate(60.5) scale(0.98)"/><use href="#mag" transform="translate(1015.7 1104.9) rotate(120.5) scale(0.98)"/><use href="#mag" transform="translate(1098.6 1085.2) rotate(0.5) scale(0.98)"/><use href="#mag" transform="translate(1086.6 1105.6) rotate(60.7) scale(0.98)"/><use href="#mag" transform="translate(1063 1105.4) rotate(120.6) scale(0.99)"/><use href="#mag" transform="translate(1145.9 1085.7) rotate(0.5) scale(0.98)"/><use href="#mag" transform="translate(1133.8 1106) rotate(60.8) scale(0.98)"/><use href="#mag" transform="translate(1110.2 1105.8) rotate(120.7) scale(0.99)"/><use href="#mag" transform="translate(1193.1 1086.1) rotate(0.5) scale(0.98)"/><use href="#mag" transform="translate(1180.9 1106.4) rotate(60.9) scale(0.98)"/><use href="#mag" transform="translate(1157.4 1106.2) rotate(120.8) scale(0.99)"/><use href="#mag" transform="translate(1240.2 1086.5) rotate(0.5) scale(0.98)"/><use href="#mag" transform="translate(1228 1106.8) rotate(61) scale(0.98)"/><use href="#mag" transform="translate(1204.5 1106.6) rotate(120.9) scale(0.99)"/><use href="#mag" transform="translate(1287.2 1086.9) rotate(0.5) scale(0.98)"/><use href="#mag" transform="translate(1275 1107.1) rotate(61.1) scale(0.97)"/><use href="#mag" transform="translate(1251.5 1107) rotate(121) scale(0.99)"/><use href="#mag" transform="translate(1334.2 1087.2) rotate(0.4) scale(0.98)"/><use href="#mag" transform="translate(1321.9 1107.5) rotate(61.2) scale(0.97)"/><use href="#mag" transform="translate(1298.5 1107.3) rotate(121.1) scale(0.99)"/><use href="#mag" transform="translate(1381.1 1087.6) rotate(0.4) scale(0.98)"/><use href="#mag" transform="translate(1368.8 1107.8) rotate(61.4) scale(0.97)"/><use href="#mag" transform="translate(1345.4 1107.7) rotate(121.2) scale(0.99)"/><use href="#mag" transform="translate(742.6 1122.6) rotate(0.6) scale(0.99)"/><use href="#mag" transform="translate(790.2 1123.1) rotate(0.6) scale(0.99)"/><use href="#mag" transform="translate(778.4 1143.4) rotate(59.9) scale(0.99)"/><use href="#mag" transform="translate(754.6 1143.2) rotate(120.1) scale(0.98)"/><use href="#mag" transform="translate(837.7 1123.6) rotate(0.6) scale(0.99)"/><use href="#mag" transform="translate(825.9 1143.9) rotate(60) scale(0.99)"/><use href="#mag" transform="translate(802.1 1143.7) rotate(120.2) scale(0.98)"/><use href="#mag" transform="translate(885.2 1124.1) rotate(0.6) scale(0.99)"/><use href="#mag" transform="translate(873.3 1144.4) rotate(60.1) scale(0.99)"/><use href="#mag" transform="translate(849.6 1144.2) rotate(120.3) scale(0.98)"/><use href="#mag" transform="translate(932.6 1124.6) rotate(0.6) scale(0.99)"/><use href="#mag" transform="translate(920.7 1144.9) rotate(60.2) scale(0.99)"/><use href="#mag" transform="translate(897 1144.7) rotate(120.3) scale(0.98)"/><use href="#mag" transform="translate(980 1125) rotate(0.5) scale(0.99)"/><use href="#mag" transform="translate(968 1145.3) rotate(60.3) scale(0.98)"/><use href="#mag" transform="translate(944.4 1145.1) rotate(120.4) scale(0.98)"/><use href="#mag" transform="translate(1027.3 1125.5) rotate(0.5) scale(0.98)"/><use href="#mag" transform="translate(1015.3 1145.8) rotate(60.4) scale(0.98)"/><use href="#mag" transform="translate(991.7 1145.6) rotate(120.5) scale(0.98)"/><use href="#mag" transform="translate(1074.5 1125.9) rotate(0.5) scale(0.98)"/><use href="#mag" transform="translate(1062.5 1146.2) rotate(60.6) scale(0.98)"/><use href="#mag" transform="translate(1038.9 1146) rotate(120.6) scale(0.98)"/><use href="#mag" transform="translate(1121.7 1126.3) rotate(0.5) scale(0.98)"/><use href="#mag" transform="translate(1109.6 1146.6) rotate(60.7) scale(0.98)"/><use href="#mag" transform="translate(1086.1 1146.4) rotate(120.7) scale(0.98)"/><use href="#mag" transform="translate(1168.8 1126.7) rotate(0.5) scale(0.98)"/><use href="#mag" transform="translate(1156.7 1146.9) rotate(60.8) scale(0.97)"/><use href="#mag" transform="translate(1133.2 1146.8) rotate(120.8) scale(0.98)"/><use href="#mag" transform="translate(1215.8 1127.1) rotate(0.4) scale(0.98)"/><use href="#mag" transform="translate(1203.7 1147.3) rotate(60.9) scale(0.97)"/><use href="#mag" transform="translate(1180.2 1147.1) rotate(120.9) scale(0.98)"/><use href="#mag" transform="translate(1262.8 1127.4) rotate(0.4) scale(0.98)"/><use href="#mag" transform="translate(1250.6 1147.6) rotate(61) scale(0.97)"/><use href="#mag" transform="translate(1227.2 1147.5) rotate(121) scale(0.98)"/><use href="#mag" transform="translate(1309.7 1127.8) rotate(0.4) scale(0.98)"/><use href="#mag" transform="translate(1297.5 1147.9) rotate(61.1) scale(0.97)"/><use href="#mag" transform="translate(1274.1 1147.8) rotate(121.1) scale(0.98)"/><use href="#mag" transform="translate(1356.6 1128.1) rotate(0.4) scale(0.98)"/><use href="#mag" transform="translate(1344.3 1148.2) rotate(61.3) scale(0.97)"/><use href="#mag" transform="translate(1320.9 1148.1) rotate(121.2) scale(0.98)"/><use href="#mag" transform="translate(766.6 1163.8) rotate(0.6) scale(0.99)"/><use href="#mag" transform="translate(754.8 1184.1) rotate(59.8) scale(0.99)"/><use href="#mag" transform="translate(814 1164.3) rotate(0.6) scale(0.99)"/><use href="#mag" transform="translate(802.2 1184.6) rotate(59.9) scale(0.99)"/><use href="#mag" transform="translate(778.5 1184.3) rotate(120.1) scale(0.98)"/><use href="#mag" transform="translate(861.4 1164.8) rotate(0.6) scale(0.99)"/><use href="#mag" transform="translate(849.6 1185) rotate(60) scale(0.99)"/><use href="#mag" transform="translate(825.9 1184.8) rotate(120.2) scale(0.98)"/><use href="#mag" transform="translate(908.8 1165.2) rotate(0.5) scale(0.99)"/><use href="#mag" transform="translate(896.9 1185.4) rotate(60.1) scale(0.98)"/><use href="#mag" transform="translate(873.3 1185.2) rotate(120.3) scale(0.98)"/><use href="#mag" transform="translate(956.1 1165.6) rotate(0.5) scale(0.98)"/><use href="#mag" transform="translate(944.1 1185.9) rotate(60.2) scale(0.98)"/><use href="#mag" transform="translate(920.6 1185.7) rotate(120.4) scale(0.98)"/><use href="#mag" transform="translate(1003.3 1166) rotate(0.5) scale(0.98)"/><use href="#mag" transform="translate(991.3 1186.3) rotate(60.3) scale(0.98)"/><use href="#mag" transform="translate(967.8 1186.1) rotate(120.5) scale(0.98)"/><use href="#mag" transform="translate(1050.5 1166.4) rotate(0.5) scale(0.98)"/><use href="#mag" transform="translate(1038.5 1186.6) rotate(60.4) scale(0.98)"/><use href="#mag" transform="translate(1014.9 1186.5) rotate(120.6) scale(0.98)"/><use href="#mag" transform="translate(1097.5 1166.8) rotate(0.4) scale(0.98)"/><use href="#mag" transform="translate(1085.5 1187) rotate(60.6) scale(0.97)"/><use href="#mag" transform="translate(1062 1186.8) rotate(120.7) scale(0.98)"/><use href="#mag" transform="translate(1144.6 1167.2) rotate(0.4) scale(0.98)"/><use href="#mag" transform="translate(1132.5 1187.3) rotate(60.7) scale(0.97)"/><use href="#mag" transform="translate(1109 1187.2) rotate(120.8) scale(0.98)"/><use href="#mag" transform="translate(1191.5 1167.5) rotate(0.4) scale(0.98)"/><use href="#mag" transform="translate(1179.4 1187.7) rotate(60.8) scale(0.97)"/><use href="#mag" transform="translate(1156 1187.5) rotate(120.9) scale(0.98)"/><use href="#mag" transform="translate(1238.5 1167.8) rotate(0.4) scale(0.98)"/><use href="#mag" transform="translate(1226.3 1188) rotate(60.9) scale(0.97)"/><use href="#mag" transform="translate(1202.9 1187.8) rotate(121) scale(0.98)"/><use href="#mag" transform="translate(1285.3 1168.1) rotate(0.4) scale(0.98)"/><use href="#mag" transform="translate(1273.1 1188.3) rotate(61) scale(0.97)"/><use href="#mag" transform="translate(1249.7 1188.1) rotate(121.1) scale(0.98)"/><use href="#mag" transform="translate(1332.1 1168.4) rotate(0.3) scale(0.97)"/><use href="#mag" transform="translate(1319.9 1188.5) rotate(61.1) scale(0.96)"/><use href="#mag" transform="translate(1296.5 1188.4) rotate(121.2) scale(0.98)"/><use href="#mag" transform="translate(1378.8 1168.7) rotate(0.3) scale(0.97)"/><use href="#mag" transform="translate(1366.5 1188.8) rotate(61.3) scale(0.96)"/><use href="#mag" transform="translate(1343.2 1188.7) rotate(121.3) scale(0.98)"/><use href="#mag" transform="translate(743 1204.4) rotate(0.6) scale(0.99)"/><use href="#mag" transform="translate(790.4 1204.8) rotate(0.5) scale(0.99)"/><use href="#mag" transform="translate(778.7 1225.1) rotate(59.8) scale(0.99)"/><use href="#mag" transform="translate(755 1224.8) rotate(120.1) scale(0.97)"/><use href="#mag" transform="translate(837.8 1205.3) rotate(0.5) scale(0.99)"/><use href="#mag" transform="translate(826 1225.5) rotate(59.9) scale(0.98)"/><use href="#mag" transform="translate(802.3 1225.3) rotate(120.2) scale(0.97)"/><use href="#mag" transform="translate(885 1205.7) rotate(0.5) scale(0.98)"/><use href="#mag" transform="translate(873.2 1225.9) rotate(60) scale(0.98)"/><use href="#mag" transform="translate(849.6 1225.7) rotate(120.3) scale(0.97)"/><use href="#mag" transform="translate(932.3 1206.1) rotate(0.5) scale(0.98)"/><use href="#mag" transform="translate(920.4 1226.3) rotate(60.1) scale(0.98)"/><use href="#mag" transform="translate(896.8 1226.1) rotate(120.4) scale(0.97)"/><use href="#mag" transform="translate(979.4 1206.5) rotate(0.5) scale(0.98)"/><use href="#mag" transform="translate(967.5 1226.6) rotate(60.2) scale(0.98)"/><use href="#mag" transform="translate(944 1226.5) rotate(120.5) scale(0.98)"/><use href="#mag" transform="translate(1026.5 1206.8) rotate(0.4) scale(0.98)"/><use href="#mag" transform="translate(1014.5 1227) rotate(60.3) scale(0.97)"/><use href="#mag" transform="translate(991 1226.8) rotate(120.6) scale(0.98)"/><use href="#mag" transform="translate(1073.5 1207.2) rotate(0.4) scale(0.98)"/><use href="#mag" transform="translate(1061.5 1227.3) rotate(60.5) scale(0.97)"/><use href="#mag" transform="translate(1038.1 1227.2) rotate(120.7) scale(0.98)"/><use href="#mag" transform="translate(1120.5 1207.5) rotate(0.4) scale(0.98)"/><use href="#mag" transform="translate(1108.4 1227.6) rotate(60.6) scale(0.97)"/><use href="#mag" transform="translate(1085 1227.5) rotate(120.8) scale(0.98)"/><use href="#mag" transform="translate(1167.4 1207.8) rotate(0.4) scale(0.98)"/><use href="#mag" transform="translate(1155.3 1227.9) rotate(60.7) scale(0.97)"/><use href="#mag" transform="translate(1131.9 1227.8) rotate(120.9) scale(0.98)"/><use href="#mag" transform="translate(1214.2 1208.1) rotate(0.3) scale(0.98)"/><use href="#mag" transform="translate(1202.1 1228.2) rotate(60.8) scale(0.96)"/><use href="#mag" transform="translate(1178.7 1228.1) rotate(121) scale(0.98)"/><use href="#mag" transform="translate(1261 1208.4) rotate(0.3) scale(0.97)"/><use href="#mag" transform="translate(1248.8 1228.5) rotate(60.9) scale(0.96)"/><use href="#mag" transform="translate(1225.5 1228.3) rotate(121.1) scale(0.98)"/><use href="#mag" transform="translate(1307.7 1208.7) rotate(0.3) scale(0.97)"/><use href="#mag" transform="translate(1295.5 1228.7) rotate(61) scale(0.96)"/><use href="#mag" transform="translate(1272.2 1228.6) rotate(121.2) scale(0.98)"/><use href="#mag" transform="translate(1354.3 1208.9) rotate(0.3) scale(0.97)"/><polygon points="764.3,683.1 782.5,693.6 782.5,714.6 764.3,725.1 746.1,714.6 746.1,693.6" fill="#b9b9bd" stroke="#707070" stroke-width="0.8"/><g transform="translate(764.3 704.1) rotate(0)"><use href="#arrC" transform="translate(-3.5 1.5)" fill="#2a2a2a" opacity="0.55" filter="url(#blur2)"/><use href="#arrC" fill="#fff"/></g><polygon points="812.9,684 831.1,694.5 831.1,715.5 812.9,726 794.7,715.5 794.7,694.5" fill="#b9b9bd" stroke="#707070" stroke-width="0.8"/><g transform="translate(812.9 705) rotate(0)"><use href="#arrC" transform="translate(-3.5 1.5)" fill="#2a2a2a" opacity="0.55" filter="url(#blur2)"/><use href="#arrC" fill="#fff"/></g><polygon points="861.5,684.9 879.7,695.4 879.7,716.4 861.5,726.9 843.3,716.4 843.3,695.4" fill="#b9b9bd" stroke="#707070" stroke-width="0.8"/><g transform="translate(861.5 705.9) rotate(0)"><use href="#arrC" transform="translate(-3.5 1.5)" fill="#2a2a2a" opacity="0.55" filter="url(#blur2)"/><use href="#arrC" fill="#fff"/></g><polygon points="910,685.8 928.1,696.3 928.1,717.2 910,727.7 891.8,717.2 891.8,696.3" fill="#b9b9bd" stroke="#707070" stroke-width="0.8"/><g transform="translate(910 706.8) rotate(0)"><use href="#arrC" transform="translate(-3.5 1.5)" fill="#2a2a2a" opacity="0.55" filter="url(#blur2)"/><use href="#arrC" fill="#fff"/></g><polygon points="958.4,686.7 976.5,697.1 976.5,718.1 958.4,728.5 940.3,718.1 940.3,697.1" fill="#b9b9bd" stroke="#707070" stroke-width="0.8"/><g transform="translate(958.4 707.6) rotate(0)"><use href="#arrC" transform="translate(-3.5 1.5)" fill="#2a2a2a" opacity="0.55" filter="url(#blur2)"/><use href="#arrC" fill="#fff"/></g><polygon points="1006.8,687.5 1024.9,698 1024.9,718.9 1006.8,729.3 988.7,718.9 988.7,698" fill="#b9b9bd" stroke="#707070" stroke-width="0.8"/><g transform="translate(1006.8 708.4) rotate(0)"><use href="#arrC" transform="translate(-3.5 1.5)" fill="#2a2a2a" opacity="0.55" filter="url(#blur2)"/><use href="#arrC" fill="#fff"/></g><polygon points="1055.1,688.4 1073.2,698.8 1073.2,719.7 1055.1,730.1 1037,719.7 1037,698.8" fill="#a33548"/><polygon points="1103.3,689.2 1121.4,699.6 1121.4,720.5 1103.3,730.9 1085.3,720.5 1085.3,699.6" fill="#b9b9bd" stroke="#707070" stroke-width="0.8"/><g transform="translate(1103.3 710.1) rotate(180)"><use href="#arrC" transform="translate(-3.5 1.5)" fill="#2a2a2a" opacity="0.55" filter="url(#blur2)"/><use href="#arrC" fill="#fff"/></g><polygon points="1151.5,690 1169.5,700.4 1169.5,721.2 1151.5,731.7 1133.5,721.2 1133.5,700.4" fill="#b9b9bd" stroke="#707070" stroke-width="0.8"/><g transform="translate(1151.5 710.8) rotate(180)"><use href="#arrC" transform="translate(-3.5 1.5)" fill="#2a2a2a" opacity="0.55" filter="url(#blur2)"/><use href="#arrC" fill="#fff"/></g><polygon points="1199.6,690.8 1217.6,701.2 1217.6,722 1199.6,732.4 1181.6,722 1181.6,701.2" fill="#b9b9bd" stroke="#707070" stroke-width="0.8"/><g transform="translate(1199.6 711.6) rotate(180)"><use href="#arrC" transform="translate(-3.5 1.5)" fill="#2a2a2a" opacity="0.55" filter="url(#blur2)"/><use href="#arrC" fill="#fff"/></g><polygon points="1247.7,691.6 1265.6,702 1265.6,722.7 1247.7,733.1 1229.7,722.7 1229.7,702" fill="#b9b9bd" stroke="#707070" stroke-width="0.8"/><g transform="translate(1247.7 712.3) rotate(180)"><use href="#arrC" transform="translate(-3.5 1.5)" fill="#2a2a2a" opacity="0.55" filter="url(#blur2)"/><use href="#arrC" fill="#fff"/></g><polygon points="1295.6,692.3 1313.6,702.7 1313.6,723.4 1295.6,733.8 1277.7,723.4 1277.7,702.7" fill="#3c66a8"/><polygon points="788.8,726.2 807,736.7 807,757.6 788.8,768.1 770.6,757.6 770.6,736.7" fill="#b9b9bd" stroke="#707070" stroke-width="0.8"/><g transform="translate(788.8 747.1) rotate(0)"><use href="#arrC" transform="translate(-3.5 1.5)" fill="#2a2a2a" opacity="0.55" filter="url(#blur2)"/><use href="#arrC" fill="#fff"/></g><polygon points="837.3,727 855.4,737.5 855.4,758.5 837.3,769 819.1,758.5 819.1,737.5" fill="#b9b9bd" stroke="#707070" stroke-width="0.8"/><g transform="translate(837.3 748) rotate(0)"><use href="#arrC" transform="translate(-3.5 1.5)" fill="#2a2a2a" opacity="0.55" filter="url(#blur2)"/><use href="#arrC" fill="#fff"/></g><polygon points="885.7,727.9 903.8,738.4 903.8,759.3 885.7,769.8 867.6,759.3 867.6,738.4" fill="#b9b9bd" stroke="#707070" stroke-width="0.8"/><g transform="translate(885.7 748.8) rotate(0)"><use href="#arrC" transform="translate(-3.5 1.5)" fill="#2a2a2a" opacity="0.55" filter="url(#blur2)"/><use href="#arrC" fill="#fff"/></g><polygon points="934.1,728.8 952.2,739.2 952.2,760.1 934.1,770.6 916,760.1 916,739.2" fill="#b9b9bd" stroke="#707070" stroke-width="0.8"/><g transform="translate(934.1 749.7) rotate(0)"><use href="#arrC" transform="translate(-3.5 1.5)" fill="#2a2a2a" opacity="0.55" filter="url(#blur2)"/><use href="#arrC" fill="#fff"/></g><polygon points="982.4,729.6 1000.4,740 1000.4,760.9 982.4,771.3 964.3,760.9 964.3,740" fill="#b9b9bd" stroke="#707070" stroke-width="0.8"/><g transform="translate(982.4 750.5) rotate(0)"><use href="#arrC" transform="translate(-3.5 1.5)" fill="#2a2a2a" opacity="0.55" filter="url(#blur2)"/><use href="#arrC" fill="#fff"/></g><polygon points="1030.6,730.4 1048.6,740.8 1048.6,761.7 1030.6,772.1 1012.5,761.7 1012.5,740.8" fill="#a33548"/><polygon points="1078.8,731.2 1096.8,741.6 1096.8,762.4 1078.8,772.8 1060.7,762.4 1060.7,741.6" fill="#b9b9bd" stroke="#707070" stroke-width="0.8"/><g transform="translate(1078.8 752) rotate(180)"><use href="#arrC" transform="translate(-3.5 1.5)" fill="#2a2a2a" opacity="0.55" filter="url(#blur2)"/><use href="#arrC" fill="#fff"/></g><polygon points="1126.9,732 1144.9,742.4 1144.9,763.2 1126.9,773.6 1108.9,763.2 1108.9,742.4" fill="#b9b9bd" stroke="#707070" stroke-width="0.8"/><g transform="translate(1126.9 752.8) rotate(180)"><use href="#arrC" transform="translate(-3.5 1.5)" fill="#2a2a2a" opacity="0.55" filter="url(#blur2)"/><use href="#arrC" fill="#fff"/></g><polygon points="1174.9,732.7 1192.9,743.1 1192.9,763.9 1174.9,774.3 1156.9,763.9 1156.9,743.1" fill="#b9b9bd" stroke="#707070" stroke-width="0.8"/><g transform="translate(1174.9 753.5) rotate(180)"><use href="#arrC" transform="translate(-3.5 1.5)" fill="#2a2a2a" opacity="0.55" filter="url(#blur2)"/><use href="#arrC" fill="#fff"/></g><polygon points="1222.9,733.5 1240.8,743.8 1240.8,764.6 1222.9,774.9 1204.9,764.6 1204.9,743.8" fill="#b9b9bd" stroke="#707070" stroke-width="0.8"/><g transform="translate(1222.9 754.2) rotate(180)"><use href="#arrC" transform="translate(-3.5 1.5)" fill="#2a2a2a" opacity="0.55" filter="url(#blur2)"/><use href="#arrC" fill="#fff"/></g><polygon points="1270.8,734.2 1288.7,744.6 1288.7,765.3 1270.8,775.6 1252.9,765.3 1252.9,744.6" fill="#b9b9bd" stroke="#707070" stroke-width="0.8"/><g transform="translate(1270.8 754.9) rotate(180)"><use href="#arrC" transform="translate(-3.5 1.5)" fill="#2a2a2a" opacity="0.55" filter="url(#blur2)"/><use href="#arrC" fill="#fff"/></g><polygon points="764.8,768.2 782.9,778.7 782.9,799.6 764.8,810.1 746.6,799.6 746.6,778.7" fill="#b9b9bd" stroke="#707070" stroke-width="0.8"/><g transform="translate(764.8 789.2) rotate(0)"><use href="#arrC" transform="translate(-3.5 1.5)" fill="#2a2a2a" opacity="0.55" filter="url(#blur2)"/><use href="#arrC" fill="#fff"/></g><polygon points="813.2,769.1 831.3,779.5 831.3,800.4 813.2,810.9 795.1,800.4 795.1,779.5" fill="#b9b9bd" stroke="#707070" stroke-width="0.8"/><g transform="translate(813.2 790) rotate(0)"><use href="#arrC" transform="translate(-3.5 1.5)" fill="#2a2a2a" opacity="0.55" filter="url(#blur2)"/><use href="#arrC" fill="#fff"/></g><polygon points="861.5,769.9 879.6,780.3 879.6,801.2 861.5,811.7 843.4,801.2 843.4,780.3" fill="#b9b9bd" stroke="#707070" stroke-width="0.8"/><g transform="translate(861.5 790.8) rotate(0)"><use href="#arrC" transform="translate(-3.5 1.5)" fill="#2a2a2a" opacity="0.55" filter="url(#blur2)"/><use href="#arrC" fill="#fff"/></g><polygon points="909.8,770.7 927.9,781.1 927.9,802 909.8,812.4 891.7,802 891.7,781.1" fill="#b9b9bd" stroke="#707070" stroke-width="0.8"/><g transform="translate(909.8 791.6) rotate(0)"><use href="#arrC" transform="translate(-3.5 1.5)" fill="#2a2a2a" opacity="0.55" filter="url(#blur2)"/><use href="#arrC" fill="#fff"/></g><polygon points="958,771.5 976.1,781.9 976.1,802.8 958,813.2 940,802.8 940,781.9" fill="#b9b9bd" stroke="#707070" stroke-width="0.8"/><g transform="translate(958 792.4) rotate(0)"><use href="#arrC" transform="translate(-3.5 1.5)" fill="#2a2a2a" opacity="0.55" filter="url(#blur2)"/><use href="#arrC" fill="#fff"/></g><polygon points="1006.2,772.3 1024.2,782.7 1024.2,803.5 1006.2,813.9 988.2,803.5 988.2,782.7" fill="#b9b9bd" stroke="#707070" stroke-width="0.8"/><g transform="translate(1006.2 793.1) rotate(0)"><use href="#arrC" transform="translate(-3.5 1.5)" fill="#2a2a2a" opacity="0.55" filter="url(#blur2)"/><use href="#arrC" fill="#fff"/></g><polygon points="1054.3,773.1 1072.3,783.5 1072.3,804.2 1054.3,814.6 1036.3,804.2 1036.3,783.5" fill="#a33548"/><polygon points="1102.3,773.8 1120.3,784.2 1120.3,804.9 1102.3,815.3 1084.3,804.9 1084.3,784.2" fill="#b9b9bd" stroke="#707070" stroke-width="0.8"/><g transform="translate(1102.3 794.6) rotate(180)"><use href="#arrC" transform="translate(-3.5 1.5)" fill="#2a2a2a" opacity="0.55" filter="url(#blur2)"/><use href="#arrC" fill="#fff"/></g><polygon points="1150.3,774.5 1168.2,784.9 1168.2,805.6 1150.3,816 1132.3,805.6 1132.3,784.9" fill="#b9b9bd" stroke="#707070" stroke-width="0.8"/><g transform="translate(1150.3 795.3) rotate(180)"><use href="#arrC" transform="translate(-3.5 1.5)" fill="#2a2a2a" opacity="0.55" filter="url(#blur2)"/><use href="#arrC" fill="#fff"/></g><polygon points="1198.2,775.3 1216.1,785.6 1216.1,806.3 1198.2,816.7 1180.3,806.3 1180.3,785.6" fill="#b9b9bd" stroke="#707070" stroke-width="0.8"/><g transform="translate(1198.2 796) rotate(180)"><use href="#arrC" transform="translate(-3.5 1.5)" fill="#2a2a2a" opacity="0.55" filter="url(#blur2)"/><use href="#arrC" fill="#fff"/></g><polygon points="1246,775.9 1263.9,786.3 1263.9,807 1246,817.3 1228.1,807 1228.1,786.3" fill="#b9b9bd" stroke="#707070" stroke-width="0.8"/><g transform="translate(1246 796.6) rotate(180)"><use href="#arrC" transform="translate(-3.5 1.5)" fill="#2a2a2a" opacity="0.55" filter="url(#blur2)"/><use href="#arrC" fill="#fff"/></g><polygon points="1293.8,776.6 1311.7,786.9 1311.7,807.6 1293.8,817.9 1275.9,807.6 1275.9,786.9" fill="#b9b9bd" stroke="#707070" stroke-width="0.8"/><g transform="translate(1293.8 797.3) rotate(180)"><use href="#arrC" transform="translate(-3.5 1.5)" fill="#2a2a2a" opacity="0.55" filter="url(#blur2)"/><use href="#arrC" fill="#fff"/></g><polygon points="789.1,810.9 807.2,821.4 807.2,842.3 789.1,852.7 771.1,842.3 771.1,821.4" fill="#b9b9bd" stroke="#707070" stroke-width="0.8"/><g transform="translate(789.1 831.8) rotate(0)"><use href="#arrC" transform="translate(-3.5 1.5)" fill="#2a2a2a" opacity="0.55" filter="url(#blur2)"/><use href="#arrC" fill="#fff"/></g><polygon points="837.4,811.7 855.5,822.2 855.5,843 837.4,853.5 819.4,843 819.4,822.2" fill="#b9b9bd" stroke="#707070" stroke-width="0.8"/><g transform="translate(837.4 832.6) rotate(0)"><use href="#arrC" transform="translate(-3.5 1.5)" fill="#2a2a2a" opacity="0.55" filter="url(#blur2)"/><use href="#arrC" fill="#fff"/></g><polygon points="885.6,812.5 903.7,823 903.7,843.8 885.6,854.2 867.6,843.8 867.6,823" fill="#b9b9bd" stroke="#707070" stroke-width="0.8"/><g transform="translate(885.6 833.4) rotate(0)"><use href="#arrC" transform="translate(-3.5 1.5)" fill="#2a2a2a" opacity="0.55" filter="url(#blur2)"/><use href="#arrC" fill="#fff"/></g><polygon points="933.8,813.3 951.8,823.7 951.8,844.5 933.8,854.9 915.8,844.5 915.8,823.7" fill="#b9b9bd" stroke="#707070" stroke-width="0.8"/><g transform="translate(933.8 834.1) rotate(0)"><use href="#arrC" transform="translate(-3.5 1.5)" fill="#2a2a2a" opacity="0.55" filter="url(#blur2)"/><use href="#arrC" fill="#fff"/></g><polygon points="981.9,814.1 999.9,824.5 999.9,845.2 981.9,855.6 963.9,845.2 963.9,824.5" fill="#b9b9bd" stroke="#707070" stroke-width="0.8"/><g transform="translate(981.9 834.8) rotate(0)"><use href="#arrC" transform="translate(-3.5 1.5)" fill="#2a2a2a" opacity="0.55" filter="url(#blur2)"/><use href="#arrC" fill="#fff"/></g><polygon points="1029.9,814.8 1047.9,825.2 1047.9,845.9 1029.9,856.3 1011.9,845.9 1011.9,825.2" fill="#a33548"/><polygon points="1077.8,815.5 1095.8,825.9 1095.8,846.6 1077.8,857 1059.9,846.6 1059.9,825.9" fill="#b9b9bd" stroke="#707070" stroke-width="0.8"/><g transform="translate(1077.8 836.2) rotate(180)"><use href="#arrC" transform="translate(-3.5 1.5)" fill="#2a2a2a" opacity="0.55" filter="url(#blur2)"/><use href="#arrC" fill="#fff"/></g><polygon points="1125.7,816.2 1143.7,826.6 1143.7,847.3 1125.7,857.6 1107.8,847.3 1107.8,826.6" fill="#b9b9bd" stroke="#707070" stroke-width="0.8"/><g transform="translate(1125.7 836.9) rotate(180)"><use href="#arrC" transform="translate(-3.5 1.5)" fill="#2a2a2a" opacity="0.55" filter="url(#blur2)"/><use href="#arrC" fill="#fff"/></g><polygon points="1173.6,816.9 1191.5,827.2 1191.5,847.9 1173.6,858.2 1155.7,847.9 1155.7,827.2" fill="#b9b9bd" stroke="#707070" stroke-width="0.8"/><g transform="translate(1173.6 837.6) rotate(180)"><use href="#arrC" transform="translate(-3.5 1.5)" fill="#2a2a2a" opacity="0.55" filter="url(#blur2)"/><use href="#arrC" fill="#fff"/></g><polygon points="1221.3,817.6 1239.2,827.9 1239.2,848.5 1221.3,858.9 1203.5,848.5 1203.5,827.9" fill="#b9b9bd" stroke="#707070" stroke-width="0.8"/><g transform="translate(1221.3 838.2) rotate(180)"><use href="#arrC" transform="translate(-3.5 1.5)" fill="#2a2a2a" opacity="0.55" filter="url(#blur2)"/><use href="#arrC" fill="#fff"/></g><polygon points="1269.1,818.2 1286.9,828.5 1286.9,849.1 1269.1,859.4 1251.2,849.1 1251.2,828.5" fill="#b9b9bd" stroke="#707070" stroke-width="0.8"/><g transform="translate(1269.1 838.8) rotate(180)"><use href="#arrC" transform="translate(-3.5 1.5)" fill="#2a2a2a" opacity="0.55" filter="url(#blur2)"/><use href="#arrC" fill="#fff"/></g><polygon points="765.2,852.7 783.3,863.1 783.3,884 765.2,894.4 747.1,884 747.1,863.1" fill="#b9b9bd" stroke="#707070" stroke-width="0.8"/><g transform="translate(765.2 873.6) rotate(0)"><use href="#arrC" transform="translate(-3.5 1.5)" fill="#2a2a2a" opacity="0.55" filter="url(#blur2)"/><use href="#arrC" fill="#fff"/></g><polygon points="813.4,853.5 831.4,863.9 831.4,884.7 813.4,895.1 795.4,884.7 795.4,863.9" fill="#b9b9bd" stroke="#707070" stroke-width="0.8"/><g transform="translate(813.4 874.3) rotate(0)"><use href="#arrC" transform="translate(-3.5 1.5)" fill="#2a2a2a" opacity="0.55" filter="url(#blur2)"/><use href="#arrC" fill="#fff"/></g><polygon points="861.5,854.2 879.6,864.6 879.6,885.4 861.5,895.8 843.5,885.4 843.5,864.6" fill="#b9b9bd" stroke="#707070" stroke-width="0.8"/><g transform="translate(861.5 875) rotate(0)"><use href="#arrC" transform="translate(-3.5 1.5)" fill="#2a2a2a" opacity="0.55" filter="url(#blur2)"/><use href="#arrC" fill="#fff"/></g><polygon points="909.6,855 927.6,865.4 927.6,886.1 909.6,896.5 891.6,886.1 891.6,865.4" fill="#b9b9bd" stroke="#707070" stroke-width="0.8"/><g transform="translate(909.6 875.7) rotate(0)"><use href="#arrC" transform="translate(-3.5 1.5)" fill="#2a2a2a" opacity="0.55" filter="url(#blur2)"/><use href="#arrC" fill="#fff"/></g><polygon points="957.6,855.7 975.6,866.1 975.6,886.8 957.6,897.2 939.7,886.8 939.7,866.1" fill="#b9b9bd" stroke="#707070" stroke-width="0.8"/><g transform="translate(957.6 876.4) rotate(0)"><use href="#arrC" transform="translate(-3.5 1.5)" fill="#2a2a2a" opacity="0.55" filter="url(#blur2)"/><use href="#arrC" fill="#fff"/></g><polygon points="1005.6,856.4 1023.5,866.8 1023.5,887.5 1005.6,897.8 987.6,887.5 987.6,866.8" fill="#b9b9bd" stroke="#707070" stroke-width="0.8"/><g transform="translate(1005.6 877.1) rotate(0)"><use href="#arrC" transform="translate(-3.5 1.5)" fill="#2a2a2a" opacity="0.55" filter="url(#blur2)"/><use href="#arrC" fill="#fff"/></g><polygon points="1053.5,857.1 1071.4,867.4 1071.4,888.1 1053.5,898.5 1035.5,888.1 1035.5,867.4" fill="#a33548"/><polygon points="1101.3,857.8 1119.2,868.1 1119.2,888.8 1101.3,899.1 1083.4,888.8 1083.4,868.1" fill="#b9b9bd" stroke="#707070" stroke-width="0.8"/><g transform="translate(1101.3 878.4) rotate(180)"><use href="#arrC" transform="translate(-3.5 1.5)" fill="#2a2a2a" opacity="0.55" filter="url(#blur2)"/><use href="#arrC" fill="#fff"/></g><polygon points="1149,858.4 1166.9,868.7 1166.9,889.4 1149,899.7 1131.2,889.4 1131.2,868.7" fill="#b9b9bd" stroke="#707070" stroke-width="0.8"/><g transform="translate(1149 879.1) rotate(180)"><use href="#arrC" transform="translate(-3.5 1.5)" fill="#2a2a2a" opacity="0.55" filter="url(#blur2)"/><use href="#arrC" fill="#fff"/></g><polygon points="1196.7,859.1 1214.6,869.4 1214.6,890 1196.7,900.3 1178.9,890 1178.9,869.4" fill="#b9b9bd" stroke="#707070" stroke-width="0.8"/><g transform="translate(1196.7 879.7) rotate(180)"><use href="#arrC" transform="translate(-3.5 1.5)" fill="#2a2a2a" opacity="0.55" filter="url(#blur2)"/><use href="#arrC" fill="#fff"/></g><polygon points="1244.4,859.7 1262.2,870 1262.2,890.5 1244.4,900.8 1226.5,890.5 1226.5,870" fill="#b9b9bd" stroke="#707070" stroke-width="0.8"/><g transform="translate(1244.4 880.3) rotate(180)"><use href="#arrC" transform="translate(-3.5 1.5)" fill="#2a2a2a" opacity="0.55" filter="url(#blur2)"/><use href="#arrC" fill="#fff"/></g><polygon points="1291.9,860.3 1309.8,870.6 1309.8,891.1 1291.9,901.4 1274.1,891.1 1274.1,870.6" fill="#b9b9bd" stroke="#707070" stroke-width="0.8"/><g transform="translate(1291.9 880.8) rotate(180)"><use href="#arrC" transform="translate(-3.5 1.5)" fill="#2a2a2a" opacity="0.55" filter="url(#blur2)"/><use href="#arrC" fill="#fff"/></g><polygon points="789.5,895.1 807.5,905.5 807.5,926.3 789.5,936.7 771.5,926.3 771.5,905.5" fill="#b9b9bd" stroke="#707070" stroke-width="0.8"/><g transform="translate(789.5 915.9) rotate(0)"><use href="#arrC" transform="translate(-3.5 1.5)" fill="#2a2a2a" opacity="0.55" filter="url(#blur2)"/><use href="#arrC" fill="#fff"/></g><polygon points="837.5,895.8 855.5,906.2 855.5,927 837.5,937.3 819.5,927 819.5,906.2" fill="#b9b9bd" stroke="#707070" stroke-width="0.8"/><g transform="translate(837.5 916.6) rotate(0)"><use href="#arrC" transform="translate(-3.5 1.5)" fill="#2a2a2a" opacity="0.55" filter="url(#blur2)"/><use href="#arrC" fill="#fff"/></g><polygon points="885.5,896.5 903.5,906.9 903.5,927.6 885.5,938 867.6,927.6 867.6,906.9" fill="#b9b9bd" stroke="#707070" stroke-width="0.8"/><g transform="translate(885.5 917.3) rotate(0)"><use href="#arrC" transform="translate(-3.5 1.5)" fill="#2a2a2a" opacity="0.55" filter="url(#blur2)"/><use href="#arrC" fill="#fff"/></g><polygon points="933.5,897.2 951.4,907.6 951.4,928.3 933.5,938.6 915.5,928.3 915.5,907.6" fill="#b9b9bd" stroke="#707070" stroke-width="0.8"/><g transform="translate(933.5 917.9) rotate(0)"><use href="#arrC" transform="translate(-3.5 1.5)" fill="#2a2a2a" opacity="0.55" filter="url(#blur2)"/><use href="#arrC" fill="#fff"/></g><polygon points="981.3,897.9 999.3,908.2 999.3,928.9 981.3,939.3 963.4,928.9 963.4,908.2" fill="#b9b9bd" stroke="#707070" stroke-width="0.8"/><g transform="translate(981.3 918.6) rotate(0)"><use href="#arrC" transform="translate(-3.5 1.5)" fill="#2a2a2a" opacity="0.55" filter="url(#blur2)"/><use href="#arrC" fill="#fff"/></g><polygon points="1029.2,898.5 1047.1,908.9 1047.1,929.5 1029.2,939.9 1011.3,929.5 1011.3,908.9" fill="#a33548"/><polygon points="1076.9,899.2 1094.8,909.5 1094.8,930.1 1076.9,940.5 1059,930.1 1059,909.5" fill="#b9b9bd" stroke="#707070" stroke-width="0.8"/><g transform="translate(1076.9 919.8) rotate(180)"><use href="#arrC" transform="translate(-3.5 1.5)" fill="#2a2a2a" opacity="0.55" filter="url(#blur2)"/><use href="#arrC" fill="#fff"/></g><polygon points="1124.6,899.8 1142.4,910.1 1142.4,930.7 1124.6,941 1106.8,930.7 1106.8,910.1" fill="#b9b9bd" stroke="#707070" stroke-width="0.8"/><g transform="translate(1124.6 920.4) rotate(180)"><use href="#arrC" transform="translate(-3.5 1.5)" fill="#2a2a2a" opacity="0.55" filter="url(#blur2)"/><use href="#arrC" fill="#fff"/></g><polygon points="1172.2,900.4 1190,910.7 1190,931.3 1172.2,941.6 1154.4,931.3 1154.4,910.7" fill="#b9b9bd" stroke="#707070" stroke-width="0.8"/><g transform="translate(1172.2 921) rotate(180)"><use href="#arrC" transform="translate(-3.5 1.5)" fill="#2a2a2a" opacity="0.55" filter="url(#blur2)"/><use href="#arrC" fill="#fff"/></g><polygon points="1219.8,901 1237.6,911.3 1237.6,931.8 1219.8,942.1 1202,931.8 1202,911.3" fill="#b9b9bd" stroke="#707070" stroke-width="0.8"/><g transform="translate(1219.8 921.6) rotate(180)"><use href="#arrC" transform="translate(-3.5 1.5)" fill="#2a2a2a" opacity="0.55" filter="url(#blur2)"/><use href="#arrC" fill="#fff"/></g><polygon points="1267.3,901.6 1285.1,911.8 1285.1,932.4 1267.3,942.6 1249.5,932.4 1249.5,911.8" fill="#b9b9bd" stroke="#707070" stroke-width="0.8"/><g transform="translate(1267.3 922.1) rotate(180)"><use href="#arrC" transform="translate(-3.5 1.5)" fill="#2a2a2a" opacity="0.55" filter="url(#blur2)"/><use href="#arrC" fill="#fff"/></g><polygon points="765.6,936.5 783.6,946.9 783.6,967.7 765.6,978.1 747.6,967.7 747.6,946.9" fill="#b9b9bd" stroke="#707070" stroke-width="0.8"/><g transform="translate(765.6 957.3) rotate(0)"><use href="#arrC" transform="translate(-3.5 1.5)" fill="#2a2a2a" opacity="0.55" filter="url(#blur2)"/><use href="#arrC" fill="#fff"/></g><polygon points="813.6,937.2 831.6,947.6 831.6,968.3 813.6,978.7 795.6,968.3 795.6,947.6" fill="#b9b9bd" stroke="#707070" stroke-width="0.8"/><g transform="translate(813.6 958) rotate(0)"><use href="#arrC" transform="translate(-3.5 1.5)" fill="#2a2a2a" opacity="0.55" filter="url(#blur2)"/><use href="#arrC" fill="#fff"/></g><polygon points="861.5,937.9 879.5,948.3 879.5,969 861.5,979.3 843.6,969 843.6,948.3" fill="#b9b9bd" stroke="#707070" stroke-width="0.8"/><g transform="translate(861.5 958.6) rotate(0)"><use href="#arrC" transform="translate(-3.5 1.5)" fill="#2a2a2a" opacity="0.55" filter="url(#blur2)"/><use href="#arrC" fill="#fff"/></g><polygon points="909.4,938.6 927.3,948.9 927.3,969.6 909.4,979.9 891.5,969.6 891.5,948.9" fill="#b9b9bd" stroke="#707070" stroke-width="0.8"/><g transform="translate(909.4 959.3) rotate(0)"><use href="#arrC" transform="translate(-3.5 1.5)" fill="#2a2a2a" opacity="0.55" filter="url(#blur2)"/><use href="#arrC" fill="#fff"/></g><polygon points="957.2,939.2 975.1,949.6 975.1,970.2 957.2,980.5 939.3,970.2 939.3,949.6" fill="#b9b9bd" stroke="#707070" stroke-width="0.8"/><g transform="translate(957.2 959.9) rotate(0)"><use href="#arrC" transform="translate(-3.5 1.5)" fill="#2a2a2a" opacity="0.55" filter="url(#blur2)"/><use href="#arrC" fill="#fff"/></g><polygon points="1004.9,939.9 1022.8,950.2 1022.8,970.8 1004.9,981.1 987.1,970.8 987.1,950.2" fill="#b9b9bd" stroke="#707070" stroke-width="0.8"/><g transform="translate(1004.9 960.5) rotate(0)"><use href="#arrC" transform="translate(-3.5 1.5)" fill="#2a2a2a" opacity="0.55" filter="url(#blur2)"/><use href="#arrC" fill="#fff"/></g><polygon points="1052.6,940.5 1070.5,950.8 1070.5,971.4 1052.6,981.7 1034.8,971.4 1034.8,950.8" fill="#a33548"/><polygon points="1100.2,941.1 1118.1,951.4 1118.1,971.9 1100.2,982.2 1082.4,971.9 1082.4,951.4" fill="#b9b9bd" stroke="#707070" stroke-width="0.8"/><g transform="translate(1100.2 961.6) rotate(180)"><use href="#arrC" transform="translate(-3.5 1.5)" fill="#2a2a2a" opacity="0.55" filter="url(#blur2)"/><use href="#arrC" fill="#fff"/></g><polygon points="1147.8,941.6 1165.6,951.9 1165.6,972.5 1147.8,982.7 1130,972.5 1130,951.9" fill="#b9b9bd" stroke="#707070" stroke-width="0.8"/><g transform="translate(1147.8 962.2) rotate(180)"><use href="#arrC" transform="translate(-3.5 1.5)" fill="#2a2a2a" opacity="0.55" filter="url(#blur2)"/><use href="#arrC" fill="#fff"/></g><polygon points="1195.3,942.2 1213.1,952.5 1213.1,973 1195.3,983.2 1177.5,973 1177.5,952.5" fill="#b9b9bd" stroke="#707070" stroke-width="0.8"/><g transform="translate(1195.3 962.7) rotate(180)"><use href="#arrC" transform="translate(-3.5 1.5)" fill="#2a2a2a" opacity="0.55" filter="url(#blur2)"/><use href="#arrC" fill="#fff"/></g><polygon points="1242.7,942.7 1260.5,953 1260.5,973.5 1242.7,983.7 1225,973.5 1225,953" fill="#b9b9bd" stroke="#707070" stroke-width="0.8"/><g transform="translate(1242.7 963.2) rotate(180)"><use href="#arrC" transform="translate(-3.5 1.5)" fill="#2a2a2a" opacity="0.55" filter="url(#blur2)"/><use href="#arrC" fill="#fff"/></g><polygon points="1290.1,943.3 1307.8,953.5 1307.8,974 1290.1,984.2 1272.3,974 1272.3,953.5" fill="#b9b9bd" stroke="#707070" stroke-width="0.8"/><g transform="translate(1290.1 963.7) rotate(180)"><use href="#arrC" transform="translate(-3.5 1.5)" fill="#2a2a2a" opacity="0.55" filter="url(#blur2)"/><use href="#arrC" fill="#fff"/></g><polygon points="789.8,978.5 807.7,988.9 807.7,1009.6 789.8,1020 771.8,1009.6 771.8,988.9" fill="#b9b9bd" stroke="#707070" stroke-width="0.8"/><g transform="translate(789.8 999.2) rotate(0)"><use href="#arrC" transform="translate(-3.5 1.5)" fill="#2a2a2a" opacity="0.55" filter="url(#blur2)"/><use href="#arrC" fill="#fff"/></g><polygon points="837.6,979.2 855.5,989.5 855.5,1010.2 837.6,1020.6 819.7,1010.2 819.7,989.5" fill="#b9b9bd" stroke="#707070" stroke-width="0.8"/><g transform="translate(837.6 999.9) rotate(0)"><use href="#arrC" transform="translate(-3.5 1.5)" fill="#2a2a2a" opacity="0.55" filter="url(#blur2)"/><use href="#arrC" fill="#fff"/></g><polygon points="885.4,979.8 903.3,990.2 903.3,1010.8 885.4,1021.1 867.5,1010.8 867.5,990.2" fill="#b9b9bd" stroke="#707070" stroke-width="0.8"/><g transform="translate(885.4 1000.5) rotate(0)"><use href="#arrC" transform="translate(-3.5 1.5)" fill="#2a2a2a" opacity="0.55" filter="url(#blur2)"/><use href="#arrC" fill="#fff"/></g><polygon points="933.1,980.4 951,990.8 951,1011.4 933.1,1021.7 915.3,1011.4 915.3,990.8" fill="#b9b9bd" stroke="#707070" stroke-width="0.8"/><g transform="translate(933.1 1001.1) rotate(0)"><use href="#arrC" transform="translate(-3.5 1.5)" fill="#2a2a2a" opacity="0.55" filter="url(#blur2)"/><use href="#arrC" fill="#fff"/></g><polygon points="980.8,981 998.7,991.3 998.7,1011.9 980.8,1022.2 963,1011.9 963,991.3" fill="#b9b9bd" stroke="#707070" stroke-width="0.8"/><g transform="translate(980.8 1001.6) rotate(0)"><use href="#arrC" transform="translate(-3.5 1.5)" fill="#2a2a2a" opacity="0.55" filter="url(#blur2)"/><use href="#arrC" fill="#fff"/></g><polygon points="1028.4,981.6 1046.2,991.9 1046.2,1012.5 1028.4,1022.8 1010.6,1012.5 1010.6,991.9" fill="#a33548"/><polygon points="1076,982.2 1093.8,992.5 1093.8,1013 1076,1023.3 1058.2,1013 1058.2,992.5" fill="#b9b9bd" stroke="#707070" stroke-width="0.8"/><g transform="translate(1076 1002.7) rotate(180)"><use href="#arrC" transform="translate(-3.5 1.5)" fill="#2a2a2a" opacity="0.55" filter="url(#blur2)"/><use href="#arrC" fill="#fff"/></g><polygon points="1123.4,982.7 1141.2,993 1141.2,1013.5 1123.4,1023.8 1105.7,1013.5 1105.7,993" fill="#b9b9bd" stroke="#707070" stroke-width="0.8"/><g transform="translate(1123.4 1003.3) rotate(180)"><use href="#arrC" transform="translate(-3.5 1.5)" fill="#2a2a2a" opacity="0.55" filter="url(#blur2)"/><use href="#arrC" fill="#fff"/></g><polygon points="1170.9,983.3 1188.6,993.5 1188.6,1014 1170.9,1024.3 1153.1,1014 1153.1,993.5" fill="#b9b9bd" stroke="#707070" stroke-width="0.8"/><g transform="translate(1170.9 1003.8) rotate(180)"><use href="#arrC" transform="translate(-3.5 1.5)" fill="#2a2a2a" opacity="0.55" filter="url(#blur2)"/><use href="#arrC" fill="#fff"/></g><polygon points="1218.2,983.8 1235.9,994 1235.9,1014.5 1218.2,1024.7 1200.5,1014.5 1200.5,994" fill="#b9b9bd" stroke="#707070" stroke-width="0.8"/><g transform="translate(1218.2 1004.2) rotate(180)"><use href="#arrC" transform="translate(-3.5 1.5)" fill="#2a2a2a" opacity="0.55" filter="url(#blur2)"/><use href="#arrC" fill="#fff"/></g><polygon points="1265.5,984.3 1283.2,994.5 1283.2,1014.9 1265.5,1025.2 1247.8,1014.9 1247.8,994.5" fill="#b9b9bd" stroke="#707070" stroke-width="0.8"/><g transform="translate(1265.5 1004.7) rotate(180)"><use href="#arrC" transform="translate(-3.5 1.5)" fill="#2a2a2a" opacity="0.55" filter="url(#blur2)"/><use href="#arrC" fill="#fff"/></g><polygon points="766,1019.7 783.9,1030.1 783.9,1050.7 766,1061.1 748.1,1050.7 748.1,1030.1" fill="#b9b9bd" stroke="#707070" stroke-width="0.8"/><g transform="translate(766 1040.4) rotate(0)"><use href="#arrC" transform="translate(-3.5 1.5)" fill="#2a2a2a" opacity="0.55" filter="url(#blur2)"/><use href="#arrC" fill="#fff"/></g><polygon points="813.8,1020.3 831.7,1030.7 831.7,1051.3 813.8,1061.6 795.9,1051.3 795.9,1030.7" fill="#b9b9bd" stroke="#707070" stroke-width="0.8"/><g transform="translate(813.8 1041) rotate(0)"><use href="#arrC" transform="translate(-3.5 1.5)" fill="#2a2a2a" opacity="0.55" filter="url(#blur2)"/><use href="#arrC" fill="#fff"/></g><polygon points="861.5,1020.9 879.4,1031.3 879.4,1051.9 861.5,1062.2 843.7,1051.9 843.7,1031.3" fill="#b9b9bd" stroke="#707070" stroke-width="0.8"/><g transform="translate(861.5 1041.6) rotate(0)"><use href="#arrC" transform="translate(-3.5 1.5)" fill="#2a2a2a" opacity="0.55" filter="url(#blur2)"/><use href="#arrC" fill="#fff"/></g><polygon points="909.2,1021.5 927,1031.8 927,1052.4 909.2,1062.7 891.3,1052.4 891.3,1031.8" fill="#b9b9bd" stroke="#707070" stroke-width="0.8"/><g transform="translate(909.2 1042.1) rotate(0)"><use href="#arrC" transform="translate(-3.5 1.5)" fill="#2a2a2a" opacity="0.55" filter="url(#blur2)"/><use href="#arrC" fill="#fff"/></g><polygon points="956.8,1022.1 974.6,1032.4 974.6,1053 956.8,1063.2 939,1053 939,1032.4" fill="#b9b9bd" stroke="#707070" stroke-width="0.8"/><g transform="translate(956.8 1042.7) rotate(0)"><use href="#arrC" transform="translate(-3.5 1.5)" fill="#2a2a2a" opacity="0.55" filter="url(#blur2)"/><use href="#arrC" fill="#fff"/></g><polygon points="1004.3,1022.7 1022.1,1032.9 1022.1,1053.5 1004.3,1063.7 986.5,1053.5 986.5,1032.9" fill="#b9b9bd" stroke="#707070" stroke-width="0.8"/><g transform="translate(1004.3 1043.2) rotate(0)"><use href="#arrC" transform="translate(-3.5 1.5)" fill="#2a2a2a" opacity="0.55" filter="url(#blur2)"/><use href="#arrC" fill="#fff"/></g><polygon points="1051.8,1023.2 1069.5,1033.5 1069.5,1054 1051.8,1064.2 1034,1054 1034,1033.5" fill="#a33548"/><polygon points="1099.2,1023.7 1116.9,1034 1116.9,1054.4 1099.2,1064.7 1081.4,1054.4 1081.4,1034" fill="#b9b9bd" stroke="#707070" stroke-width="0.8"/><g transform="translate(1099.2 1044.2) rotate(180)"><use href="#arrC" transform="translate(-3.5 1.5)" fill="#2a2a2a" opacity="0.55" filter="url(#blur2)"/><use href="#arrC" fill="#fff"/></g><polygon points="1146.5,1024.2 1164.2,1034.4 1164.2,1054.9 1146.5,1065.1 1128.8,1054.9 1128.8,1034.4" fill="#b9b9bd" stroke="#707070" stroke-width="0.8"/><g transform="translate(1146.5 1044.7) rotate(180)"><use href="#arrC" transform="translate(-3.5 1.5)" fill="#2a2a2a" opacity="0.55" filter="url(#blur2)"/><use href="#arrC" fill="#fff"/></g><polygon points="1193.8,1024.7 1211.5,1034.9 1211.5,1055.3 1193.8,1065.6 1176.1,1055.3 1176.1,1034.9" fill="#b9b9bd" stroke="#707070" stroke-width="0.8"/><g transform="translate(1193.8 1045.1) rotate(180)"><use href="#arrC" transform="translate(-3.5 1.5)" fill="#2a2a2a" opacity="0.55" filter="url(#blur2)"/><use href="#arrC" fill="#fff"/></g><polygon points="1241,1025.2 1258.7,1035.4 1258.7,1055.8 1241,1066 1223.4,1055.8 1223.4,1035.4" fill="#b9b9bd" stroke="#707070" stroke-width="0.8"/><g transform="translate(1241 1045.6) rotate(180)"><use href="#arrC" transform="translate(-3.5 1.5)" fill="#2a2a2a" opacity="0.55" filter="url(#blur2)"/><use href="#arrC" fill="#fff"/></g><polygon points="1288.2,1025.6 1305.8,1035.8 1305.8,1056.2 1288.2,1066.4 1270.5,1056.2 1270.5,1035.8" fill="#a33548"/><polygon points="790.1,1061.4 807.9,1071.7 807.9,1092.3 790.1,1102.6 772.2,1092.3 772.2,1071.7" fill="#b9b9bd" stroke="#707070" stroke-width="0.8"/><g transform="translate(790.1 1082) rotate(0)"><use href="#arrC" transform="translate(-3.5 1.5)" fill="#2a2a2a" opacity="0.55" filter="url(#blur2)"/><use href="#arrC" fill="#fff"/></g><polygon points="837.7,1061.9 855.5,1072.2 855.5,1092.8 837.7,1103.1 819.9,1092.8 819.9,1072.2" fill="#b9b9bd" stroke="#707070" stroke-width="0.8"/><g transform="translate(837.7 1082.5) rotate(0)"><use href="#arrC" transform="translate(-3.5 1.5)" fill="#2a2a2a" opacity="0.55" filter="url(#blur2)"/><use href="#arrC" fill="#fff"/></g><polygon points="885.3,1062.5 903.1,1072.8 903.1,1093.3 885.3,1103.6 867.5,1093.3 867.5,1072.8" fill="#b9b9bd" stroke="#707070" stroke-width="0.8"/><g transform="translate(885.3 1083.1) rotate(0)"><use href="#arrC" transform="translate(-3.5 1.5)" fill="#2a2a2a" opacity="0.55" filter="url(#blur2)"/><use href="#arrC" fill="#fff"/></g><polygon points="932.8,1063 950.6,1073.3 950.6,1093.8 932.8,1104.1 915,1093.8 915,1073.3" fill="#b9b9bd" stroke="#707070" stroke-width="0.8"/><g transform="translate(932.8 1083.6) rotate(0)"><use href="#arrC" transform="translate(-3.5 1.5)" fill="#2a2a2a" opacity="0.55" filter="url(#blur2)"/><use href="#arrC" fill="#fff"/></g><polygon points="980.3,1063.6 998,1073.8 998,1094.3 980.3,1104.6 962.5,1094.3 962.5,1073.8" fill="#b9b9bd" stroke="#707070" stroke-width="0.8"/><g transform="translate(980.3 1084.1) rotate(0)"><use href="#arrC" transform="translate(-3.5 1.5)" fill="#2a2a2a" opacity="0.55" filter="url(#blur2)"/><use href="#arrC" fill="#fff"/></g><polygon points="1027.7,1064.1 1045.4,1074.3 1045.4,1094.8 1027.7,1105 1009.9,1094.8 1009.9,1074.3" fill="#a33548"/><polygon points="1075,1064.6 1092.7,1074.8 1092.7,1095.2 1075,1105.5 1057.3,1095.2 1057.3,1074.8" fill="#b9b9bd" stroke="#707070" stroke-width="0.8"/><g transform="translate(1075 1085) rotate(180)"><use href="#arrC" transform="translate(-3.5 1.5)" fill="#2a2a2a" opacity="0.55" filter="url(#blur2)"/><use href="#arrC" fill="#fff"/></g><polygon points="1122.3,1065 1140,1075.2 1140,1095.7 1122.3,1105.9 1104.6,1095.7 1104.6,1075.2" fill="#b9b9bd" stroke="#707070" stroke-width="0.8"/><g transform="translate(1122.3 1085.5) rotate(180)"><use href="#arrC" transform="translate(-3.5 1.5)" fill="#2a2a2a" opacity="0.55" filter="url(#blur2)"/><use href="#arrC" fill="#fff"/></g><polygon points="1169.5,1065.5 1187.1,1075.7 1187.1,1096.1 1169.5,1106.3 1151.8,1096.1 1151.8,1075.7" fill="#b9b9bd" stroke="#707070" stroke-width="0.8"/><g transform="translate(1169.5 1085.9) rotate(180)"><use href="#arrC" transform="translate(-3.5 1.5)" fill="#2a2a2a" opacity="0.55" filter="url(#blur2)"/><use href="#arrC" fill="#fff"/></g><polygon points="1216.6,1065.9 1234.3,1076.1 1234.3,1096.5 1216.6,1106.7 1199,1096.5 1199,1076.1" fill="#b9b9bd" stroke="#707070" stroke-width="0.8"/><g transform="translate(1216.6 1086.3) rotate(180)"><use href="#arrC" transform="translate(-3.5 1.5)" fill="#2a2a2a" opacity="0.55" filter="url(#blur2)"/><use href="#arrC" fill="#fff"/></g><polygon points="1263.7,1066.3 1281.3,1076.5 1281.3,1096.9 1263.7,1107 1246.1,1096.9 1246.1,1076.5" fill="#b9b9bd" stroke="#707070" stroke-width="0.8"/><g transform="translate(1263.7 1086.7) rotate(180)"><use href="#arrC" transform="translate(-3.5 1.5)" fill="#2a2a2a" opacity="0.55" filter="url(#blur2)"/><use href="#arrC" fill="#fff"/></g><polygon points="766.4,1102.2 784.2,1112.5 784.2,1133.1 766.4,1143.4 748.6,1133.1 748.6,1112.5" fill="#b9b9bd" stroke="#707070" stroke-width="0.8"/><g transform="translate(766.4 1122.8) rotate(0)"><use href="#arrC" transform="translate(-3.5 1.5)" fill="#2a2a2a" opacity="0.55" filter="url(#blur2)"/><use href="#arrC" fill="#fff"/></g><polygon points="814,1102.8 831.8,1113.1 831.8,1133.6 814,1143.9 796.2,1133.6 796.2,1113.1" fill="#b9b9bd" stroke="#707070" stroke-width="0.8"/><g transform="translate(814 1123.4) rotate(0)"><use href="#arrC" transform="translate(-3.5 1.5)" fill="#2a2a2a" opacity="0.55" filter="url(#blur2)"/><use href="#arrC" fill="#fff"/></g><polygon points="861.5,1103.3 879.3,1113.6 879.3,1134.1 861.5,1144.4 843.7,1134.1 843.7,1113.6" fill="#b9b9bd" stroke="#707070" stroke-width="0.8"/><g transform="translate(861.5 1123.9) rotate(0)"><use href="#arrC" transform="translate(-3.5 1.5)" fill="#2a2a2a" opacity="0.55" filter="url(#blur2)"/><use href="#arrC" fill="#fff"/></g><polygon points="908.9,1103.8 926.7,1114.1 926.7,1134.6 908.9,1144.8 891.2,1134.6 891.2,1114.1" fill="#b9b9bd" stroke="#707070" stroke-width="0.8"/><g transform="translate(908.9 1124.3) rotate(0)"><use href="#arrC" transform="translate(-3.5 1.5)" fill="#2a2a2a" opacity="0.55" filter="url(#blur2)"/><use href="#arrC" fill="#fff"/></g><polygon points="956.3,1104.3 974.1,1114.6 974.1,1135 956.3,1145.3 938.6,1135 938.6,1114.6" fill="#b9b9bd" stroke="#707070" stroke-width="0.8"/><g transform="translate(956.3 1124.8) rotate(0)"><use href="#arrC" transform="translate(-3.5 1.5)" fill="#2a2a2a" opacity="0.55" filter="url(#blur2)"/><use href="#arrC" fill="#fff"/></g><polygon points="1003.6,1104.8 1021.4,1115 1021.4,1135.5 1003.6,1145.7 985.9,1135.5 985.9,1115" fill="#b9b9bd" stroke="#707070" stroke-width="0.8"/><g transform="translate(1003.6 1125.3) rotate(0)"><use href="#arrC" transform="translate(-3.5 1.5)" fill="#2a2a2a" opacity="0.55" filter="url(#blur2)"/><use href="#arrC" fill="#fff"/></g><polygon points="1050.9,1105.3 1068.6,1115.5 1068.6,1135.9 1050.9,1146.1 1033.2,1135.9 1033.2,1115.5" fill="#a33548"/><polygon points="1098.1,1105.7 1115.8,1115.9 1115.8,1136.3 1098.1,1146.5 1080.4,1136.3 1080.4,1115.9" fill="#b9b9bd" stroke="#707070" stroke-width="0.8"/><g transform="translate(1098.1 1126.1) rotate(180)"><use href="#arrC" transform="translate(-3.5 1.5)" fill="#2a2a2a" opacity="0.55" filter="url(#blur2)"/><use href="#arrC" fill="#fff"/></g><polygon points="1145.2,1106.1 1162.9,1116.3 1162.9,1136.7 1145.2,1146.9 1127.6,1136.7 1127.6,1116.3" fill="#b9b9bd" stroke="#707070" stroke-width="0.8"/><g transform="translate(1145.2 1126.5) rotate(180)"><use href="#arrC" transform="translate(-3.5 1.5)" fill="#2a2a2a" opacity="0.55" filter="url(#blur2)"/><use href="#arrC" fill="#fff"/></g><polygon points="1192.3,1106.5 1209.9,1116.7 1209.9,1137.1 1192.3,1147.2 1174.7,1137.1 1174.7,1116.7" fill="#b9b9bd" stroke="#707070" stroke-width="0.8"/><g transform="translate(1192.3 1126.9) rotate(180)"><use href="#arrC" transform="translate(-3.5 1.5)" fill="#2a2a2a" opacity="0.55" filter="url(#blur2)"/><use href="#arrC" fill="#fff"/></g><polygon points="1239.3,1106.9 1256.9,1117.1 1256.9,1137.4 1239.3,1147.6 1221.7,1137.4 1221.7,1117.1" fill="#b9b9bd" stroke="#707070" stroke-width="0.8"/><g transform="translate(1239.3 1127.2) rotate(180)"><use href="#arrC" transform="translate(-3.5 1.5)" fill="#2a2a2a" opacity="0.55" filter="url(#blur2)"/><use href="#arrC" fill="#fff"/></g><polygon points="1286.3,1107.3 1303.8,1117.4 1303.8,1137.7 1286.3,1147.9 1268.7,1137.7 1268.7,1117.4" fill="#b9b9bd" stroke="#707070" stroke-width="0.8"/><g transform="translate(1286.3 1127.6) rotate(180)"><use href="#arrC" transform="translate(-3.5 1.5)" fill="#2a2a2a" opacity="0.55" filter="url(#blur2)"/><use href="#arrC" fill="#fff"/></g><polygon points="790.3,1143.5 808.1,1153.8 808.1,1174.3 790.3,1184.6 772.5,1174.3 772.5,1153.8" fill="#b9b9bd" stroke="#707070" stroke-width="0.8"/><g transform="translate(790.3 1164.1) rotate(0)"><use href="#arrC" transform="translate(-3.5 1.5)" fill="#2a2a2a" opacity="0.55" filter="url(#blur2)"/><use href="#arrC" fill="#fff"/></g><polygon points="837.8,1144 855.5,1154.3 855.5,1174.8 837.8,1185 820,1174.8 820,1154.3" fill="#b9b9bd" stroke="#707070" stroke-width="0.8"/><g transform="translate(837.8 1164.5) rotate(0)"><use href="#arrC" transform="translate(-3.5 1.5)" fill="#2a2a2a" opacity="0.55" filter="url(#blur2)"/><use href="#arrC" fill="#fff"/></g><polygon points="885.1,1144.5 902.9,1154.7 902.9,1175.2 885.1,1185.5 867.4,1175.2 867.4,1154.7" fill="#b9b9bd" stroke="#707070" stroke-width="0.8"/><g transform="translate(885.1 1165) rotate(0)"><use href="#arrC" transform="translate(-3.5 1.5)" fill="#2a2a2a" opacity="0.55" filter="url(#blur2)"/><use href="#arrC" fill="#fff"/></g><polygon points="932.5,1145 950.2,1155.2 950.2,1175.6 932.5,1185.9 914.7,1175.6 914.7,1155.2" fill="#b9b9bd" stroke="#707070" stroke-width="0.8"/><g transform="translate(932.5 1165.4) rotate(0)"><use href="#arrC" transform="translate(-3.5 1.5)" fill="#2a2a2a" opacity="0.55" filter="url(#blur2)"/><use href="#arrC" fill="#fff"/></g><polygon points="979.7,1145.4 997.4,1155.6 997.4,1176.1 979.7,1186.3 962,1176.1 962,1155.6" fill="#b9b9bd" stroke="#707070" stroke-width="0.8"/><g transform="translate(979.7 1165.8) rotate(0)"><use href="#arrC" transform="translate(-3.5 1.5)" fill="#2a2a2a" opacity="0.55" filter="url(#blur2)"/><use href="#arrC" fill="#fff"/></g><polygon points="1026.9,1145.9 1044.6,1156 1044.6,1176.4 1026.9,1186.6 1009.2,1176.4 1009.2,1156" fill="#a33548"/><polygon points="1074,1146.3 1091.7,1156.4 1091.7,1176.8 1074,1187 1056.4,1176.8 1056.4,1156.4" fill="#b9b9bd" stroke="#707070" stroke-width="0.8"/><g transform="translate(1074 1166.6) rotate(180)"><use href="#arrC" transform="translate(-3.5 1.5)" fill="#2a2a2a" opacity="0.55" filter="url(#blur2)"/><use href="#arrC" fill="#fff"/></g><polygon points="1121.1,1146.7 1138.7,1156.8 1138.7,1177.2 1121.1,1187.3 1103.5,1177.2 1103.5,1156.8" fill="#b9b9bd" stroke="#707070" stroke-width="0.8"/><g transform="translate(1121.1 1167) rotate(180)"><use href="#arrC" transform="translate(-3.5 1.5)" fill="#2a2a2a" opacity="0.55" filter="url(#blur2)"/><use href="#arrC" fill="#fff"/></g><polygon points="1168.1,1147 1185.7,1157.2 1185.7,1177.5 1168.1,1187.7 1150.5,1177.5 1150.5,1157.2" fill="#b9b9bd" stroke="#707070" stroke-width="0.8"/><g transform="translate(1168.1 1167.3) rotate(180)"><use href="#arrC" transform="translate(-3.5 1.5)" fill="#2a2a2a" opacity="0.55" filter="url(#blur2)"/><use href="#arrC" fill="#fff"/></g><polygon points="1215,1147.4 1232.6,1157.5 1232.6,1177.8 1215,1188 1197.5,1177.8 1197.5,1157.5" fill="#b9b9bd" stroke="#707070" stroke-width="0.8"/><g transform="translate(1215 1167.7) rotate(180)"><use href="#arrC" transform="translate(-3.5 1.5)" fill="#2a2a2a" opacity="0.55" filter="url(#blur2)"/><use href="#arrC" fill="#fff"/></g><polygon points="1261.9,1147.7 1279.4,1157.9 1279.4,1178.1 1261.9,1188.3 1244.4,1178.1 1244.4,1157.9" fill="#b9b9bd" stroke="#707070" stroke-width="0.8"/><g transform="translate(1261.9 1168) rotate(180)"><use href="#arrC" transform="translate(-3.5 1.5)" fill="#2a2a2a" opacity="0.55" filter="url(#blur2)"/><use href="#arrC" fill="#fff"/></g><polygon points="766.8,1184.1 784.5,1194.4 784.5,1214.9 766.8,1225.1 749,1214.9 749,1194.4" fill="#b9b9bd" stroke="#707070" stroke-width="0.8"/><g transform="translate(766.8 1204.6) rotate(0)"><use href="#arrC" transform="translate(-3.5 1.5)" fill="#2a2a2a" opacity="0.55" filter="url(#blur2)"/><use href="#arrC" fill="#fff"/></g><polygon points="814.1,1184.6 831.9,1194.8 831.9,1215.3 814.1,1225.5 796.4,1215.3 796.4,1194.8" fill="#b9b9bd" stroke="#707070" stroke-width="0.8"/><g transform="translate(814.1 1205.1) rotate(0)"><use href="#arrC" transform="translate(-3.5 1.5)" fill="#2a2a2a" opacity="0.55" filter="url(#blur2)"/><use href="#arrC" fill="#fff"/></g><polygon points="861.4,1185.1 879.1,1195.3 879.1,1215.7 861.4,1225.9 843.7,1215.7 843.7,1195.3" fill="#b9b9bd" stroke="#707070" stroke-width="0.8"/><g transform="translate(861.4 1205.5) rotate(0)"><use href="#arrC" transform="translate(-3.5 1.5)" fill="#2a2a2a" opacity="0.55" filter="url(#blur2)"/><use href="#arrC" fill="#fff"/></g><polygon points="908.7,1185.5 926.3,1195.7 926.3,1216.1 908.7,1226.3 891,1216.1 891,1195.7" fill="#b9b9bd" stroke="#707070" stroke-width="0.8"/><g transform="translate(908.7 1205.9) rotate(0)"><use href="#arrC" transform="translate(-3.5 1.5)" fill="#2a2a2a" opacity="0.55" filter="url(#blur2)"/><use href="#arrC" fill="#fff"/></g><polygon points="955.8,1185.9 973.5,1196.1 973.5,1216.5 955.8,1226.7 938.2,1216.5 938.2,1196.1" fill="#b9b9bd" stroke="#707070" stroke-width="0.8"/><g transform="translate(955.8 1206.3) rotate(0)"><use href="#arrC" transform="translate(-3.5 1.5)" fill="#2a2a2a" opacity="0.55" filter="url(#blur2)"/><use href="#arrC" fill="#fff"/></g><polygon points="1003,1186.3 1020.6,1196.5 1020.6,1216.9 1003,1227 985.3,1216.9 985.3,1196.5" fill="#b9b9bd" stroke="#707070" stroke-width="0.8"/><g transform="translate(1003 1206.7) rotate(0)"><use href="#arrC" transform="translate(-3.5 1.5)" fill="#2a2a2a" opacity="0.55" filter="url(#blur2)"/><use href="#arrC" fill="#fff"/></g><polygon points="1050,1186.7 1067.6,1196.9 1067.6,1217.2 1050,1227.4 1032.4,1217.2 1032.4,1196.9" fill="#a33548"/><polygon points="1097,1187.1 1114.6,1197.2 1114.6,1217.5 1097,1227.7 1079.4,1217.5 1079.4,1197.2" fill="#b9b9bd" stroke="#707070" stroke-width="0.8"/><g transform="translate(1097 1207.4) rotate(180)"><use href="#arrC" transform="translate(-3.5 1.5)" fill="#2a2a2a" opacity="0.55" filter="url(#blur2)"/><use href="#arrC" fill="#fff"/></g><polygon points="1143.9,1187.4 1161.5,1197.5 1161.5,1217.8 1143.9,1228 1126.4,1217.8 1126.4,1197.5" fill="#b9b9bd" stroke="#707070" stroke-width="0.8"/><g transform="translate(1143.9 1207.7) rotate(180)"><use href="#arrC" transform="translate(-3.5 1.5)" fill="#2a2a2a" opacity="0.55" filter="url(#blur2)"/><use href="#arrC" fill="#fff"/></g><polygon points="1190.8,1187.7 1208.3,1197.9 1208.3,1218.1 1190.8,1228.2 1173.3,1218.1 1173.3,1197.9" fill="#b9b9bd" stroke="#707070" stroke-width="0.8"/><g transform="translate(1190.8 1208) rotate(180)"><use href="#arrC" transform="translate(-3.5 1.5)" fill="#2a2a2a" opacity="0.55" filter="url(#blur2)"/><use href="#arrC" fill="#fff"/></g><polygon points="1237.6,1188 1255.1,1198.2 1255.1,1218.4 1237.6,1228.5 1220.1,1218.4 1220.1,1198.2" fill="#b9b9bd" stroke="#707070" stroke-width="0.8"/><g transform="translate(1237.6 1208.3) rotate(180)"><use href="#arrC" transform="translate(-3.5 1.5)" fill="#2a2a2a" opacity="0.55" filter="url(#blur2)"/><use href="#arrC" fill="#fff"/></g><polygon points="1284.3,1188.3 1301.8,1198.4 1301.8,1218.6 1284.3,1228.7 1266.9,1218.6 1266.9,1198.4" fill="#b9b9bd" stroke="#707070" stroke-width="0.8"/><g transform="translate(1284.3 1208.5) rotate(180)"><use href="#arrC" transform="translate(-3.5 1.5)" fill="#2a2a2a" opacity="0.55" filter="url(#blur2)"/><use href="#arrC" fill="#fff"/></g></g><text x="692" y="705.5" font-size="45" font-weight="bold">C</text><clipPath id="clipD"><rect x="1421.2" y="672.1" width="540" height="559.8"/></clipPath><g clip-path="url(#clipD)"><rect x="1421.2" y="672.1" width="540" height="559.8" fill="#bfbdba"/><rect x="1421.2" y="672.1" width="540" height="559.8" fill="#777" opacity="0.45" filter="url(#photoT)"/><use href="#mag" transform="translate(1413.3 677.5) rotate(59.5) scale(1.04)"/><use href="#mag" transform="translate(1462.7 678.5) rotate(59.6) scale(1.03)"/><use href="#mag" transform="translate(1438 678) rotate(120.1) scale(1.01)"/><use href="#mag" transform="translate(1511.8 679.4) rotate(59.7) scale(1.03)"/><use href="#mag" transform="translate(1487.3 679) rotate(120) scale(1.00)"/><use href="#mag" transform="translate(1560.6 680.4) rotate(59.8) scale(1.02)"/><use href="#mag" transform="translate(1536.3 679.9) rotate(120) scale(1.00)"/><use href="#mag" transform="translate(1609 681.3) rotate(59.9) scale(1.02)"/><use href="#mag" transform="translate(1584.8 680.9) rotate(119.9) scale(0.99)"/><use href="#mag" transform="translate(1657 682.2) rotate(60) scale(1.01)"/><use href="#mag" transform="translate(1633.1 681.8) rotate(119.8) scale(0.99)"/><use href="#mag" transform="translate(1704.7 683.2) rotate(60.1) scale(1.01)"/><use href="#mag" transform="translate(1680.9 682.7) rotate(119.7) scale(0.99)"/><use href="#mag" transform="translate(1752.1 684.1) rotate(60.2) scale(1.00)"/><use href="#mag" transform="translate(1728.4 683.7) rotate(119.6) scale(0.98)"/><use href="#mag" transform="translate(1799.1 685) rotate(60.3) scale(1.00)"/><use href="#mag" transform="translate(1775.6 684.6) rotate(119.5) scale(0.98)"/><use href="#mag" transform="translate(1845.7 685.9) rotate(60.4) scale(1.00)"/><use href="#mag" transform="translate(1822.4 685.5) rotate(119.4) scale(0.97)"/><use href="#mag" transform="translate(1892 686.8) rotate(60.5) scale(0.99)"/><use href="#mag" transform="translate(1868.9 686.4) rotate(119.3) scale(0.97)"/><use href="#mag" transform="translate(1937.9 687.7) rotate(60.6) scale(0.99)"/><use href="#mag" transform="translate(1915 687.3) rotate(119.2) scale(0.96)"/><use href="#mag" transform="translate(1960.8 688.2) rotate(119.1) scale(0.96)"/><use href="#mag" transform="translate(1401 698.5) rotate(1) scale(1.04)"/><use href="#mag" transform="translate(1450.6 699.4) rotate(1) scale(1.03)"/><use href="#mag" transform="translate(1438.5 720.3) rotate(59.5) scale(1.03)"/><use href="#mag" transform="translate(1413.7 719.9) rotate(120.1) scale(1.01)"/><use href="#mag" transform="translate(1499.8 700.3) rotate(1) scale(1.02)"/><use href="#mag" transform="translate(1487.7 721.1) rotate(59.6) scale(1.03)"/><use href="#mag" transform="translate(1463.2 720.7) rotate(120.1) scale(1.01)"/><use href="#mag" transform="translate(1548.6 701.1) rotate(1) scale(1.01)"/><use href="#mag" transform="translate(1536.7 721.9) rotate(59.7) scale(1.02)"/><use href="#mag" transform="translate(1512.3 721.6) rotate(120) scale(1.00)"/><use href="#mag" transform="translate(1597.1 702) rotate(1) scale(1.01)"/><use href="#mag" transform="translate(1585.2 722.7) rotate(59.8) scale(1.02)"/><use href="#mag" transform="translate(1561 722.4) rotate(119.9) scale(1.00)"/><use href="#mag" transform="translate(1645.2 702.9) rotate(1) scale(1.00)"/><use href="#mag" transform="translate(1633.5 723.5) rotate(59.9) scale(1.01)"/><use href="#mag" transform="translate(1609.4 723.1) rotate(119.8) scale(0.99)"/><use href="#mag" transform="translate(1693 703.7) rotate(1) scale(0.99)"/><use href="#mag" transform="translate(1681.3 724.3) rotate(60) scale(1.01)"/><use href="#mag" transform="translate(1657.4 723.9) rotate(119.7) scale(0.99)"/><use href="#mag" transform="translate(1740.4 704.6) rotate(1) scale(0.98)"/><use href="#mag" transform="translate(1728.8 725.1) rotate(60.1) scale(1.01)"/><use href="#mag" transform="translate(1705.1 724.7) rotate(119.6) scale(0.99)"/><use href="#mag" transform="translate(1787.5 705.4) rotate(1) scale(0.98)"/><use href="#mag" transform="translate(1776 725.8) rotate(60.2) scale(1.00)"/><use href="#mag" transform="translate(1752.5 725.5) rotate(119.5) scale(0.98)"/><use href="#mag" transform="translate(1834.2 706.3) rotate(1) scale(0.97)"/><use href="#mag" transform="translate(1822.8 726.6) rotate(60.3) scale(1.00)"/><use href="#mag" transform="translate(1799.4 726.3) rotate(119.4) scale(0.98)"/><use href="#mag" transform="translate(1880.6 707.1) rotate(1) scale(0.96)"/><use href="#mag" transform="translate(1869.3 727.4) rotate(60.4) scale(0.99)"/><use href="#mag" transform="translate(1846.1 727) rotate(119.3) scale(0.97)"/><use href="#mag" transform="translate(1926.6 707.9) rotate(1) scale(0.96)"/><use href="#mag" transform="translate(1915.4 728.1) rotate(60.5) scale(0.99)"/><use href="#mag" transform="translate(1892.4 727.8) rotate(119.2) scale(0.97)"/><use href="#mag" transform="translate(1972.3 708.7) rotate(1) scale(0.95)"/><use href="#mag" transform="translate(1961.1 728.9) rotate(60.6) scale(0.98)"/><use href="#mag" transform="translate(1938.3 728.5) rotate(119.1) scale(0.96)"/><use href="#mag" transform="translate(2017.6 709.6) rotate(1) scale(0.94)"/><use href="#mag" transform="translate(2006.5 729.6) rotate(60.7) scale(0.98)"/><use href="#mag" transform="translate(1983.8 729.3) rotate(119.1) scale(0.96)"/><use href="#mag" transform="translate(1426.3 741.3) rotate(0.9) scale(1.03)"/><use href="#mag" transform="translate(1414.1 762.3) rotate(59.5) scale(1.03)"/><use href="#mag" transform="translate(1475.6 742) rotate(0.9) scale(1.02)"/><use href="#mag" transform="translate(1463.6 763) rotate(59.5) scale(1.03)"/><use href="#mag" transform="translate(1438.9 762.7) rotate(120.1) scale(1.01)"/><use href="#mag" transform="translate(1524.6 742.8) rotate(0.9) scale(1.02)"/><use href="#mag" transform="translate(1512.7 763.6) rotate(59.6) scale(1.02)"/><use href="#mag" transform="translate(1488.2 763.3) rotate(120) scale(1.01)"/><use href="#mag" transform="translate(1573.3 743.5) rotate(0.9) scale(1.01)"/><use href="#mag" transform="translate(1561.4 764.3) rotate(59.7) scale(1.02)"/><use href="#mag" transform="translate(1537.1 764) rotate(119.9) scale(1.00)"/><use href="#mag" transform="translate(1621.6 744.2) rotate(0.9) scale(1.00)"/><use href="#mag" transform="translate(1609.8 764.9) rotate(59.8) scale(1.02)"/><use href="#mag" transform="translate(1585.6 764.6) rotate(119.8) scale(1.00)"/><use href="#mag" transform="translate(1669.6 744.9) rotate(0.9) scale(1.00)"/><use href="#mag" transform="translate(1657.8 765.6) rotate(59.9) scale(1.01)"/><use href="#mag" transform="translate(1633.8 765.3) rotate(119.7) scale(0.99)"/><use href="#mag" transform="translate(1717.1 745.6) rotate(0.9) scale(0.99)"/><use href="#mag" transform="translate(1705.5 766.2) rotate(60) scale(1.01)"/><use href="#mag" transform="translate(1681.7 765.9) rotate(119.6) scale(0.99)"/><use href="#mag" transform="translate(1764.4 746.3) rotate(0.8) scale(0.98)"/><use href="#mag" transform="translate(1752.8 766.8) rotate(60.1) scale(1.00)"/><use href="#mag" transform="translate(1729.2 766.5) rotate(119.5) scale(0.98)"/><use href="#mag" transform="translate(1811.3 747) rotate(0.8) scale(0.97)"/><use href="#mag" transform="translate(1799.8 767.4) rotate(60.2) scale(1.00)"/><use href="#mag" transform="translate(1776.4 767.2) rotate(119.4) scale(0.98)"/><use href="#mag" transform="translate(1857.8 747.7) rotate(0.8) scale(0.97)"/><use href="#mag" transform="translate(1846.4 768.1) rotate(60.3) scale(0.99)"/><use href="#mag" transform="translate(1823.2 767.8) rotate(119.4) scale(0.98)"/><use href="#mag" transform="translate(1904 748.4) rotate(0.8) scale(0.96)"/><use href="#mag" transform="translate(1892.7 768.7) rotate(60.4) scale(0.99)"/><use href="#mag" transform="translate(1869.6 768.4) rotate(119.3) scale(0.97)"/><use href="#mag" transform="translate(1949.8 749.1) rotate(0.8) scale(0.95)"/><use href="#mag" transform="translate(1938.6 769.3) rotate(60.6) scale(0.98)"/><use href="#mag" transform="translate(1915.7 769) rotate(119.2) scale(0.97)"/><use href="#mag" transform="translate(1995.3 749.7) rotate(0.8) scale(0.94)"/><use href="#mag" transform="translate(1984.2 769.9) rotate(60.7) scale(0.98)"/><use href="#mag" transform="translate(1961.4 769.6) rotate(119.1) scale(0.96)"/><use href="#mag" transform="translate(2040.4 750.4) rotate(0.8) scale(0.94)"/><use href="#mag" transform="translate(2029.4 770.5) rotate(60.8) scale(0.97)"/><use href="#mag" transform="translate(2006.8 770.2) rotate(119) scale(0.96)"/><use href="#mag" transform="translate(1401.9 783.4) rotate(0.7) scale(1.04)"/><use href="#mag" transform="translate(1451.4 784) rotate(0.7) scale(1.03)"/><use href="#mag" transform="translate(1439.3 805) rotate(59.5) scale(1.03)"/><use href="#mag" transform="translate(1414.5 804.7) rotate(120.1) scale(1.01)"/><use href="#mag" transform="translate(1500.6 784.5) rotate(0.7) scale(1.02)"/><use href="#mag" transform="translate(1488.5 805.5) rotate(59.6) scale(1.03)"/><use href="#mag" transform="translate(1464 805.3) rotate(120) scale(1.01)"/><use href="#mag" transform="translate(1549.4 785.1) rotate(0.7) scale(1.01)"/><use href="#mag" transform="translate(1537.4 806) rotate(59.7) scale(1.02)"/><use href="#mag" transform="translate(1513 805.8) rotate(119.9) scale(1.01)"/><use href="#mag" transform="translate(1597.9 785.7) rotate(0.7) scale(1.01)"/><use href="#mag" transform="translate(1586 806.5) rotate(59.8) scale(1.02)"/><use href="#mag" transform="translate(1561.8 806.3) rotate(119.8) scale(1.00)"/><use href="#mag" transform="translate(1646 786.3) rotate(0.7) scale(1.00)"/><use href="#mag" transform="translate(1634.2 807) rotate(59.9) scale(1.01)"/><use href="#mag" transform="translate(1610.2 806.8) rotate(119.7) scale(1.00)"/><use href="#mag" transform="translate(1693.8 786.8) rotate(0.7) scale(0.99)"/><use href="#mag" transform="translate(1682.1 807.5) rotate(60) scale(1.01)"/><use href="#mag" transform="translate(1658.2 807.3) rotate(119.6) scale(0.99)"/><use href="#mag" transform="translate(1741.2 787.4) rotate(0.7) scale(0.98)"/><use href="#mag" transform="translate(1729.6 807.9) rotate(60.1) scale(1.00)"/><use href="#mag" transform="translate(1705.8 807.7) rotate(119.6) scale(0.99)"/><use href="#mag" transform="translate(1788.2 787.9) rotate(0.7) scale(0.98)"/><use href="#mag" transform="translate(1776.7 808.4) rotate(60.2) scale(1.00)"/><use href="#mag" transform="translate(1753.2 808.2) rotate(119.5) scale(0.98)"/><use href="#mag" transform="translate(1834.9 788.5) rotate(0.7) scale(0.97)"/><use href="#mag" transform="translate(1823.5 808.9) rotate(60.3) scale(0.99)"/><use href="#mag" transform="translate(1800.1 808.7) rotate(119.4) scale(0.98)"/><use href="#mag" transform="translate(1881.3 789) rotate(0.7) scale(0.96)"/><use href="#mag" transform="translate(1869.9 809.4) rotate(60.4) scale(0.99)"/><use href="#mag" transform="translate(1846.8 809.2) rotate(119.3) scale(0.98)"/><use href="#mag" transform="translate(1927.3 789.5) rotate(0.7) scale(0.95)"/><use href="#mag" transform="translate(1916 809.8) rotate(60.5) scale(0.98)"/><use href="#mag" transform="translate(1893 809.6) rotate(119.2) scale(0.97)"/><use href="#mag" transform="translate(1972.9 790.1) rotate(0.7) scale(0.95)"/><use href="#mag" transform="translate(1961.7 810.3) rotate(60.6) scale(0.98)"/><use href="#mag" transform="translate(1938.9 810.1) rotate(119.1) scale(0.97)"/><use href="#mag" transform="translate(2018.2 790.6) rotate(0.7) scale(0.94)"/><use href="#mag" transform="translate(2007.1 810.7) rotate(60.7) scale(0.97)"/><use href="#mag" transform="translate(1984.5 810.5) rotate(119) scale(0.96)"/><use href="#mag" transform="translate(1427.1 826) rotate(0.5) scale(1.03)"/><use href="#mag" transform="translate(1414.9 847.1) rotate(59.4) scale(1.03)"/><use href="#mag" transform="translate(1476.4 826.5) rotate(0.5) scale(1.02)"/><use href="#mag" transform="translate(1464.3 847.5) rotate(59.5) scale(1.03)"/><use href="#mag" transform="translate(1439.7 847.3) rotate(120) scale(1.01)"/><use href="#mag" transform="translate(1525.4 826.9) rotate(0.5) scale(1.02)"/><use href="#mag" transform="translate(1513.4 847.8) rotate(59.6) scale(1.02)"/><use href="#mag" transform="translate(1488.9 847.7) rotate(119.9) scale(1.01)"/><use href="#mag" transform="translate(1574 827.3) rotate(0.5) scale(1.01)"/><use href="#mag" transform="translate(1562.1 848.2) rotate(59.7) scale(1.02)"/><use href="#mag" transform="translate(1537.8 848) rotate(119.8) scale(1.01)"/><use href="#mag" transform="translate(1622.3 827.8) rotate(0.5) scale(1.00)"/><use href="#mag" transform="translate(1610.5 848.5) rotate(59.8) scale(1.01)"/><use href="#mag" transform="translate(1586.4 848.4) rotate(119.8) scale(1.00)"/><use href="#mag" transform="translate(1670.3 828.2) rotate(0.5) scale(0.99)"/><use href="#mag" transform="translate(1658.5 848.9) rotate(59.9) scale(1.01)"/><use href="#mag" transform="translate(1634.6 848.8) rotate(119.7) scale(1.00)"/><use href="#mag" transform="translate(1717.8 828.6) rotate(0.5) scale(0.99)"/><use href="#mag" transform="translate(1706.2 849.2) rotate(60) scale(1.00)"/><use href="#mag" transform="translate(1682.4 849.1) rotate(119.6) scale(0.99)"/><use href="#mag" transform="translate(1765.1 829) rotate(0.5) scale(0.98)"/><use href="#mag" transform="translate(1753.5 849.6) rotate(60.1) scale(1.00)"/><use href="#mag" transform="translate(1729.9 849.4) rotate(119.5) scale(0.99)"/><use href="#mag" transform="translate(1812 829.4) rotate(0.5) scale(0.97)"/><use href="#mag" transform="translate(1800.5 849.9) rotate(60.2) scale(0.99)"/><use href="#mag" transform="translate(1777 849.8) rotate(119.4) scale(0.98)"/><use href="#mag" transform="translate(1858.5 829.8) rotate(0.5) scale(0.97)"/><use href="#mag" transform="translate(1847.1 850.2) rotate(60.3) scale(0.99)"/><use href="#mag" transform="translate(1823.8 850.1) rotate(119.3) scale(0.98)"/><use href="#mag" transform="translate(1904.6 830.2) rotate(0.5) scale(0.96)"/><use href="#mag" transform="translate(1893.3 850.5) rotate(60.4) scale(0.98)"/><use href="#mag" transform="translate(1870.2 850.4) rotate(119.2) scale(0.97)"/><use href="#mag" transform="translate(1950.5 830.6) rotate(0.5) scale(0.95)"/><use href="#mag" transform="translate(1939.2 850.8) rotate(60.5) scale(0.98)"/><use href="#mag" transform="translate(1916.3 850.7) rotate(119.1) scale(0.97)"/><use href="#mag" transform="translate(1995.9 830.9) rotate(0.5) scale(0.94)"/><use href="#mag" transform="translate(1984.8 851.1) rotate(60.6) scale(0.98)"/><use href="#mag" transform="translate(1962 851) rotate(119) scale(0.97)"/><use href="#mag" transform="translate(2041 831.3) rotate(0.5) scale(0.94)"/><use href="#mag" transform="translate(2030 851.4) rotate(60.7) scale(0.97)"/><use href="#mag" transform="translate(2007.4 851.3) rotate(118.9) scale(0.96)"/><use href="#mag" transform="translate(1402.6 868.2) rotate(0.3) scale(1.04)"/><use href="#mag" transform="translate(1452.2 868.5) rotate(0.3) scale(1.03)"/><use href="#mag" transform="translate(1440 889.6) rotate(59.4) scale(1.03)"/><use href="#mag" transform="translate(1415.3 889.5) rotate(120) scale(1.02)"/><use href="#mag" transform="translate(1501.3 868.8) rotate(0.3) scale(1.02)"/><use href="#mag" transform="translate(1489.3 889.8) rotate(59.5) scale(1.02)"/><use href="#mag" transform="translate(1464.7 889.8) rotate(119.9) scale(1.01)"/><use href="#mag" transform="translate(1550.1 869.1) rotate(0.3) scale(1.01)"/><use href="#mag" transform="translate(1538.1 890) rotate(59.6) scale(1.02)"/><use href="#mag" transform="translate(1513.7 890) rotate(119.9) scale(1.01)"/><use href="#mag" transform="translate(1598.6 869.4) rotate(0.3) scale(1.01)"/><use href="#mag" transform="translate(1586.7 890.3) rotate(59.7) scale(1.01)"/><use href="#mag" transform="translate(1562.5 890.2) rotate(119.8) scale(1.00)"/><use href="#mag" transform="translate(1646.7 869.7) rotate(0.3) scale(1.00)"/><use href="#mag" transform="translate(1634.9 890.5) rotate(59.8) scale(1.01)"/><use href="#mag" transform="translate(1610.8 890.4) rotate(119.7) scale(1.00)"/><use href="#mag" transform="translate(1694.4 869.9) rotate(0.3) scale(0.99)"/><use href="#mag" transform="translate(1682.7 890.6) rotate(59.9) scale(1.00)"/><use href="#mag" transform="translate(1658.8 890.6) rotate(119.6) scale(1.00)"/><use href="#mag" transform="translate(1741.8 870.2) rotate(0.3) scale(0.98)"/><use href="#mag" transform="translate(1730.2 890.8) rotate(60) scale(1.00)"/><use href="#mag" transform="translate(1706.5 890.8) rotate(119.5) scale(0.99)"/><use href="#mag" transform="translate(1788.9 870.5) rotate(0.3) scale(0.98)"/><use href="#mag" transform="translate(1777.3 891) rotate(60.1) scale(0.99)"/><use href="#mag" transform="translate(1753.8 891) rotate(119.4) scale(0.99)"/><use href="#mag" transform="translate(1835.6 870.7) rotate(0.3) scale(0.97)"/><use href="#mag" transform="translate(1824.1 891.2) rotate(60.2) scale(0.99)"/><use href="#mag" transform="translate(1800.7 891.1) rotate(119.3) scale(0.98)"/><use href="#mag" transform="translate(1881.9 870.9) rotate(0.3) scale(0.96)"/><use href="#mag" transform="translate(1870.5 891.4) rotate(60.3) scale(0.98)"/><use href="#mag" transform="translate(1847.3 891.3) rotate(119.2) scale(0.98)"/><use href="#mag" transform="translate(1927.9 871.2) rotate(0.3) scale(0.95)"/><use href="#mag" transform="translate(1916.6 891.5) rotate(60.4) scale(0.98)"/><use href="#mag" transform="translate(1893.6 891.5) rotate(119.1) scale(0.97)"/><use href="#mag" transform="translate(1973.5 871.4) rotate(0.3) scale(0.95)"/><use href="#mag" transform="translate(1962.3 891.7) rotate(60.5) scale(0.98)"/><use href="#mag" transform="translate(1939.5 891.6) rotate(119) scale(0.97)"/><use href="#mag" transform="translate(2018.8 871.6) rotate(0.3) scale(0.94)"/><use href="#mag" transform="translate(2007.7 891.8) rotate(60.7) scale(0.97)"/><use href="#mag" transform="translate(1985 891.8) rotate(118.9) scale(0.97)"/><use href="#mag" transform="translate(1427.8 910.8) rotate(0.2) scale(1.03)"/><use href="#mag" transform="translate(1415.6 931.9) rotate(59.4) scale(1.03)"/><use href="#mag" transform="translate(1477.1 910.9) rotate(0.2) scale(1.02)"/><use href="#mag" transform="translate(1465 932) rotate(59.5) scale(1.02)"/><use href="#mag" transform="translate(1440.3 932) rotate(120) scale(1.02)"/><use href="#mag" transform="translate(1526.1 911) rotate(0.2) scale(1.02)"/><use href="#mag" transform="translate(1514.1 932) rotate(59.6) scale(1.02)"/><use href="#mag" transform="translate(1489.6 932) rotate(119.9) scale(1.01)"/><use href="#mag" transform="translate(1574.7 911.2) rotate(0.2) scale(1.01)"/><use href="#mag" transform="translate(1562.8 932.1) rotate(59.7) scale(1.01)"/><use href="#mag" transform="translate(1538.5 932.1) rotate(119.8) scale(1.01)"/><use href="#mag" transform="translate(1623 911.3) rotate(0.1) scale(1.00)"/><use href="#mag" transform="translate(1611.1 932.2) rotate(59.8) scale(1.01)"/><use href="#mag" transform="translate(1587 932.2) rotate(119.7) scale(1.00)"/><use href="#mag" transform="translate(1670.9 911.4) rotate(0.1) scale(0.99)"/><use href="#mag" transform="translate(1659.1 932.2) rotate(59.9) scale(1.00)"/><use href="#mag" transform="translate(1635.2 932.2) rotate(119.6) scale(1.00)"/><use href="#mag" transform="translate(1718.5 911.5) rotate(0.1) scale(0.99)"/><use href="#mag" transform="translate(1706.8 932.3) rotate(60) scale(1.00)"/><use href="#mag" transform="translate(1683 932.3) rotate(119.5) scale(1.00)"/><use href="#mag" transform="translate(1765.7 911.7) rotate(0.1) scale(0.98)"/><use href="#mag" transform="translate(1754.1 932.3) rotate(60.1) scale(0.99)"/><use href="#mag" transform="translate(1730.5 932.3) rotate(119.4) scale(0.99)"/><use href="#mag" transform="translate(1812.5 911.8) rotate(0.1) scale(0.97)"/><use href="#mag" transform="translate(1801 932.3) rotate(60.2) scale(0.99)"/><use href="#mag" transform="translate(1777.6 932.3) rotate(119.3) scale(0.99)"/><use href="#mag" transform="translate(1859 911.9) rotate(0.1) scale(0.97)"/><use href="#mag" transform="translate(1847.6 932.4) rotate(60.3) scale(0.99)"/><use href="#mag" transform="translate(1824.4 932.4) rotate(119.2) scale(0.98)"/><use href="#mag" transform="translate(1905.2 912) rotate(0.1) scale(0.96)"/><use href="#mag" transform="translate(1893.9 932.4) rotate(60.4) scale(0.98)"/><use href="#mag" transform="translate(1870.8 932.4) rotate(119.2) scale(0.98)"/><use href="#mag" transform="translate(1951 912) rotate(0.1) scale(0.95)"/><use href="#mag" transform="translate(1939.7 932.4) rotate(60.5) scale(0.98)"/><use href="#mag" transform="translate(1916.8 932.4) rotate(119.1) scale(0.97)"/><use href="#mag" transform="translate(1996.4 912.1) rotate(0.1) scale(0.94)"/><use href="#mag" transform="translate(1985.3 932.4) rotate(60.6) scale(0.97)"/><use href="#mag" transform="translate(1962.5 932.4) rotate(119) scale(0.97)"/><use href="#mag" transform="translate(2041.5 912.2) rotate(0.1) scale(0.94)"/><use href="#mag" transform="translate(2030.4 932.4) rotate(60.7) scale(0.97)"/><use href="#mag" transform="translate(2007.9 932.4) rotate(118.9) scale(0.96)"/><use href="#mag" transform="translate(1403.3 953.1) rotate(0) scale(1.03)"/><use href="#mag" transform="translate(1452.8 953.1) rotate(0) scale(1.03)"/><use href="#mag" transform="translate(1440.7 974.3) rotate(59.4) scale(1.02)"/><use href="#mag" transform="translate(1415.9 974.3) rotate(120) scale(1.02)"/><use href="#mag" transform="translate(1502 953.1) rotate(0) scale(1.02)"/><use href="#mag" transform="translate(1489.9 974.2) rotate(59.5) scale(1.02)"/><use href="#mag" transform="translate(1465.3 974.3) rotate(119.9) scale(1.02)"/><use href="#mag" transform="translate(1550.8 953.1) rotate(0) scale(1.01)"/><use href="#mag" transform="translate(1538.8 974.1) rotate(59.6) scale(1.01)"/><use href="#mag" transform="translate(1514.4 974.2) rotate(119.8) scale(1.01)"/><use href="#mag" transform="translate(1599.2 953.1) rotate(0) scale(1.01)"/><use href="#mag" transform="translate(1587.3 974) rotate(59.7) scale(1.01)"/><use href="#mag" transform="translate(1563.1 974.1) rotate(119.7) scale(1.01)"/><use href="#mag" transform="translate(1647.3 953.1) rotate(0) scale(1.00)"/><use href="#mag" transform="translate(1635.5 973.9) rotate(59.8) scale(1.01)"/><use href="#mag" transform="translate(1611.4 974) rotate(119.6) scale(1.00)"/><use href="#mag" transform="translate(1695 953) rotate(0) scale(0.99)"/><use href="#mag" transform="translate(1683.3 973.8) rotate(59.9) scale(1.00)"/><use href="#mag" transform="translate(1659.4 973.9) rotate(119.5) scale(1.00)"/><use href="#mag" transform="translate(1742.4 953) rotate(0) scale(0.98)"/><use href="#mag" transform="translate(1730.7 973.7) rotate(60) scale(1.00)"/><use href="#mag" transform="translate(1707.1 973.8) rotate(119.4) scale(0.99)"/><use href="#mag" transform="translate(1789.4 953) rotate(-0.1) scale(0.98)"/><use href="#mag" transform="translate(1777.9 973.6) rotate(60.1) scale(0.99)"/><use href="#mag" transform="translate(1754.3 973.7) rotate(119.4) scale(0.99)"/><use href="#mag" transform="translate(1836.1 952.9) rotate(-0.1) scale(0.97)"/><use href="#mag" transform="translate(1824.6 973.5) rotate(60.2) scale(0.99)"/><use href="#mag" transform="translate(1801.3 973.6) rotate(119.3) scale(0.99)"/><use href="#mag" transform="translate(1882.4 952.9) rotate(-0.1) scale(0.96)"/><use href="#mag" transform="translate(1871 973.4) rotate(60.3) scale(0.98)"/><use href="#mag" transform="translate(1847.9 973.5) rotate(119.2) scale(0.98)"/><use href="#mag" transform="translate(1928.4 952.8) rotate(-0.1) scale(0.95)"/><use href="#mag" transform="translate(1917.1 973.2) rotate(60.4) scale(0.98)"/><use href="#mag" transform="translate(1894.1 973.3) rotate(119.1) scale(0.98)"/><use href="#mag" transform="translate(1974 952.7) rotate(-0.1) scale(0.95)"/><use href="#mag" transform="translate(1962.8 973.1) rotate(60.5) scale(0.97)"/><use href="#mag" transform="translate(1940 973.2) rotate(119) scale(0.97)"/><use href="#mag" transform="translate(2019.3 952.7) rotate(-0.1) scale(0.94)"/><use href="#mag" transform="translate(2008.1 973) rotate(60.6) scale(0.97)"/><use href="#mag" transform="translate(1985.5 973.1) rotate(118.9) scale(0.97)"/><use href="#mag" transform="translate(1428.4 995.5) rotate(-0.2) scale(1.03)"/><use href="#mag" transform="translate(1416.2 1016.7) rotate(59.3) scale(1.02)"/><use href="#mag" transform="translate(1477.7 995.3) rotate(-0.2) scale(1.02)"/><use href="#mag" transform="translate(1465.6 1016.5) rotate(59.4) scale(1.02)"/><use href="#mag" transform="translate(1441 1016.6) rotate(119.9) scale(1.02)"/><use href="#mag" transform="translate(1526.7 995.2) rotate(-0.2) scale(1.02)"/><use href="#mag" transform="translate(1514.7 1016.3) rotate(59.5) scale(1.02)"/><use href="#mag" transform="translate(1490.2 1016.4) rotate(119.8) scale(1.02)"/><use href="#mag" transform="translate(1575.3 995) rotate(-0.2) scale(1.01)"/><use href="#mag" transform="translate(1563.3 1016) rotate(59.6) scale(1.01)"/><use href="#mag" transform="translate(1539 1016.2) rotate(119.7) scale(1.01)"/><use href="#mag" transform="translate(1623.6 994.9) rotate(-0.2) scale(1.00)"/><use href="#mag" transform="translate(1611.7 1015.8) rotate(59.7) scale(1.01)"/><use href="#mag" transform="translate(1587.6 1015.9) rotate(119.6) scale(1.01)"/><use href="#mag" transform="translate(1671.5 994.7) rotate(-0.2) scale(0.99)"/><use href="#mag" transform="translate(1659.7 1015.5) rotate(59.8) scale(1.00)"/><use href="#mag" transform="translate(1635.7 1015.7) rotate(119.6) scale(1.00)"/><use href="#mag" transform="translate(1719 994.5) rotate(-0.2) scale(0.99)"/><use href="#mag" transform="translate(1707.3 1015.3) rotate(59.9) scale(1.00)"/><use href="#mag" transform="translate(1683.5 1015.5) rotate(119.5) scale(1.00)"/><use href="#mag" transform="translate(1766.2 994.3) rotate(-0.2) scale(0.98)"/><use href="#mag" transform="translate(1754.6 1015) rotate(60) scale(0.99)"/><use href="#mag" transform="translate(1731 1015.2) rotate(119.4) scale(0.99)"/><use href="#mag" transform="translate(1813 994.1) rotate(-0.2) scale(0.97)"/><use href="#mag" transform="translate(1801.5 1014.8) rotate(60.1) scale(0.99)"/><use href="#mag" transform="translate(1778.1 1014.9) rotate(119.3) scale(0.99)"/><use href="#mag" transform="translate(1859.5 993.9) rotate(-0.2) scale(0.96)"/><use href="#mag" transform="translate(1848.1 1014.5) rotate(60.2) scale(0.98)"/><use href="#mag" transform="translate(1824.8 1014.7) rotate(119.2) scale(0.99)"/><use href="#mag" transform="translate(1905.7 993.7) rotate(-0.3) scale(0.96)"/><use href="#mag" transform="translate(1894.3 1014.2) rotate(60.3) scale(0.98)"/><use href="#mag" transform="translate(1871.2 1014.4) rotate(119.1) scale(0.98)"/><use href="#mag" transform="translate(1951.5 993.5) rotate(-0.3) scale(0.95)"/><use href="#mag" transform="translate(1940.2 1013.9) rotate(60.4) scale(0.97)"/><use href="#mag" transform="translate(1917.3 1014.1) rotate(119) scale(0.98)"/><use href="#mag" transform="translate(1996.9 993.3) rotate(-0.3) scale(0.94)"/><use href="#mag" transform="translate(1985.7 1013.7) rotate(60.5) scale(0.97)"/><use href="#mag" transform="translate(1963 1013.8) rotate(118.9) scale(0.97)"/><use href="#mag" transform="translate(2042 993.1) rotate(-0.3) scale(0.94)"/><use href="#mag" transform="translate(2030.9 1013.4) rotate(60.7) scale(0.96)"/><use href="#mag" transform="translate(2008.3 1013.5) rotate(118.8) scale(0.97)"/><use href="#mag" transform="translate(1403.9 1038) rotate(-0.3) scale(1.03)"/><use href="#mag" transform="translate(1453.4 1037.7) rotate(-0.3) scale(1.03)"/><use href="#mag" transform="translate(1441.2 1058.9) rotate(59.4) scale(1.02)"/><use href="#mag" transform="translate(1416.5 1059.2) rotate(119.9) scale(1.02)"/><use href="#mag" transform="translate(1502.5 1037.4) rotate(-0.4) scale(1.02)"/><use href="#mag" transform="translate(1490.4 1058.6) rotate(59.5) scale(1.02)"/><use href="#mag" transform="translate(1465.9 1058.8) rotate(119.8) scale(1.02)"/><use href="#mag" transform="translate(1551.3 1037.1) rotate(-0.4) scale(1.01)"/><use href="#mag" transform="translate(1539.3 1058.2) rotate(59.6) scale(1.01)"/><use href="#mag" transform="translate(1514.9 1058.4) rotate(119.8) scale(1.01)"/><use href="#mag" transform="translate(1599.7 1036.8) rotate(-0.4) scale(1.01)"/><use href="#mag" transform="translate(1587.8 1057.8) rotate(59.7) scale(1.01)"/><use href="#mag" transform="translate(1563.6 1058) rotate(119.7) scale(1.01)"/><use href="#mag" transform="translate(1647.8 1036.5) rotate(-0.4) scale(1.00)"/><use href="#mag" transform="translate(1636 1057.4) rotate(59.8) scale(1.00)"/><use href="#mag" transform="translate(1611.9 1057.6) rotate(119.6) scale(1.01)"/><use href="#mag" transform="translate(1695.5 1036.2) rotate(-0.4) scale(0.99)"/><use href="#mag" transform="translate(1683.8 1057) rotate(59.9) scale(1.00)"/><use href="#mag" transform="translate(1659.9 1057.2) rotate(119.5) scale(1.00)"/><use href="#mag" transform="translate(1742.9 1035.8) rotate(-0.4) scale(0.98)"/><use href="#mag" transform="translate(1731.2 1056.6) rotate(60) scale(0.99)"/><use href="#mag" transform="translate(1707.5 1056.8) rotate(119.4) scale(1.00)"/><use href="#mag" transform="translate(1789.9 1035.5) rotate(-0.4) scale(0.98)"/><use href="#mag" transform="translate(1778.3 1056.2) rotate(60.1) scale(0.99)"/><use href="#mag" transform="translate(1754.8 1056.4) rotate(119.3) scale(0.99)"/><use href="#mag" transform="translate(1836.6 1035.1) rotate(-0.4) scale(0.97)"/><use href="#mag" transform="translate(1825.1 1055.8) rotate(60.2) scale(0.98)"/><use href="#mag" transform="translate(1801.7 1056) rotate(119.2) scale(0.99)"/><use href="#mag" transform="translate(1882.9 1034.8) rotate(-0.4) scale(0.96)"/><use href="#mag" transform="translate(1871.5 1055.4) rotate(60.3) scale(0.98)"/><use href="#mag" transform="translate(1848.3 1055.6) rotate(119.1) scale(0.98)"/><use href="#mag" transform="translate(1928.8 1034.4) rotate(-0.4) scale(0.95)"/><use href="#mag" transform="translate(1917.5 1054.9) rotate(60.4) scale(0.97)"/><use href="#mag" transform="translate(1894.5 1055.2) rotate(119) scale(0.98)"/><use href="#mag" transform="translate(1974.4 1034.1) rotate(-0.5) scale(0.95)"/><use href="#mag" transform="translate(1963.2 1054.5) rotate(60.5) scale(0.97)"/><use href="#mag" transform="translate(1940.4 1054.8) rotate(118.9) scale(0.98)"/><use href="#mag" transform="translate(2019.7 1033.7) rotate(-0.5) scale(0.94)"/><use href="#mag" transform="translate(2008.5 1054.1) rotate(60.6) scale(0.96)"/><use href="#mag" transform="translate(1985.9 1054.3) rotate(118.8) scale(0.97)"/><use href="#mag" transform="translate(1429 1080.2) rotate(-0.5) scale(1.03)"/><use href="#mag" transform="translate(1416.7 1101.5) rotate(59.3) scale(1.02)"/><use href="#mag" transform="translate(1478.3 1079.8) rotate(-0.5) scale(1.02)"/><use href="#mag" transform="translate(1466.1 1101) rotate(59.4) scale(1.02)"/><use href="#mag" transform="translate(1441.5 1101.3) rotate(119.9) scale(1.02)"/><use href="#mag" transform="translate(1527.2 1079.3) rotate(-0.5) scale(1.02)"/><use href="#mag" transform="translate(1515.2 1100.5) rotate(59.5) scale(1.01)"/><use href="#mag" transform="translate(1490.7 1100.8) rotate(119.8) scale(1.02)"/><use href="#mag" transform="translate(1575.8 1078.9) rotate(-0.5) scale(1.01)"/><use href="#mag" transform="translate(1563.8 1099.9) rotate(59.6) scale(1.01)"/><use href="#mag" transform="translate(1539.5 1100.3) rotate(119.7) scale(1.01)"/><use href="#mag" transform="translate(1624 1078.4) rotate(-0.6) scale(1.00)"/><use href="#mag" transform="translate(1612.2 1099.4) rotate(59.7) scale(1.00)"/><use href="#mag" transform="translate(1588 1099.7) rotate(119.6) scale(1.01)"/><use href="#mag" transform="translate(1671.9 1077.9) rotate(-0.6) scale(0.99)"/><use href="#mag" transform="translate(1660.1 1098.9) rotate(59.8) scale(1.00)"/><use href="#mag" transform="translate(1636.2 1099.2) rotate(119.5) scale(1.01)"/><use href="#mag" transform="translate(1719.5 1077.5) rotate(-0.6) scale(0.99)"/><use href="#mag" transform="translate(1707.7 1098.3) rotate(59.9) scale(0.99)"/><use href="#mag" transform="translate(1684 1098.6) rotate(119.4) scale(1.00)"/><use href="#mag" transform="translate(1766.6 1077) rotate(-0.6) scale(0.98)"/><use href="#mag" transform="translate(1755 1097.8) rotate(60) scale(0.99)"/><use href="#mag" transform="translate(1731.4 1098.1) rotate(119.3) scale(1.00)"/><use href="#mag" transform="translate(1813.5 1076.5) rotate(-0.6) scale(0.97)"/><use href="#mag" transform="translate(1801.9 1097.2) rotate(60.1) scale(0.98)"/><use href="#mag" transform="translate(1778.5 1097.5) rotate(119.2) scale(0.99)"/><use href="#mag" transform="translate(1860 1076) rotate(-0.6) scale(0.96)"/><use href="#mag" transform="translate(1848.5 1096.7) rotate(60.2) scale(0.98)"/><use href="#mag" transform="translate(1825.3 1097) rotate(119.1) scale(0.99)"/><use href="#mag" transform="translate(1906.1 1075.5) rotate(-0.6) scale(0.96)"/><use href="#mag" transform="translate(1894.7 1096.1) rotate(60.3) scale(0.97)"/><use href="#mag" transform="translate(1871.6 1096.4) rotate(119) scale(0.98)"/><use href="#mag" transform="translate(1951.8 1075) rotate(-0.6) scale(0.95)"/><use href="#mag" transform="translate(1940.5 1095.5) rotate(60.4) scale(0.97)"/><use href="#mag" transform="translate(1917.7 1095.8) rotate(119) scale(0.98)"/><use href="#mag" transform="translate(1997.3 1074.5) rotate(-0.6) scale(0.94)"/><use href="#mag" transform="translate(1986.1 1094.9) rotate(60.5) scale(0.97)"/><use href="#mag" transform="translate(1963.3 1095.3) rotate(118.9) scale(0.98)"/><use href="#mag" transform="translate(2042.3 1074) rotate(-0.7) scale(0.94)"/><use href="#mag" transform="translate(2031.2 1094.3) rotate(60.6) scale(0.96)"/><use href="#mag" transform="translate(2008.7 1094.7) rotate(118.8) scale(0.97)"/><use href="#mag" transform="translate(1404.4 1122.9) rotate(-0.7) scale(1.03)"/><use href="#mag" transform="translate(1453.9 1122.3) rotate(-0.7) scale(1.03)"/><use href="#mag" transform="translate(1441.7 1143.6) rotate(59.3) scale(1.02)"/><use href="#mag" transform="translate(1417 1144) rotate(119.9) scale(1.03)"/><use href="#mag" transform="translate(1503 1121.7) rotate(-0.7) scale(1.02)"/><use href="#mag" transform="translate(1490.9 1142.9) rotate(59.4) scale(1.01)"/><use href="#mag" transform="translate(1466.4 1143.3) rotate(119.8) scale(1.02)"/><use href="#mag" transform="translate(1551.8 1121.1) rotate(-0.7) scale(1.01)"/><use href="#mag" transform="translate(1539.8 1142.3) rotate(59.5) scale(1.01)"/><use href="#mag" transform="translate(1515.4 1142.6) rotate(119.7) scale(1.02)"/><use href="#mag" transform="translate(1600.2 1120.5) rotate(-0.7) scale(1.00)"/><use href="#mag" transform="translate(1588.3 1141.6) rotate(59.6) scale(1.00)"/><use href="#mag" transform="translate(1564.1 1141.9) rotate(119.6) scale(1.01)"/><use href="#mag" transform="translate(1648.2 1119.9) rotate(-0.7) scale(1.00)"/><use href="#mag" transform="translate(1636.4 1140.9) rotate(59.7) scale(1.00)"/><use href="#mag" transform="translate(1612.4 1141.3) rotate(119.5) scale(1.01)"/><use href="#mag" transform="translate(1695.9 1119.3) rotate(-0.7) scale(0.99)"/><use href="#mag" transform="translate(1684.2 1140.2) rotate(59.8) scale(0.99)"/><use href="#mag" transform="translate(1660.3 1140.6) rotate(119.4) scale(1.00)"/><use href="#mag" transform="translate(1743.3 1118.6) rotate(-0.8) scale(0.98)"/><use href="#mag" transform="translate(1731.6 1139.5) rotate(59.9) scale(0.99)"/><use href="#mag" transform="translate(1707.9 1139.9) rotate(119.3) scale(1.00)"/><use href="#mag" transform="translate(1790.3 1118) rotate(-0.8) scale(0.98)"/><use href="#mag" transform="translate(1778.7 1138.8) rotate(60) scale(0.98)"/><use href="#mag" transform="translate(1755.2 1139.2) rotate(119.3) scale(1.00)"/><use href="#mag" transform="translate(1836.9 1117.4) rotate(-0.8) scale(0.97)"/><use href="#mag" transform="translate(1825.4 1138.1) rotate(60.1) scale(0.98)"/><use href="#mag" transform="translate(1802.1 1138.5) rotate(119.2) scale(0.99)"/><use href="#mag" transform="translate(1883.2 1116.7) rotate(-0.8) scale(0.96)"/><use href="#mag" transform="translate(1871.8 1137.4) rotate(60.2) scale(0.98)"/><use href="#mag" transform="translate(1848.7 1137.8) rotate(119.1) scale(0.99)"/><use href="#mag" transform="translate(1929.2 1116.1) rotate(-0.8) scale(0.95)"/><use href="#mag" transform="translate(1917.8 1136.6) rotate(60.3) scale(0.97)"/><use href="#mag" transform="translate(1894.9 1137) rotate(119) scale(0.98)"/><use href="#mag" transform="translate(1974.8 1115.4) rotate(-0.8) scale(0.95)"/><use href="#mag" transform="translate(1963.5 1135.9) rotate(60.4) scale(0.97)"/><use href="#mag" transform="translate(1940.7 1136.3) rotate(118.9) scale(0.98)"/><use href="#mag" transform="translate(2020 1114.8) rotate(-0.8) scale(0.94)"/><use href="#mag" transform="translate(2008.8 1135.2) rotate(60.5) scale(0.96)"/><use href="#mag" transform="translate(1986.2 1135.6) rotate(118.8) scale(0.97)"/><use href="#mag" transform="translate(1429.4 1165) rotate(-0.9) scale(1.03)"/><use href="#mag" transform="translate(1417.2 1186.3) rotate(59.3) scale(1.02)"/><use href="#mag" transform="translate(1478.7 1164.2) rotate(-0.9) scale(1.02)"/><use href="#mag" transform="translate(1466.6 1185.5) rotate(59.4) scale(1.01)"/><use href="#mag" transform="translate(1441.9 1186) rotate(119.8) scale(1.03)"/><use href="#mag" transform="translate(1527.7 1163.5) rotate(-0.9) scale(1.02)"/><use href="#mag" transform="translate(1515.6 1184.7) rotate(59.5) scale(1.01)"/><use href="#mag" transform="translate(1491.1 1185.1) rotate(119.7) scale(1.02)"/><use href="#mag" transform="translate(1576.2 1162.7) rotate(-0.9) scale(1.01)"/><use href="#mag" transform="translate(1564.2 1183.9) rotate(59.5) scale(1.00)"/><use href="#mag" transform="translate(1540 1184.3) rotate(119.6) scale(1.02)"/><use href="#mag" transform="translate(1624.5 1162) rotate(-0.9) scale(1.00)"/><use href="#mag" transform="translate(1612.6 1183) rotate(59.6) scale(1.00)"/><use href="#mag" transform="translate(1588.4 1183.5) rotate(119.5) scale(1.01)"/><use href="#mag" transform="translate(1672.3 1161.2) rotate(-0.9) scale(0.99)"/><use href="#mag" transform="translate(1660.5 1182.2) rotate(59.7) scale(0.99)"/><use href="#mag" transform="translate(1636.6 1182.7) rotate(119.5) scale(1.01)"/><use href="#mag" transform="translate(1719.8 1160.4) rotate(-0.9) scale(0.99)"/><use href="#mag" transform="translate(1708.1 1181.4) rotate(59.8) scale(0.99)"/><use href="#mag" transform="translate(1684.4 1181.8) rotate(119.4) scale(1.00)"/><use href="#mag" transform="translate(1767 1159.7) rotate(-0.9) scale(0.98)"/><use href="#mag" transform="translate(1755.4 1180.5) rotate(59.9) scale(0.99)"/><use href="#mag" transform="translate(1731.8 1181) rotate(119.3) scale(1.00)"/><use href="#mag" transform="translate(1813.8 1158.9) rotate(-1) scale(0.97)"/><use href="#mag" transform="translate(1802.3 1179.7) rotate(60) scale(0.98)"/><use href="#mag" transform="translate(1778.9 1180.1) rotate(119.2) scale(1.00)"/><use href="#mag" transform="translate(1860.3 1158.1) rotate(-1) scale(0.96)"/><use href="#mag" transform="translate(1848.8 1178.8) rotate(60.2) scale(0.98)"/><use href="#mag" transform="translate(1825.6 1179.3) rotate(119.1) scale(0.99)"/><use href="#mag" transform="translate(1906.4 1157.3) rotate(-1) scale(0.96)"/><use href="#mag" transform="translate(1895 1177.9) rotate(60.3) scale(0.97)"/><use href="#mag" transform="translate(1871.9 1178.4) rotate(119) scale(0.99)"/><use href="#mag" transform="translate(1952.1 1156.5) rotate(-1) scale(0.95)"/><use href="#mag" transform="translate(1940.8 1177.1) rotate(60.4) scale(0.97)"/><use href="#mag" transform="translate(1918 1177.5) rotate(118.9) scale(0.98)"/><use href="#mag" transform="translate(1997.5 1155.7) rotate(-1) scale(0.94)"/><use href="#mag" transform="translate(1986.3 1176.2) rotate(60.5) scale(0.96)"/><use href="#mag" transform="translate(1963.6 1176.7) rotate(118.8) scale(0.98)"/><use href="#mag" transform="translate(2042.6 1154.9) rotate(-1) scale(0.93)"/><use href="#mag" transform="translate(2031.5 1175.3) rotate(60.6) scale(0.96)"/><use href="#mag" transform="translate(2008.9 1175.8) rotate(118.7) scale(0.97)"/><use href="#mag" transform="translate(1404.9 1207.8) rotate(-1) scale(1.03)"/><use href="#mag" transform="translate(1454.3 1206.9) rotate(-1) scale(1.03)"/><use href="#mag" transform="translate(1442.1 1228.3) rotate(59.3) scale(1.01)"/><use href="#mag" transform="translate(1417.4 1228.8) rotate(119.8) scale(1.03)"/><use href="#mag" transform="translate(1503.4 1206) rotate(-1) scale(1.02)"/><use href="#mag" transform="translate(1491.3 1227.3) rotate(59.4) scale(1.01)"/><use href="#mag" transform="translate(1466.8 1227.8) rotate(119.7) scale(1.03)"/><use href="#mag" transform="translate(1552.2 1205.1) rotate(-1.1) scale(1.01)"/><use href="#mag" transform="translate(1540.1 1226.3) rotate(59.5) scale(1.00)"/><use href="#mag" transform="translate(1515.8 1226.8) rotate(119.6) scale(1.02)"/><use href="#mag" transform="translate(1600.6 1204.2) rotate(-1.1) scale(1.00)"/><use href="#mag" transform="translate(1588.6 1225.3) rotate(59.6) scale(1.00)"/><use href="#mag" transform="translate(1564.4 1225.9) rotate(119.6) scale(1.02)"/><use href="#mag" transform="translate(1648.6 1203.3) rotate(-1.1) scale(1.00)"/><use href="#mag" transform="translate(1636.7 1224.4) rotate(59.7) scale(1.00)"/><use href="#mag" transform="translate(1612.7 1224.9) rotate(119.5) scale(1.01)"/><use href="#mag" transform="translate(1696.3 1202.4) rotate(-1.1) scale(0.99)"/><use href="#mag" transform="translate(1684.5 1223.4) rotate(59.8) scale(0.99)"/><use href="#mag" transform="translate(1660.7 1223.9) rotate(119.4) scale(1.01)"/><use href="#mag" transform="translate(1743.6 1201.5) rotate(-1.1) scale(0.98)"/><use href="#mag" transform="translate(1731.9 1222.4) rotate(59.9) scale(0.99)"/><use href="#mag" transform="translate(1708.3 1222.9) rotate(119.3) scale(1.00)"/><use href="#mag" transform="translate(1790.6 1200.5) rotate(-1.1) scale(0.98)"/><use href="#mag" transform="translate(1779 1221.4) rotate(60) scale(0.98)"/><use href="#mag" transform="translate(1755.5 1221.9) rotate(119.2) scale(1.00)"/><use href="#mag" transform="translate(1837.2 1199.6) rotate(-1.2) scale(0.97)"/><use href="#mag" transform="translate(1825.7 1220.4) rotate(60.1) scale(0.98)"/><use href="#mag" transform="translate(1802.4 1220.9) rotate(119.1) scale(0.99)"/><use href="#mag" transform="translate(1883.5 1198.7) rotate(-1.2) scale(0.96)"/><use href="#mag" transform="translate(1872.1 1219.4) rotate(60.2) scale(0.97)"/><use href="#mag" transform="translate(1848.9 1219.9) rotate(119) scale(0.99)"/><use href="#mag" transform="translate(1929.4 1197.7) rotate(-1.2) scale(0.95)"/><use href="#mag" transform="translate(1918.1 1218.4) rotate(60.3) scale(0.97)"/><use href="#mag" transform="translate(1895.1 1218.9) rotate(118.9) scale(0.99)"/><use href="#mag" transform="translate(1975 1196.8) rotate(-1.2) scale(0.95)"/><use href="#mag" transform="translate(1963.7 1217.3) rotate(60.4) scale(0.96)"/><use href="#mag" transform="translate(1940.9 1217.9) rotate(118.8) scale(0.98)"/><use href="#mag" transform="translate(2020.2 1195.8) rotate(-1.2) scale(0.94)"/><polygon points="1425.9,677 1444.9,688 1444.9,709.9 1425.9,720.8 1406.9,709.9 1406.9,688" fill="#a33548" stroke="#3a3a3a" stroke-width="0.6"/><use href="#cw" transform="translate(1425.9 698.9) scale(1.029)"/><polygon points="1475.3,678.1 1494.1,688.9 1494.1,710.7 1475.3,721.6 1456.4,710.7 1456.4,688.9" fill="#aaaaaa" stroke="#6a6a6a" stroke-width="0.8"/><circle cx="1476.3" cy="701.8" r="8.4" fill="#333" opacity="0.5" filter="url(#blur2)"/><circle cx="1475.3" cy="699.8" r="8.4" fill="#fff"/><polygon points="1524.3,679.1 1543,689.9 1543,711.5 1524.3,722.3 1505.6,711.5 1505.6,689.9" fill="#3c66a8" stroke="#3a3a3a" stroke-width="0.6"/><use href="#ccw" transform="translate(1524.3 700.7) scale(1.014)"/><polygon points="1572.9,680.1 1591.5,690.9 1591.5,712.3 1572.9,723 1554.4,712.3 1554.4,690.9" fill="#a33548" stroke="#3a3a3a" stroke-width="0.6"/><use href="#cw" transform="translate(1572.9 701.6) scale(1.007)"/><polygon points="1621.3,681.2 1639.7,691.8 1639.7,713.1 1621.3,723.7 1602.8,713.1 1602.8,691.8" fill="#aaaaaa" stroke="#6a6a6a" stroke-width="0.8"/><circle cx="1622.3" cy="704.4" r="8.2" fill="#333" opacity="0.5" filter="url(#blur2)"/><circle cx="1621.3" cy="702.4" r="8.2" fill="#fff"/><polygon points="1669.2,682.2 1687.5,692.7 1687.5,713.9 1669.2,724.4 1650.9,713.9 1650.9,692.7" fill="#3c66a8" stroke="#3a3a3a" stroke-width="0.6"/><use href="#ccw" transform="translate(1669.2 703.3) scale(0.992)"/><polygon points="1716.8,683.2 1735,693.7 1735,714.6 1716.8,725.1 1698.7,714.6 1698.7,693.7" fill="#a33548" stroke="#3a3a3a" stroke-width="0.6"/><use href="#cw" transform="translate(1716.8 704.2) scale(0.985)"/><polygon points="1764.1,684.2 1782.1,694.6 1782.1,715.4 1764.1,725.8 1746,715.4 1746,694.6" fill="#aaaaaa" stroke="#6a6a6a" stroke-width="0.8"/><circle cx="1765.1" cy="707" r="8" fill="#333" opacity="0.5" filter="url(#blur2)"/><circle cx="1764.1" cy="705" r="8" fill="#fff"/><polygon points="1811,685.2 1828.9,695.5 1828.9,716.2 1811,726.5 1793.1,716.2 1793.1,695.5" fill="#3c66a8" stroke="#3a3a3a" stroke-width="0.6"/><use href="#ccw" transform="translate(1811 705.8) scale(0.970)"/><polygon points="1857.5,686.2 1875.3,696.4 1875.3,716.9 1857.5,727.2 1839.8,716.9 1839.8,696.4" fill="#a33548" stroke="#3a3a3a" stroke-width="0.6"/><use href="#cw" transform="translate(1857.5 706.7) scale(0.963)"/><polygon points="1903.7,687.2 1921.3,697.3 1921.3,717.7 1903.7,727.9 1886.1,717.7 1886.1,697.3" fill="#aaaaaa" stroke="#6a6a6a" stroke-width="0.8"/><circle cx="1904.7" cy="709.5" r="7.8" fill="#333" opacity="0.5" filter="url(#blur2)"/><circle cx="1903.7" cy="707.5" r="7.8" fill="#fff"/><polygon points="1949.5,688.1 1967,698.2 1967,718.4 1949.5,728.5 1932.1,718.4 1932.1,698.2" fill="#3c66a8" stroke="#3a3a3a" stroke-width="0.6"/><use href="#ccw" transform="translate(1949.5 708.3) scale(0.948)"/><polygon points="1451,719.8 1469.9,730.8 1469.9,752.6 1451,763.5 1432.1,752.6 1432.1,730.8" fill="#3c66a8" stroke="#3a3a3a" stroke-width="0.6"/><use href="#ccw" transform="translate(1451 741.7) scale(1.025)"/><polygon points="1500.2,720.7 1519,731.6 1519,753.2 1500.2,764.1 1481.5,753.2 1481.5,731.6" fill="#a33548" stroke="#3a3a3a" stroke-width="0.6"/><use href="#cw" transform="translate(1500.2 742.4) scale(1.017)"/><polygon points="1549.1,721.6 1567.7,732.4 1567.7,753.9 1549.1,764.6 1530.4,753.9 1530.4,732.4" fill="#aaaaaa" stroke="#6a6a6a" stroke-width="0.8"/><circle cx="1550.1" cy="745.1" r="8.3" fill="#333" opacity="0.5" filter="url(#blur2)"/><circle cx="1549.1" cy="743.1" r="8.3" fill="#fff"/><polygon points="1597.5,722.5 1616,733.2 1616,754.5 1597.5,765.2 1579,754.5 1579,733.2" fill="#3c66a8" stroke="#3a3a3a" stroke-width="0.6"/><use href="#ccw" transform="translate(1597.5 743.9) scale(1.003)"/><polygon points="1645.7,723.4 1664,734 1664,755.2 1645.7,765.8 1627.3,755.2 1627.3,734" fill="#a33548" stroke="#3a3a3a" stroke-width="0.6"/><use href="#cw" transform="translate(1645.7 744.6) scale(0.995)"/><polygon points="1693.4,724.2 1711.7,734.8 1711.7,755.8 1693.4,766.3 1675.2,755.8 1675.2,734.8" fill="#aaaaaa" stroke="#6a6a6a" stroke-width="0.8"/><circle cx="1694.4" cy="747.3" r="8.1" fill="#333" opacity="0.5" filter="url(#blur2)"/><circle cx="1693.4" cy="745.3" r="8.1" fill="#fff"/><polygon points="1740.9,725.1 1758.9,735.5 1758.9,756.4 1740.9,766.9 1722.8,756.4 1722.8,735.5" fill="#3c66a8" stroke="#3a3a3a" stroke-width="0.6"/><use href="#ccw" transform="translate(1740.9 746) scale(0.981)"/><polygon points="1787.9,725.9 1805.9,736.3 1805.9,757 1787.9,767.4 1770,757 1770,736.3" fill="#a33548" stroke="#3a3a3a" stroke-width="0.6"/><use href="#cw" transform="translate(1787.9 746.7) scale(0.973)"/><polygon points="1834.6,726.8 1852.5,737.1 1852.5,757.7 1834.6,767.9 1816.8,757.7 1816.8,737.1" fill="#aaaaaa" stroke="#6a6a6a" stroke-width="0.8"/><circle cx="1835.6" cy="749.4" r="7.9" fill="#333" opacity="0.5" filter="url(#blur2)"/><circle cx="1834.6" cy="747.4" r="7.9" fill="#fff"/><polygon points="1881,727.6 1898.7,737.8 1898.7,758.3 1881,768.5 1863.3,758.3 1863.3,737.8" fill="#3c66a8" stroke="#3a3a3a" stroke-width="0.6"/><use href="#ccw" transform="translate(1881 748.1) scale(0.959)"/><polygon points="1927,728.5 1944.6,738.6 1944.6,758.9 1927,769 1909.5,758.9 1909.5,738.6" fill="#a33548" stroke="#3a3a3a" stroke-width="0.6"/><use href="#cw" transform="translate(1927 748.7) scale(0.951)"/><polygon points="1426.7,761.8 1445.7,772.7 1445.7,794.6 1426.7,805.6 1407.8,794.6 1407.8,772.7" fill="#a33548" stroke="#3a3a3a" stroke-width="0.6"/><use href="#cw" transform="translate(1426.7 783.7) scale(1.028)"/><polygon points="1476.1,762.5 1494.9,773.4 1494.9,795.1 1476.1,806 1457.2,795.1 1457.2,773.4" fill="#aaaaaa" stroke="#6a6a6a" stroke-width="0.8"/><circle cx="1477.1" cy="786.3" r="8.4" fill="#333" opacity="0.5" filter="url(#blur2)"/><circle cx="1476.1" cy="784.3" r="8.4" fill="#fff"/><polygon points="1525.1,763.2 1543.8,774 1543.8,795.6 1525.1,806.4 1506.4,795.6 1506.4,774" fill="#3c66a8" stroke="#3a3a3a" stroke-width="0.6"/><use href="#ccw" transform="translate(1525.1 784.8) scale(1.014)"/><polygon points="1573.7,764 1592.3,774.7 1592.3,796.1 1573.7,806.8 1555.2,796.1 1555.2,774.7" fill="#a33548" stroke="#3a3a3a" stroke-width="0.6"/><use href="#cw" transform="translate(1573.7 785.4) scale(1.006)"/><polygon points="1622,764.7 1640.4,775.3 1640.4,796.6 1622,807.3 1603.6,796.6 1603.6,775.3" fill="#aaaaaa" stroke="#6a6a6a" stroke-width="0.8"/><circle cx="1623" cy="788" r="8.2" fill="#333" opacity="0.5" filter="url(#blur2)"/><circle cx="1622" cy="786" r="8.2" fill="#fff"/><polygon points="1670,765.4 1688.3,776 1688.3,797.1 1670,807.7 1651.7,797.1 1651.7,776" fill="#3c66a8" stroke="#3a3a3a" stroke-width="0.6"/><use href="#ccw" transform="translate(1670 786.5) scale(0.991)"/><polygon points="1717.6,766.1 1735.7,776.6 1735.7,797.6 1717.6,808.1 1699.4,797.6 1699.4,776.6" fill="#a33548" stroke="#3a3a3a" stroke-width="0.6"/><use href="#cw" transform="translate(1717.6 787.1) scale(0.984)"/><polygon points="1764.8,766.9 1782.8,777.3 1782.8,798.1 1764.8,808.5 1746.8,798.1 1746.8,777.3" fill="#aaaaaa" stroke="#6a6a6a" stroke-width="0.8"/><circle cx="1765.8" cy="789.7" r="8" fill="#333" opacity="0.5" filter="url(#blur2)"/><circle cx="1764.8" cy="787.7" r="8" fill="#fff"/><polygon points="1811.7,767.6 1829.6,777.9 1829.6,798.5 1811.7,808.9 1793.8,798.5 1793.8,777.9" fill="#3c66a8" stroke="#3a3a3a" stroke-width="0.6"/><use href="#ccw" transform="translate(1811.7 788.2) scale(0.969)"/><polygon points="1858.2,768.3 1875.9,778.5 1875.9,799 1858.2,809.2 1840.5,799 1840.5,778.5" fill="#a33548" stroke="#3a3a3a" stroke-width="0.6"/><use href="#cw" transform="translate(1858.2 788.7) scale(0.962)"/><polygon points="1904.4,768.9 1922,779.1 1922,799.5 1904.4,809.6 1886.8,799.5 1886.8,779.1" fill="#aaaaaa" stroke="#6a6a6a" stroke-width="0.8"/><circle cx="1905.4" cy="791.3" r="7.8" fill="#333" opacity="0.5" filter="url(#blur2)"/><circle cx="1904.4" cy="789.3" r="7.8" fill="#fff"/><polygon points="1950.2,769.6 1967.7,779.7 1967.7,799.9 1950.2,810 1932.7,799.9 1932.7,779.7" fill="#3c66a8" stroke="#3a3a3a" stroke-width="0.6"/><use href="#ccw" transform="translate(1950.2 789.8) scale(0.947)"/><polygon points="1451.8,804.4 1470.7,815.3 1470.7,837.2 1451.8,848.1 1432.9,837.2 1432.9,815.3" fill="#3c66a8" stroke="#3a3a3a" stroke-width="0.6"/><use href="#ccw" transform="translate(1451.8 826.3) scale(1.024)"/><polygon points="1501,805 1519.8,815.9 1519.8,837.5 1501,848.4 1482.2,837.5 1482.2,815.9" fill="#a33548" stroke="#3a3a3a" stroke-width="0.6"/><use href="#cw" transform="translate(1501 826.7) scale(1.017)"/><polygon points="1549.8,805.6 1568.4,816.4 1568.4,837.9 1549.8,848.6 1531.2,837.9 1531.2,816.4" fill="#aaaaaa" stroke="#6a6a6a" stroke-width="0.8"/><circle cx="1550.8" cy="829.1" r="8.3" fill="#333" opacity="0.5" filter="url(#blur2)"/><circle cx="1549.8" cy="827.1" r="8.3" fill="#fff"/><polygon points="1598.3,806.2 1616.8,816.9 1616.8,838.2 1598.3,848.9 1579.8,838.2 1579.8,816.9" fill="#3c66a8" stroke="#3a3a3a" stroke-width="0.6"/><use href="#ccw" transform="translate(1598.3 827.5) scale(1.002)"/><polygon points="1646.4,806.8 1664.7,817.4 1664.7,838.6 1646.4,849.2 1628,838.6 1628,817.4" fill="#a33548" stroke="#3a3a3a" stroke-width="0.6"/><use href="#cw" transform="translate(1646.4 828) scale(0.995)"/><polygon points="1694.1,807.3 1712.4,817.9 1712.4,838.9 1694.1,849.4 1675.9,838.9 1675.9,817.9" fill="#aaaaaa" stroke="#6a6a6a" stroke-width="0.8"/><circle cx="1695.1" cy="830.4" r="8.1" fill="#333" opacity="0.5" filter="url(#blur2)"/><circle cx="1694.1" cy="828.4" r="8.1" fill="#fff"/><polygon points="1741.5,807.9 1759.6,818.4 1759.6,839.2 1741.5,849.7 1723.5,839.2 1723.5,818.4" fill="#3c66a8" stroke="#3a3a3a" stroke-width="0.6"/><use href="#ccw" transform="translate(1741.5 828.8) scale(0.980)"/><polygon points="1788.6,808.5 1806.5,818.8 1806.5,839.6 1788.6,849.9 1770.7,839.6 1770.7,818.8" fill="#a33548" stroke="#3a3a3a" stroke-width="0.6"/><use href="#cw" transform="translate(1788.6 829.2) scale(0.973)"/><polygon points="1835.3,809 1853.1,819.3 1853.1,839.9 1835.3,850.2 1817.5,839.9 1817.5,819.3" fill="#aaaaaa" stroke="#6a6a6a" stroke-width="0.8"/><circle cx="1836.3" cy="831.6" r="7.9" fill="#333" opacity="0.5" filter="url(#blur2)"/><circle cx="1835.3" cy="829.6" r="7.9" fill="#fff"/><polygon points="1881.6,809.6 1899.3,819.8 1899.3,840.2 1881.6,850.4 1864,840.2 1864,819.8" fill="#3c66a8" stroke="#3a3a3a" stroke-width="0.6"/><use href="#ccw" transform="translate(1881.6 830) scale(0.958)"/><polygon points="1927.6,810.1 1945.2,820.2 1945.2,840.5 1927.6,850.6 1910.1,840.5 1910.1,820.2" fill="#a33548" stroke="#3a3a3a" stroke-width="0.6"/><use href="#cw" transform="translate(1927.6 830.4) scale(0.951)"/><polygon points="1427.5,846.5 1446.4,857.4 1446.4,879.3 1427.5,890.3 1408.5,879.3 1408.5,857.4" fill="#a33548" stroke="#3a3a3a" stroke-width="0.6"/><use href="#cw" transform="translate(1427.5 868.4) scale(1.028)"/><polygon points="1476.8,847 1495.6,857.8 1495.6,879.6 1476.8,890.4 1458,879.6 1458,857.8" fill="#aaaaaa" stroke="#6a6a6a" stroke-width="0.8"/><circle cx="1477.8" cy="870.7" r="8.4" fill="#333" opacity="0.5" filter="url(#blur2)"/><circle cx="1476.8" cy="868.7" r="8.4" fill="#fff"/><polygon points="1525.8,847.4 1544.5,858.2 1544.5,879.8 1525.8,890.6 1507.1,879.8 1507.1,858.2" fill="#3c66a8" stroke="#3a3a3a" stroke-width="0.6"/><use href="#ccw" transform="translate(1525.8 869) scale(1.013)"/><polygon points="1574.4,847.8 1593,858.5 1593,880 1574.4,890.7 1555.9,880 1555.9,858.5" fill="#a33548" stroke="#3a3a3a" stroke-width="0.6"/><use href="#cw" transform="translate(1574.4 869.3) scale(1.006)"/><polygon points="1622.7,848.3 1641.1,858.9 1641.1,880.2 1622.7,890.8 1604.3,880.2 1604.3,858.9" fill="#aaaaaa" stroke="#6a6a6a" stroke-width="0.8"/><circle cx="1623.7" cy="871.5" r="8.2" fill="#333" opacity="0.5" filter="url(#blur2)"/><circle cx="1622.7" cy="869.5" r="8.2" fill="#fff"/><polygon points="1670.6,848.7 1688.9,859.2 1688.9,880.4 1670.6,890.9 1652.4,880.4 1652.4,859.2" fill="#3c66a8" stroke="#3a3a3a" stroke-width="0.6"/><use href="#ccw" transform="translate(1670.6 869.8) scale(0.991)"/><polygon points="1718.2,849.1 1736.4,859.6 1736.4,880.5 1718.2,891 1700.1,880.5 1700.1,859.6" fill="#a33548" stroke="#3a3a3a" stroke-width="0.6"/><use href="#cw" transform="translate(1718.2 870.1) scale(0.984)"/><polygon points="1765.4,849.5 1783.4,859.9 1783.4,880.7 1765.4,891.1 1747.4,880.7 1747.4,859.9" fill="#aaaaaa" stroke="#6a6a6a" stroke-width="0.8"/><circle cx="1766.4" cy="872.3" r="8" fill="#333" opacity="0.5" filter="url(#blur2)"/><circle cx="1765.4" cy="870.3" r="8" fill="#fff"/><polygon points="1812.3,849.9 1830.2,860.3 1830.2,880.9 1812.3,891.2 1794.4,880.9 1794.4,860.3" fill="#3c66a8" stroke="#3a3a3a" stroke-width="0.6"/><use href="#ccw" transform="translate(1812.3 870.6) scale(0.969)"/><polygon points="1858.8,850.3 1876.6,860.6 1876.6,881.1 1858.8,891.3 1841.1,881.1 1841.1,860.6" fill="#a33548" stroke="#3a3a3a" stroke-width="0.6"/><use href="#cw" transform="translate(1858.8 870.8) scale(0.962)"/><polygon points="1905,850.7 1922.6,860.9 1922.6,881.2 1905,891.4 1887.4,881.2 1887.4,860.9" fill="#aaaaaa" stroke="#6a6a6a" stroke-width="0.8"/><circle cx="1906" cy="873.1" r="7.8" fill="#333" opacity="0.5" filter="url(#blur2)"/><circle cx="1905" cy="871.1" r="7.8" fill="#fff"/><polygon points="1950.8,851.1 1968.3,861.2 1968.3,881.4 1950.8,891.5 1933.3,881.4 1933.3,861.2" fill="#3c66a8" stroke="#3a3a3a" stroke-width="0.6"/><use href="#ccw" transform="translate(1950.8 871.3) scale(0.947)"/><polygon points="1452.5,889 1471.4,899.9 1471.4,921.7 1452.5,932.6 1433.6,921.7 1433.6,899.9" fill="#3c66a8" stroke="#3a3a3a" stroke-width="0.6"/><use href="#ccw" transform="translate(1452.5 910.8) scale(1.024)"/><polygon points="1501.7,889.3 1520.4,900.1 1520.4,921.8 1501.7,932.6 1482.9,921.8 1482.9,900.1" fill="#a33548" stroke="#3a3a3a" stroke-width="0.6"/><use href="#cw" transform="translate(1501.7 911) scale(1.017)"/><polygon points="1550.5,889.6 1569.1,900.4 1569.1,921.9 1550.5,932.6 1531.9,921.9 1531.9,900.4" fill="#aaaaaa" stroke="#6a6a6a" stroke-width="0.8"/><circle cx="1551.5" cy="913.1" r="8.3" fill="#333" opacity="0.5" filter="url(#blur2)"/><circle cx="1550.5" cy="911.1" r="8.3" fill="#fff"/><polygon points="1598.9,889.9 1617.4,900.6 1617.4,921.9 1598.9,932.6 1580.5,921.9 1580.5,900.6" fill="#3c66a8" stroke="#3a3a3a" stroke-width="0.6"/><use href="#ccw" transform="translate(1598.9 911.2) scale(1.002)"/><polygon points="1647,890.2 1665.4,900.8 1665.4,922 1647,932.6 1628.7,922 1628.7,900.8" fill="#a33548" stroke="#3a3a3a" stroke-width="0.6"/><use href="#cw" transform="translate(1647 911.4) scale(0.995)"/><polygon points="1694.8,890.5 1713,901 1713,922 1694.8,932.5 1676.6,922 1676.6,901" fill="#aaaaaa" stroke="#6a6a6a" stroke-width="0.8"/><circle cx="1695.8" cy="913.5" r="8.1" fill="#333" opacity="0.5" filter="url(#blur2)"/><circle cx="1694.8" cy="911.5" r="8.1" fill="#fff"/><polygon points="1742.2,890.7 1760.2,901.2 1760.2,922 1742.2,932.5 1724.1,922 1724.1,901.2" fill="#3c66a8" stroke="#3a3a3a" stroke-width="0.6"/><use href="#ccw" transform="translate(1742.2 911.6) scale(0.980)"/><polygon points="1789.2,891 1807.1,901.4 1807.1,922.1 1789.2,932.4 1771.3,922.1 1771.3,901.4" fill="#a33548" stroke="#3a3a3a" stroke-width="0.6"/><use href="#cw" transform="translate(1789.2 911.7) scale(0.973)"/><polygon points="1835.9,891.3 1853.7,901.5 1853.7,922.1 1835.9,932.4 1818.1,922.1 1818.1,901.5" fill="#aaaaaa" stroke="#6a6a6a" stroke-width="0.8"/><circle cx="1836.9" cy="913.8" r="7.9" fill="#333" opacity="0.5" filter="url(#blur2)"/><circle cx="1835.9" cy="911.8" r="7.9" fill="#fff"/><polygon points="1882.2,891.5 1899.9,901.7 1899.9,922.1 1882.2,932.3 1864.5,922.1 1864.5,901.7" fill="#3c66a8" stroke="#3a3a3a" stroke-width="0.6"/><use href="#ccw" transform="translate(1882.2 911.9) scale(0.958)"/><polygon points="1928.2,891.7 1945.7,901.9 1945.7,922.1 1928.2,932.2 1910.7,922.1 1910.7,901.9" fill="#a33548" stroke="#3a3a3a" stroke-width="0.6"/><use href="#cw" transform="translate(1928.2 912) scale(0.951)"/><polygon points="1428.2,931.2 1447.1,942.2 1447.1,964.1 1428.2,975 1409.2,964.1 1409.2,942.2" fill="#a33548" stroke="#3a3a3a" stroke-width="0.6"/><use href="#cw" transform="translate(1428.2 953.1) scale(1.028)"/><polygon points="1477.5,931.4 1496.3,942.3 1496.3,964 1477.5,974.9 1458.7,964 1458.7,942.3" fill="#aaaaaa" stroke="#6a6a6a" stroke-width="0.8"/><circle cx="1478.5" cy="955.1" r="8.4" fill="#333" opacity="0.5" filter="url(#blur2)"/><circle cx="1477.5" cy="953.1" r="8.4" fill="#fff"/><polygon points="1526.4,931.5 1545.1,942.3 1545.1,963.9 1526.4,974.7 1507.8,963.9 1507.8,942.3" fill="#3c66a8" stroke="#3a3a3a" stroke-width="0.6"/><use href="#ccw" transform="translate(1526.4 953.1) scale(1.013)"/><polygon points="1575.1,931.7 1593.6,942.4 1593.6,963.8 1575.1,974.5 1556.5,963.8 1556.5,942.4" fill="#a33548" stroke="#3a3a3a" stroke-width="0.6"/><use href="#cw" transform="translate(1575.1 953.1) scale(1.005)"/><polygon points="1623.3,931.8 1641.7,942.5 1641.7,963.7 1623.3,974.3 1604.9,963.7 1604.9,942.5" fill="#aaaaaa" stroke="#6a6a6a" stroke-width="0.8"/><circle cx="1624.3" cy="955.1" r="8.2" fill="#333" opacity="0.5" filter="url(#blur2)"/><circle cx="1623.3" cy="953.1" r="8.2" fill="#fff"/><polygon points="1671.2,932 1689.5,942.5 1689.5,963.6 1671.2,974.2 1653,963.6 1653,942.5" fill="#3c66a8" stroke="#3a3a3a" stroke-width="0.6"/><use href="#ccw" transform="translate(1671.2 953.1) scale(0.991)"/><polygon points="1718.8,932.1 1736.9,942.6 1736.9,963.5 1718.8,974 1700.7,963.5 1700.7,942.6" fill="#a33548" stroke="#3a3a3a" stroke-width="0.6"/><use href="#cw" transform="translate(1718.8 953) scale(0.983)"/><polygon points="1766,932.2 1784,942.6 1784,963.4 1766,973.8 1748,963.4 1748,942.6" fill="#aaaaaa" stroke="#6a6a6a" stroke-width="0.8"/><circle cx="1767" cy="955" r="8" fill="#333" opacity="0.5" filter="url(#blur2)"/><circle cx="1766" cy="953" r="8" fill="#fff"/><polygon points="1812.8,932.3 1830.7,942.6 1830.7,963.3 1812.8,973.6 1795,963.3 1795,942.6" fill="#3c66a8" stroke="#3a3a3a" stroke-width="0.6"/><use href="#ccw" transform="translate(1812.8 952.9) scale(0.969)"/><polygon points="1859.3,932.4 1877.1,942.7 1877.1,963.1 1859.3,973.4 1841.6,963.1 1841.6,942.7" fill="#a33548" stroke="#3a3a3a" stroke-width="0.6"/><use href="#cw" transform="translate(1859.3 952.9) scale(0.961)"/><polygon points="1905.5,932.5 1923.1,942.7 1923.1,963 1905.5,973.2 1887.9,963 1887.9,942.7" fill="#aaaaaa" stroke="#6a6a6a" stroke-width="0.8"/><circle cx="1906.5" cy="954.8" r="7.8" fill="#333" opacity="0.5" filter="url(#blur2)"/><circle cx="1905.5" cy="952.8" r="7.8" fill="#fff"/><polygon points="1951.3,932.6 1968.7,942.7 1968.7,962.9 1951.3,972.9 1933.8,962.9 1933.8,942.7" fill="#3c66a8" stroke="#3a3a3a" stroke-width="0.6"/><use href="#ccw" transform="translate(1951.3 952.8) scale(0.947)"/><polygon points="1453.2,973.6 1472,984.5 1472,1006.3 1453.2,1017.2 1434.3,1006.3 1434.3,984.5" fill="#3c66a8" stroke="#3a3a3a" stroke-width="0.6"/><use href="#ccw" transform="translate(1453.2 995.4) scale(1.024)"/><polygon points="1502.3,973.6 1521,984.4 1521,1006.1 1502.3,1016.9 1483.6,1006.1 1483.6,984.4" fill="#a33548" stroke="#3a3a3a" stroke-width="0.6"/><use href="#cw" transform="translate(1502.3 995.3) scale(1.016)"/><polygon points="1551.1,973.6 1569.7,984.4 1569.7,1005.9 1551.1,1016.6 1532.5,1005.9 1532.5,984.4" fill="#aaaaaa" stroke="#6a6a6a" stroke-width="0.8"/><circle cx="1552.1" cy="997.1" r="8.3" fill="#333" opacity="0.5" filter="url(#blur2)"/><circle cx="1551.1" cy="995.1" r="8.3" fill="#fff"/><polygon points="1599.5,973.6 1618,984.3 1618,1005.6 1599.5,1016.3 1581,1005.6 1581,984.3" fill="#3c66a8" stroke="#3a3a3a" stroke-width="0.6"/><use href="#ccw" transform="translate(1599.5 994.9) scale(1.002)"/><polygon points="1647.6,973.6 1665.9,984.2 1665.9,1005.4 1647.6,1016 1629.3,1005.4 1629.3,984.2" fill="#a33548" stroke="#3a3a3a" stroke-width="0.6"/><use href="#cw" transform="translate(1647.6 994.8) scale(0.994)"/><polygon points="1695.3,973.6 1713.5,984.1 1713.5,1005.1 1695.3,1015.6 1677.1,1005.1 1677.1,984.1" fill="#aaaaaa" stroke="#6a6a6a" stroke-width="0.8"/><circle cx="1696.3" cy="996.6" r="8.1" fill="#333" opacity="0.5" filter="url(#blur2)"/><circle cx="1695.3" cy="994.6" r="8.1" fill="#fff"/><polygon points="1742.7,973.5 1760.8,984 1760.8,1004.8 1742.7,1015.3 1724.6,1004.8 1724.6,984" fill="#3c66a8" stroke="#3a3a3a" stroke-width="0.6"/><use href="#ccw" transform="translate(1742.7 994.4) scale(0.980)"/><polygon points="1789.7,973.5 1807.6,983.9 1807.6,1004.6 1789.7,1014.9 1771.8,1004.6 1771.8,983.9" fill="#a33548" stroke="#3a3a3a" stroke-width="0.6"/><use href="#cw" transform="translate(1789.7 994.2) scale(0.972)"/><polygon points="1836.4,973.5 1854.2,983.8 1854.2,1004.3 1836.4,1014.6 1818.6,1004.3 1818.6,983.8" fill="#aaaaaa" stroke="#6a6a6a" stroke-width="0.8"/><circle cx="1837.4" cy="996" r="7.9" fill="#333" opacity="0.5" filter="url(#blur2)"/><circle cx="1836.4" cy="994" r="7.9" fill="#fff"/><polygon points="1882.7,973.4 1900.4,983.6 1900.4,1004 1882.7,1014.2 1865,1004 1865,983.6" fill="#3c66a8" stroke="#3a3a3a" stroke-width="0.6"/><use href="#ccw" transform="translate(1882.7 993.8) scale(0.958)"/><polygon points="1928.7,973.4 1946.2,983.5 1946.2,1003.7 1928.7,1013.9 1911.1,1003.7 1911.1,983.5" fill="#a33548" stroke="#3a3a3a" stroke-width="0.6"/><use href="#cw" transform="translate(1928.7 993.6) scale(0.950)"/><polygon points="1428.7,1016 1447.7,1026.9 1447.7,1048.8 1428.7,1059.7 1409.8,1048.8 1409.8,1026.9" fill="#a33548" stroke="#3a3a3a" stroke-width="0.6"/><use href="#cw" transform="translate(1428.7 1037.9) scale(1.027)"/><polygon points="1478.1,1015.8 1496.9,1026.7 1496.9,1048.4 1478.1,1059.3 1459.2,1048.4 1459.2,1026.7" fill="#aaaaaa" stroke="#6a6a6a" stroke-width="0.8"/><circle cx="1479.1" cy="1039.6" r="8.4" fill="#333" opacity="0.5" filter="url(#blur2)"/><circle cx="1478.1" cy="1037.6" r="8.4" fill="#fff"/><polygon points="1527,1015.7 1545.7,1026.5 1545.7,1048 1527,1058.8 1508.3,1048 1508.3,1026.5" fill="#3c66a8" stroke="#3a3a3a" stroke-width="0.6"/><use href="#ccw" transform="translate(1527 1037.3) scale(1.013)"/><polygon points="1575.6,1015.5 1594.1,1026.2 1594.1,1047.7 1575.6,1058.4 1557.1,1047.7 1557.1,1026.2" fill="#a33548" stroke="#3a3a3a" stroke-width="0.6"/><use href="#cw" transform="translate(1575.6 1036.9) scale(1.005)"/><polygon points="1623.9,1015.4 1642.3,1026 1642.3,1047.3 1623.9,1057.9 1605.4,1047.3 1605.4,1026" fill="#aaaaaa" stroke="#6a6a6a" stroke-width="0.8"/><circle cx="1624.9" cy="1038.6" r="8.2" fill="#333" opacity="0.5" filter="url(#blur2)"/><circle cx="1623.9" cy="1036.6" r="8.2" fill="#fff"/><polygon points="1671.7,1015.2 1690,1025.8 1690,1046.9 1671.7,1057.4 1653.5,1046.9 1653.5,1025.8" fill="#3c66a8" stroke="#3a3a3a" stroke-width="0.6"/><use href="#ccw" transform="translate(1671.7 1036.3) scale(0.990)"/><polygon points="1719.3,1015 1737.4,1025.5 1737.4,1046.5 1719.3,1056.9 1701.2,1046.5 1701.2,1025.5" fill="#a33548" stroke="#3a3a3a" stroke-width="0.6"/><use href="#cw" transform="translate(1719.3 1036) scale(0.983)"/><polygon points="1766.5,1014.9 1784.5,1025.3 1784.5,1046 1766.5,1056.4 1748.5,1046 1748.5,1025.3" fill="#aaaaaa" stroke="#6a6a6a" stroke-width="0.8"/><circle cx="1767.5" cy="1037.7" r="8" fill="#333" opacity="0.5" filter="url(#blur2)"/><circle cx="1766.5" cy="1035.7" r="8" fill="#fff"/><polygon points="1813.3,1014.7 1831.2,1025 1831.2,1045.6 1813.3,1055.9 1795.5,1045.6 1795.5,1025" fill="#3c66a8" stroke="#3a3a3a" stroke-width="0.6"/><use href="#ccw" transform="translate(1813.3 1035.3) scale(0.968)"/><polygon points="1859.8,1014.5 1877.5,1024.7 1877.5,1045.2 1859.8,1055.4 1842.1,1045.2 1842.1,1024.7" fill="#a33548" stroke="#3a3a3a" stroke-width="0.6"/><use href="#cw" transform="translate(1859.8 1035) scale(0.961)"/><polygon points="1905.9,1014.3 1923.5,1024.5 1923.5,1044.8 1905.9,1054.9 1888.3,1044.8 1888.3,1024.5" fill="#aaaaaa" stroke="#6a6a6a" stroke-width="0.8"/><circle cx="1906.9" cy="1036.6" r="7.8" fill="#333" opacity="0.5" filter="url(#blur2)"/><circle cx="1905.9" cy="1034.6" r="7.8" fill="#fff"/><polygon points="1951.7,1014.1 1969.2,1024.2 1969.2,1044.3 1951.7,1054.4 1934.3,1044.3 1934.3,1024.2" fill="#3c66a8" stroke="#3a3a3a" stroke-width="0.6"/><use href="#ccw" transform="translate(1951.7 1034.3) scale(0.946)"/><polygon points="1453.7,1058.2 1472.6,1069.1 1472.6,1090.9 1453.7,1101.8 1434.8,1090.9 1434.8,1069.1" fill="#3c66a8" stroke="#3a3a3a" stroke-width="0.6"/><use href="#ccw" transform="translate(1453.7 1080) scale(1.023)"/><polygon points="1502.8,1057.9 1521.6,1068.7 1521.6,1090.4 1502.8,1101.2 1484.1,1090.4 1484.1,1068.7" fill="#a33548" stroke="#3a3a3a" stroke-width="0.6"/><use href="#cw" transform="translate(1502.8 1079.6) scale(1.016)"/><polygon points="1551.6,1057.6 1570.2,1068.4 1570.2,1089.8 1551.6,1100.6 1533,1089.8 1533,1068.4" fill="#aaaaaa" stroke="#6a6a6a" stroke-width="0.8"/><circle cx="1552.6" cy="1081.1" r="8.3" fill="#333" opacity="0.5" filter="url(#blur2)"/><circle cx="1551.6" cy="1079.1" r="8.3" fill="#fff"/><polygon points="1600,1057.3 1618.5,1068 1618.5,1089.3 1600,1100 1581.5,1089.3 1581.5,1068" fill="#3c66a8" stroke="#3a3a3a" stroke-width="0.6"/><use href="#ccw" transform="translate(1600 1078.6) scale(1.001)"/><polygon points="1648.1,1057 1666.4,1067.6 1666.4,1088.8 1648.1,1099.4 1629.7,1088.8 1629.7,1067.6" fill="#a33548" stroke="#3a3a3a" stroke-width="0.6"/><use href="#cw" transform="translate(1648.1 1078.2) scale(0.994)"/><polygon points="1695.8,1056.7 1714,1067.2 1714,1088.2 1695.8,1098.7 1677.6,1088.2 1677.6,1067.2" fill="#aaaaaa" stroke="#6a6a6a" stroke-width="0.8"/><circle cx="1696.8" cy="1079.7" r="8.1" fill="#333" opacity="0.5" filter="url(#blur2)"/><circle cx="1695.8" cy="1077.7" r="8.1" fill="#fff"/><polygon points="1743.1,1056.4 1761.2,1066.8 1761.2,1087.7 1743.1,1098.1 1725.1,1087.7 1725.1,1066.8" fill="#3c66a8" stroke="#3a3a3a" stroke-width="0.6"/><use href="#ccw" transform="translate(1743.1 1077.2) scale(0.979)"/><polygon points="1790.2,1056 1808.1,1066.4 1808.1,1087.1 1790.2,1097.4 1772.2,1087.1 1772.2,1066.4" fill="#a33548" stroke="#3a3a3a" stroke-width="0.6"/><use href="#cw" transform="translate(1790.2 1076.7) scale(0.972)"/><polygon points="1836.8,1055.7 1854.6,1066 1854.6,1086.5 1836.8,1096.8 1819,1086.5 1819,1066" fill="#aaaaaa" stroke="#6a6a6a" stroke-width="0.8"/><circle cx="1837.8" cy="1078.3" r="7.9" fill="#333" opacity="0.5" filter="url(#blur2)"/><circle cx="1836.8" cy="1076.3" r="7.9" fill="#fff"/><polygon points="1883.1,1055.4 1900.8,1065.6 1900.8,1086 1883.1,1096.2 1865.4,1086 1865.4,1065.6" fill="#3c66a8" stroke="#3a3a3a" stroke-width="0.6"/><use href="#ccw" transform="translate(1883.1 1075.8) scale(0.957)"/><polygon points="1929,1055 1946.6,1065.1 1946.6,1085.4 1929,1095.5 1911.5,1085.4 1911.5,1065.1" fill="#a33548" stroke="#3a3a3a" stroke-width="0.6"/><use href="#cw" transform="translate(1929 1075.3) scale(0.950)"/><polygon points="1429.3,1100.7 1448.2,1111.7 1448.2,1133.5 1429.3,1144.5 1410.3,1133.5 1410.3,1111.7" fill="#a33548" stroke="#3a3a3a" stroke-width="0.6"/><use href="#cw" transform="translate(1429.3 1122.6) scale(1.027)"/><polygon points="1478.6,1100.3 1497.4,1111.1 1497.4,1132.9 1478.6,1143.7 1459.7,1132.9 1459.7,1111.1" fill="#aaaaaa" stroke="#6a6a6a" stroke-width="0.8"/><circle cx="1479.6" cy="1124" r="8.4" fill="#333" opacity="0.5" filter="url(#blur2)"/><circle cx="1478.6" cy="1122" r="8.4" fill="#fff"/><polygon points="1527.5,1099.8 1546.2,1110.6 1546.2,1132.2 1527.5,1143 1508.8,1132.2 1508.8,1110.6" fill="#3c66a8" stroke="#3a3a3a" stroke-width="0.6"/><use href="#ccw" transform="translate(1527.5 1121.4) scale(1.012)"/><polygon points="1576.1,1099.4 1594.6,1110.1 1594.6,1131.5 1576.1,1142.2 1557.5,1131.5 1557.5,1110.1" fill="#a33548" stroke="#3a3a3a" stroke-width="0.6"/><use href="#cw" transform="translate(1576.1 1120.8) scale(1.005)"/><polygon points="1624.3,1098.9 1642.7,1109.6 1642.7,1130.8 1624.3,1141.4 1605.9,1130.8 1605.9,1109.6" fill="#aaaaaa" stroke="#6a6a6a" stroke-width="0.8"/><circle cx="1625.3" cy="1122.2" r="8.2" fill="#333" opacity="0.5" filter="url(#blur2)"/><circle cx="1624.3" cy="1120.2" r="8.2" fill="#fff"/><polygon points="1672.2,1098.5 1690.5,1109 1690.5,1130.1 1672.2,1140.7 1653.9,1130.1 1653.9,1109" fill="#3c66a8" stroke="#3a3a3a" stroke-width="0.6"/><use href="#ccw" transform="translate(1672.2 1119.6) scale(0.990)"/><polygon points="1719.7,1098 1737.8,1108.5 1737.8,1129.4 1719.7,1139.9 1701.6,1129.4 1701.6,1108.5" fill="#a33548" stroke="#3a3a3a" stroke-width="0.6"/><use href="#cw" transform="translate(1719.7 1119) scale(0.983)"/><polygon points="1766.9,1097.5 1784.9,1107.9 1784.9,1128.7 1766.9,1139.1 1748.9,1128.7 1748.9,1107.9" fill="#aaaaaa" stroke="#6a6a6a" stroke-width="0.8"/><circle cx="1767.9" cy="1120.3" r="8" fill="#333" opacity="0.5" filter="url(#blur2)"/><circle cx="1766.9" cy="1118.3" r="8" fill="#fff"/><polygon points="1813.7,1097.1 1831.6,1107.4 1831.6,1128 1813.7,1138.3 1795.8,1128 1795.8,1107.4" fill="#3c66a8" stroke="#3a3a3a" stroke-width="0.6"/><use href="#ccw" transform="translate(1813.7 1117.7) scale(0.968)"/><polygon points="1860.2,1096.6 1877.9,1106.8 1877.9,1127.3 1860.2,1137.5 1842.4,1127.3 1842.4,1106.8" fill="#a33548" stroke="#3a3a3a" stroke-width="0.6"/><use href="#cw" transform="translate(1860.2 1117) scale(0.961)"/><polygon points="1906.3,1096.1 1923.9,1106.2 1923.9,1126.6 1906.3,1136.7 1888.7,1126.6 1888.7,1106.2" fill="#aaaaaa" stroke="#6a6a6a" stroke-width="0.8"/><circle cx="1907.3" cy="1118.4" r="7.8" fill="#333" opacity="0.5" filter="url(#blur2)"/><circle cx="1906.3" cy="1116.4" r="7.8" fill="#fff"/><polygon points="1952,1095.6 1969.5,1105.7 1969.5,1125.8 1952,1135.9 1934.6,1125.8 1934.6,1105.7" fill="#3c66a8" stroke="#3a3a3a" stroke-width="0.6"/><use href="#ccw" transform="translate(1952 1115.8) scale(0.946)"/><polygon points="1454.2,1142.8 1473,1153.7 1473,1175.5 1454.2,1186.4 1435.3,1175.5 1435.3,1153.7" fill="#3c66a8" stroke="#3a3a3a" stroke-width="0.6"/><use href="#ccw" transform="translate(1454.2 1164.6) scale(1.023)"/><polygon points="1503.3,1142.2 1522,1153 1522,1174.7 1503.3,1185.5 1484.5,1174.7 1484.5,1153" fill="#a33548" stroke="#3a3a3a" stroke-width="0.6"/><use href="#cw" transform="translate(1503.3 1163.8) scale(1.016)"/><polygon points="1552,1141.6 1570.6,1152.4 1570.6,1173.8 1552,1184.6 1533.4,1173.8 1533.4,1152.4" fill="#aaaaaa" stroke="#6a6a6a" stroke-width="0.8"/><circle cx="1553" cy="1165.1" r="8.3" fill="#333" opacity="0.5" filter="url(#blur2)"/><circle cx="1552" cy="1163.1" r="8.3" fill="#fff"/><polygon points="1600.4,1141 1618.9,1151.7 1618.9,1173 1600.4,1183.7 1582,1173 1582,1151.7" fill="#3c66a8" stroke="#3a3a3a" stroke-width="0.6"/><use href="#ccw" transform="translate(1600.4 1162.3) scale(1.001)"/><polygon points="1648.5,1140.4 1666.8,1151 1666.8,1172.2 1648.5,1182.8 1630.1,1172.2 1630.1,1151" fill="#a33548" stroke="#3a3a3a" stroke-width="0.6"/><use href="#cw" transform="translate(1648.5 1161.6) scale(0.994)"/><polygon points="1696.2,1139.8 1714.4,1150.3 1714.4,1171.3 1696.2,1181.8 1678,1171.3 1678,1150.3" fill="#aaaaaa" stroke="#6a6a6a" stroke-width="0.8"/><circle cx="1697.2" cy="1162.8" r="8.1" fill="#333" opacity="0.5" filter="url(#blur2)"/><circle cx="1696.2" cy="1160.8" r="8.1" fill="#fff"/><polygon points="1743.5,1139.2 1761.6,1149.6 1761.6,1170.5 1743.5,1180.9 1725.5,1170.5 1725.5,1149.6" fill="#3c66a8" stroke="#3a3a3a" stroke-width="0.6"/><use href="#ccw" transform="translate(1743.5 1160) scale(0.979)"/><polygon points="1790.5,1138.6 1808.4,1148.9 1808.4,1169.6 1790.5,1180 1772.6,1169.6 1772.6,1148.9" fill="#a33548" stroke="#3a3a3a" stroke-width="0.6"/><use href="#cw" transform="translate(1790.5 1159.3) scale(0.972)"/><polygon points="1837.1,1137.9 1854.9,1148.2 1854.9,1168.8 1837.1,1179 1819.4,1168.8 1819.4,1148.2" fill="#aaaaaa" stroke="#6a6a6a" stroke-width="0.8"/><circle cx="1838.1" cy="1160.5" r="7.9" fill="#333" opacity="0.5" filter="url(#blur2)"/><circle cx="1837.1" cy="1158.5" r="7.9" fill="#fff"/><polygon points="1883.4,1137.3 1901.1,1147.5 1901.1,1167.9 1883.4,1178.1 1865.8,1167.9 1865.8,1147.5" fill="#3c66a8" stroke="#3a3a3a" stroke-width="0.6"/><use href="#ccw" transform="translate(1883.4 1157.7) scale(0.957)"/><polygon points="1929.4,1136.7 1946.9,1146.8 1946.9,1167 1929.4,1177.1 1911.8,1167 1911.8,1146.8" fill="#a33548" stroke="#3a3a3a" stroke-width="0.6"/><use href="#cw" transform="translate(1929.4 1156.9) scale(0.950)"/><polygon points="1429.7,1185.5 1448.6,1196.4 1448.6,1218.3 1429.7,1229.2 1410.8,1218.3 1410.8,1196.4" fill="#a33548" stroke="#3a3a3a" stroke-width="0.6"/><use href="#cw" transform="translate(1429.7 1207.3) scale(1.027)"/><polygon points="1479,1184.7 1497.8,1195.6 1497.8,1217.3 1479,1228.2 1460.2,1217.3 1460.2,1195.6" fill="#3c66a8" stroke="#3a3a3a" stroke-width="0.6"/><use href="#ccw" transform="translate(1479 1206.4) scale(1.019)"/><polygon points="1527.9,1184 1546.6,1194.8 1546.6,1216.3 1527.9,1227.1 1509.2,1216.3 1509.2,1194.8" fill="#3c66a8" stroke="#3a3a3a" stroke-width="0.6"/><use href="#ccw" transform="translate(1527.9 1205.5) scale(1.012)"/><polygon points="1576.5,1183.2 1595,1193.9 1595,1215.3 1576.5,1226 1557.9,1215.3 1557.9,1193.9" fill="#a33548" stroke="#3a3a3a" stroke-width="0.6"/><use href="#cw" transform="translate(1576.5 1204.6) scale(1.005)"/><polygon points="1624.7,1182.5 1643.1,1193.1 1643.1,1214.4 1624.7,1225 1606.3,1214.4 1606.3,1193.1" fill="#aaaaaa" stroke="#6a6a6a" stroke-width="0.8"/><circle cx="1625.7" cy="1205.7" r="8.2" fill="#333" opacity="0.5" filter="url(#blur2)"/><circle cx="1624.7" cy="1203.7" r="8.2" fill="#fff"/><polygon points="1672.5,1181.7 1690.8,1192.3 1690.8,1213.4 1672.5,1223.9 1654.3,1213.4 1654.3,1192.3" fill="#3c66a8" stroke="#3a3a3a" stroke-width="0.6"/><use href="#ccw" transform="translate(1672.5 1202.8) scale(0.990)"/><polygon points="1720.1,1181 1738.2,1191.4 1738.2,1212.4 1720.1,1222.8 1701.9,1212.4 1701.9,1191.4" fill="#a33548" stroke="#3a3a3a" stroke-width="0.6"/><use href="#cw" transform="translate(1720.1 1201.9) scale(0.983)"/><polygon points="1767.2,1180.2 1785.2,1190.6 1785.2,1211.4 1767.2,1221.8 1749.2,1211.4 1749.2,1190.6" fill="#aaaaaa" stroke="#6a6a6a" stroke-width="0.8"/><circle cx="1768.2" cy="1203" r="8" fill="#333" opacity="0.5" filter="url(#blur2)"/><circle cx="1767.2" cy="1201" r="8" fill="#fff"/><polygon points="1814,1179.4 1831.9,1189.8 1831.9,1210.4 1814,1220.7 1796.2,1210.4 1796.2,1189.8" fill="#3c66a8" stroke="#3a3a3a" stroke-width="0.6"/><use href="#ccw" transform="translate(1814 1200.1) scale(0.968)"/><polygon points="1860.5,1178.7 1878.2,1188.9 1878.2,1209.4 1860.5,1219.6 1842.7,1209.4 1842.7,1188.9" fill="#a33548" stroke="#3a3a3a" stroke-width="0.6"/><use href="#cw" transform="translate(1860.5 1199.1) scale(0.961)"/><polygon points="1906.6,1177.9 1924.1,1188 1924.1,1208.3 1906.6,1218.5 1889,1208.3 1889,1188" fill="#aaaaaa" stroke="#6a6a6a" stroke-width="0.8"/><circle cx="1907.6" cy="1200.2" r="7.8" fill="#333" opacity="0.5" filter="url(#blur2)"/><circle cx="1906.6" cy="1198.2" r="7.8" fill="#fff"/><polygon points="1952.3,1177.1 1969.8,1187.2 1969.8,1207.3 1952.3,1217.4 1934.9,1207.3 1934.9,1187.2" fill="#3c66a8" stroke="#3a3a3a" stroke-width="0.6"/><use href="#ccw" transform="translate(1952.3 1197.2) scale(0.946)"/></g><text x="1371.7" y="705.9" font-size="45" font-weight="bold">D</text></svg></body></html>
